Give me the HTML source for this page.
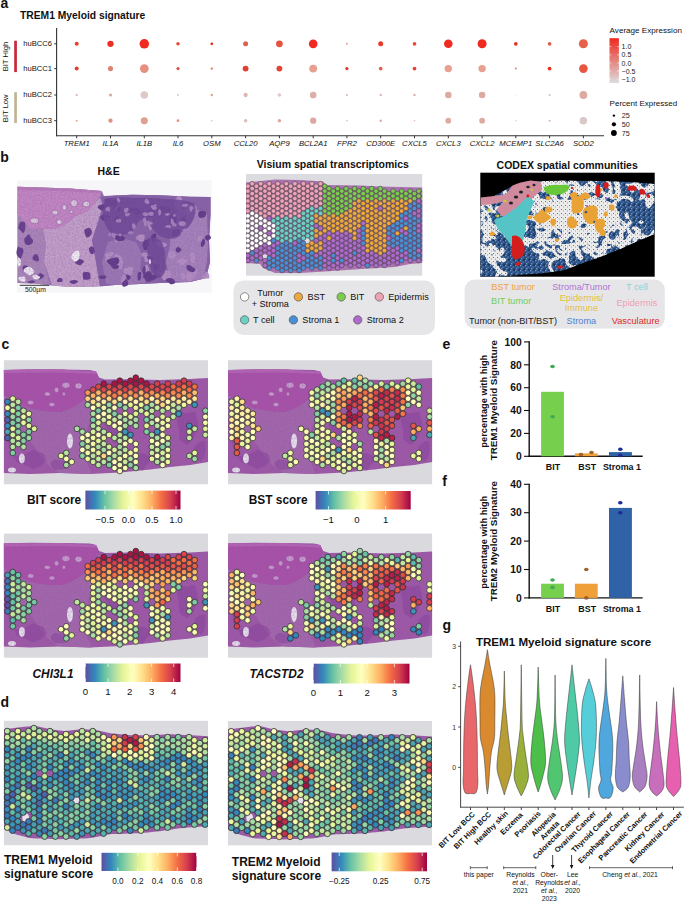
<!DOCTYPE html>
<html><head><meta charset="utf-8"><style>
html,body{margin:0;padding:0;background:#fff;}
svg{display:block;font-family:"Liberation Sans", sans-serif;}
</style></head><body>
<svg width="685" height="903" viewBox="0 0 685 903">
<defs><linearGradient id="avgexp" x1="0" y1="0" x2="0" y2="1"><stop offset="0" stop-color="#ee2a20"/><stop offset="1" stop-color="#dcdcdc"/></linearGradient><filter id="tex" x="0" y="0" width="1" height="1"><feTurbulence type="fractalNoise" baseFrequency="0.55" numOctaves="2" seed="4" result="n"/><feColorMatrix in="n" type="matrix" values="0 0 0 0 0.25  0 0 0 0 0.1  0 0 0 0 0.35  0 0 0 -1.6 1.05" result="c"/><feComposite in="c" in2="SourceGraphic" operator="in"/></filter><clipPath id="hetclip"><polygon points="17.6,186.8 40,187.5 70,188.5 101.6,191.1 104,196 115,195.5 132,194.8 160,195.2 190,196.8 210.5,197 210.5,215 209,240 210,262 206,278 190,282 160,283 135,284.3 115,285 95,286.5 70,287 52,285.5 35,283.5 17.6,283"/></clipPath><clipPath id="visclip"><rect x="246" y="174" width="176.2" height="101.7"/></clipPath><clipPath id="cdxclip"><rect x="480.3" y="172.7" width="174.4" height="104.0"/></clipPath><pattern id="bspk" width="5" height="5" patternUnits="userSpaceOnUse"><rect width="5" height="5" fill="#2c4f7f"/><rect x="0" y="0" width="1.3" height="1.3" fill="#6d9fde"/><rect x="2.5" y="1.5" width="1.2" height="1.2" fill="#5a8ccc"/><rect x="1" y="3.2" width="1.3" height="1.1" fill="#7aaae6"/><rect x="3.6" y="3.8" width="1" height="1" fill="#0c1830"/><rect x="3.5" y="0" width="1" height="1" fill="#12223e"/></pattern><pattern id="wspk" width="4" height="4" patternUnits="userSpaceOnUse"><rect width="4" height="4" fill="#ececec"/><rect x="1" y="1" width="0.9" height="0.9" fill="#555"/><rect x="3" y="2.6" width="0.8" height="0.8" fill="#777"/></pattern><clipPath id="tisc"><polygon points="480.3,206 490,198 500,193 512,186 525,182 545,181 570,180.8 600,181 630,182 654.7,184 654.7,234 640,240 620,249 600,257 580,264 565,270 545,273 520,275 500,276.7 480.3,276.7"/></clipPath><clipPath id="ctisclip"><polygon points="3.9,370 30,369.3 60,369.5 90,370 96,371.5 99,377.5 105,379.5 130,379.2 160,380 190,379 208,378 208,462 190,465 170,467 150,469.5 120,472.5 90,474 60,473 30,474 3.9,473"/></clipPath><g id="ctis"><rect x="3.9" y="360.2" width="204.1" height="124.1" fill="#dadade"/><polygon points="3.9,370 30,369.3 60,369.5 90,370 96,371.5 99,377.5 105,379.5 130,379.2 160,380 190,379 208,378 208,462 190,465 170,467 150,469.5 120,472.5 90,474 60,473 30,474 3.9,473" fill="#9d58a6"/><path d="M3.9,395 Q15,402 30.7,408.6 Q45,412 61,411.7 Q75,408 85.8,398 Q92,390 99,380 L104,392 Q96,405 90,420 Q84,440 86,460 Q90,470 92,474 L60,473 Q48,468 40,455 Q30,440 20,430 Q10,420 3.9,418 Z" fill="#a266ab"/><path d="M3.9,370 L60,369.5 L96,371.5 L99,378 Q92,392 85.8,398 Q75,408 61,411.7 Q45,412 30.7,408.6 Q15,402 3.9,395 Z" fill="#a851a8"/><path d="M3.9,370 L60,369.5 L96,371.5 L97.5,374 L60,372.5 L3.9,373 Z" fill="#b464b4"/><ellipse cx="30.7" cy="402.5" rx="3.2" ry="2.2" fill="#c89dcd" stroke="#984c9d" stroke-width="0.6"/><ellipse cx="47.3" cy="393.9" rx="3.0" ry="2.0" fill="#c89dcd" stroke="#984c9d" stroke-width="0.6"/><ellipse cx="51.9" cy="404.5" rx="3.0" ry="2.0" fill="#c89dcd" stroke="#984c9d" stroke-width="0.6"/><ellipse cx="56.6" cy="389.9" rx="2.3" ry="2.6" fill="#c89dcd" stroke="#984c9d" stroke-width="0.6"/><ellipse cx="63.9" cy="393.9" rx="1.7" ry="2.0" fill="#c89dcd" stroke="#984c9d" stroke-width="0.6"/><ellipse cx="65.9" cy="385.2" rx="4.0" ry="3.0" fill="#c89dcd" stroke="#984c9d" stroke-width="0.6"/><ellipse cx="78.5" cy="385.9" rx="3.6" ry="3.0" fill="#c89dcd" stroke="#984c9d" stroke-width="0.6"/><polygon points="130.7,430.0 132.1,440.2 122.7,445.1 113.1,441.9 109.5,433.8 104.1,424.2 111.5,415.3 122.5,416.1 130.8,421.0" fill="#86449a" opacity="0.55"/><polygon points="168.2,440.0 165.0,445.9 161.6,452.5 154.7,452.8 153.4,443.3 148.7,434.2 155.9,430.1 161.4,428.8 165.2,433.9" fill="#86449a" opacity="0.55"/><polygon points="198.5,425.0 193.9,437.0 187.2,444.9 179.6,440.0 178.7,428.7 176.7,420.2 180.0,411.2 186.3,413.5 195.1,411.5" fill="#86449a" opacity="0.55"/><polygon points="112.7,455.0 108.1,458.9 103.0,464.6 94.8,460.1 82.9,458.6 87.3,452.4 92.7,447.8 102.2,448.0 110.6,449.9" fill="#86449a" opacity="0.55"/><polygon points="149.4,462.0 146.2,465.0 142.6,470.7 135.1,466.9 126.5,464.9 131.0,460.1 132.0,453.9 142.7,453.2 150.8,456.7" fill="#86449a" opacity="0.55"/><polygon points="46.6,460.0 41.3,465.4 32.8,469.1 24.8,465.1 17.1,462.7 13.8,456.6 24.5,454.5 33.2,449.8 43.6,453.5" fill="#86449a" opacity="0.55"/><polygon points="205.6,450.0 204.2,457.0 201.0,461.4 197.2,459.6 192.4,455.5 194.8,446.2 198.0,443.0 200.7,441.5 205.3,441.1" fill="#86449a" opacity="0.55"/><polygon points="190.3,400.0 172.9,406.4 155.2,409.8 134.5,409.0 116.9,404.0 127.3,397.2 133.9,390.7 155.4,389.8 175.0,393.0" fill="#86449a" opacity="0.55"/><polygon points="21.2,440.0 19.7,444.9 16.2,448.8 9.8,451.2 8.3,443.1 7.0,436.3 11.5,432.5 16.0,432.9 19.3,435.5" fill="#86449a" opacity="0.55"/><polygon points="69.8,465.0 67.3,468.8 61.3,469.5 55.5,469.9 51.6,466.9 50.4,462.8 54.7,459.3 61.3,460.4 68.2,460.7" fill="#86449a" opacity="0.55"/><ellipse cx="21.9" cy="458.5" rx="3" ry="5" fill="#e6e0ea"/><ellipse cx="70" cy="441" rx="3" ry="7.5" fill="#e6e0ea"/><ellipse cx="12" cy="470" rx="4" ry="2.5" fill="#e6e0ea"/><rect x="3.9" y="369" width="204.1" height="106" fill="#000" filter="url(#tex)" opacity="0.4" clip-path="url(#ctisclip)"/></g><linearGradient id="g1" x1="0" y1="0" x2="1" y2="0"><stop offset="0.0" stop-color="#5e4fa2"/><stop offset="0.1" stop-color="#3288bd"/><stop offset="0.2" stop-color="#66c2a5"/><stop offset="0.3" stop-color="#abdda4"/><stop offset="0.4" stop-color="#e6f598"/><stop offset="0.5" stop-color="#ffffbf"/><stop offset="0.6" stop-color="#fee08b"/><stop offset="0.7" stop-color="#fdae61"/><stop offset="0.8" stop-color="#f46d43"/><stop offset="0.9" stop-color="#d53e4f"/><stop offset="1.0" stop-color="#9e0142"/></linearGradient><linearGradient id="g2" x1="0" y1="0" x2="1" y2="0"><stop offset="0.0" stop-color="#5e4fa2"/><stop offset="0.1" stop-color="#3288bd"/><stop offset="0.2" stop-color="#66c2a5"/><stop offset="0.3" stop-color="#abdda4"/><stop offset="0.4" stop-color="#e6f598"/><stop offset="0.5" stop-color="#ffffbf"/><stop offset="0.6" stop-color="#fee08b"/><stop offset="0.7" stop-color="#fdae61"/><stop offset="0.8" stop-color="#f46d43"/><stop offset="0.9" stop-color="#d53e4f"/><stop offset="1.0" stop-color="#9e0142"/></linearGradient><linearGradient id="g3" x1="0" y1="0" x2="1" y2="0"><stop offset="0.0" stop-color="#5e4fa2"/><stop offset="0.1" stop-color="#3288bd"/><stop offset="0.2" stop-color="#66c2a5"/><stop offset="0.3" stop-color="#abdda4"/><stop offset="0.4" stop-color="#e6f598"/><stop offset="0.5" stop-color="#ffffbf"/><stop offset="0.6" stop-color="#fee08b"/><stop offset="0.7" stop-color="#fdae61"/><stop offset="0.8" stop-color="#f46d43"/><stop offset="0.9" stop-color="#d53e4f"/><stop offset="1.0" stop-color="#9e0142"/></linearGradient><linearGradient id="g4" x1="0" y1="0" x2="1" y2="0"><stop offset="0.0" stop-color="#5e4fa2"/><stop offset="0.1" stop-color="#3288bd"/><stop offset="0.2" stop-color="#66c2a5"/><stop offset="0.3" stop-color="#abdda4"/><stop offset="0.4" stop-color="#e6f598"/><stop offset="0.5" stop-color="#ffffbf"/><stop offset="0.6" stop-color="#fee08b"/><stop offset="0.7" stop-color="#fdae61"/><stop offset="0.8" stop-color="#f46d43"/><stop offset="0.9" stop-color="#d53e4f"/><stop offset="1.0" stop-color="#9e0142"/></linearGradient><g id="dtis"><rect x="3.9" y="720.8" width="204.1" height="124.4" fill="#dbdbdf"/><polygon points="4.0,729.2 8.0,728.7 12.0,728.2 16.0,727.7 20.0,727.2 24.0,726.8 28.0,726.4 32.0,726.0 36.0,725.9 40.0,726.9 44.0,727.8 48.0,728.7 52.0,729.5 56.0,730.0 60.0,730.5 64.0,731.1 68.0,730.8 72.0,730.3 76.0,729.7 80.0,729.2 84.0,729.3 88.0,729.5 92.0,729.6 96.0,729.9 100.0,730.9 104.0,731.8 108.0,732.7 112.0,733.4 116.0,733.8 120.0,734.2 124.0,734.6 128.0,735.0 132.0,735.2 136.0,735.2 140.0,735.2 144.0,735.2 148.0,735.2 152.0,735.1 156.0,734.9 160.0,734.7 164.0,734.5 168.0,734.3 172.0,734.3 176.0,734.5 180.0,734.7 184.0,734.9 188.0,735.1 192.0,735.3 196.0,735.5 200.0,735.8 204.0,736.0 208.0,736.2 208.0,826.2 204.0,826.5 200.0,826.8 196.0,827.1 192.0,827.3 188.0,827.6 184.0,827.9 180.0,828.2 176.0,828.8 172.0,829.4 168.0,830.0 164.0,830.6 160.0,831.2 156.0,831.6 152.0,832.0 148.0,832.4 144.0,832.8 140.0,833.2 136.0,833.3 132.0,833.5 128.0,833.6 124.0,833.7 120.0,833.9 116.0,834.0 112.0,834.1 108.0,834.6 104.0,835.4 100.0,836.2 96.0,837.0 92.0,837.8 88.0,838.3 84.0,838.4 80.0,838.5 76.0,838.7 72.0,838.8 68.0,838.9 64.0,839.1 60.0,839.2 56.0,839.1 52.0,838.9 48.0,838.8 44.0,838.7 40.0,838.5 36.0,838.4 32.0,838.3 28.0,837.7 24.0,836.6 20.0,835.5 16.0,834.5 12.0,832.6 8.0,830.4 4.0,828.3" fill="#9a5aa6"/><ellipse cx="75.5" cy="800" rx="3.6" ry="4.8" fill="#e6e2ea"/><ellipse cx="25.7" cy="818" rx="3.4" ry="4.6" fill="#e6e2ea"/></g><linearGradient id="g5" x1="0" y1="0" x2="1" y2="0"><stop offset="0.0" stop-color="#5e4fa2"/><stop offset="0.1" stop-color="#3288bd"/><stop offset="0.2" stop-color="#66c2a5"/><stop offset="0.3" stop-color="#abdda4"/><stop offset="0.4" stop-color="#e6f598"/><stop offset="0.5" stop-color="#ffffbf"/><stop offset="0.6" stop-color="#fee08b"/><stop offset="0.7" stop-color="#fdae61"/><stop offset="0.8" stop-color="#f46d43"/><stop offset="0.9" stop-color="#d53e4f"/><stop offset="1.0" stop-color="#9e0142"/></linearGradient><linearGradient id="g6" x1="0" y1="0" x2="1" y2="0"><stop offset="0.0" stop-color="#5e4fa2"/><stop offset="0.1" stop-color="#3288bd"/><stop offset="0.2" stop-color="#66c2a5"/><stop offset="0.3" stop-color="#abdda4"/><stop offset="0.4" stop-color="#e6f598"/><stop offset="0.5" stop-color="#ffffbf"/><stop offset="0.6" stop-color="#fee08b"/><stop offset="0.7" stop-color="#fdae61"/><stop offset="0.8" stop-color="#f46d43"/><stop offset="0.9" stop-color="#d53e4f"/><stop offset="1.0" stop-color="#9e0142"/></linearGradient></defs>
<text x="0.6" y="8.2" font-size="14" font-weight="bold" fill="#111">a</text>
<text x="20.0" y="19.0" font-size="10.3" font-weight="bold" fill="#111">TREM1 Myeloid signature</text>
<circle cx="76.7" cy="43.8" r="2.00" fill="#e8402f"/>
<circle cx="110.5" cy="43.8" r="3.15" fill="#ec2f25"/>
<circle cx="144.3" cy="43.8" r="4.75" fill="#f02a20"/>
<circle cx="178.0" cy="43.8" r="1.75" fill="#e84a35"/>
<circle cx="211.8" cy="43.8" r="1.40" fill="#e03020"/>
<circle cx="245.6" cy="43.8" r="2.50" fill="#e06050"/>
<circle cx="279.4" cy="43.8" r="3.35" fill="#e85040"/>
<circle cx="313.2" cy="43.8" r="4.35" fill="#ef2a22"/>
<circle cx="346.9" cy="43.8" r="1.00" fill="#e8a090"/>
<circle cx="380.7" cy="43.8" r="2.50" fill="#e83a2a"/>
<circle cx="414.5" cy="43.8" r="1.85" fill="#e84a35"/>
<circle cx="448.3" cy="43.8" r="4.30" fill="#f02a20"/>
<circle cx="482.1" cy="43.8" r="4.50" fill="#ee2a20"/>
<circle cx="515.8" cy="43.8" r="1.85" fill="#e83020"/>
<circle cx="549.6" cy="43.8" r="1.85" fill="#e06050"/>
<circle cx="583.4" cy="43.8" r="4.50" fill="#e86048"/>
<circle cx="76.7" cy="68.6" r="2.00" fill="#e04030"/>
<circle cx="110.5" cy="68.6" r="2.55" fill="#e08070"/>
<circle cx="144.3" cy="68.6" r="4.35" fill="#e89080"/>
<circle cx="178.0" cy="68.6" r="1.60" fill="#e05040"/>
<circle cx="211.8" cy="68.6" r="1.20" fill="#e08070"/>
<circle cx="245.6" cy="68.6" r="2.95" fill="#e04030"/>
<circle cx="279.4" cy="68.6" r="2.95" fill="#e04530"/>
<circle cx="313.2" cy="68.6" r="3.95" fill="#e8a090"/>
<circle cx="346.9" cy="68.6" r="1.60" fill="#e83020"/>
<circle cx="380.7" cy="68.6" r="1.85" fill="#e06050"/>
<circle cx="414.5" cy="68.6" r="1.85" fill="#e84030"/>
<circle cx="448.3" cy="68.6" r="3.70" fill="#e8a090"/>
<circle cx="482.1" cy="68.6" r="3.70" fill="#e8a090"/>
<circle cx="515.8" cy="68.6" r="1.00" fill="#e08070"/>
<circle cx="549.6" cy="68.6" r="1.85" fill="#e83020"/>
<circle cx="583.4" cy="68.6" r="4.30" fill="#e85540"/>
<circle cx="76.7" cy="95.0" r="1.20" fill="#dcc0bc"/>
<circle cx="110.5" cy="95.0" r="1.60" fill="#dca8a0"/>
<circle cx="144.3" cy="95.0" r="3.75" fill="#dccac6"/>
<circle cx="178.0" cy="95.0" r="1.00" fill="#d8c8c4"/>
<circle cx="211.8" cy="95.0" r="1.20" fill="#e0a090"/>
<circle cx="245.6" cy="95.0" r="2.15" fill="#dcb8b0"/>
<circle cx="279.4" cy="95.0" r="1.75" fill="#dcc8c4"/>
<circle cx="313.2" cy="95.0" r="3.35" fill="#dcb0a8"/>
<circle cx="346.9" cy="95.0" r="1.00" fill="#dcb8b0"/>
<circle cx="380.7" cy="95.0" r="1.20" fill="#dcb8b0"/>
<circle cx="414.5" cy="95.0" r="1.20" fill="#dcb0a8"/>
<circle cx="448.3" cy="95.0" r="3.25" fill="#dcaaa0"/>
<circle cx="482.1" cy="95.0" r="3.25" fill="#dcaaa0"/>
<circle cx="515.8" cy="95.0" r="0.50" fill="#dddddd"/>
<circle cx="549.6" cy="95.0" r="1.00" fill="#dcb8b0"/>
<circle cx="583.4" cy="95.0" r="3.90" fill="#dcaaa0"/>
<circle cx="76.7" cy="120.7" r="1.00" fill="#e0a898"/>
<circle cx="110.5" cy="120.7" r="2.15" fill="#e09080"/>
<circle cx="144.3" cy="120.7" r="3.55" fill="#e0a090"/>
<circle cx="178.0" cy="120.7" r="1.40" fill="#e09585"/>
<circle cx="211.8" cy="120.7" r="0.80" fill="#e0b8b0"/>
<circle cx="245.6" cy="120.7" r="1.75" fill="#dcbcb4"/>
<circle cx="279.4" cy="120.7" r="1.75" fill="#dca8a0"/>
<circle cx="313.2" cy="120.7" r="3.15" fill="#dca8a0"/>
<circle cx="346.9" cy="120.7" r="0.80" fill="#dcb0a8"/>
<circle cx="380.7" cy="120.7" r="1.20" fill="#dcaaa0"/>
<circle cx="414.5" cy="120.7" r="0.80" fill="#dcb8b0"/>
<circle cx="448.3" cy="120.7" r="2.85" fill="#dcaaa0"/>
<circle cx="482.1" cy="120.7" r="2.85" fill="#dcaaa0"/>
<circle cx="515.8" cy="120.7" r="0.60" fill="#dcb8b0"/>
<circle cx="549.6" cy="120.7" r="1.00" fill="#dcb0a8"/>
<circle cx="583.4" cy="120.7" r="3.70" fill="#d8c8c8"/>
<line x1="56.6" y1="28.0" x2="56.6" y2="136.2" stroke="#333" stroke-width="1.1"/>
<line x1="56.1" y1="135.7" x2="604.0" y2="135.7" stroke="#333" stroke-width="1.1"/>
<line x1="54.2" y1="43.8" x2="56.6" y2="43.8" stroke="#222" stroke-width="0.9"/>
<line x1="54.2" y1="68.6" x2="56.6" y2="68.6" stroke="#222" stroke-width="0.9"/>
<line x1="54.2" y1="95.0" x2="56.6" y2="95.0" stroke="#222" stroke-width="0.9"/>
<line x1="54.2" y1="120.7" x2="56.6" y2="120.7" stroke="#222" stroke-width="0.9"/>
<line x1="76.7" y1="135.7" x2="76.7" y2="138.3" stroke="#222" stroke-width="0.9"/>
<line x1="110.5" y1="135.7" x2="110.5" y2="138.3" stroke="#222" stroke-width="0.9"/>
<line x1="144.3" y1="135.7" x2="144.3" y2="138.3" stroke="#222" stroke-width="0.9"/>
<line x1="178.0" y1="135.7" x2="178.0" y2="138.3" stroke="#222" stroke-width="0.9"/>
<line x1="211.8" y1="135.7" x2="211.8" y2="138.3" stroke="#222" stroke-width="0.9"/>
<line x1="245.6" y1="135.7" x2="245.6" y2="138.3" stroke="#222" stroke-width="0.9"/>
<line x1="279.4" y1="135.7" x2="279.4" y2="138.3" stroke="#222" stroke-width="0.9"/>
<line x1="313.2" y1="135.7" x2="313.2" y2="138.3" stroke="#222" stroke-width="0.9"/>
<line x1="346.9" y1="135.7" x2="346.9" y2="138.3" stroke="#222" stroke-width="0.9"/>
<line x1="380.7" y1="135.7" x2="380.7" y2="138.3" stroke="#222" stroke-width="0.9"/>
<line x1="414.5" y1="135.7" x2="414.5" y2="138.3" stroke="#222" stroke-width="0.9"/>
<line x1="448.3" y1="135.7" x2="448.3" y2="138.3" stroke="#222" stroke-width="0.9"/>
<line x1="482.1" y1="135.7" x2="482.1" y2="138.3" stroke="#222" stroke-width="0.9"/>
<line x1="515.8" y1="135.7" x2="515.8" y2="138.3" stroke="#222" stroke-width="0.9"/>
<line x1="549.6" y1="135.7" x2="549.6" y2="138.3" stroke="#222" stroke-width="0.9"/>
<line x1="583.4" y1="135.7" x2="583.4" y2="138.3" stroke="#222" stroke-width="0.9"/>
<text x="51.9" y="45.7" font-size="7.6" text-anchor="end" fill="#111">huBCC6</text>
<text x="51.9" y="70.5" font-size="7.6" text-anchor="end" fill="#111">huBCC1</text>
<text x="51.9" y="96.9" font-size="7.6" text-anchor="end" fill="#111">huBCC2</text>
<text x="51.9" y="122.6" font-size="7.6" text-anchor="end" fill="#111">huBCC3</text>
<text x="76.7" y="145.8" font-size="7.7" font-style="italic" text-anchor="middle" fill="#111">TREM1</text>
<text x="110.5" y="145.8" font-size="7.7" font-style="italic" text-anchor="middle" fill="#111">IL1A</text>
<text x="144.3" y="145.8" font-size="7.7" font-style="italic" text-anchor="middle" fill="#111">IL1B</text>
<text x="178.0" y="145.8" font-size="7.7" font-style="italic" text-anchor="middle" fill="#111">IL6</text>
<text x="211.8" y="145.8" font-size="7.7" font-style="italic" text-anchor="middle" fill="#111">OSM</text>
<text x="245.6" y="145.8" font-size="7.7" font-style="italic" text-anchor="middle" fill="#111">CCL20</text>
<text x="279.4" y="145.8" font-size="7.7" font-style="italic" text-anchor="middle" fill="#111">AQP9</text>
<text x="313.2" y="145.8" font-size="7.7" font-style="italic" text-anchor="middle" fill="#111">BCL2A1</text>
<text x="346.9" y="145.8" font-size="7.7" font-style="italic" text-anchor="middle" fill="#111">FPR2</text>
<text x="380.7" y="145.8" font-size="7.7" font-style="italic" text-anchor="middle" fill="#111">CD300E</text>
<text x="414.5" y="145.8" font-size="7.7" font-style="italic" text-anchor="middle" fill="#111">CXCL5</text>
<text x="448.3" y="145.8" font-size="7.7" font-style="italic" text-anchor="middle" fill="#111">CXCL3</text>
<text x="482.1" y="145.8" font-size="7.7" font-style="italic" text-anchor="middle" fill="#111">CXCL2</text>
<text x="515.8" y="145.8" font-size="7.7" font-style="italic" text-anchor="middle" fill="#111">MCEMP1</text>
<text x="549.6" y="145.8" font-size="7.7" font-style="italic" text-anchor="middle" fill="#111">SLC2A6</text>
<text x="583.4" y="145.8" font-size="7.7" font-style="italic" text-anchor="middle" fill="#111">SOD2</text>
<rect x="14.2" y="40.7" width="2.7" height="31.4" fill="#c8283a"/>
<rect x="14.2" y="92.2" width="2.7" height="30.8" fill="#bdb596"/>
<text x="0.0" y="0.0" font-size="7.6" text-anchor="middle" fill="#111" transform="translate(8.2,56.6) rotate(-90)">BIT High</text>
<text x="0.0" y="0.0" font-size="7.6" text-anchor="middle" fill="#111" transform="translate(8.2,108.3) rotate(-90)">BIT Low</text>
<text x="609.6" y="33.4" font-size="8.1" fill="#111">Average Expression</text>
<rect x="609.5" y="38.2" width="9.4" height="44.8" fill="url(#avgexp)"/>
<text x="621.6" y="49.1" font-size="7.0" fill="#222">1.0</text>
<line x1="609.5" y1="46.6" x2="611.3" y2="46.6" stroke="#fff" stroke-width="0.6"/>
<line x1="617.1" y1="46.6" x2="618.9" y2="46.6" stroke="#fff" stroke-width="0.6"/>
<text x="621.6" y="57.3" font-size="7.0" fill="#222">0.5</text>
<line x1="609.5" y1="54.8" x2="611.3" y2="54.8" stroke="#fff" stroke-width="0.6"/>
<line x1="617.1" y1="54.8" x2="618.9" y2="54.8" stroke="#fff" stroke-width="0.6"/>
<text x="621.6" y="65.5" font-size="7.0" fill="#222">0.0</text>
<line x1="609.5" y1="63.0" x2="611.3" y2="63.0" stroke="#fff" stroke-width="0.6"/>
<line x1="617.1" y1="63.0" x2="618.9" y2="63.0" stroke="#fff" stroke-width="0.6"/>
<text x="621.6" y="73.5" font-size="7.0" fill="#222">−0.5</text>
<line x1="609.5" y1="71.0" x2="611.3" y2="71.0" stroke="#fff" stroke-width="0.6"/>
<line x1="617.1" y1="71.0" x2="618.9" y2="71.0" stroke="#fff" stroke-width="0.6"/>
<text x="621.6" y="81.5" font-size="7.0" fill="#222">−1.0</text>
<line x1="609.5" y1="79.0" x2="611.3" y2="79.0" stroke="#fff" stroke-width="0.6"/>
<line x1="617.1" y1="79.0" x2="618.9" y2="79.0" stroke="#fff" stroke-width="0.6"/>
<text x="609.6" y="105.9" font-size="8.0" fill="#111">Percent Expressed</text>
<circle cx="613.9" cy="115.6" r="1.20" fill="#000"/>
<text x="621.8" y="118.2" font-size="7.2" fill="#222">25</text>
<circle cx="613.9" cy="124.3" r="2.10" fill="#000"/>
<text x="621.8" y="126.9" font-size="7.2" fill="#222">50</text>
<circle cx="613.9" cy="133.0" r="2.90" fill="#000"/>
<text x="621.8" y="135.6" font-size="7.2" fill="#222">75</text>
<text x="0.2" y="161.9" font-size="14" font-weight="bold" fill="#111">b</text>
<text x="108.6" y="174.7" font-size="10.5" font-weight="bold" text-anchor="middle" fill="#111">H&amp;E</text>
<text x="332.8" y="168.4" font-size="10.5" font-weight="bold" text-anchor="middle" fill="#111">Visium spatial transcriptomics</text>
<text x="567.2" y="169.1" font-size="10.5" font-weight="bold" text-anchor="middle" fill="#111">CODEX spatial communities</text>
<rect x="17.0" y="180.4" width="194.6" height="112.1" fill="#f6f5f8"/>
<polygon points="17.6,186.8 40.0,187.5 70.0,188.5 101.6,191.1 104.0,196.0 115.0,195.5 132.0,194.8 160.0,195.2 190.0,196.8 210.5,197.0 210.5,215.0 209.0,240.0 210.0,262.0 206.0,278.0 190.0,282.0 160.0,283.0 135.0,284.3 115.0,285.0 95.0,286.5 70.0,287.0 52.0,285.5 35.0,283.5 17.6,283.0" fill="#9370ad"/>
<polygon points="17.6,214.5 31.5,223.3 43.2,228.4 46.0,245.0 44.0,262.0 50.0,285.5 35.0,283.5 17.6,283.0" fill="#a886b8"/>
<polygon points="43.2,228.4 54.9,229.1 65.1,224.7 75.3,216.0 87.0,211.6 95.8,201.4 101.0,197.0 103.0,206.0 98.0,222.0 92.0,240.0 96.0,262.0 100.0,286.5 70.0,287.0 52.0,285.5 44.0,262.0 46.0,245.0" fill="#c2a0c9"/>
<polygon points="100.0,197.0 115.0,195.5 132.0,194.8 160.0,195.2 190.0,196.8 210.5,197.0 210.5,215.0 209.0,240.0 210.0,262.0 206.0,278.0 190.0,282.0 160.0,283.0 135.0,284.3 115.0,285.0 100.0,286.5 96.0,262.0 92.0,240.0 98.0,222.0 103.0,206.0" fill="#8663a6"/>
<polygon points="174.0,214.0 186.0,208.0 198.0,210.0 207.0,214.0 208.0,240.0 207.0,262.0 203.0,279.0 185.0,282.0 170.0,281.0 166.0,262.0 170.0,245.0 170.0,228.0" fill="#a482ba"/>
<polygon points="108.0,242.0 122.0,238.0 136.0,242.0 142.0,254.0 140.0,268.0 146.0,283.0 120.0,285.0 106.0,284.0 102.0,262.0" fill="#9a78b3"/>
<path d="M202.7,236.9 Q202.6,238.3 202.6,239.7 Q202.6,241.0 201.3,240.9 Q199.9,240.7 198.3,241.2 Q196.7,241.6 197.3,240.0 Q197.9,238.3 198.1,237.5 Q198.3,236.6 199.1,236.4 Q199.9,236.2 201.4,235.8 Q202.8,235.4 202.7,236.9 Z" fill="#b38fc3"/>
<path d="M144.8,236.8 Q144.3,238.7 144.2,240.0 Q144.0,241.3 142.4,241.6 Q140.9,241.9 139.8,241.2 Q138.7,240.5 136.7,239.6 Q134.7,238.7 135.9,237.1 Q137.0,235.5 138.9,234.8 Q140.9,234.2 143.1,234.6 Q145.3,235.0 144.8,236.8 Z" fill="#b38fc3"/>
<path d="M147.7,253.8 Q148.4,254.9 147.5,255.7 Q146.5,256.6 145.7,258.3 Q144.9,260.0 144.1,258.3 Q143.3,256.6 141.9,255.7 Q140.5,254.9 141.7,253.8 Q142.9,252.7 143.9,252.5 Q144.9,252.3 145.9,252.5 Q147.0,252.6 147.7,253.8 Z" fill="#b38fc3"/>
<path d="M182.8,228.9 Q184.8,229.7 183.2,231.0 Q181.6,232.2 180.4,233.8 Q179.2,235.4 177.5,234.3 Q175.7,233.3 175.0,231.5 Q174.3,229.7 176.0,228.9 Q177.6,228.1 178.4,227.6 Q179.2,227.1 180.0,227.6 Q180.9,228.0 182.8,228.9 Z" fill="#b38fc3"/>
<path d="M196.7,207.2 Q197.5,209.7 195.4,211.0 Q193.4,212.3 192.1,212.9 Q190.9,213.5 188.6,214.0 Q186.2,214.5 185.4,212.1 Q184.6,209.7 185.2,207.2 Q185.9,204.6 188.4,204.7 Q190.9,204.7 193.4,204.7 Q195.9,204.7 196.7,207.2 Z" fill="#b38fc3"/>
<path d="M177.2,227.1 Q177.3,228.7 177.9,231.4 Q178.5,234.0 176.8,233.5 Q175.1,232.9 174.2,232.2 Q173.3,231.5 173.0,230.1 Q172.8,228.7 172.2,226.0 Q171.5,223.3 173.3,222.3 Q175.1,221.4 176.1,223.5 Q177.1,225.5 177.2,227.1 Z" fill="#b38fc3"/>
<path d="M165.2,243.1 Q167.3,243.9 166.7,245.6 Q166.1,247.3 163.3,247.2 Q160.5,247.1 159.3,246.2 Q158.1,245.4 157.2,244.6 Q156.2,243.9 157.1,243.1 Q158.1,242.4 159.3,241.9 Q160.5,241.5 161.9,241.9 Q163.2,242.3 165.2,243.1 Z" fill="#b38fc3"/>
<path d="M175.7,253.9 Q176.4,255.5 175.4,256.6 Q174.3,257.8 173.4,259.1 Q172.5,260.5 171.4,259.4 Q170.3,258.3 169.2,256.9 Q168.1,255.5 168.7,253.4 Q169.3,251.4 170.9,251.6 Q172.5,251.8 173.8,252.0 Q175.0,252.3 175.7,253.9 Z" fill="#b38fc3"/>
<path d="M152.8,222.3 Q153.5,224.3 152.7,226.3 Q152.0,228.3 151.1,229.8 Q150.2,231.2 149.5,229.5 Q148.7,227.7 147.9,226.0 Q147.0,224.3 147.3,221.4 Q147.6,218.4 148.9,217.7 Q150.2,216.9 151.1,218.6 Q152.1,220.3 152.8,222.3 Z" fill="#b38fc3"/>
<path d="M208.9,274.5 Q209.4,275.6 209.4,277.2 Q209.3,278.8 207.8,278.6 Q206.3,278.4 204.6,278.8 Q202.9,279.1 201.9,277.4 Q201.0,275.6 202.8,274.7 Q204.6,273.9 205.4,272.3 Q206.3,270.8 207.4,272.1 Q208.5,273.3 208.9,274.5 Z" fill="#b38fc3"/>
<path d="M188.8,226.5 Q189.4,227.8 188.8,229.2 Q188.3,230.6 187.4,231.1 Q186.6,231.6 185.8,231.0 Q185.0,230.4 183.9,229.1 Q182.8,227.8 184.0,226.7 Q185.2,225.5 185.9,224.8 Q186.6,224.0 187.4,224.6 Q188.1,225.2 188.8,226.5 Z" fill="#b38fc3"/>
<path d="M122.3,258.4 Q123.4,259.9 122.1,261.0 Q120.7,262.2 119.8,263.1 Q118.8,263.9 117.0,263.9 Q115.3,263.9 114.1,261.9 Q113.0,259.9 113.5,257.1 Q114.1,254.4 116.4,254.3 Q118.8,254.2 120.0,255.5 Q121.3,256.8 122.3,258.4 Z" fill="#b38fc3"/>
<path d="M170.8,273.8 Q171.0,276.6 169.9,278.6 Q168.8,280.6 166.8,280.5 Q164.8,280.4 163.5,279.8 Q162.2,279.2 161.8,277.9 Q161.4,276.6 160.9,274.4 Q160.3,272.2 162.6,271.1 Q164.8,269.9 167.8,270.4 Q170.7,270.9 170.8,273.8 Z" fill="#b38fc3"/>
<path d="M120.1,202.0 Q119.8,204.9 119.1,206.5 Q118.5,208.1 117.4,210.1 Q116.2,212.0 114.8,210.4 Q113.4,208.7 112.5,206.8 Q111.6,204.9 112.8,203.4 Q114.1,202.0 115.1,199.5 Q116.2,197.0 118.3,198.1 Q120.4,199.1 120.1,202.0 Z" fill="#b38fc3"/>
<path d="M185.1,275.0 Q185.6,276.7 184.7,278.0 Q183.8,279.2 182.9,279.3 Q182.0,279.3 181.4,278.9 Q180.8,278.5 180.5,277.6 Q180.2,276.7 180.3,275.5 Q180.3,274.3 181.2,273.1 Q182.0,271.8 183.3,272.6 Q184.5,273.3 185.1,275.0 Z" fill="#b38fc3"/>
<path d="M187.1,260.7 Q187.7,262.0 186.1,262.7 Q184.5,263.3 183.4,264.9 Q182.3,266.4 181.1,265.0 Q179.9,263.5 178.3,262.8 Q176.7,262.0 177.4,260.7 Q178.1,259.3 180.2,258.8 Q182.3,258.3 184.5,258.8 Q186.6,259.3 187.1,260.7 Z" fill="#b38fc3"/>
<path d="M113.5,253.1 Q114.2,255.1 112.1,255.9 Q109.9,256.7 108.9,258.5 Q107.9,260.4 106.9,258.5 Q105.9,256.7 105.4,255.9 Q105.0,255.1 105.5,254.3 Q106.0,253.6 106.9,253.1 Q107.9,252.6 110.3,251.9 Q112.8,251.2 113.5,253.1 Z" fill="#b38fc3"/>
<path d="M195.6,272.9 Q196.4,275.2 194.9,276.7 Q193.3,278.1 191.9,280.4 Q190.5,282.7 188.4,281.2 Q186.4,279.7 185.6,277.4 Q184.8,275.2 186.3,273.7 Q187.7,272.2 189.1,271.3 Q190.5,270.4 192.7,270.5 Q194.8,270.6 195.6,272.9 Z" fill="#b38fc3"/>
<path d="M149.0,269.1 Q149.0,270.4 149.6,272.5 Q150.2,274.6 148.4,274.5 Q146.6,274.5 144.9,274.4 Q143.1,274.4 142.4,272.4 Q141.7,270.4 143.1,269.2 Q144.5,268.1 145.5,265.7 Q146.6,263.4 147.8,265.6 Q148.9,267.7 149.0,269.1 Z" fill="#b38fc3"/>
<path d="M118.0,235.2 Q118.3,236.3 118.4,238.2 Q118.6,240.1 117.5,241.7 Q116.5,243.3 115.5,241.5 Q114.5,239.8 113.7,238.1 Q112.8,236.3 113.3,233.9 Q113.8,231.6 115.2,232.1 Q116.5,232.7 117.1,233.4 Q117.7,234.0 118.0,235.2 Z" fill="#b38fc3"/>
<path d="M110.2,259.5 Q110.8,260.8 110.2,262.0 Q109.6,263.2 108.7,263.8 Q107.8,264.4 107.0,263.5 Q106.3,262.7 105.7,261.7 Q105.1,260.8 105.2,259.2 Q105.4,257.6 106.6,256.7 Q107.8,255.9 108.7,257.1 Q109.7,258.3 110.2,259.5 Z" fill="#b38fc3"/>
<path d="M183.0,204.8 Q182.4,207.2 182.1,208.5 Q181.7,209.8 180.6,211.2 Q179.5,212.6 178.2,211.4 Q176.9,210.3 176.7,208.7 Q176.5,207.2 176.9,205.8 Q177.3,204.5 178.4,203.3 Q179.5,202.1 181.5,202.2 Q183.5,202.3 183.0,204.8 Z" fill="#b38fc3"/>
<path d="M122.7,263.7 Q122.0,266.1 122.1,267.5 Q122.2,269.0 121.2,269.2 Q120.2,269.4 119.3,269.0 Q118.4,268.7 117.0,267.4 Q115.6,266.1 117.1,264.9 Q118.5,263.7 119.3,262.0 Q120.2,260.3 121.8,260.8 Q123.4,261.4 122.7,263.7 Z" fill="#b38fc3"/>
<path d="M132.9,268.5 Q132.6,270.7 132.8,272.9 Q133.0,275.0 130.6,275.6 Q128.1,276.1 126.5,274.7 Q125.0,273.4 123.8,272.1 Q122.5,270.7 123.8,269.4 Q125.1,268.1 126.6,267.6 Q128.1,267.1 130.6,266.7 Q133.2,266.3 132.9,268.5 Z" fill="#b38fc3"/>
<path d="M182.0,198.6 Q183.0,200.9 181.5,202.4 Q179.9,204.0 178.8,205.1 Q177.7,206.2 175.7,206.3 Q173.7,206.4 174.2,203.7 Q174.7,200.9 175.3,199.6 Q175.8,198.4 176.8,197.0 Q177.7,195.7 179.3,196.0 Q181.0,196.3 182.0,198.6 Z" fill="#b38fc3"/>
<path d="M197.7,270.5 Q197.9,271.9 197.2,272.9 Q196.5,273.8 195.5,274.9 Q194.5,276.0 193.3,275.1 Q192.1,274.2 191.6,273.0 Q191.1,271.9 191.5,270.7 Q191.9,269.5 193.2,269.6 Q194.5,269.7 196.0,269.4 Q197.5,269.1 197.7,270.5 Z" fill="#b38fc3"/>
<path d="M194.9,255.4 Q195.0,257.1 195.0,259.0 Q195.0,260.9 193.9,262.3 Q192.9,263.7 191.7,262.5 Q190.5,261.4 190.5,259.2 Q190.6,257.1 190.3,254.6 Q190.0,252.1 191.4,252.4 Q192.9,252.7 193.9,253.1 Q194.9,253.6 194.9,255.4 Z" fill="#b38fc3"/>
<path d="M152.9,256.3 Q154.5,257.5 153.0,258.8 Q151.4,260.1 149.9,261.1 Q148.5,262.0 146.1,261.9 Q143.7,261.7 144.7,259.6 Q145.6,257.5 144.9,255.6 Q144.2,253.8 146.4,253.6 Q148.5,253.4 149.8,254.2 Q151.2,255.1 152.9,256.3 Z" fill="#b38fc3"/>
<path d="M126.4,277.4 Q127.2,278.9 127.0,281.4 Q126.8,283.9 125.1,283.2 Q123.5,282.5 122.0,282.9 Q120.6,283.2 121.0,281.1 Q121.5,278.9 121.6,277.6 Q121.7,276.2 122.6,275.2 Q123.5,274.1 124.5,274.9 Q125.5,275.8 126.4,277.4 Z" fill="#b38fc3"/>
<path d="M128.0,281.7 Q128.5,282.8 128.2,284.2 Q127.9,285.5 127.0,285.7 Q126.0,286.0 124.3,286.7 Q122.6,287.3 122.1,285.1 Q121.6,282.8 123.0,281.8 Q124.5,280.9 125.2,279.5 Q126.0,278.2 126.8,279.4 Q127.6,280.6 128.0,281.7 Z" fill="#5f3b88"/>
<path d="M107.1,216.7 Q108.0,217.6 106.8,218.2 Q105.6,218.8 104.8,219.4 Q103.9,220.0 103.0,219.4 Q102.2,218.9 100.6,218.2 Q98.9,217.6 100.2,216.7 Q101.5,215.8 102.7,215.0 Q103.9,214.2 105.1,215.0 Q106.2,215.8 107.1,216.7 Z" fill="#5f3b88"/>
<path d="M148.7,245.8 Q148.4,247.3 148.2,248.4 Q148.0,249.5 147.0,249.7 Q146.0,249.8 144.7,250.1 Q143.3,250.3 143.4,248.8 Q143.5,247.3 143.3,245.8 Q143.2,244.2 144.6,244.3 Q146.0,244.3 147.4,244.3 Q148.9,244.2 148.7,245.8 Z" fill="#5f3b88"/>
<path d="M112.3,200.4 Q113.9,201.7 113.0,203.7 Q112.0,205.7 110.0,205.2 Q107.9,204.8 106.8,204.3 Q105.7,203.9 105.5,202.8 Q105.2,201.7 105.2,200.4 Q105.2,199.1 106.5,198.4 Q107.9,197.8 109.3,198.5 Q110.6,199.1 112.3,200.4 Z" fill="#5f3b88"/>
<path d="M150.0,241.8 Q150.4,244.0 149.1,245.3 Q147.8,246.5 146.6,247.7 Q145.4,248.9 143.9,248.0 Q142.4,247.1 142.5,245.6 Q142.5,244.0 143.0,243.0 Q143.4,242.0 144.4,240.8 Q145.4,239.7 147.5,239.6 Q149.7,239.5 150.0,241.8 Z" fill="#5f3b88"/>
<path d="M181.1,249.0 Q181.9,249.7 181.1,250.4 Q180.3,251.1 179.5,252.1 Q178.8,253.1 177.6,252.5 Q176.4,252.0 175.9,250.9 Q175.3,249.7 176.0,248.6 Q176.7,247.6 177.7,247.1 Q178.8,246.5 179.5,247.4 Q180.2,248.3 181.1,249.0 Z" fill="#5f3b88"/>
<path d="M185.8,217.3 Q186.2,219.3 185.9,221.5 Q185.5,223.6 184.4,223.9 Q183.3,224.1 182.4,223.7 Q181.4,223.3 180.9,221.3 Q180.5,219.3 181.4,218.3 Q182.3,217.3 182.8,217.0 Q183.3,216.7 184.4,216.0 Q185.4,215.2 185.8,217.3 Z" fill="#5f3b88"/>
<path d="M145.6,269.2 Q145.3,271.1 145.6,273.0 Q145.8,274.8 144.9,275.5 Q144.0,276.1 143.5,274.6 Q143.0,273.1 142.4,272.1 Q141.9,271.1 142.3,269.9 Q142.7,268.6 143.4,267.0 Q144.0,265.5 144.9,266.3 Q145.9,267.2 145.6,269.2 Z" fill="#5f3b88"/>
<path d="M140.7,210.5 Q141.9,211.9 140.4,213.1 Q139.0,214.2 137.9,214.4 Q136.9,214.6 135.5,214.8 Q134.1,215.0 133.8,213.5 Q133.6,211.9 133.7,210.3 Q133.8,208.7 135.4,208.1 Q136.9,207.6 138.2,208.4 Q139.5,209.1 140.7,210.5 Z" fill="#5f3b88"/>
<path d="M125.1,238.1 Q125.1,239.3 124.3,239.9 Q123.6,240.6 122.5,240.9 Q121.4,241.1 120.1,241.0 Q118.8,240.8 118.3,240.0 Q117.8,239.3 118.5,238.7 Q119.3,238.1 120.3,237.3 Q121.4,236.6 123.3,236.8 Q125.2,237.0 125.1,238.1 Z" fill="#5f3b88"/>
<path d="M206.0,212.5 Q206.5,214.1 205.8,215.6 Q205.1,217.0 203.8,217.5 Q202.5,217.9 200.7,218.0 Q199.0,218.0 198.3,216.1 Q197.6,214.1 198.5,212.4 Q199.4,210.7 200.9,211.0 Q202.5,211.2 204.0,211.0 Q205.5,210.8 206.0,212.5 Z" fill="#5f3b88"/>
<path d="M130.2,276.1 Q130.9,276.7 130.5,277.8 Q130.0,278.8 129.3,279.6 Q128.6,280.4 127.7,279.7 Q126.9,279.1 126.4,277.9 Q126.0,276.7 126.3,275.3 Q126.5,273.9 127.5,274.5 Q128.6,275.0 129.0,275.2 Q129.5,275.4 130.2,276.1 Z" fill="#5f3b88"/>
<path d="M135.8,209.7 Q137.1,210.2 136.1,210.9 Q135.0,211.6 133.8,211.6 Q132.6,211.7 131.3,211.7 Q130.1,211.6 129.5,210.9 Q129.0,210.2 128.9,209.2 Q128.8,208.1 130.7,207.4 Q132.6,206.6 133.6,207.9 Q134.5,209.1 135.8,209.7 Z" fill="#5f3b88"/>
<path d="M156.2,235.6 Q156.0,238.0 155.9,239.8 Q155.9,241.7 154.9,242.1 Q154.0,242.5 153.0,242.1 Q152.1,241.6 151.3,239.8 Q150.6,238.0 151.3,236.1 Q152.0,234.2 153.0,234.0 Q154.0,233.8 155.2,233.5 Q156.5,233.2 156.2,235.6 Z" fill="#5f3b88"/>
<path d="M159.4,265.3 Q160.0,266.9 158.9,268.0 Q157.8,269.1 156.8,270.5 Q155.9,271.9 154.8,270.7 Q153.7,269.5 153.0,268.2 Q152.4,266.9 152.8,265.4 Q153.3,263.9 154.6,264.3 Q155.9,264.6 157.3,264.1 Q158.8,263.6 159.4,265.3 Z" fill="#5f3b88"/>
<path d="M169.9,207.9 Q171.5,209.3 170.5,211.0 Q169.4,212.7 167.1,212.9 Q164.9,213.1 163.3,212.4 Q161.7,211.7 160.4,210.5 Q159.0,209.3 159.5,207.4 Q160.0,205.5 162.5,205.9 Q164.9,206.2 166.6,206.4 Q168.3,206.6 169.9,207.9 Z" fill="#5f3b88"/>
<path d="M118.0,201.3 Q118.9,202.7 118.2,204.4 Q117.4,206.0 116.0,207.1 Q114.5,208.2 113.6,206.5 Q112.7,204.8 111.4,203.8 Q110.2,202.7 111.4,201.6 Q112.6,200.4 113.6,199.9 Q114.5,199.3 115.8,199.6 Q117.0,199.9 118.0,201.3 Z" fill="#5f3b88"/>
<path d="M210.7,236.7 Q211.5,238.0 210.3,238.9 Q209.2,239.8 208.4,240.4 Q207.6,241.0 206.8,240.4 Q206.0,239.8 205.2,238.9 Q204.3,238.0 204.9,236.8 Q205.5,235.6 206.6,235.3 Q207.6,234.9 208.8,235.1 Q210.0,235.4 210.7,236.7 Z" fill="#5f3b88"/>
<path d="M147.0,275.6 Q147.0,276.8 146.6,277.5 Q146.1,278.2 145.5,278.3 Q144.8,278.5 144.3,278.1 Q143.9,277.7 142.9,277.2 Q141.9,276.8 142.9,276.3 Q143.8,275.8 144.3,275.0 Q144.8,274.2 145.9,274.4 Q147.0,274.5 147.0,275.6 Z" fill="#5f3b88"/>
<path d="M152.0,274.5 Q152.4,276.2 152.3,278.2 Q152.1,280.2 150.3,281.3 Q148.5,282.4 146.6,281.3 Q144.8,280.2 144.7,278.2 Q144.5,276.2 144.8,274.4 Q145.1,272.6 146.8,271.5 Q148.5,270.5 150.0,271.6 Q151.6,272.8 152.0,274.5 Z" fill="#5f3b88"/>
<path d="M109.2,215.8 Q110.3,216.3 109.5,217.2 Q108.6,218.1 107.8,219.0 Q106.9,219.9 105.8,219.2 Q104.7,218.6 104.3,217.5 Q103.9,216.3 104.6,215.5 Q105.3,214.7 106.1,214.6 Q106.9,214.4 107.4,214.8 Q108.0,215.2 109.2,215.8 Z" fill="#5f3b88"/>
<path d="M123.2,236.2 Q124.5,237.4 123.3,238.5 Q122.0,239.7 119.9,240.5 Q117.9,241.4 116.5,240.2 Q115.0,239.0 114.5,238.2 Q113.9,237.4 114.1,236.3 Q114.4,235.3 116.1,235.2 Q117.9,235.1 119.9,235.1 Q121.8,235.1 123.2,236.2 Z" fill="#5f3b88"/>
<path d="M205.1,241.7 Q205.1,243.7 204.5,244.4 Q203.9,245.2 203.4,246.2 Q203.0,247.1 202.0,247.1 Q201.0,247.2 200.8,245.4 Q200.6,243.7 201.1,242.5 Q201.7,241.3 202.3,239.8 Q203.0,238.2 204.1,239.0 Q205.2,239.7 205.1,241.7 Z" fill="#5f3b88"/>
<path d="M108.3,216.9 Q108.9,218.1 108.4,219.4 Q107.9,220.6 106.4,220.7 Q104.8,220.7 103.2,220.7 Q101.7,220.7 101.5,219.4 Q101.4,218.1 101.9,217.1 Q102.3,216.0 103.6,215.7 Q104.8,215.4 106.3,215.6 Q107.7,215.7 108.3,216.9 Z" fill="#5f3b88"/>
<path d="M120.6,208.8 Q120.9,209.8 120.4,210.5 Q120.0,211.3 119.5,211.6 Q119.0,211.9 118.1,212.1 Q117.3,212.3 116.7,211.0 Q116.1,209.8 117.0,209.0 Q117.8,208.2 118.4,207.2 Q119.0,206.2 119.7,207.0 Q120.4,207.8 120.6,208.8 Z" fill="#5f3b88"/>
<path d="M106.3,276.4 Q106.1,277.3 105.7,278.0 Q105.4,278.6 104.3,278.9 Q103.1,279.2 101.8,279.0 Q100.5,278.8 99.2,278.1 Q97.9,277.3 99.1,276.5 Q100.3,275.7 101.7,275.6 Q103.1,275.4 104.8,275.4 Q106.5,275.5 106.3,276.4 Z" fill="#5f3b88"/>
<path d="M153.4,257.0 Q153.5,257.8 153.8,258.7 Q154.1,259.7 152.2,260.1 Q150.3,260.5 148.8,259.9 Q147.4,259.2 147.5,258.5 Q147.5,257.8 147.1,256.9 Q146.7,256.0 148.5,256.1 Q150.3,256.3 151.7,256.3 Q153.2,256.3 153.4,257.0 Z" fill="#5f3b88"/>
<path d="M118.8,258.7 Q119.9,260.5 119.0,262.5 Q118.2,264.4 115.7,265.2 Q113.1,265.9 110.7,265.1 Q108.4,264.2 107.0,262.3 Q105.6,260.5 108.2,259.6 Q110.8,258.7 111.9,258.3 Q113.1,257.9 115.4,257.4 Q117.7,256.9 118.8,258.7 Z" fill="#5f3b88"/>
<path d="M118.6,265.6 Q119.4,266.5 118.9,267.4 Q118.4,268.4 116.5,268.8 Q114.5,269.3 113.3,268.4 Q112.2,267.6 111.6,267.0 Q111.0,266.5 110.6,265.4 Q110.2,264.3 112.4,263.9 Q114.5,263.5 116.2,264.2 Q117.8,264.8 118.6,265.6 Z" fill="#5f3b88"/>
<path d="M174.2,279.9 Q174.6,280.7 175.1,282.1 Q175.6,283.5 173.1,284.1 Q170.7,284.7 169.6,283.4 Q168.5,282.0 166.9,281.4 Q165.3,280.7 166.0,279.6 Q166.7,278.5 168.7,278.1 Q170.7,277.7 172.2,278.4 Q173.8,279.0 174.2,279.9 Z" fill="#5f3b88"/>
<path d="M141.2,274.5 Q140.8,276.5 140.8,277.8 Q140.9,279.1 140.2,280.0 Q139.5,280.9 138.5,280.4 Q137.6,279.9 137.6,278.2 Q137.7,276.5 137.6,274.8 Q137.6,273.1 138.5,272.3 Q139.5,271.6 140.5,272.1 Q141.6,272.6 141.2,274.5 Z" fill="#5f3b88"/>
<path d="M157.4,275.9 Q158.3,277.3 156.6,278.2 Q155.0,279.1 153.5,280.0 Q152.0,280.8 149.7,280.4 Q147.5,280.0 148.2,278.7 Q148.8,277.3 148.1,275.9 Q147.4,274.5 149.7,274.9 Q152.0,275.3 154.3,274.9 Q156.6,274.4 157.4,275.9 Z" fill="#5f3b88"/>
<path d="M119.4,218.0 Q119.7,219.1 119.8,220.9 Q119.9,222.6 118.5,222.6 Q117.2,222.6 115.9,222.5 Q114.6,222.5 114.7,220.8 Q114.8,219.1 114.9,217.8 Q115.1,216.4 116.1,215.7 Q117.2,215.0 118.1,215.9 Q119.0,216.8 119.4,218.0 Z" fill="#5f3b88"/>
<path d="M176.6,216.7 Q177.1,218.2 177.3,220.3 Q177.4,222.4 174.8,223.1 Q172.2,223.9 170.1,222.8 Q168.0,221.6 168.4,219.9 Q168.9,218.2 168.9,216.9 Q169.0,215.6 170.6,215.1 Q172.2,214.5 174.1,214.8 Q176.0,215.2 176.6,216.7 Z" fill="#5f3b88"/>
<path d="M115.1,205.6 Q115.4,206.3 115.5,207.7 Q115.6,209.1 114.7,208.8 Q113.8,208.6 113.0,208.6 Q112.3,208.6 111.7,207.5 Q111.0,206.3 111.6,205.1 Q112.1,203.8 112.9,203.7 Q113.8,203.5 114.3,204.2 Q114.8,204.8 115.1,205.6 Z" fill="#5f3b88"/>
<path d="M194.1,268.0 Q196.2,268.9 195.1,270.8 Q193.9,272.7 192.0,272.1 Q190.1,271.6 189.2,271.2 Q188.2,270.8 187.4,269.8 Q186.5,268.9 186.3,266.9 Q186.1,264.9 188.1,265.0 Q190.1,265.1 191.1,266.1 Q192.0,267.0 194.1,268.0 Z" fill="#5f3b88"/>
<path d="M155.0,211.8 Q156.3,212.6 155.5,213.9 Q154.8,215.1 153.2,216.4 Q151.6,217.6 149.4,216.8 Q147.2,216.1 147.2,214.3 Q147.1,212.6 148.3,211.8 Q149.5,211.0 150.6,209.7 Q151.6,208.5 152.7,209.7 Q153.8,210.9 155.0,211.8 Z" fill="#5f3b88"/>
<path d="M108.4,205.3 Q109.3,206.9 108.0,208.2 Q106.6,209.4 104.8,210.3 Q103.0,211.1 101.2,210.3 Q99.4,209.4 98.2,208.2 Q97.0,206.9 98.5,205.8 Q99.9,204.8 101.5,204.5 Q103.0,204.1 105.2,204.0 Q107.5,203.8 108.4,205.3 Z" fill="#5f3b88"/>
<path d="M179.9,230.5 Q179.6,232.7 179.2,234.2 Q178.7,235.7 177.0,235.7 Q175.4,235.7 172.9,236.5 Q170.4,237.2 171.3,234.9 Q172.3,232.7 172.1,231.1 Q172.0,229.6 173.7,229.8 Q175.4,230.0 177.7,229.1 Q180.1,228.3 179.9,230.5 Z" fill="#5f3b88"/>
<path d="M104,199 Q118,196 135,198 Q150,197 165,199 Q182,199 194,203 Q198,212 192,222 Q186,232 176,238 Q168,240 160,236 Q152,230 148,222 Q144,216 138,222 Q134,232 128,234 Q118,236 110,232 Q104,226 103,214 Z" fill="#6c4695" opacity="0.85"/>
<path d="M148,238 Q156,236 162,242 Q166,252 165,262 Q168,272 160,278 Q152,276 150,266 Q146,254 148,238 Z" fill="#6c4695" opacity="0.85"/>
<path d="M176.1,224.0 Q177.0,224.5 176.6,225.6 Q176.3,226.6 175.1,226.4 Q173.8,226.2 172.7,225.9 Q171.5,225.6 172.3,224.8 Q173.1,224.0 173.4,223.3 Q173.7,222.6 174.5,223.0 Q175.3,223.4 176.1,224.0 Z" fill="#a583bb"/>
<path d="M152.2,222.6 Q153.8,223.2 152.5,224.1 Q151.2,224.9 150.1,224.9 Q149.0,224.9 147.8,224.6 Q146.7,224.3 146.3,223.1 Q146.0,221.9 147.3,221.1 Q148.6,220.3 149.6,221.2 Q150.6,222.1 152.2,222.6 Z" fill="#a583bb"/>
<path d="M128.4,208.7 Q128.8,209.7 128.3,210.4 Q127.8,211.2 126.9,212.5 Q126.1,213.9 125.0,212.7 Q123.9,211.5 124.0,209.7 Q124.1,207.9 125.3,207.9 Q126.6,207.8 127.3,207.8 Q128.1,207.7 128.4,208.7 Z" fill="#a583bb"/>
<path d="M121.3,234.3 Q121.6,234.8 121.6,235.6 Q121.6,236.5 120.8,236.3 Q120.0,236.0 119.0,235.9 Q118.0,235.9 118.5,235.0 Q119.0,234.1 119.4,233.5 Q119.8,232.8 120.4,233.3 Q121.1,233.8 121.3,234.3 Z" fill="#a583bb"/>
<path d="M133.3,232.2 Q133.9,232.9 133.0,233.4 Q132.2,233.8 131.2,234.1 Q130.3,234.3 129.2,234.0 Q128.0,233.7 127.9,232.8 Q127.7,232.0 128.9,231.4 Q130.0,230.8 131.4,231.2 Q132.8,231.5 133.3,232.2 Z" fill="#a583bb"/>
<path d="M121.1,219.9 Q121.7,221.1 120.8,222.0 Q120.0,223.0 119.1,222.6 Q118.3,222.3 117.0,222.4 Q115.7,222.5 115.7,221.1 Q115.7,219.8 116.9,219.5 Q118.1,219.2 119.3,218.9 Q120.5,218.7 121.1,219.9 Z" fill="#a583bb"/>
<path d="M115.1,234.0 Q115.8,234.9 115.5,236.7 Q115.3,238.5 114.3,238.0 Q113.3,237.5 112.6,237.0 Q111.8,236.5 111.6,234.7 Q111.4,233.0 112.4,232.9 Q113.4,232.8 113.9,233.0 Q114.5,233.1 115.1,234.0 Z" fill="#a583bb"/>
<path d="M156.5,204.4 Q156.6,205.1 156.5,205.8 Q156.4,206.4 155.6,206.5 Q154.9,206.5 154.3,206.2 Q153.7,205.8 154.0,205.3 Q154.4,204.7 154.7,204.4 Q155.0,204.1 155.7,204.0 Q156.3,203.8 156.5,204.4 Z" fill="#a583bb"/>
<path d="M119.9,199.7 Q120.7,200.5 120.1,201.6 Q119.4,202.7 118.8,202.3 Q118.2,202.0 117.8,201.7 Q117.4,201.4 117.0,200.2 Q116.7,199.1 117.3,198.1 Q118.0,197.0 118.6,198.0 Q119.2,198.9 119.9,199.7 Z" fill="#a583bb"/>
<path d="M148.8,200.7 Q149.6,201.4 149.3,202.9 Q149.0,204.3 147.8,204.0 Q146.6,203.6 145.5,203.2 Q144.3,202.9 144.5,201.5 Q144.7,200.1 145.6,199.1 Q146.4,198.2 147.2,199.0 Q148.0,199.9 148.8,200.7 Z" fill="#a583bb"/>
<path d="M147.0,222.4 Q146.9,223.6 146.9,224.5 Q146.9,225.4 146.0,226.3 Q145.1,227.1 144.4,226.0 Q143.8,224.8 143.9,223.6 Q144.0,222.4 144.6,221.3 Q145.2,220.2 146.2,220.7 Q147.2,221.2 147.0,222.4 Z" fill="#a583bb"/>
<path d="M153.7,213.0 Q154.0,214.3 153.3,215.2 Q152.6,216.1 151.5,216.0 Q150.3,216.0 149.5,215.5 Q148.7,215.1 148.2,214.0 Q147.6,213.0 148.8,212.3 Q150.1,211.6 151.7,211.7 Q153.3,211.7 153.7,213.0 Z" fill="#a583bb"/>
<path d="M148.1,213.7 Q149.0,214.6 148.1,215.5 Q147.1,216.4 146.0,216.3 Q144.8,216.2 143.9,215.8 Q143.0,215.5 142.6,214.5 Q142.2,213.5 143.4,212.7 Q144.5,211.9 145.9,212.3 Q147.2,212.8 148.1,213.7 Z" fill="#a583bb"/>
<path d="M186.8,229.3 Q186.9,230.7 186.2,231.2 Q185.6,231.7 184.9,232.4 Q184.2,233.1 183.4,232.4 Q182.6,231.7 182.4,230.5 Q182.2,229.4 183.2,229.0 Q184.3,228.7 185.5,228.4 Q186.7,228.0 186.8,229.3 Z" fill="#a583bb"/>
<path d="M173.7,220.7 Q174.2,222.0 173.8,223.5 Q173.3,224.9 172.5,224.7 Q171.6,224.4 171.2,223.7 Q170.7,223.1 170.7,222.0 Q170.7,220.9 171.0,219.2 Q171.4,217.5 172.2,218.5 Q173.1,219.5 173.7,220.7 Z" fill="#a583bb"/>
<path d="M170.5,225.6 Q170.8,226.3 171.0,227.4 Q171.3,228.6 169.7,228.1 Q168.0,227.7 166.2,227.6 Q164.4,227.6 165.2,226.5 Q166.0,225.5 167.0,225.3 Q168.1,225.1 169.1,225.0 Q170.1,225.0 170.5,225.6 Z" fill="#a583bb"/>
<path d="M175.6,214.7 Q175.6,215.4 175.6,216.1 Q175.7,216.8 174.9,216.8 Q174.2,216.8 173.4,216.5 Q172.6,216.2 173.0,215.6 Q173.4,214.9 173.8,214.5 Q174.2,214.1 174.9,214.1 Q175.7,214.0 175.6,214.7 Z" fill="#a583bb"/>
<path d="M135.6,225.4 Q136.3,226.4 135.7,227.5 Q135.1,228.5 134.3,229.2 Q133.4,229.8 132.9,228.7 Q132.4,227.5 131.9,226.0 Q131.4,224.6 132.4,223.7 Q133.4,222.8 134.2,223.6 Q135.0,224.5 135.6,225.4 Z" fill="#a583bb"/>
<path d="M185.7,222.5 Q186.7,223.8 185.5,225.0 Q184.3,226.2 183.0,226.3 Q181.6,226.3 180.2,225.8 Q178.7,225.4 178.5,223.7 Q178.2,222.1 179.9,221.5 Q181.5,220.9 183.1,221.0 Q184.6,221.1 185.7,222.5 Z" fill="#a583bb"/>
<path d="M161.0,211.5 Q161.0,212.6 160.9,213.7 Q160.8,214.7 160.0,215.3 Q159.1,216.0 158.6,214.8 Q158.1,213.7 158.1,212.6 Q158.0,211.5 158.5,210.2 Q159.1,208.8 160.0,209.6 Q160.9,210.3 161.0,211.5 Z" fill="#a583bb"/>
<path d="M156.2,206.7 Q157.3,207.3 156.8,208.6 Q156.4,209.8 154.6,210.0 Q152.9,210.2 152.3,209.1 Q151.7,208.1 150.9,207.0 Q150.0,206.0 151.5,205.4 Q153.0,204.8 154.0,205.5 Q155.1,206.1 156.2,206.7 Z" fill="#a583bb"/>
<path d="M109.8,208.2 Q109.5,209.4 109.9,210.8 Q110.3,212.1 109.0,211.5 Q107.6,210.9 106.3,210.8 Q104.9,210.8 105.2,209.6 Q105.6,208.3 106.4,207.4 Q107.3,206.4 108.7,206.7 Q110.1,206.9 109.8,208.2 Z" fill="#a583bb"/>
<path d="M169.7,213.7 Q170.0,214.4 169.5,214.8 Q168.9,215.2 168.2,215.6 Q167.5,216.0 166.2,215.7 Q164.9,215.5 165.1,214.4 Q165.3,213.4 166.5,213.3 Q167.7,213.2 168.5,213.1 Q169.4,213.1 169.7,213.7 Z" fill="#a583bb"/>
<path d="M146.0,218.5 Q146.0,219.9 146.0,221.3 Q145.9,222.7 144.7,223.0 Q143.5,223.4 143.2,222.0 Q142.9,220.6 142.8,219.8 Q142.6,218.9 143.2,218.4 Q143.8,217.8 144.9,217.5 Q145.9,217.1 146.0,218.5 Z" fill="#a583bb"/>
<path d="M185.6,232.6 Q186.5,233.5 185.9,234.7 Q185.3,235.8 183.8,235.7 Q182.4,235.6 181.3,235.1 Q180.2,234.6 180.6,233.7 Q181.1,232.8 181.7,232.1 Q182.4,231.4 183.6,231.5 Q184.7,231.7 185.6,232.6 Z" fill="#a583bb"/>
<path d="M193.6,207.3 Q193.5,208.0 193.6,208.6 Q193.6,209.2 192.5,209.5 Q191.4,209.7 190.6,209.2 Q189.8,208.7 189.3,207.8 Q188.8,206.9 190.2,206.7 Q191.5,206.4 192.6,206.5 Q193.8,206.5 193.6,207.3 Z" fill="#a583bb"/>
<path d="M187.5,204.2 Q188.7,204.9 187.8,205.7 Q186.9,206.6 185.3,206.8 Q183.8,207.0 182.4,206.5 Q181.0,205.9 182.0,205.2 Q183.0,204.4 183.6,204.1 Q184.2,203.8 185.3,203.7 Q186.4,203.6 187.5,204.2 Z" fill="#a583bb"/>
<path d="M111.5,234.1 Q112.2,234.6 111.5,235.1 Q110.8,235.6 110.1,236.4 Q109.5,237.2 109.0,236.3 Q108.6,235.4 108.4,234.6 Q108.3,233.7 108.9,232.9 Q109.5,232.1 110.1,232.9 Q110.7,233.7 111.5,234.1 Z" fill="#a583bb"/>
<path d="M129.8,213.6 Q130.1,214.5 129.5,215.1 Q128.8,215.7 127.8,216.2 Q126.7,216.7 125.9,216.0 Q125.0,215.3 124.7,214.4 Q124.5,213.4 125.8,213.4 Q127.1,213.3 128.2,213.1 Q129.4,212.8 129.8,213.6 Z" fill="#a583bb"/>
<path d="M192.2,207.8 Q192.2,209.1 192.2,210.3 Q192.1,211.5 191.3,211.7 Q190.5,211.8 190.0,210.9 Q189.6,210.0 189.5,209.0 Q189.4,208.0 189.8,206.7 Q190.3,205.4 191.3,205.9 Q192.2,206.5 192.2,207.8 Z" fill="#a583bb"/>
<path d="M25.3,224.0 Q25.3,226.0 25.3,228.1 Q25.3,230.1 24.1,232.0 Q22.9,234.0 21.7,232.0 Q20.5,230.0 19.1,229.2 Q17.6,228.4 18.4,226.4 Q19.2,224.5 19.8,223.1 Q20.3,221.7 21.4,221.7 Q22.5,221.7 23.9,221.8 Q25.2,221.9 25.3,224.0 Z" fill="#633d8c"/>
<path d="M32.1,238.9 Q33.5,240.0 33.0,241.8 Q32.4,243.7 30.7,244.5 Q28.9,245.2 27.1,244.9 Q25.3,244.6 24.8,243.0 Q24.3,241.3 24.2,240.0 Q24.1,238.6 25.1,237.7 Q26.1,236.8 27.7,235.1 Q29.2,233.4 29.9,235.6 Q30.7,237.7 32.1,238.9 Z" fill="#633d8c"/>
<path d="M23.2,249.8 Q23.7,252.0 22.9,253.8 Q22.1,255.5 21.4,257.5 Q20.7,259.4 19.6,258.2 Q18.6,257.0 17.4,255.8 Q16.3,254.7 16.5,252.1 Q16.7,249.6 17.5,247.7 Q18.2,245.8 19.3,246.9 Q20.4,248.0 21.5,247.8 Q22.6,247.7 23.2,249.8 Z" fill="#633d8c"/>
<path d="M38.5,257.1 Q38.7,258.0 39.0,259.4 Q39.3,260.8 38.0,261.2 Q36.6,261.6 35.6,261.1 Q34.5,260.6 33.4,260.0 Q32.3,259.3 32.5,258.1 Q32.7,256.8 33.4,255.7 Q34.0,254.6 35.4,254.2 Q36.8,253.7 37.5,254.9 Q38.2,256.1 38.5,257.1 Z" fill="#633d8c"/>
<path d="M28.0,266.7 Q27.9,268.0 27.6,268.9 Q27.2,269.8 26.4,270.8 Q25.7,271.8 24.4,271.6 Q23.0,271.4 22.8,270.1 Q22.6,268.9 22.5,268.0 Q22.5,267.1 23.0,266.3 Q23.5,265.5 24.5,265.5 Q25.5,265.4 26.7,265.4 Q28.0,265.5 28.0,266.7 Z" fill="#633d8c"/>
<path d="M43.7,275.2 Q45.0,276.0 43.7,276.7 Q42.4,277.5 41.6,278.6 Q40.9,279.6 39.2,279.4 Q37.5,279.2 36.4,278.3 Q35.3,277.3 35.9,276.2 Q36.5,275.0 37.6,274.7 Q38.7,274.3 39.7,273.5 Q40.8,272.6 41.6,273.6 Q42.4,274.5 43.7,275.2 Z" fill="#633d8c"/>
<path d="M35.1,281.4 Q35.6,282.0 34.4,282.4 Q33.2,282.7 32.5,283.1 Q31.7,283.5 30.6,283.2 Q29.6,282.9 28.3,282.7 Q27.0,282.5 27.5,282.1 Q27.9,281.6 28.8,281.3 Q29.6,281.1 30.7,280.6 Q31.9,280.2 33.2,280.5 Q34.6,280.9 35.1,281.4 Z" fill="#633d8c"/>
<path d="M91.5,230.3 Q92.4,232.0 91.6,233.7 Q90.7,235.4 89.7,236.5 Q88.6,237.5 87.3,237.5 Q85.9,237.4 85.4,235.5 Q85.0,233.7 84.4,231.7 Q83.8,229.7 85.2,229.0 Q86.6,228.2 87.5,227.9 Q88.5,227.5 89.6,228.1 Q90.6,228.7 91.5,230.3 Z" fill="#633d8c"/>
<path d="M94.4,249.0 Q95.0,250.0 94.7,251.4 Q94.5,252.7 93.5,253.6 Q92.6,254.5 91.5,254.1 Q90.4,253.6 89.9,252.5 Q89.3,251.3 88.9,249.8 Q88.5,248.3 89.5,247.4 Q90.5,246.5 91.5,246.3 Q92.5,246.1 93.2,247.0 Q93.8,247.9 94.4,249.0 Z" fill="#633d8c"/>
<path d="M83.8,261.1 Q84.7,262.0 83.4,262.7 Q82.1,263.3 81.5,264.5 Q80.8,265.6 79.3,265.2 Q77.8,264.9 76.3,264.1 Q74.9,263.4 75.1,262.1 Q75.3,260.7 76.7,260.1 Q78.0,259.4 79.4,259.0 Q80.8,258.7 81.8,259.4 Q82.8,260.2 83.8,261.1 Z" fill="#633d8c"/>
<path d="M90.4,274.5 Q90.3,276.0 90.6,277.7 Q91.0,279.3 88.9,279.5 Q86.8,279.7 85.0,279.8 Q83.1,280.0 83.0,278.4 Q82.9,276.9 82.8,276.0 Q82.6,275.0 82.8,273.4 Q82.9,271.7 84.9,271.7 Q87.0,271.7 88.7,272.3 Q90.5,273.0 90.4,274.5 Z" fill="#633d8c"/>
<path d="M77.9,281.3 Q78.3,282.0 77.3,282.5 Q76.3,283.0 75.5,283.5 Q74.7,284.0 73.3,283.9 Q72.0,283.8 71.0,283.2 Q70.1,282.7 69.5,281.9 Q69.0,281.1 70.5,280.7 Q72.1,280.3 73.4,280.0 Q74.8,279.8 76.1,280.2 Q77.4,280.6 77.9,281.3 Z" fill="#633d8c"/>
<path d="M62.4,279.3 Q62.2,280.0 62.6,280.9 Q63.1,281.7 61.8,281.8 Q60.5,281.9 59.3,282.1 Q58.0,282.3 57.2,281.6 Q56.4,280.9 57.0,280.1 Q57.6,279.4 58.0,278.8 Q58.4,278.1 59.5,278.0 Q60.6,277.8 61.6,278.2 Q62.6,278.5 62.4,279.3 Z" fill="#633d8c"/>
<path d="M79.6,254.1 Q79.3,257.0 78.8,258.7 Q78.2,260.3 77.1,261.0 Q76.0,261.8 74.7,261.3 Q73.4,260.8 72.1,258.9 Q70.7,257.0 72.0,255.0 Q73.3,253.0 74.7,251.7 Q76.0,250.4 77.9,250.8 Q79.8,251.3 79.6,254.1 Z" fill="#f4f0f6"/>
<path d="M33.6,270.2 Q34.4,271.0 34.1,272.1 Q33.9,273.3 31.9,274.5 Q30.0,275.8 28.1,274.5 Q26.2,273.2 24.5,272.1 Q22.7,271.0 23.8,269.5 Q24.8,268.0 27.4,267.1 Q30.0,266.2 31.4,267.7 Q32.9,269.3 33.6,270.2 Z" fill="#f1ebf3"/>
<path d="M25.2,277.7 Q25.7,279.0 25.4,280.4 Q25.1,281.9 23.1,281.8 Q21.2,281.6 20.1,280.8 Q19.1,280.1 18.4,278.8 Q17.8,277.5 19.5,277.0 Q21.3,276.6 23.0,276.5 Q24.7,276.4 25.2,277.7 Z" fill="#f1ebf3"/>
<path d="M39.4,276.2 Q40.7,277.0 39.8,278.1 Q38.9,279.3 36.9,279.5 Q35.0,279.8 33.9,278.8 Q32.9,277.9 32.5,276.9 Q32.2,275.9 33.6,275.1 Q35.1,274.4 36.6,274.9 Q38.2,275.3 39.4,276.2 Z" fill="#ece4ef"/>
<path d="M20.8,260.4 Q21.3,262.0 20.9,263.9 Q20.5,265.9 19.5,266.4 Q18.4,266.9 17.8,265.3 Q17.2,263.7 17.1,261.9 Q17.0,260.1 17.7,258.5 Q18.4,257.0 19.4,257.9 Q20.3,258.8 20.8,260.4 Z" fill="#efe8f1"/>
<path d="M150.7,260.7 Q151.0,262.0 150.7,263.2 Q150.5,264.4 150.0,264.3 Q149.6,264.1 149.2,263.1 Q148.9,262.0 149.1,260.4 Q149.4,258.9 150.0,259.1 Q150.5,259.4 150.7,260.7 Z" fill="#f4f0f6"/>
<path d="M17.6,186.8 L40,187.5 L70,188.5 L101.6,191.1 L100.5,196 Q98,199 95.8,201.4 Q91,207 87,211.6 Q82,214 75.3,216 Q70,220 65.1,224.7 Q60,228 54.9,229.1 L43.2,228.4 Q37,227 32.2,229.4 Q26,224 21.3,218 L17,213.4 Z" fill="#c287c3"/>
<path d="M17.6,186.8 L40,187.5 L70,188.5 L101.6,191.1 L101,193.5 L70,191.5 L40,190.5 L17.6,190 Z" fill="#b77cb9"/>
<ellipse cx="34.4" cy="220.7" rx="4.2" ry="2.8" fill="#dccbe0" stroke="#a476ac" stroke-width="0.9"/>
<ellipse cx="54.9" cy="212.6" rx="3.2" ry="2.5" fill="#dccbe0" stroke="#a476ac" stroke-width="0.9"/>
<ellipse cx="64.4" cy="207.5" rx="2.4" ry="2.8" fill="#dccbe0" stroke="#a476ac" stroke-width="0.9"/>
<ellipse cx="74.1" cy="203.1" rx="3.5" ry="3.6" fill="#dccbe0" stroke="#a476ac" stroke-width="0.9"/>
<ellipse cx="86.3" cy="204" rx="3.6" ry="3.0" fill="#dccbe0" stroke="#a476ac" stroke-width="0.9"/>
<ellipse cx="71.4" cy="212" rx="1.8" ry="1.8" fill="#dccbe0" stroke="#a476ac" stroke-width="0.9"/>
<ellipse cx="59.3" cy="222.1" rx="2.9" ry="2.5" fill="#dccbe0" stroke="#a476ac" stroke-width="0.9"/>
<rect x="17" y="180.4" width="194.6" height="112.1" fill="#000" filter="url(#tex)" opacity="0.45" clip-path="url(#hetclip)"/>
<line x1="19.8" y1="285.3" x2="49.0" y2="285.3" stroke="#222" stroke-width="0.9"/>
<text x="35.5" y="291.8" font-size="6.8" text-anchor="middle" fill="#222">500µm</text>
<rect x="246.0" y="174.0" width="176.2" height="101.7" fill="#dcdce0"/>
<polygon points="246.0,182.5 275.0,179.5 300.0,180.0 323.0,181.5 326.0,185.0 360.0,185.5 380.0,186.5 422.2,187.5 422.2,263.0 410.0,264.0 395.0,267.0 362.0,269.0 325.0,271.5 300.0,273.0 275.0,273.0 263.0,268.0 260.0,264.0 246.0,263.0" fill="#a873ae"/>
<ellipse cx="306.5" cy="241.5" rx="3.2" ry="3.8" fill="#e2dee6"/><ellipse cx="265" cy="257.5" rx="2.4" ry="3.2" fill="#e2dee6"/>
<g stroke="#4a3e4c" stroke-width="0.6" clip-path="url(#visclip)">
<circle cx="247.9" cy="186.2" r="2.35" fill="#eea3b5"/>
<circle cx="247.9" cy="191.1" r="2.35" fill="#eea3b5"/>
<circle cx="247.9" cy="196.1" r="2.35" fill="#eea3b5"/>
<circle cx="247.9" cy="201.0" r="2.35" fill="#eea3b5"/>
<circle cx="247.9" cy="206.0" r="2.35" fill="#eea3b5"/>
<circle cx="247.9" cy="211.0" r="2.35" fill="#eea3b5"/>
<circle cx="247.9" cy="215.9" r="2.35" fill="#ffffff"/>
<circle cx="247.9" cy="220.9" r="2.35" fill="#ffffff"/>
<circle cx="247.9" cy="225.8" r="2.35" fill="#ffffff"/>
<circle cx="247.9" cy="230.8" r="2.35" fill="#ffffff"/>
<circle cx="247.9" cy="235.8" r="2.35" fill="#ffffff"/>
<circle cx="247.9" cy="240.7" r="2.35" fill="#ffffff"/>
<circle cx="247.9" cy="245.7" r="2.35" fill="#ffffff"/>
<circle cx="247.9" cy="250.6" r="2.35" fill="#ffffff"/>
<circle cx="247.9" cy="255.6" r="2.35" fill="#ad6bcc"/>
<circle cx="247.9" cy="260.6" r="2.35" fill="#ad6bcc"/>
<circle cx="252.2" cy="183.7" r="2.35" fill="#eea3b5"/>
<circle cx="252.2" cy="188.6" r="2.35" fill="#eea3b5"/>
<circle cx="252.2" cy="193.6" r="2.35" fill="#eea3b5"/>
<circle cx="252.2" cy="198.6" r="2.35" fill="#eea3b5"/>
<circle cx="252.2" cy="203.5" r="2.35" fill="#eea3b5"/>
<circle cx="252.2" cy="208.5" r="2.35" fill="#eea3b5"/>
<circle cx="252.2" cy="213.4" r="2.35" fill="#ffffff"/>
<circle cx="252.2" cy="218.4" r="2.35" fill="#ffffff"/>
<circle cx="252.2" cy="223.4" r="2.35" fill="#ffffff"/>
<circle cx="252.2" cy="228.3" r="2.35" fill="#ffffff"/>
<circle cx="252.2" cy="233.3" r="2.35" fill="#ffffff"/>
<circle cx="252.2" cy="238.2" r="2.35" fill="#ffffff"/>
<circle cx="252.2" cy="243.2" r="2.35" fill="#ffffff"/>
<circle cx="252.2" cy="248.2" r="2.35" fill="#ffffff"/>
<circle cx="252.2" cy="253.1" r="2.35" fill="#4a8fd6"/>
<circle cx="252.2" cy="258.1" r="2.35" fill="#ad6bcc"/>
<circle cx="256.4" cy="186.2" r="2.35" fill="#eea3b5"/>
<circle cx="256.4" cy="191.1" r="2.35" fill="#eea3b5"/>
<circle cx="256.4" cy="196.1" r="2.35" fill="#eea3b5"/>
<circle cx="256.4" cy="201.0" r="2.35" fill="#eea3b5"/>
<circle cx="256.4" cy="206.0" r="2.35" fill="#eea3b5"/>
<circle cx="256.4" cy="211.0" r="2.35" fill="#eea3b5"/>
<circle cx="256.4" cy="215.9" r="2.35" fill="#ffffff"/>
<circle cx="256.4" cy="220.9" r="2.35" fill="#ffffff"/>
<circle cx="256.4" cy="225.8" r="2.35" fill="#ffffff"/>
<circle cx="256.4" cy="230.8" r="2.35" fill="#ffffff"/>
<circle cx="256.4" cy="235.8" r="2.35" fill="#ffffff"/>
<circle cx="256.4" cy="240.7" r="2.35" fill="#ffffff"/>
<circle cx="256.4" cy="245.7" r="2.35" fill="#ffffff"/>
<circle cx="256.4" cy="250.6" r="2.35" fill="#ad6bcc"/>
<circle cx="256.4" cy="255.6" r="2.35" fill="#ad6bcc"/>
<circle cx="256.4" cy="260.6" r="2.35" fill="#4a8fd6"/>
<circle cx="260.7" cy="183.7" r="2.35" fill="#eea3b5"/>
<circle cx="260.7" cy="188.6" r="2.35" fill="#eea3b5"/>
<circle cx="260.7" cy="193.6" r="2.35" fill="#eea3b5"/>
<circle cx="260.7" cy="198.6" r="2.35" fill="#eea3b5"/>
<circle cx="260.7" cy="203.5" r="2.35" fill="#eea3b5"/>
<circle cx="260.7" cy="208.5" r="2.35" fill="#eea3b5"/>
<circle cx="260.7" cy="213.4" r="2.35" fill="#eea3b5"/>
<circle cx="260.7" cy="218.4" r="2.35" fill="#ffffff"/>
<circle cx="260.7" cy="223.4" r="2.35" fill="#ffffff"/>
<circle cx="260.7" cy="228.3" r="2.35" fill="#ad6bcc"/>
<circle cx="260.7" cy="233.3" r="2.35" fill="#ffffff"/>
<circle cx="260.7" cy="238.2" r="2.35" fill="#ffffff"/>
<circle cx="260.7" cy="243.2" r="2.35" fill="#ffffff"/>
<circle cx="260.7" cy="248.2" r="2.35" fill="#ad6bcc"/>
<circle cx="260.7" cy="253.1" r="2.35" fill="#ad6bcc"/>
<circle cx="260.7" cy="258.1" r="2.35" fill="#ad6bcc"/>
<circle cx="265.0" cy="186.2" r="2.35" fill="#eea3b5"/>
<circle cx="265.0" cy="191.1" r="2.35" fill="#eea3b5"/>
<circle cx="265.0" cy="196.1" r="2.35" fill="#eea3b5"/>
<circle cx="265.0" cy="201.0" r="2.35" fill="#eea3b5"/>
<circle cx="265.0" cy="206.0" r="2.35" fill="#eea3b5"/>
<circle cx="265.0" cy="211.0" r="2.35" fill="#eea3b5"/>
<circle cx="265.0" cy="215.9" r="2.35" fill="#eea3b5"/>
<circle cx="265.0" cy="220.9" r="2.35" fill="#ffffff"/>
<circle cx="265.0" cy="225.8" r="2.35" fill="#ffffff"/>
<circle cx="265.0" cy="230.8" r="2.35" fill="#ffffff"/>
<circle cx="265.0" cy="235.8" r="2.35" fill="#ffffff"/>
<circle cx="265.0" cy="240.7" r="2.35" fill="#ffffff"/>
<circle cx="265.0" cy="245.7" r="2.35" fill="#ad6bcc"/>
<circle cx="265.0" cy="250.6" r="2.35" fill="#ad6bcc"/>
<circle cx="265.0" cy="260.6" r="2.35" fill="#ad6bcc"/>
<circle cx="265.0" cy="265.5" r="2.35" fill="#ad6bcc"/>
<circle cx="269.2" cy="183.7" r="2.35" fill="#eea3b5"/>
<circle cx="269.2" cy="188.6" r="2.35" fill="#eea3b5"/>
<circle cx="269.2" cy="193.6" r="2.35" fill="#eea3b5"/>
<circle cx="269.2" cy="198.6" r="2.35" fill="#eea3b5"/>
<circle cx="269.2" cy="203.5" r="2.35" fill="#eea3b5"/>
<circle cx="269.2" cy="208.5" r="2.35" fill="#eea3b5"/>
<circle cx="269.2" cy="213.4" r="2.35" fill="#eea3b5"/>
<circle cx="269.2" cy="218.4" r="2.35" fill="#ad6bcc"/>
<circle cx="269.2" cy="223.4" r="2.35" fill="#ffffff"/>
<circle cx="269.2" cy="228.3" r="2.35" fill="#ffffff"/>
<circle cx="269.2" cy="233.3" r="2.35" fill="#ad6bcc"/>
<circle cx="269.2" cy="238.2" r="2.35" fill="#ffffff"/>
<circle cx="269.2" cy="243.2" r="2.35" fill="#ffffff"/>
<circle cx="269.2" cy="248.2" r="2.35" fill="#ad6bcc"/>
<circle cx="269.2" cy="253.1" r="2.35" fill="#ad6bcc"/>
<circle cx="269.2" cy="258.1" r="2.35" fill="#4a8fd6"/>
<circle cx="269.2" cy="263.0" r="2.35" fill="#4a8fd6"/>
<circle cx="269.2" cy="268.0" r="2.35" fill="#4a8fd6"/>
<circle cx="273.5" cy="186.2" r="2.35" fill="#eea3b5"/>
<circle cx="273.5" cy="191.1" r="2.35" fill="#eea3b5"/>
<circle cx="273.5" cy="196.1" r="2.35" fill="#eea3b5"/>
<circle cx="273.5" cy="201.0" r="2.35" fill="#eea3b5"/>
<circle cx="273.5" cy="206.0" r="2.35" fill="#eea3b5"/>
<circle cx="273.5" cy="211.0" r="2.35" fill="#eea3b5"/>
<circle cx="273.5" cy="215.9" r="2.35" fill="#eea3b5"/>
<circle cx="273.5" cy="220.9" r="2.35" fill="#6ad0c4"/>
<circle cx="273.5" cy="225.8" r="2.35" fill="#ffffff"/>
<circle cx="273.5" cy="230.8" r="2.35" fill="#ffffff"/>
<circle cx="273.5" cy="235.8" r="2.35" fill="#ffffff"/>
<circle cx="273.5" cy="240.7" r="2.35" fill="#4a8fd6"/>
<circle cx="273.5" cy="245.7" r="2.35" fill="#ad6bcc"/>
<circle cx="273.5" cy="250.6" r="2.35" fill="#ad6bcc"/>
<circle cx="273.5" cy="255.6" r="2.35" fill="#ad6bcc"/>
<circle cx="273.5" cy="260.6" r="2.35" fill="#4a8fd6"/>
<circle cx="273.5" cy="265.5" r="2.35" fill="#4a8fd6"/>
<circle cx="277.8" cy="183.7" r="2.35" fill="#eea3b5"/>
<circle cx="277.8" cy="188.6" r="2.35" fill="#eea3b5"/>
<circle cx="277.8" cy="193.6" r="2.35" fill="#eea3b5"/>
<circle cx="277.8" cy="198.6" r="2.35" fill="#eea3b5"/>
<circle cx="277.8" cy="203.5" r="2.35" fill="#eea3b5"/>
<circle cx="277.8" cy="208.5" r="2.35" fill="#eea3b5"/>
<circle cx="277.8" cy="213.4" r="2.35" fill="#eea3b5"/>
<circle cx="277.8" cy="218.4" r="2.35" fill="#6ad0c4"/>
<circle cx="277.8" cy="223.4" r="2.35" fill="#6ad0c4"/>
<circle cx="277.8" cy="228.3" r="2.35" fill="#6ad0c4"/>
<circle cx="277.8" cy="233.3" r="2.35" fill="#6ad0c4"/>
<circle cx="277.8" cy="238.2" r="2.35" fill="#6ad0c4"/>
<circle cx="277.8" cy="243.2" r="2.35" fill="#ad6bcc"/>
<circle cx="277.8" cy="248.2" r="2.35" fill="#4a8fd6"/>
<circle cx="277.8" cy="253.1" r="2.35" fill="#4a8fd6"/>
<circle cx="277.8" cy="258.1" r="2.35" fill="#4a8fd6"/>
<circle cx="277.8" cy="263.0" r="2.35" fill="#4a8fd6"/>
<circle cx="277.8" cy="268.0" r="2.35" fill="#4a8fd6"/>
<circle cx="282.1" cy="186.2" r="2.35" fill="#eea3b5"/>
<circle cx="282.1" cy="191.1" r="2.35" fill="#eea3b5"/>
<circle cx="282.1" cy="196.1" r="2.35" fill="#eea3b5"/>
<circle cx="282.1" cy="201.0" r="2.35" fill="#eea3b5"/>
<circle cx="282.1" cy="206.0" r="2.35" fill="#eea3b5"/>
<circle cx="282.1" cy="211.0" r="2.35" fill="#eea3b5"/>
<circle cx="282.1" cy="215.9" r="2.35" fill="#eea3b5"/>
<circle cx="282.1" cy="220.9" r="2.35" fill="#6ad0c4"/>
<circle cx="282.1" cy="225.8" r="2.35" fill="#6ad0c4"/>
<circle cx="282.1" cy="230.8" r="2.35" fill="#6ad0c4"/>
<circle cx="282.1" cy="235.8" r="2.35" fill="#6ad0c4"/>
<circle cx="282.1" cy="240.7" r="2.35" fill="#6ad0c4"/>
<circle cx="282.1" cy="245.7" r="2.35" fill="#4a8fd6"/>
<circle cx="282.1" cy="250.6" r="2.35" fill="#4a8fd6"/>
<circle cx="282.1" cy="255.6" r="2.35" fill="#4a8fd6"/>
<circle cx="282.1" cy="260.6" r="2.35" fill="#4a8fd6"/>
<circle cx="282.1" cy="265.5" r="2.35" fill="#4a8fd6"/>
<circle cx="282.1" cy="270.5" r="2.35" fill="#4a8fd6"/>
<circle cx="286.3" cy="183.7" r="2.35" fill="#eea3b5"/>
<circle cx="286.3" cy="188.6" r="2.35" fill="#eea3b5"/>
<circle cx="286.3" cy="193.6" r="2.35" fill="#eea3b5"/>
<circle cx="286.3" cy="198.6" r="2.35" fill="#eea3b5"/>
<circle cx="286.3" cy="203.5" r="2.35" fill="#eea3b5"/>
<circle cx="286.3" cy="208.5" r="2.35" fill="#eea3b5"/>
<circle cx="286.3" cy="213.4" r="2.35" fill="#eea3b5"/>
<circle cx="286.3" cy="218.4" r="2.35" fill="#6ad0c4"/>
<circle cx="286.3" cy="223.4" r="2.35" fill="#6ad0c4"/>
<circle cx="286.3" cy="228.3" r="2.35" fill="#6ad0c4"/>
<circle cx="286.3" cy="233.3" r="2.35" fill="#6ad0c4"/>
<circle cx="286.3" cy="238.2" r="2.35" fill="#6ad0c4"/>
<circle cx="286.3" cy="243.2" r="2.35" fill="#4a8fd6"/>
<circle cx="286.3" cy="248.2" r="2.35" fill="#4a8fd6"/>
<circle cx="286.3" cy="253.1" r="2.35" fill="#4a8fd6"/>
<circle cx="286.3" cy="258.1" r="2.35" fill="#4a8fd6"/>
<circle cx="286.3" cy="263.0" r="2.35" fill="#4a8fd6"/>
<circle cx="286.3" cy="268.0" r="2.35" fill="#4a8fd6"/>
<circle cx="290.6" cy="186.2" r="2.35" fill="#eea3b5"/>
<circle cx="290.6" cy="191.1" r="2.35" fill="#eea3b5"/>
<circle cx="290.6" cy="196.1" r="2.35" fill="#eea3b5"/>
<circle cx="290.6" cy="201.0" r="2.35" fill="#eea3b5"/>
<circle cx="290.6" cy="206.0" r="2.35" fill="#eea3b5"/>
<circle cx="290.6" cy="211.0" r="2.35" fill="#eea3b5"/>
<circle cx="290.6" cy="215.9" r="2.35" fill="#eea3b5"/>
<circle cx="290.6" cy="220.9" r="2.35" fill="#6ad0c4"/>
<circle cx="290.6" cy="225.8" r="2.35" fill="#6ad0c4"/>
<circle cx="290.6" cy="230.8" r="2.35" fill="#6ad0c4"/>
<circle cx="290.6" cy="235.8" r="2.35" fill="#6ad0c4"/>
<circle cx="290.6" cy="240.7" r="2.35" fill="#6ad0c4"/>
<circle cx="290.6" cy="245.7" r="2.35" fill="#4a8fd6"/>
<circle cx="290.6" cy="250.6" r="2.35" fill="#4a8fd6"/>
<circle cx="290.6" cy="255.6" r="2.35" fill="#4a8fd6"/>
<circle cx="290.6" cy="260.6" r="2.35" fill="#4a8fd6"/>
<circle cx="290.6" cy="265.5" r="2.35" fill="#4a8fd6"/>
<circle cx="290.6" cy="270.5" r="2.35" fill="#4a8fd6"/>
<circle cx="294.9" cy="183.7" r="2.35" fill="#eea3b5"/>
<circle cx="294.9" cy="188.6" r="2.35" fill="#eea3b5"/>
<circle cx="294.9" cy="193.6" r="2.35" fill="#eea3b5"/>
<circle cx="294.9" cy="198.6" r="2.35" fill="#eea3b5"/>
<circle cx="294.9" cy="203.5" r="2.35" fill="#eea3b5"/>
<circle cx="294.9" cy="208.5" r="2.35" fill="#eea3b5"/>
<circle cx="294.9" cy="213.4" r="2.35" fill="#eea3b5"/>
<circle cx="294.9" cy="218.4" r="2.35" fill="#6ad0c4"/>
<circle cx="294.9" cy="223.4" r="2.35" fill="#6ad0c4"/>
<circle cx="294.9" cy="228.3" r="2.35" fill="#6ad0c4"/>
<circle cx="294.9" cy="233.3" r="2.35" fill="#6ad0c4"/>
<circle cx="294.9" cy="238.2" r="2.35" fill="#6ad0c4"/>
<circle cx="294.9" cy="243.2" r="2.35" fill="#ad6bcc"/>
<circle cx="294.9" cy="248.2" r="2.35" fill="#4a8fd6"/>
<circle cx="294.9" cy="253.1" r="2.35" fill="#4a8fd6"/>
<circle cx="294.9" cy="258.1" r="2.35" fill="#4a8fd6"/>
<circle cx="294.9" cy="263.0" r="2.35" fill="#4a8fd6"/>
<circle cx="294.9" cy="268.0" r="2.35" fill="#4a8fd6"/>
<circle cx="299.1" cy="186.2" r="2.35" fill="#eea3b5"/>
<circle cx="299.1" cy="191.1" r="2.35" fill="#eea3b5"/>
<circle cx="299.1" cy="196.1" r="2.35" fill="#eea3b5"/>
<circle cx="299.1" cy="201.0" r="2.35" fill="#eea3b5"/>
<circle cx="299.1" cy="206.0" r="2.35" fill="#eea3b5"/>
<circle cx="299.1" cy="211.0" r="2.35" fill="#eea3b5"/>
<circle cx="299.1" cy="215.9" r="2.35" fill="#eea3b5"/>
<circle cx="299.1" cy="220.9" r="2.35" fill="#6ad0c4"/>
<circle cx="299.1" cy="225.8" r="2.35" fill="#6ad0c4"/>
<circle cx="299.1" cy="230.8" r="2.35" fill="#6ad0c4"/>
<circle cx="299.1" cy="235.8" r="2.35" fill="#6ad0c4"/>
<circle cx="299.1" cy="240.7" r="2.35" fill="#4a8fd6"/>
<circle cx="299.1" cy="245.7" r="2.35" fill="#4a8fd6"/>
<circle cx="299.1" cy="250.6" r="2.35" fill="#4a8fd6"/>
<circle cx="299.1" cy="255.6" r="2.35" fill="#ad6bcc"/>
<circle cx="299.1" cy="260.6" r="2.35" fill="#ad6bcc"/>
<circle cx="299.1" cy="265.5" r="2.35" fill="#4a8fd6"/>
<circle cx="299.1" cy="270.5" r="2.35" fill="#4a8fd6"/>
<circle cx="303.4" cy="183.7" r="2.35" fill="#eea3b5"/>
<circle cx="303.4" cy="188.6" r="2.35" fill="#eea3b5"/>
<circle cx="303.4" cy="193.6" r="2.35" fill="#eea3b5"/>
<circle cx="303.4" cy="198.6" r="2.35" fill="#eea3b5"/>
<circle cx="303.4" cy="203.5" r="2.35" fill="#eea3b5"/>
<circle cx="303.4" cy="208.5" r="2.35" fill="#eea3b5"/>
<circle cx="303.4" cy="213.4" r="2.35" fill="#6ad0c4"/>
<circle cx="303.4" cy="218.4" r="2.35" fill="#6ad0c4"/>
<circle cx="303.4" cy="223.4" r="2.35" fill="#6ad0c4"/>
<circle cx="303.4" cy="228.3" r="2.35" fill="#6ad0c4"/>
<circle cx="303.4" cy="233.3" r="2.35" fill="#6ad0c4"/>
<circle cx="303.4" cy="238.2" r="2.35" fill="#6ad0c4"/>
<circle cx="303.4" cy="243.2" r="2.35" fill="#4a8fd6"/>
<circle cx="303.4" cy="248.2" r="2.35" fill="#4a8fd6"/>
<circle cx="303.4" cy="253.1" r="2.35" fill="#4a8fd6"/>
<circle cx="303.4" cy="258.1" r="2.35" fill="#ad6bcc"/>
<circle cx="303.4" cy="263.0" r="2.35" fill="#4a8fd6"/>
<circle cx="303.4" cy="268.0" r="2.35" fill="#4a8fd6"/>
<circle cx="307.7" cy="186.2" r="2.35" fill="#eea3b5"/>
<circle cx="307.7" cy="191.1" r="2.35" fill="#eea3b5"/>
<circle cx="307.7" cy="196.1" r="2.35" fill="#eea3b5"/>
<circle cx="307.7" cy="201.0" r="2.35" fill="#eea3b5"/>
<circle cx="307.7" cy="206.0" r="2.35" fill="#eea3b5"/>
<circle cx="307.7" cy="211.0" r="2.35" fill="#6ad0c4"/>
<circle cx="307.7" cy="215.9" r="2.35" fill="#6ad0c4"/>
<circle cx="307.7" cy="220.9" r="2.35" fill="#6ad0c4"/>
<circle cx="307.7" cy="225.8" r="2.35" fill="#6ad0c4"/>
<circle cx="307.7" cy="230.8" r="2.35" fill="#6ad0c4"/>
<circle cx="307.7" cy="235.8" r="2.35" fill="#6ad0c4"/>
<circle cx="307.7" cy="245.7" r="2.35" fill="#eca83a"/>
<circle cx="307.7" cy="250.6" r="2.35" fill="#eca83a"/>
<circle cx="307.7" cy="255.6" r="2.35" fill="#4a8fd6"/>
<circle cx="307.7" cy="260.6" r="2.35" fill="#4a8fd6"/>
<circle cx="307.7" cy="265.5" r="2.35" fill="#4a8fd6"/>
<circle cx="311.9" cy="183.7" r="2.35" fill="#eea3b5"/>
<circle cx="311.9" cy="188.6" r="2.35" fill="#eea3b5"/>
<circle cx="311.9" cy="193.6" r="2.35" fill="#eea3b5"/>
<circle cx="311.9" cy="198.6" r="2.35" fill="#eea3b5"/>
<circle cx="311.9" cy="203.5" r="2.35" fill="#eea3b5"/>
<circle cx="311.9" cy="208.5" r="2.35" fill="#6ad0c4"/>
<circle cx="311.9" cy="213.4" r="2.35" fill="#6ad0c4"/>
<circle cx="311.9" cy="218.4" r="2.35" fill="#6ad0c4"/>
<circle cx="311.9" cy="223.4" r="2.35" fill="#6ad0c4"/>
<circle cx="311.9" cy="228.3" r="2.35" fill="#6ad0c4"/>
<circle cx="311.9" cy="233.3" r="2.35" fill="#6ad0c4"/>
<circle cx="311.9" cy="238.2" r="2.35" fill="#6ad0c4"/>
<circle cx="311.9" cy="243.2" r="2.35" fill="#eca83a"/>
<circle cx="311.9" cy="248.2" r="2.35" fill="#eca83a"/>
<circle cx="311.9" cy="253.1" r="2.35" fill="#4a8fd6"/>
<circle cx="311.9" cy="258.1" r="2.35" fill="#4a8fd6"/>
<circle cx="311.9" cy="263.0" r="2.35" fill="#4a8fd6"/>
<circle cx="311.9" cy="268.0" r="2.35" fill="#4a8fd6"/>
<circle cx="316.2" cy="186.2" r="2.35" fill="#eea3b5"/>
<circle cx="316.2" cy="191.1" r="2.35" fill="#eea3b5"/>
<circle cx="316.2" cy="196.1" r="2.35" fill="#eea3b5"/>
<circle cx="316.2" cy="201.0" r="2.35" fill="#eea3b5"/>
<circle cx="316.2" cy="206.0" r="2.35" fill="#eea3b5"/>
<circle cx="316.2" cy="211.0" r="2.35" fill="#6ad0c4"/>
<circle cx="316.2" cy="215.9" r="2.35" fill="#eca83a"/>
<circle cx="316.2" cy="220.9" r="2.35" fill="#eca83a"/>
<circle cx="316.2" cy="225.8" r="2.35" fill="#ad6bcc"/>
<circle cx="316.2" cy="230.8" r="2.35" fill="#eca83a"/>
<circle cx="316.2" cy="235.8" r="2.35" fill="#eca83a"/>
<circle cx="316.2" cy="240.7" r="2.35" fill="#ad6bcc"/>
<circle cx="316.2" cy="245.7" r="2.35" fill="#eca83a"/>
<circle cx="316.2" cy="250.6" r="2.35" fill="#eca83a"/>
<circle cx="316.2" cy="255.6" r="2.35" fill="#ad6bcc"/>
<circle cx="316.2" cy="260.6" r="2.35" fill="#4a8fd6"/>
<circle cx="316.2" cy="265.5" r="2.35" fill="#4a8fd6"/>
<circle cx="320.5" cy="183.7" r="2.35" fill="#eea3b5"/>
<circle cx="320.5" cy="188.6" r="2.35" fill="#eea3b5"/>
<circle cx="320.5" cy="193.6" r="2.35" fill="#eea3b5"/>
<circle cx="320.5" cy="198.6" r="2.35" fill="#eea3b5"/>
<circle cx="320.5" cy="203.5" r="2.35" fill="#eea3b5"/>
<circle cx="320.5" cy="208.5" r="2.35" fill="#6ad0c4"/>
<circle cx="320.5" cy="213.4" r="2.35" fill="#6ad0c4"/>
<circle cx="320.5" cy="218.4" r="2.35" fill="#eca83a"/>
<circle cx="320.5" cy="223.4" r="2.35" fill="#eca83a"/>
<circle cx="320.5" cy="228.3" r="2.35" fill="#ad6bcc"/>
<circle cx="320.5" cy="233.3" r="2.35" fill="#eca83a"/>
<circle cx="320.5" cy="238.2" r="2.35" fill="#ad6bcc"/>
<circle cx="320.5" cy="243.2" r="2.35" fill="#eca83a"/>
<circle cx="320.5" cy="248.2" r="2.35" fill="#eca83a"/>
<circle cx="320.5" cy="253.1" r="2.35" fill="#ad6bcc"/>
<circle cx="320.5" cy="258.1" r="2.35" fill="#4a8fd6"/>
<circle cx="320.5" cy="263.0" r="2.35" fill="#4a8fd6"/>
<circle cx="320.5" cy="268.0" r="2.35" fill="#4a8fd6"/>
<circle cx="324.8" cy="186.2" r="2.35" fill="#7ccc4e"/>
<circle cx="324.8" cy="191.1" r="2.35" fill="#7ccc4e"/>
<circle cx="324.8" cy="196.1" r="2.35" fill="#7ccc4e"/>
<circle cx="324.8" cy="201.0" r="2.35" fill="#7ccc4e"/>
<circle cx="324.8" cy="206.0" r="2.35" fill="#7ccc4e"/>
<circle cx="324.8" cy="211.0" r="2.35" fill="#7ccc4e"/>
<circle cx="324.8" cy="215.9" r="2.35" fill="#eca83a"/>
<circle cx="324.8" cy="220.9" r="2.35" fill="#eca83a"/>
<circle cx="324.8" cy="225.8" r="2.35" fill="#eca83a"/>
<circle cx="324.8" cy="230.8" r="2.35" fill="#eca83a"/>
<circle cx="324.8" cy="235.8" r="2.35" fill="#ad6bcc"/>
<circle cx="324.8" cy="240.7" r="2.35" fill="#ad6bcc"/>
<circle cx="324.8" cy="245.7" r="2.35" fill="#ad6bcc"/>
<circle cx="324.8" cy="250.6" r="2.35" fill="#ad6bcc"/>
<circle cx="324.8" cy="255.6" r="2.35" fill="#ad6bcc"/>
<circle cx="324.8" cy="260.6" r="2.35" fill="#ad6bcc"/>
<circle cx="324.8" cy="265.5" r="2.35" fill="#ad6bcc"/>
<circle cx="329.0" cy="188.6" r="2.35" fill="#7ccc4e"/>
<circle cx="329.0" cy="193.6" r="2.35" fill="#7ccc4e"/>
<circle cx="329.0" cy="198.6" r="2.35" fill="#7ccc4e"/>
<circle cx="329.0" cy="203.5" r="2.35" fill="#7ccc4e"/>
<circle cx="329.0" cy="208.5" r="2.35" fill="#7ccc4e"/>
<circle cx="329.0" cy="213.4" r="2.35" fill="#7ccc4e"/>
<circle cx="329.0" cy="218.4" r="2.35" fill="#eca83a"/>
<circle cx="329.0" cy="223.4" r="2.35" fill="#eca83a"/>
<circle cx="329.0" cy="228.3" r="2.35" fill="#eca83a"/>
<circle cx="329.0" cy="233.3" r="2.35" fill="#ad6bcc"/>
<circle cx="329.0" cy="238.2" r="2.35" fill="#eca83a"/>
<circle cx="329.0" cy="243.2" r="2.35" fill="#ad6bcc"/>
<circle cx="329.0" cy="248.2" r="2.35" fill="#ad6bcc"/>
<circle cx="329.0" cy="253.1" r="2.35" fill="#ad6bcc"/>
<circle cx="329.0" cy="258.1" r="2.35" fill="#ad6bcc"/>
<circle cx="329.0" cy="263.0" r="2.35" fill="#ad6bcc"/>
<circle cx="329.0" cy="268.0" r="2.35" fill="#ad6bcc"/>
<circle cx="333.3" cy="191.1" r="2.35" fill="#7ccc4e"/>
<circle cx="333.3" cy="196.1" r="2.35" fill="#7ccc4e"/>
<circle cx="333.3" cy="201.0" r="2.35" fill="#7ccc4e"/>
<circle cx="333.3" cy="206.0" r="2.35" fill="#7ccc4e"/>
<circle cx="333.3" cy="211.0" r="2.35" fill="#7ccc4e"/>
<circle cx="333.3" cy="215.9" r="2.35" fill="#eca83a"/>
<circle cx="333.3" cy="220.9" r="2.35" fill="#eca83a"/>
<circle cx="333.3" cy="225.8" r="2.35" fill="#eca83a"/>
<circle cx="333.3" cy="230.8" r="2.35" fill="#eca83a"/>
<circle cx="333.3" cy="235.8" r="2.35" fill="#ad6bcc"/>
<circle cx="333.3" cy="240.7" r="2.35" fill="#ad6bcc"/>
<circle cx="333.3" cy="245.7" r="2.35" fill="#ad6bcc"/>
<circle cx="333.3" cy="250.6" r="2.35" fill="#ad6bcc"/>
<circle cx="333.3" cy="255.6" r="2.35" fill="#4a8fd6"/>
<circle cx="333.3" cy="260.6" r="2.35" fill="#4a8fd6"/>
<circle cx="333.3" cy="265.5" r="2.35" fill="#ad6bcc"/>
<circle cx="337.6" cy="188.6" r="2.35" fill="#7ccc4e"/>
<circle cx="337.6" cy="193.6" r="2.35" fill="#7ccc4e"/>
<circle cx="337.6" cy="198.6" r="2.35" fill="#7ccc4e"/>
<circle cx="337.6" cy="203.5" r="2.35" fill="#7ccc4e"/>
<circle cx="337.6" cy="208.5" r="2.35" fill="#7ccc4e"/>
<circle cx="337.6" cy="213.4" r="2.35" fill="#7ccc4e"/>
<circle cx="337.6" cy="218.4" r="2.35" fill="#eca83a"/>
<circle cx="337.6" cy="223.4" r="2.35" fill="#eca83a"/>
<circle cx="337.6" cy="228.3" r="2.35" fill="#eca83a"/>
<circle cx="337.6" cy="233.3" r="2.35" fill="#ad6bcc"/>
<circle cx="337.6" cy="238.2" r="2.35" fill="#ad6bcc"/>
<circle cx="337.6" cy="243.2" r="2.35" fill="#ad6bcc"/>
<circle cx="337.6" cy="248.2" r="2.35" fill="#ad6bcc"/>
<circle cx="337.6" cy="253.1" r="2.35" fill="#ad6bcc"/>
<circle cx="337.6" cy="258.1" r="2.35" fill="#ad6bcc"/>
<circle cx="337.6" cy="263.0" r="2.35" fill="#ad6bcc"/>
<circle cx="337.6" cy="268.0" r="2.35" fill="#ad6bcc"/>
<circle cx="341.8" cy="191.1" r="2.35" fill="#7ccc4e"/>
<circle cx="341.8" cy="196.1" r="2.35" fill="#7ccc4e"/>
<circle cx="341.8" cy="201.0" r="2.35" fill="#7ccc4e"/>
<circle cx="341.8" cy="206.0" r="2.35" fill="#7ccc4e"/>
<circle cx="341.8" cy="211.0" r="2.35" fill="#7ccc4e"/>
<circle cx="341.8" cy="215.9" r="2.35" fill="#eca83a"/>
<circle cx="341.8" cy="220.9" r="2.35" fill="#eca83a"/>
<circle cx="341.8" cy="225.8" r="2.35" fill="#eca83a"/>
<circle cx="341.8" cy="230.8" r="2.35" fill="#eca83a"/>
<circle cx="341.8" cy="235.8" r="2.35" fill="#ad6bcc"/>
<circle cx="341.8" cy="240.7" r="2.35" fill="#ad6bcc"/>
<circle cx="341.8" cy="245.7" r="2.35" fill="#ad6bcc"/>
<circle cx="341.8" cy="250.6" r="2.35" fill="#ad6bcc"/>
<circle cx="341.8" cy="255.6" r="2.35" fill="#ad6bcc"/>
<circle cx="341.8" cy="260.6" r="2.35" fill="#4a8fd6"/>
<circle cx="341.8" cy="265.5" r="2.35" fill="#ad6bcc"/>
<circle cx="346.1" cy="188.6" r="2.35" fill="#7ccc4e"/>
<circle cx="346.1" cy="193.6" r="2.35" fill="#7ccc4e"/>
<circle cx="346.1" cy="198.6" r="2.35" fill="#7ccc4e"/>
<circle cx="346.1" cy="203.5" r="2.35" fill="#7ccc4e"/>
<circle cx="346.1" cy="208.5" r="2.35" fill="#7ccc4e"/>
<circle cx="346.1" cy="213.4" r="2.35" fill="#eca83a"/>
<circle cx="346.1" cy="218.4" r="2.35" fill="#eca83a"/>
<circle cx="346.1" cy="223.4" r="2.35" fill="#eca83a"/>
<circle cx="346.1" cy="228.3" r="2.35" fill="#eca83a"/>
<circle cx="346.1" cy="233.3" r="2.35" fill="#ad6bcc"/>
<circle cx="346.1" cy="238.2" r="2.35" fill="#ad6bcc"/>
<circle cx="346.1" cy="243.2" r="2.35" fill="#ad6bcc"/>
<circle cx="346.1" cy="248.2" r="2.35" fill="#ad6bcc"/>
<circle cx="346.1" cy="253.1" r="2.35" fill="#ad6bcc"/>
<circle cx="346.1" cy="258.1" r="2.35" fill="#ad6bcc"/>
<circle cx="346.1" cy="263.0" r="2.35" fill="#ad6bcc"/>
<circle cx="350.4" cy="191.1" r="2.35" fill="#7ccc4e"/>
<circle cx="350.4" cy="196.1" r="2.35" fill="#7ccc4e"/>
<circle cx="350.4" cy="201.0" r="2.35" fill="#7ccc4e"/>
<circle cx="350.4" cy="206.0" r="2.35" fill="#7ccc4e"/>
<circle cx="350.4" cy="211.0" r="2.35" fill="#eca83a"/>
<circle cx="350.4" cy="215.9" r="2.35" fill="#eca83a"/>
<circle cx="350.4" cy="220.9" r="2.35" fill="#eca83a"/>
<circle cx="350.4" cy="225.8" r="2.35" fill="#eca83a"/>
<circle cx="350.4" cy="230.8" r="2.35" fill="#eca83a"/>
<circle cx="350.4" cy="235.8" r="2.35" fill="#ad6bcc"/>
<circle cx="350.4" cy="240.7" r="2.35" fill="#ad6bcc"/>
<circle cx="350.4" cy="245.7" r="2.35" fill="#ad6bcc"/>
<circle cx="350.4" cy="250.6" r="2.35" fill="#ad6bcc"/>
<circle cx="350.4" cy="255.6" r="2.35" fill="#ad6bcc"/>
<circle cx="350.4" cy="260.6" r="2.35" fill="#ad6bcc"/>
<circle cx="350.4" cy="265.5" r="2.35" fill="#ad6bcc"/>
<circle cx="354.6" cy="188.6" r="2.35" fill="#7ccc4e"/>
<circle cx="354.6" cy="193.6" r="2.35" fill="#7ccc4e"/>
<circle cx="354.6" cy="198.6" r="2.35" fill="#7ccc4e"/>
<circle cx="354.6" cy="203.5" r="2.35" fill="#eca83a"/>
<circle cx="354.6" cy="208.5" r="2.35" fill="#eca83a"/>
<circle cx="354.6" cy="213.4" r="2.35" fill="#eca83a"/>
<circle cx="354.6" cy="218.4" r="2.35" fill="#eca83a"/>
<circle cx="354.6" cy="223.4" r="2.35" fill="#eca83a"/>
<circle cx="354.6" cy="228.3" r="2.35" fill="#eca83a"/>
<circle cx="354.6" cy="233.3" r="2.35" fill="#eca83a"/>
<circle cx="354.6" cy="238.2" r="2.35" fill="#eca83a"/>
<circle cx="354.6" cy="243.2" r="2.35" fill="#ad6bcc"/>
<circle cx="354.6" cy="248.2" r="2.35" fill="#ad6bcc"/>
<circle cx="354.6" cy="253.1" r="2.35" fill="#4a8fd6"/>
<circle cx="354.6" cy="258.1" r="2.35" fill="#ad6bcc"/>
<circle cx="354.6" cy="263.0" r="2.35" fill="#ad6bcc"/>
<circle cx="358.9" cy="191.1" r="2.35" fill="#7ccc4e"/>
<circle cx="358.9" cy="196.1" r="2.35" fill="#7ccc4e"/>
<circle cx="358.9" cy="201.0" r="2.35" fill="#eca83a"/>
<circle cx="358.9" cy="206.0" r="2.35" fill="#eca83a"/>
<circle cx="358.9" cy="211.0" r="2.35" fill="#eca83a"/>
<circle cx="358.9" cy="215.9" r="2.35" fill="#eca83a"/>
<circle cx="358.9" cy="220.9" r="2.35" fill="#eca83a"/>
<circle cx="358.9" cy="225.8" r="2.35" fill="#eca83a"/>
<circle cx="358.9" cy="230.8" r="2.35" fill="#ad6bcc"/>
<circle cx="358.9" cy="235.8" r="2.35" fill="#ad6bcc"/>
<circle cx="358.9" cy="240.7" r="2.35" fill="#ad6bcc"/>
<circle cx="358.9" cy="245.7" r="2.35" fill="#ad6bcc"/>
<circle cx="358.9" cy="250.6" r="2.35" fill="#ad6bcc"/>
<circle cx="358.9" cy="255.6" r="2.35" fill="#ad6bcc"/>
<circle cx="358.9" cy="260.6" r="2.35" fill="#ad6bcc"/>
<circle cx="358.9" cy="265.5" r="2.35" fill="#ad6bcc"/>
<circle cx="363.2" cy="188.6" r="2.35" fill="#7ccc4e"/>
<circle cx="363.2" cy="193.6" r="2.35" fill="#7ccc4e"/>
<circle cx="363.2" cy="198.6" r="2.35" fill="#7ccc4e"/>
<circle cx="363.2" cy="203.5" r="2.35" fill="#eca83a"/>
<circle cx="363.2" cy="208.5" r="2.35" fill="#eca83a"/>
<circle cx="363.2" cy="213.4" r="2.35" fill="#eca83a"/>
<circle cx="363.2" cy="218.4" r="2.35" fill="#eca83a"/>
<circle cx="363.2" cy="223.4" r="2.35" fill="#ad6bcc"/>
<circle cx="363.2" cy="228.3" r="2.35" fill="#4a8fd6"/>
<circle cx="363.2" cy="233.3" r="2.35" fill="#4a8fd6"/>
<circle cx="363.2" cy="238.2" r="2.35" fill="#4a8fd6"/>
<circle cx="363.2" cy="243.2" r="2.35" fill="#4a8fd6"/>
<circle cx="363.2" cy="248.2" r="2.35" fill="#ad6bcc"/>
<circle cx="363.2" cy="253.1" r="2.35" fill="#ad6bcc"/>
<circle cx="363.2" cy="258.1" r="2.35" fill="#ad6bcc"/>
<circle cx="363.2" cy="263.0" r="2.35" fill="#ad6bcc"/>
<circle cx="367.5" cy="191.1" r="2.35" fill="#7ccc4e"/>
<circle cx="367.5" cy="196.1" r="2.35" fill="#7ccc4e"/>
<circle cx="367.5" cy="201.0" r="2.35" fill="#eca83a"/>
<circle cx="367.5" cy="206.0" r="2.35" fill="#eca83a"/>
<circle cx="367.5" cy="211.0" r="2.35" fill="#eca83a"/>
<circle cx="367.5" cy="215.9" r="2.35" fill="#eca83a"/>
<circle cx="367.5" cy="220.9" r="2.35" fill="#eca83a"/>
<circle cx="367.5" cy="225.8" r="2.35" fill="#eca83a"/>
<circle cx="367.5" cy="230.8" r="2.35" fill="#eca83a"/>
<circle cx="367.5" cy="235.8" r="2.35" fill="#eca83a"/>
<circle cx="367.5" cy="240.7" r="2.35" fill="#eca83a"/>
<circle cx="367.5" cy="245.7" r="2.35" fill="#eca83a"/>
<circle cx="367.5" cy="250.6" r="2.35" fill="#eca83a"/>
<circle cx="367.5" cy="255.6" r="2.35" fill="#ad6bcc"/>
<circle cx="367.5" cy="260.6" r="2.35" fill="#ad6bcc"/>
<circle cx="367.5" cy="265.5" r="2.35" fill="#4a8fd6"/>
<circle cx="371.7" cy="188.6" r="2.35" fill="#7ccc4e"/>
<circle cx="371.7" cy="193.6" r="2.35" fill="#7ccc4e"/>
<circle cx="371.7" cy="198.6" r="2.35" fill="#7ccc4e"/>
<circle cx="371.7" cy="203.5" r="2.35" fill="#eca83a"/>
<circle cx="371.7" cy="208.5" r="2.35" fill="#eca83a"/>
<circle cx="371.7" cy="213.4" r="2.35" fill="#eca83a"/>
<circle cx="371.7" cy="218.4" r="2.35" fill="#eca83a"/>
<circle cx="371.7" cy="223.4" r="2.35" fill="#eca83a"/>
<circle cx="371.7" cy="228.3" r="2.35" fill="#eca83a"/>
<circle cx="371.7" cy="233.3" r="2.35" fill="#eca83a"/>
<circle cx="371.7" cy="238.2" r="2.35" fill="#eca83a"/>
<circle cx="371.7" cy="243.2" r="2.35" fill="#eca83a"/>
<circle cx="371.7" cy="248.2" r="2.35" fill="#eca83a"/>
<circle cx="371.7" cy="253.1" r="2.35" fill="#ad6bcc"/>
<circle cx="371.7" cy="258.1" r="2.35" fill="#ad6bcc"/>
<circle cx="371.7" cy="263.0" r="2.35" fill="#ad6bcc"/>
<circle cx="376.0" cy="191.1" r="2.35" fill="#7ccc4e"/>
<circle cx="376.0" cy="196.1" r="2.35" fill="#7ccc4e"/>
<circle cx="376.0" cy="201.0" r="2.35" fill="#eca83a"/>
<circle cx="376.0" cy="206.0" r="2.35" fill="#eca83a"/>
<circle cx="376.0" cy="211.0" r="2.35" fill="#eca83a"/>
<circle cx="376.0" cy="215.9" r="2.35" fill="#eca83a"/>
<circle cx="376.0" cy="220.9" r="2.35" fill="#eca83a"/>
<circle cx="376.0" cy="225.8" r="2.35" fill="#eca83a"/>
<circle cx="376.0" cy="230.8" r="2.35" fill="#eca83a"/>
<circle cx="376.0" cy="235.8" r="2.35" fill="#eca83a"/>
<circle cx="376.0" cy="240.7" r="2.35" fill="#eca83a"/>
<circle cx="376.0" cy="245.7" r="2.35" fill="#eca83a"/>
<circle cx="376.0" cy="250.6" r="2.35" fill="#eca83a"/>
<circle cx="376.0" cy="255.6" r="2.35" fill="#ad6bcc"/>
<circle cx="376.0" cy="260.6" r="2.35" fill="#ad6bcc"/>
<circle cx="376.0" cy="265.5" r="2.35" fill="#ad6bcc"/>
<circle cx="380.3" cy="188.6" r="2.35" fill="#7ccc4e"/>
<circle cx="380.3" cy="193.6" r="2.35" fill="#7ccc4e"/>
<circle cx="380.3" cy="198.6" r="2.35" fill="#7ccc4e"/>
<circle cx="380.3" cy="203.5" r="2.35" fill="#eca83a"/>
<circle cx="380.3" cy="208.5" r="2.35" fill="#ad6bcc"/>
<circle cx="380.3" cy="213.4" r="2.35" fill="#eca83a"/>
<circle cx="380.3" cy="218.4" r="2.35" fill="#eca83a"/>
<circle cx="380.3" cy="223.4" r="2.35" fill="#eca83a"/>
<circle cx="380.3" cy="228.3" r="2.35" fill="#eca83a"/>
<circle cx="380.3" cy="233.3" r="2.35" fill="#eca83a"/>
<circle cx="380.3" cy="238.2" r="2.35" fill="#eca83a"/>
<circle cx="380.3" cy="243.2" r="2.35" fill="#eca83a"/>
<circle cx="380.3" cy="248.2" r="2.35" fill="#eca83a"/>
<circle cx="380.3" cy="253.1" r="2.35" fill="#eca83a"/>
<circle cx="380.3" cy="258.1" r="2.35" fill="#ad6bcc"/>
<circle cx="380.3" cy="263.0" r="2.35" fill="#ad6bcc"/>
<circle cx="384.5" cy="191.1" r="2.35" fill="#7ccc4e"/>
<circle cx="384.5" cy="196.1" r="2.35" fill="#7ccc4e"/>
<circle cx="384.5" cy="201.0" r="2.35" fill="#eca83a"/>
<circle cx="384.5" cy="206.0" r="2.35" fill="#eca83a"/>
<circle cx="384.5" cy="211.0" r="2.35" fill="#eca83a"/>
<circle cx="384.5" cy="215.9" r="2.35" fill="#eca83a"/>
<circle cx="384.5" cy="220.9" r="2.35" fill="#eca83a"/>
<circle cx="384.5" cy="225.8" r="2.35" fill="#eca83a"/>
<circle cx="384.5" cy="230.8" r="2.35" fill="#eca83a"/>
<circle cx="384.5" cy="235.8" r="2.35" fill="#eca83a"/>
<circle cx="384.5" cy="240.7" r="2.35" fill="#eca83a"/>
<circle cx="384.5" cy="245.7" r="2.35" fill="#eca83a"/>
<circle cx="384.5" cy="250.6" r="2.35" fill="#eca83a"/>
<circle cx="384.5" cy="255.6" r="2.35" fill="#ad6bcc"/>
<circle cx="384.5" cy="260.6" r="2.35" fill="#ad6bcc"/>
<circle cx="384.5" cy="265.5" r="2.35" fill="#ad6bcc"/>
<circle cx="388.8" cy="193.6" r="2.35" fill="#7ccc4e"/>
<circle cx="388.8" cy="198.6" r="2.35" fill="#7ccc4e"/>
<circle cx="388.8" cy="203.5" r="2.35" fill="#eca83a"/>
<circle cx="388.8" cy="208.5" r="2.35" fill="#eca83a"/>
<circle cx="388.8" cy="213.4" r="2.35" fill="#eca83a"/>
<circle cx="388.8" cy="218.4" r="2.35" fill="#eca83a"/>
<circle cx="388.8" cy="223.4" r="2.35" fill="#eca83a"/>
<circle cx="388.8" cy="228.3" r="2.35" fill="#4a8fd6"/>
<circle cx="388.8" cy="233.3" r="2.35" fill="#4a8fd6"/>
<circle cx="388.8" cy="238.2" r="2.35" fill="#ad6bcc"/>
<circle cx="388.8" cy="243.2" r="2.35" fill="#4a8fd6"/>
<circle cx="388.8" cy="248.2" r="2.35" fill="#ad6bcc"/>
<circle cx="388.8" cy="253.1" r="2.35" fill="#ad6bcc"/>
<circle cx="388.8" cy="258.1" r="2.35" fill="#ad6bcc"/>
<circle cx="388.8" cy="263.0" r="2.35" fill="#ad6bcc"/>
<circle cx="393.1" cy="191.1" r="2.35" fill="#7ccc4e"/>
<circle cx="393.1" cy="196.1" r="2.35" fill="#7ccc4e"/>
<circle cx="393.1" cy="201.0" r="2.35" fill="#eca83a"/>
<circle cx="393.1" cy="206.0" r="2.35" fill="#eca83a"/>
<circle cx="393.1" cy="211.0" r="2.35" fill="#eca83a"/>
<circle cx="393.1" cy="215.9" r="2.35" fill="#eca83a"/>
<circle cx="393.1" cy="220.9" r="2.35" fill="#eca83a"/>
<circle cx="393.1" cy="225.8" r="2.35" fill="#4a8fd6"/>
<circle cx="393.1" cy="230.8" r="2.35" fill="#4a8fd6"/>
<circle cx="393.1" cy="235.8" r="2.35" fill="#4a8fd6"/>
<circle cx="393.1" cy="240.7" r="2.35" fill="#4a8fd6"/>
<circle cx="393.1" cy="245.7" r="2.35" fill="#4a8fd6"/>
<circle cx="393.1" cy="250.6" r="2.35" fill="#ad6bcc"/>
<circle cx="393.1" cy="255.6" r="2.35" fill="#ad6bcc"/>
<circle cx="393.1" cy="260.6" r="2.35" fill="#ad6bcc"/>
<circle cx="397.4" cy="193.6" r="2.35" fill="#7ccc4e"/>
<circle cx="397.4" cy="198.6" r="2.35" fill="#7ccc4e"/>
<circle cx="397.4" cy="203.5" r="2.35" fill="#eca83a"/>
<circle cx="397.4" cy="208.5" r="2.35" fill="#eca83a"/>
<circle cx="397.4" cy="213.4" r="2.35" fill="#eca83a"/>
<circle cx="397.4" cy="218.4" r="2.35" fill="#eca83a"/>
<circle cx="397.4" cy="223.4" r="2.35" fill="#4a8fd6"/>
<circle cx="397.4" cy="228.3" r="2.35" fill="#4a8fd6"/>
<circle cx="397.4" cy="233.3" r="2.35" fill="#eca83a"/>
<circle cx="397.4" cy="238.2" r="2.35" fill="#4a8fd6"/>
<circle cx="397.4" cy="243.2" r="2.35" fill="#4a8fd6"/>
<circle cx="397.4" cy="248.2" r="2.35" fill="#ad6bcc"/>
<circle cx="397.4" cy="253.1" r="2.35" fill="#ad6bcc"/>
<circle cx="397.4" cy="258.1" r="2.35" fill="#ad6bcc"/>
<circle cx="397.4" cy="263.0" r="2.35" fill="#ad6bcc"/>
<circle cx="401.6" cy="191.1" r="2.35" fill="#7ccc4e"/>
<circle cx="401.6" cy="196.1" r="2.35" fill="#7ccc4e"/>
<circle cx="401.6" cy="201.0" r="2.35" fill="#eca83a"/>
<circle cx="401.6" cy="206.0" r="2.35" fill="#eca83a"/>
<circle cx="401.6" cy="211.0" r="2.35" fill="#eca83a"/>
<circle cx="401.6" cy="215.9" r="2.35" fill="#4a8fd6"/>
<circle cx="401.6" cy="220.9" r="2.35" fill="#4a8fd6"/>
<circle cx="401.6" cy="225.8" r="2.35" fill="#4a8fd6"/>
<circle cx="401.6" cy="230.8" r="2.35" fill="#ad6bcc"/>
<circle cx="401.6" cy="235.8" r="2.35" fill="#4a8fd6"/>
<circle cx="401.6" cy="240.7" r="2.35" fill="#4a8fd6"/>
<circle cx="401.6" cy="245.7" r="2.35" fill="#4a8fd6"/>
<circle cx="401.6" cy="250.6" r="2.35" fill="#4a8fd6"/>
<circle cx="401.6" cy="255.6" r="2.35" fill="#ad6bcc"/>
<circle cx="401.6" cy="260.6" r="2.35" fill="#4a8fd6"/>
<circle cx="405.9" cy="193.6" r="2.35" fill="#7ccc4e"/>
<circle cx="405.9" cy="198.6" r="2.35" fill="#7ccc4e"/>
<circle cx="405.9" cy="203.5" r="2.35" fill="#eca83a"/>
<circle cx="405.9" cy="208.5" r="2.35" fill="#eca83a"/>
<circle cx="405.9" cy="213.4" r="2.35" fill="#4a8fd6"/>
<circle cx="405.9" cy="218.4" r="2.35" fill="#ad6bcc"/>
<circle cx="405.9" cy="223.4" r="2.35" fill="#4a8fd6"/>
<circle cx="405.9" cy="228.3" r="2.35" fill="#eca83a"/>
<circle cx="405.9" cy="233.3" r="2.35" fill="#ad6bcc"/>
<circle cx="405.9" cy="238.2" r="2.35" fill="#4a8fd6"/>
<circle cx="405.9" cy="243.2" r="2.35" fill="#4a8fd6"/>
<circle cx="405.9" cy="248.2" r="2.35" fill="#4a8fd6"/>
<circle cx="405.9" cy="253.1" r="2.35" fill="#ad6bcc"/>
<circle cx="405.9" cy="258.1" r="2.35" fill="#ad6bcc"/>
<circle cx="410.2" cy="191.1" r="2.35" fill="#7ccc4e"/>
<circle cx="410.2" cy="196.1" r="2.35" fill="#7ccc4e"/>
<circle cx="410.2" cy="201.0" r="2.35" fill="#eca83a"/>
<circle cx="410.2" cy="206.0" r="2.35" fill="#4a8fd6"/>
<circle cx="410.2" cy="211.0" r="2.35" fill="#4a8fd6"/>
<circle cx="410.2" cy="215.9" r="2.35" fill="#4a8fd6"/>
<circle cx="410.2" cy="220.9" r="2.35" fill="#4a8fd6"/>
<circle cx="410.2" cy="225.8" r="2.35" fill="#4a8fd6"/>
<circle cx="410.2" cy="230.8" r="2.35" fill="#4a8fd6"/>
<circle cx="410.2" cy="235.8" r="2.35" fill="#4a8fd6"/>
<circle cx="410.2" cy="240.7" r="2.35" fill="#4a8fd6"/>
<circle cx="410.2" cy="245.7" r="2.35" fill="#4a8fd6"/>
<circle cx="410.2" cy="250.6" r="2.35" fill="#4a8fd6"/>
<circle cx="410.2" cy="255.6" r="2.35" fill="#4a8fd6"/>
<circle cx="410.2" cy="260.6" r="2.35" fill="#ad6bcc"/>
<circle cx="414.4" cy="193.6" r="2.35" fill="#7ccc4e"/>
<circle cx="414.4" cy="198.6" r="2.35" fill="#7ccc4e"/>
<circle cx="414.4" cy="203.5" r="2.35" fill="#4a8fd6"/>
<circle cx="414.4" cy="208.5" r="2.35" fill="#4a8fd6"/>
<circle cx="414.4" cy="213.4" r="2.35" fill="#ad6bcc"/>
<circle cx="414.4" cy="218.4" r="2.35" fill="#4a8fd6"/>
<circle cx="414.4" cy="223.4" r="2.35" fill="#4a8fd6"/>
<circle cx="414.4" cy="228.3" r="2.35" fill="#4a8fd6"/>
<circle cx="414.4" cy="233.3" r="2.35" fill="#4a8fd6"/>
<circle cx="414.4" cy="238.2" r="2.35" fill="#4a8fd6"/>
<circle cx="414.4" cy="243.2" r="2.35" fill="#4a8fd6"/>
<circle cx="414.4" cy="248.2" r="2.35" fill="#4a8fd6"/>
<circle cx="414.4" cy="253.1" r="2.35" fill="#4a8fd6"/>
<circle cx="414.4" cy="258.1" r="2.35" fill="#4a8fd6"/>
<circle cx="418.7" cy="191.1" r="2.35" fill="#7ccc4e"/>
<circle cx="418.7" cy="196.1" r="2.35" fill="#7ccc4e"/>
<circle cx="418.7" cy="201.0" r="2.35" fill="#ad6bcc"/>
<circle cx="418.7" cy="206.0" r="2.35" fill="#4a8fd6"/>
<circle cx="418.7" cy="211.0" r="2.35" fill="#ad6bcc"/>
<circle cx="418.7" cy="215.9" r="2.35" fill="#ad6bcc"/>
<circle cx="418.7" cy="220.9" r="2.35" fill="#4a8fd6"/>
<circle cx="418.7" cy="225.8" r="2.35" fill="#ad6bcc"/>
<circle cx="418.7" cy="230.8" r="2.35" fill="#ad6bcc"/>
<circle cx="418.7" cy="235.8" r="2.35" fill="#4a8fd6"/>
<circle cx="418.7" cy="240.7" r="2.35" fill="#4a8fd6"/>
<circle cx="418.7" cy="245.7" r="2.35" fill="#4a8fd6"/>
<circle cx="418.7" cy="250.6" r="2.35" fill="#ad6bcc"/>
<circle cx="418.7" cy="255.6" r="2.35" fill="#4a8fd6"/>
<circle cx="418.7" cy="260.6" r="2.35" fill="#ad6bcc"/>
<circle cx="423.0" cy="193.6" r="2.35" fill="#7ccc4e"/>
<circle cx="423.0" cy="198.6" r="2.35" fill="#7ccc4e"/>
<circle cx="423.0" cy="203.5" r="2.35" fill="#ad6bcc"/>
<circle cx="423.0" cy="208.5" r="2.35" fill="#4a8fd6"/>
<circle cx="423.0" cy="213.4" r="2.35" fill="#4a8fd6"/>
<circle cx="423.0" cy="218.4" r="2.35" fill="#4a8fd6"/>
<circle cx="423.0" cy="223.4" r="2.35" fill="#ad6bcc"/>
<circle cx="423.0" cy="228.3" r="2.35" fill="#ad6bcc"/>
<circle cx="423.0" cy="233.3" r="2.35" fill="#4a8fd6"/>
<circle cx="423.0" cy="238.2" r="2.35" fill="#ad6bcc"/>
<circle cx="423.0" cy="243.2" r="2.35" fill="#4a8fd6"/>
<circle cx="423.0" cy="248.2" r="2.35" fill="#4a8fd6"/>
<circle cx="423.0" cy="253.1" r="2.35" fill="#ad6bcc"/>
<circle cx="423.0" cy="258.1" r="2.35" fill="#4a8fd6"/>
<circle cx="427.2" cy="191.1" r="2.35" fill="#7ccc4e"/>
<circle cx="427.2" cy="196.1" r="2.35" fill="#7ccc4e"/>
<circle cx="427.2" cy="201.0" r="2.35" fill="#ad6bcc"/>
<circle cx="427.2" cy="206.0" r="2.35" fill="#ad6bcc"/>
<circle cx="427.2" cy="211.0" r="2.35" fill="#ad6bcc"/>
<circle cx="427.2" cy="215.9" r="2.35" fill="#4a8fd6"/>
<circle cx="427.2" cy="220.9" r="2.35" fill="#4a8fd6"/>
<circle cx="427.2" cy="225.8" r="2.35" fill="#ad6bcc"/>
<circle cx="427.2" cy="230.8" r="2.35" fill="#ad6bcc"/>
<circle cx="427.2" cy="235.8" r="2.35" fill="#4a8fd6"/>
<circle cx="427.2" cy="240.7" r="2.35" fill="#ad6bcc"/>
<circle cx="427.2" cy="245.7" r="2.35" fill="#ad6bcc"/>
<circle cx="427.2" cy="250.6" r="2.35" fill="#ad6bcc"/>
<circle cx="427.2" cy="255.6" r="2.35" fill="#ad6bcc"/>
<circle cx="427.2" cy="260.6" r="2.35" fill="#ad6bcc"/>
</g>
<rect x="233.5" y="280.4" width="201.5" height="54.5" rx="10" ry="10" fill="#e6e6e9"/>
<circle cx="244.6" cy="296.9" r="4.20" fill="#ffffff" stroke="#444" stroke-width="0.6"/>
<circle cx="298.4" cy="296.9" r="4.20" fill="#eca83a" stroke="#444" stroke-width="0.6"/>
<text x="307.4" y="300.2" font-size="9.15" fill="#111">BST</text>
<circle cx="341.2" cy="296.9" r="4.20" fill="#7ccc4e" stroke="#444" stroke-width="0.6"/>
<text x="350.2" y="300.2" font-size="9.15" fill="#111">BIT</text>
<circle cx="379.3" cy="296.9" r="4.20" fill="#eea3b5" stroke="#444" stroke-width="0.6"/>
<text x="388.2" y="300.2" font-size="9.15" fill="#111">Epidermis</text>
<circle cx="244.6" cy="319.9" r="4.20" fill="#6ad0c4" stroke="#444" stroke-width="0.6"/>
<text x="253.0" y="323.2" font-size="9.15" fill="#111">T cell</text>
<circle cx="293.4" cy="319.9" r="4.20" fill="#4a8fd6" stroke="#444" stroke-width="0.6"/>
<text x="302.3" y="323.2" font-size="9.15" fill="#111">Stroma 1</text>
<circle cx="357.7" cy="319.9" r="4.20" fill="#ad6bcc" stroke="#444" stroke-width="0.6"/>
<text x="366.7" y="323.2" font-size="9.15" fill="#111">Stroma 2</text>
<text x="270.3" y="295.7" font-size="9.15" text-anchor="middle" fill="#111">Tumor</text>
<text x="270.3" y="306.7" font-size="9.15" text-anchor="middle" fill="#111">+ Stroma</text>
<rect x="480.3" y="172.7" width="174.4" height="104.0" fill="#000"/>
<g clip-path="url(#cdxclip)">
<polygon points="480.3,206.0 490.0,198.0 500.0,193.0 512.0,186.0 525.0,182.0 545.0,181.0 570.0,180.8 600.0,181.0 630.0,182.0 654.7,184.0 654.7,234.0 640.0,240.0 620.0,249.0 600.0,257.0 580.0,264.0 565.0,270.0 545.0,273.0 520.0,275.0 500.0,276.7 480.3,276.7" fill="url(#bspk)"/>
<g clip-path="url(#tisc)">
<path d="M552,204 Q565,198 582,200 Q598,197 610,202 Q620,208 618,218 Q612,228 600,232 Q585,234 570,232 Q556,230 550,222 Q546,212 552,204 Z" fill="url(#wspk)"/>
<path d="M589.7,238.9 Q593.5,235.7 592.0,230.9 Q594.9,229.1 594.2,225.7 Q596.6,228.1 599.6,226.7 " fill="none" stroke="url(#wspk)" stroke-width="5.0" stroke-linecap="round"/>
<path d="M577.2,242.5 Q582.4,245.1 586.8,241.2 Q592.7,242.1 595.8,236.8 Q597.5,231.8 593.3,228.3 Q596.3,228.2 597.2,225.3 " fill="none" stroke="url(#wspk)" stroke-width="4.7" stroke-linecap="round"/>
<path d="M594.2,249.0 Q597.9,252.2 602.4,249.9 Q605.5,247.5 604.4,243.7 Q608.8,240.5 607.3,235.1 Q611.8,234.2 612.7,229.7 " fill="none" stroke="url(#wspk)" stroke-width="4.6" stroke-linecap="round"/>
<path d="M575.9,218.4 Q574.1,220.3 575.3,222.7 Q571.6,222.8 570.3,226.3 Q569.8,222.6 566.2,221.6 " fill="none" stroke="url(#wspk)" stroke-width="4.9" stroke-linecap="round"/>
<path d="M631.9,200.2 Q630.0,197.1 626.3,197.6 Q621.3,196.1 618.0,200.2 " fill="none" stroke="url(#wspk)" stroke-width="3.3" stroke-linecap="round"/>
<path d="M599.7,221.8 Q596.2,221.3 594.4,224.4 Q591.6,225.4 591.5,228.5 " fill="none" stroke="url(#wspk)" stroke-width="3.1" stroke-linecap="round"/>
<path d="M596.1,237.2 Q592.7,235.9 590.2,238.6 Q586.9,237.7 584.9,240.4 " fill="none" stroke="url(#wspk)" stroke-width="4.5" stroke-linecap="round"/>
<path d="M614.9,205.1 Q613.1,206.8 614.1,209.1 Q609.9,211.7 610.8,216.5 Q607.5,220.3 609.9,224.9 Q606.2,222.3 602.3,224.8 " fill="none" stroke="url(#wspk)" stroke-width="3.9" stroke-linecap="round"/>
<path d="M549.9,201.1 Q547.4,201.8 547.2,204.4 Q546.0,201.2 542.4,201.0 " fill="none" stroke="url(#wspk)" stroke-width="5.2" stroke-linecap="round"/>
<path d="M564.5,205.5 Q569.4,207.1 572.8,203.0 Q573.6,207.7 578.3,208.7 Q579.6,211.1 582.3,210.8 " fill="none" stroke="url(#wspk)" stroke-width="3.0" stroke-linecap="round"/>
<path d="M603.7,200.4 Q601.0,195.9 595.7,196.6 Q590.5,198.8 590.6,204.5 Q585.3,205.1 583.9,210.4 " fill="none" stroke="url(#wspk)" stroke-width="3.4" stroke-linecap="round"/>
<path d="M575.8,226.6 Q574.7,229.7 577.2,231.8 Q578.0,234.8 581.1,235.1 Q582.7,237.1 585.1,236.3 " fill="none" stroke="url(#wspk)" stroke-width="4.8" stroke-linecap="round"/>
<path d="M595.3,212.7 Q595.7,215.7 598.7,216.4 Q595.6,217.2 595.1,220.4 Q593.1,222.6 594.4,225.4 " fill="none" stroke="url(#wspk)" stroke-width="5.4" stroke-linecap="round"/>
<path d="M551.7,213.5 Q547.7,212.1 544.9,215.3 Q541.3,218.0 542.5,222.4 " fill="none" stroke="url(#wspk)" stroke-width="4.7" stroke-linecap="round"/>
<path d="M619.3,214.6 Q616.6,218.0 618.8,221.8 Q617.1,224.8 619.3,227.6 Q620.5,229.7 622.9,229.4 Q620.3,232.0 621.8,235.4 " fill="none" stroke="url(#wspk)" stroke-width="3.7" stroke-linecap="round"/>
<path d="M532.3,190.7 Q528.3,190.1 526.2,193.7 Q525.6,189.2 521.1,188.0 " fill="none" stroke="url(#wspk)" stroke-width="5.5" stroke-linecap="round"/>
<path d="M538.0,245.8 Q542.6,242.9 541.6,237.6 Q545.4,241.5 550.6,239.3 " fill="none" stroke="url(#wspk)" stroke-width="2.9" stroke-linecap="round"/>
<path d="M574.8,192.3 Q577.6,193.7 579.9,191.6 Q582.7,193.4 585.5,191.4 Q589.8,191.8 591.8,187.8 Q594.4,193.1 600.4,192.6 " fill="none" stroke="url(#wspk)" stroke-width="3.9" stroke-linecap="round"/>
<path d="M567.4,235.5 Q572.9,235.2 574.7,229.9 Q577.0,228.2 576.3,225.5 " fill="none" stroke="url(#wspk)" stroke-width="3.1" stroke-linecap="round"/>
<path d="M626.3,214.1 Q623.0,215.3 622.9,218.9 Q622.0,222.5 625.0,224.7 " fill="none" stroke="url(#wspk)" stroke-width="3.4" stroke-linecap="round"/>
<path d="M646.1,237.5 Q650.0,238.4 652.3,235.1 Q652.7,240.3 657.7,241.8 Q656.3,247.3 660.9,250.7 " fill="none" stroke="url(#wspk)" stroke-width="4.6" stroke-linecap="round"/>
<path d="M543.4,223.9 Q545.6,229.0 551.2,228.9 Q547.9,230.8 548.4,234.6 Q545.4,235.1 544.7,238.0 " fill="none" stroke="url(#wspk)" stroke-width="4.7" stroke-linecap="round"/>
<path d="M620.9,213.0 Q615.8,211.6 612.6,215.8 Q609.5,217.1 609.6,220.4 Q608.5,223.2 610.7,225.4 " fill="none" stroke="url(#wspk)" stroke-width="2.8" stroke-linecap="round"/>
<path d="M540.9,217.5 Q538.0,218.2 537.5,221.2 Q536.5,218.8 533.8,218.9 Q529.6,215.8 525.2,218.5 Q519.3,218.1 516.7,223.5 " fill="none" stroke="url(#wspk)" stroke-width="4.8" stroke-linecap="round"/>
<path d="M563.6,242.7 Q567.0,244.7 570.2,242.3 Q568.2,247.0 571.9,250.6 Q567.6,248.9 564.4,252.3 Q564.6,249.0 561.6,247.5 " fill="none" stroke="url(#wspk)" stroke-width="3.4" stroke-linecap="round"/>
<path d="M592.4,209.1 Q591.7,206.5 589.0,206.3 Q585.8,201.6 580.2,202.7 Q576.7,202.6 575.2,205.9 " fill="none" stroke="url(#wspk)" stroke-width="2.9" stroke-linecap="round"/>
<path d="M595.4,188.1 Q594.6,183.6 590.0,182.6 Q591.7,179.0 588.9,176.0 Q591.7,175.2 592.1,172.2 " fill="none" stroke="url(#wspk)" stroke-width="3.9" stroke-linecap="round"/>
<path d="M549.1,242.1 Q552.1,243.2 554.3,240.8 Q557.0,243.5 560.5,242.0 Q563.0,243.9 565.7,242.3 Q566.8,247.4 572.0,248.3 " fill="none" stroke="url(#wspk)" stroke-width="5.3" stroke-linecap="round"/>
<path d="M585.1,214.0 Q582.0,211.6 578.5,213.6 Q573.9,212.0 570.6,215.7 " fill="none" stroke="url(#wspk)" stroke-width="3.8" stroke-linecap="round"/>
<path d="M566.8,243.3 Q571.0,247.2 576.3,244.7 Q574.9,248.7 578.2,251.4 Q577.2,255.2 580.4,257.4 " fill="none" stroke="url(#wspk)" stroke-width="5.4" stroke-linecap="round"/>
<path d="M584.7,249.2 Q586.3,251.7 589.1,251.1 Q592.0,250.8 592.9,248.0 " fill="none" stroke="url(#wspk)" stroke-width="5.1" stroke-linecap="round"/>
<path d="M561.5,187.7 Q565.4,189.5 568.6,186.5 Q571.2,189.8 575.4,188.6 Q574.6,191.0 576.5,192.7 Q573.0,196.1 574.9,200.8 " fill="none" stroke="url(#wspk)" stroke-width="3.6" stroke-linecap="round"/>
<path d="M600.6,188.9 Q602.0,194.3 607.7,195.1 Q602.9,197.0 602.9,202.2 Q603.1,205.9 606.7,207.1 " fill="none" stroke="url(#wspk)" stroke-width="4.1" stroke-linecap="round"/>
<path d="M566.2,235.6 Q563.4,240.1 566.6,244.4 Q569.3,247.7 573.4,246.4 " fill="none" stroke="url(#wspk)" stroke-width="3.2" stroke-linecap="round"/>
<path d="M572.6,225.6 Q575.6,230.5 581.4,229.5 Q581.3,233.6 585.1,235.2 " fill="none" stroke="url(#wspk)" stroke-width="4.6" stroke-linecap="round"/>
<path d="M592.8,214.1 Q588.3,213.3 585.9,217.2 Q584.5,214.7 581.6,215.1 Q576.4,214.2 573.7,218.8 " fill="none" stroke="url(#wspk)" stroke-width="3.6" stroke-linecap="round"/>
<path d="M599.9,221.6 Q599.2,225.6 602.6,227.8 Q598.4,228.6 597.5,232.9 Q594.5,235.6 596.0,239.4 " fill="none" stroke="url(#wspk)" stroke-width="4.9" stroke-linecap="round"/>
<path d="M632.2,190.3 Q633.0,187.6 630.8,185.8 Q636.1,185.3 637.6,180.0 Q639.7,174.5 635.3,170.5 " fill="none" stroke="url(#wspk)" stroke-width="4.6" stroke-linecap="round"/>
<path d="M609.0,242.0 Q614.4,243.0 617.4,238.2 Q620.4,242.6 625.6,241.4 Q630.5,240.0 631.0,234.8 Q634.3,237.4 638.0,235.3 " fill="none" stroke="url(#wspk)" stroke-width="3.9" stroke-linecap="round"/>
<path d="M623.3,229.9 Q621.5,226.5 617.7,226.9 Q612.6,227.4 611.2,232.3 Q608.6,227.5 603.2,228.2 Q603.2,224.1 599.4,222.5 " fill="none" stroke="url(#wspk)" stroke-width="4.9" stroke-linecap="round"/>
<path d="M551.7,190.7 Q550.9,194.6 554.2,196.9 Q555.1,200.8 559.1,201.4 Q564.9,201.0 566.7,195.3 Q568.8,192.7 567.2,189.8 " fill="none" stroke="url(#wspk)" stroke-width="5.2" stroke-linecap="round"/>
<path d="M631.9,208.6 Q630.8,212.9 634.3,215.6 Q631.9,215.2 630.7,217.4 Q625.6,214.3 620.7,218.0 Q616.2,218.0 614.6,222.3 " fill="none" stroke="url(#wspk)" stroke-width="5.0" stroke-linecap="round"/>
<path d="M607.3,195.7 Q610.5,194.4 610.5,190.8 Q611.6,187.6 609.0,185.4 Q609.6,181.4 606.2,179.4 Q601.3,176.5 596.8,180.0 " fill="none" stroke="url(#wspk)" stroke-width="4.0" stroke-linecap="round"/>
<path d="M544.7,214.2 Q540.9,213.9 539.2,217.3 Q537.1,215.4 534.6,216.6 " fill="none" stroke="url(#wspk)" stroke-width="3.3" stroke-linecap="round"/>
<path d="M543.2,185.2 Q547.1,183.9 547.2,179.7 Q549.3,184.2 554.3,184.0 Q558.9,185.8 562.4,182.1 " fill="none" stroke="url(#wspk)" stroke-width="4.0" stroke-linecap="round"/>
<path d="M536.9,191.2 Q533.6,193.8 534.9,198.0 Q531.7,199.4 531.8,203.1 Q530.4,206.6 533.2,209.2 " fill="none" stroke="url(#wspk)" stroke-width="4.0" stroke-linecap="round"/>
<path d="M635.6,234.9 Q637.6,233.5 637.0,231.0 Q636.4,228.6 633.8,228.3 " fill="none" stroke="url(#wspk)" stroke-width="3.8" stroke-linecap="round"/>
<path d="M565.8,198.3 Q561.2,197.9 559.1,202.0 Q553.6,201.7 551.3,206.8 Q547.3,203.2 542.5,205.6 Q539.3,203.4 536.0,205.6 " fill="none" stroke="url(#wspk)" stroke-width="4.2" stroke-linecap="round"/>
<path d="M582.8,244.2 Q586.3,241.2 584.8,236.7 Q585.5,232.3 581.6,230.0 " fill="none" stroke="url(#wspk)" stroke-width="3.8" stroke-linecap="round"/>
<path d="M530.2,240.0 Q527.3,240.9 527.1,243.9 Q523.8,242.4 521.1,244.9 Q522.7,241.0 519.6,238.1 " fill="none" stroke="url(#wspk)" stroke-width="4.3" stroke-linecap="round"/>
<path d="M643.4,203.9 Q644.1,201.0 641.6,199.2 Q644.6,194.4 641.2,189.8 Q645.0,191.3 647.8,188.3 Q650.4,187.7 650.8,185.1 " fill="none" stroke="url(#wspk)" stroke-width="4.9" stroke-linecap="round"/>
<path d="M590.5,206.5 Q592.8,202.0 589.5,198.1 Q589.1,195.4 586.4,194.7 Q584.8,192.4 582.0,193.0 " fill="none" stroke="url(#wspk)" stroke-width="3.4" stroke-linecap="round"/>
<path d="M644.0,239.2 Q641.4,236.0 637.4,237.3 Q640.8,233.1 638.2,228.4 Q642.2,229.1 644.4,225.5 " fill="none" stroke="url(#wspk)" stroke-width="3.4" stroke-linecap="round"/>
<path d="M553.6,246.4 Q552.5,252.0 557.2,255.1 Q560.2,258.2 564.2,256.5 " fill="none" stroke="url(#wspk)" stroke-width="3.0" stroke-linecap="round"/>
<path d="M597.0,216.1 Q593.0,215.6 591.0,219.2 Q586.2,215.7 581.2,218.9 Q578.6,219.2 577.9,221.8 Q574.5,219.5 571.1,221.9 " fill="none" stroke="url(#wspk)" stroke-width="5.2" stroke-linecap="round"/>
<path d="M573.3,230.1 Q568.9,228.0 565.4,231.4 Q563.3,235.6 566.6,239.1 " fill="none" stroke="url(#wspk)" stroke-width="3.0" stroke-linecap="round"/>
<path d="M560.7,225.7 Q564.6,224.1 564.5,219.8 Q569.2,221.0 572.2,217.0 Q572.9,214.6 571.0,213.0 " fill="none" stroke="url(#wspk)" stroke-width="3.0" stroke-linecap="round"/>
<path d="M578.3,186.2 Q575.6,181.5 570.2,182.3 Q572.5,177.8 569.1,173.9 Q573.6,174.9 576.2,171.0 Q576.7,174.4 580.0,175.2 " fill="none" stroke="url(#wspk)" stroke-width="4.2" stroke-linecap="round"/>
<path d="M595.4,220.2 Q591.4,223.8 593.3,228.8 Q596.2,232.2 600.5,230.7 Q605.9,230.6 607.7,225.5 " fill="none" stroke="url(#wspk)" stroke-width="4.6" stroke-linecap="round"/>
<path d="M530.5,241.3 Q534.1,242.2 536.3,239.2 Q539.6,236.4 538.2,232.3 Q541.8,234.9 545.5,232.5 Q547.9,231.8 548.1,229.3 " fill="none" stroke="url(#wspk)" stroke-width="3.9" stroke-linecap="round"/>
<path d="M558.1,249.5 Q559.4,252.7 562.9,252.7 Q562.6,257.0 566.7,258.9 Q566.0,263.2 569.8,265.5 Q571.8,267.6 574.6,266.5 " fill="none" stroke="url(#wspk)" stroke-width="2.9" stroke-linecap="round"/>
<path d="M610.2,195.3 Q611.9,197.5 614.6,196.7 Q617.2,196.3 617.7,193.7 Q619.1,190.8 616.9,188.4 Q618.6,185.4 616.4,182.7 " fill="none" stroke="url(#wspk)" stroke-width="5.4" stroke-linecap="round"/>
<path d="M534.2,213.3 Q534.0,208.5 529.4,206.8 Q524.4,205.6 521.3,209.7 Q516.6,208.6 513.7,212.7 Q512.9,216.5 516.2,218.7 " fill="none" stroke="url(#wspk)" stroke-width="3.3" stroke-linecap="round"/>
<path d="M639.1,186.0 Q641.3,190.7 646.6,190.3 Q652.1,190.9 654.8,185.9 Q657.7,186.9 659.8,184.6 " fill="none" stroke="url(#wspk)" stroke-width="4.7" stroke-linecap="round"/>
<path d="M628.4,229.2 Q629.3,235.0 635.0,236.4 Q632.9,241.7 637.0,245.7 " fill="none" stroke="url(#wspk)" stroke-width="3.6" stroke-linecap="round"/>
<path d="M536.4,226.7 Q542.1,227.4 545.0,222.3 Q545.2,225.9 548.6,227.2 Q552.1,229.5 555.7,227.0 Q554.3,230.0 556.6,232.4 " fill="none" stroke="url(#wspk)" stroke-width="3.5" stroke-linecap="round"/>
<path d="M573.2,247.8 Q568.8,249.4 568.6,254.1 Q566.4,256.7 568.0,259.7 " fill="none" stroke="url(#wspk)" stroke-width="2.8" stroke-linecap="round"/>
<path d="M567.6,237.0 Q567.7,233.2 564.1,231.7 Q562.9,227.2 558.2,226.7 Q555.7,226.1 554.3,228.3 " fill="none" stroke="url(#wspk)" stroke-width="3.5" stroke-linecap="round"/>
<path d="M595.4,207.4 Q591.9,209.6 592.7,213.8 Q594.0,216.5 597.1,216.3 Q594.4,218.1 595.1,221.2 Q596.8,226.5 602.4,226.9 " fill="none" stroke="url(#wspk)" stroke-width="3.9" stroke-linecap="round"/>
<path d="M613.3,230.4 Q611.1,232.2 612.0,235.0 Q611.5,240.8 616.7,243.4 " fill="none" stroke="url(#wspk)" stroke-width="3.7" stroke-linecap="round"/>
<path d="M642.4,223.3 Q640.3,221.7 638.0,223.2 Q638.5,219.5 635.2,217.6 Q633.2,215.5 630.5,216.6 Q628.6,214.9 626.3,216.1 " fill="none" stroke="url(#wspk)" stroke-width="3.3" stroke-linecap="round"/>
<path d="M577.4,187.6 Q582.1,190.0 586.1,186.4 Q588.1,190.4 592.7,190.0 " fill="none" stroke="url(#wspk)" stroke-width="4.4" stroke-linecap="round"/>
<path d="M571.0,203.0 Q574.4,206.3 578.8,204.4 Q583.0,200.5 580.9,195.2 Q584.1,194.6 584.8,191.4 " fill="none" stroke="url(#wspk)" stroke-width="4.5" stroke-linecap="round"/>
<path d="M546.9,218.2 Q545.9,221.4 548.4,223.5 Q549.1,226.7 552.3,227.2 Q554.7,226.8 555.2,224.3 " fill="none" stroke="url(#wspk)" stroke-width="5.2" stroke-linecap="round"/>
<path d="M543.4,190.1 Q547.7,187.5 546.8,182.4 Q550.3,187.1 556.0,185.6 Q556.8,188.4 559.7,188.6 " fill="none" stroke="url(#wspk)" stroke-width="5.1" stroke-linecap="round"/>
<path d="M630.2,212.8 Q629.5,216.3 632.7,218.3 Q634.9,221.0 638.4,219.9 " fill="none" stroke="url(#wspk)" stroke-width="3.6" stroke-linecap="round"/>
<path d="M595.8,235.1 Q600.2,234.6 601.3,230.3 Q603.4,226.9 600.9,223.6 Q598.5,220.4 594.6,221.4 Q592.9,219.2 590.2,219.9 " fill="none" stroke="url(#wspk)" stroke-width="4.7" stroke-linecap="round"/>
<path d="M538.2,211.1 Q541.0,209.1 540.2,205.8 Q539.6,203.3 537.0,202.9 Q539.1,197.6 534.9,193.7 Q531.3,192.1 528.5,194.9 " fill="none" stroke="url(#wspk)" stroke-width="4.9" stroke-linecap="round"/>
<path d="M630.2,236.2 Q627.5,238.4 628.4,241.8 Q622.9,243.2 622.2,249.0 Q623.1,253.6 627.8,254.5 " fill="none" stroke="url(#wspk)" stroke-width="4.4" stroke-linecap="round"/>
<path d="M562.7,196.3 Q564.6,191.4 560.7,187.7 Q564.1,183.0 560.9,178.0 " fill="none" stroke="url(#wspk)" stroke-width="5.1" stroke-linecap="round"/>
<path d="M605.7,212.7 Q600.7,215.1 601.0,220.7 Q602.1,223.9 605.5,224.0 " fill="none" stroke="url(#wspk)" stroke-width="3.0" stroke-linecap="round"/>
<path d="M593.7,209.5 Q596.4,208.6 596.5,205.8 Q598.7,209.2 602.8,208.4 Q605.5,208.6 606.7,206.1 Q612.4,206.9 615.3,201.9 " fill="none" stroke="url(#wspk)" stroke-width="3.7" stroke-linecap="round"/>
<path d="M570.2,242.6 Q564.7,243.0 563.0,248.3 Q562.7,244.5 559.1,243.4 Q561.3,241.7 560.5,238.9 Q561.2,233.2 556.1,230.4 " fill="none" stroke="url(#wspk)" stroke-width="3.4" stroke-linecap="round"/>
<path d="M572.3,205.6 Q569.7,206.2 569.2,208.9 Q568.4,211.7 570.7,213.5 " fill="none" stroke="url(#wspk)" stroke-width="4.2" stroke-linecap="round"/>
<path d="M577.5,230.4 Q577.9,235.6 582.9,237.1 Q588.2,238.2 591.3,233.6 " fill="none" stroke="url(#wspk)" stroke-width="2.8" stroke-linecap="round"/>
<path d="M586.0,244.9 Q588.2,248.1 592.0,247.2 Q595.0,251.4 600.1,250.1 Q603.5,251.2 605.8,248.4 " fill="none" stroke="url(#wspk)" stroke-width="2.9" stroke-linecap="round"/>
<path d="M562.8,198.4 Q564.9,196.9 564.2,194.4 Q567.9,190.0 565.1,185.0 Q564.9,179.2 559.4,177.2 Q562.2,174.6 560.8,171.0 " fill="none" stroke="url(#wspk)" stroke-width="3.4" stroke-linecap="round"/>
<path d="M551.1,243.3 Q548.9,239.2 544.1,239.7 Q541.5,238.3 539.2,240.2 Q536.3,239.0 534.1,241.3 Q530.6,240.2 528.3,243.0 " fill="none" stroke="url(#wspk)" stroke-width="3.3" stroke-linecap="round"/>
<path d="M563.4,244.8 Q565.3,241.3 562.7,238.1 Q565.3,236.6 564.8,233.5 Q568.1,229.6 565.6,225.0 " fill="none" stroke="url(#wspk)" stroke-width="5.4" stroke-linecap="round"/>
<path d="M544.0,218.4 Q545.2,215.5 542.9,213.3 Q541.2,208.8 536.3,208.6 Q541.1,206.0 540.4,200.4 " fill="none" stroke="url(#wspk)" stroke-width="3.6" stroke-linecap="round"/>
<path d="M528.6,240.3 Q525.7,238.1 522.5,239.9 Q522.5,237.2 519.9,236.2 Q522.7,234.3 521.9,230.9 Q525.3,230.6 526.3,227.3 " fill="none" stroke="url(#wspk)" stroke-width="4.8" stroke-linecap="round"/>
<path d="M550.6,212.4 Q553.2,210.0 552.0,206.7 Q548.8,203.0 544.1,204.6 Q541.6,202.4 538.6,203.9 Q534.3,202.5 531.4,206.0 " fill="none" stroke="url(#wspk)" stroke-width="4.1" stroke-linecap="round"/>
<path d="M540.1,188.6 Q543.5,187.2 543.5,183.4 Q545.9,184.7 548.0,182.9 " fill="none" stroke="url(#wspk)" stroke-width="5.4" stroke-linecap="round"/>
<path d="M558.3,204.5 Q554.9,202.2 551.4,204.6 Q548.7,207.0 549.9,210.5 Q547.5,213.7 549.6,217.1 Q549.4,219.8 552.0,221.0 " fill="none" stroke="url(#wspk)" stroke-width="2.9" stroke-linecap="round"/>
<path d="M602.7,247.2 Q599.0,248.8 599.2,252.9 Q600.8,256.5 604.8,256.4 " fill="none" stroke="url(#wspk)" stroke-width="4.6" stroke-linecap="round"/>
<path d="M589.3,199.6 Q587.7,194.6 582.4,194.2 Q582.3,189.9 578.3,188.4 Q575.2,185.9 571.7,187.8 Q567.9,187.4 566.1,190.9 " fill="none" stroke="url(#wspk)" stroke-width="3.6" stroke-linecap="round"/>
<path d="M644.9,220.8 Q640.7,217.2 635.9,219.8 Q630.1,220.0 628.1,225.5 Q622.4,226.6 621.3,232.3 Q619.8,235.3 622.0,237.8 " fill="none" stroke="url(#wspk)" stroke-width="3.7" stroke-linecap="round"/>
<path d="M577.9,242.9 Q578.3,239.6 575.3,238.0 Q576.2,233.6 572.3,231.1 Q570.0,225.9 564.3,226.1 Q569.7,223.7 569.5,217.7 " fill="none" stroke="url(#wspk)" stroke-width="4.8" stroke-linecap="round"/>
<path d="M643.0,234.7 Q645.4,240.1 651.4,239.7 Q653.6,245.2 659.6,245.2 Q656.1,246.7 656.1,250.6 " fill="none" stroke="url(#wspk)" stroke-width="2.8" stroke-linecap="round"/>
<path d="M603.8,223.9 Q604.5,218.5 599.5,215.8 Q602.4,213.8 601.6,210.4 " fill="none" stroke="url(#wspk)" stroke-width="3.9" stroke-linecap="round"/>
<path d="M577.7,233.1 Q581.1,235.4 584.6,233.1 Q584.6,236.6 587.9,237.8 Q586.8,239.9 588.3,241.8 Q591.6,246.1 596.8,244.6 " fill="none" stroke="url(#wspk)" stroke-width="3.8" stroke-linecap="round"/>
<path d="M613.3,245.2 Q614.5,242.0 611.9,239.6 Q607.8,237.4 604.2,240.4 Q602.6,243.2 604.6,245.8 Q606.7,248.2 609.8,247.1 " fill="none" stroke="url(#wspk)" stroke-width="2.9" stroke-linecap="round"/>
<path d="M533.5,249.1 Q535.6,252.2 539.3,251.4 Q543.2,252.2 545.3,248.8 " fill="none" stroke="url(#wspk)" stroke-width="3.2" stroke-linecap="round"/>
<path d="M561.6,186.7 Q562.4,184.2 560.3,182.4 Q556.4,178.2 551.0,180.3 " fill="none" stroke="url(#wspk)" stroke-width="4.0" stroke-linecap="round"/>
<path d="M484.2,231.2 Q485.1,233.6 487.6,233.8 Q483.5,236.3 484.4,241.2 " fill="none" stroke="url(#wspk)" stroke-width="3.7" stroke-linecap="round"/>
<path d="M494.4,211.7 Q490.4,209.4 486.7,212.3 Q482.8,213.9 482.8,218.0 Q478.7,221.4 480.3,226.6 Q477.1,229.4 478.6,233.5 " fill="none" stroke="url(#wspk)" stroke-width="3.6" stroke-linecap="round"/>
<path d="M484.6,211.2 Q484.4,207.5 480.8,206.4 Q476.3,205.3 473.6,209.1 " fill="none" stroke="url(#wspk)" stroke-width="3.1" stroke-linecap="round"/>
<path d="M496.6,208.3 Q502.0,208.8 504.4,203.9 Q506.3,200.9 504.2,198.0 Q506.7,193.1 502.9,188.9 " fill="none" stroke="url(#wspk)" stroke-width="4.0" stroke-linecap="round"/>
<path d="M497.1,258.9 Q500.0,255.5 497.9,251.5 Q495.0,246.9 489.6,247.9 Q484.7,248.4 483.3,253.3 Q478.6,250.5 474.2,253.9 " fill="none" stroke="url(#wspk)" stroke-width="3.7" stroke-linecap="round"/>
<path d="M493.8,247.0 Q490.7,248.7 491.2,252.2 Q487.8,252.8 487.1,256.3 " fill="none" stroke="url(#wspk)" stroke-width="4.1" stroke-linecap="round"/>
<path d="M489.0,250.0 Q486.1,253.3 488.0,257.3 Q489.1,262.4 494.3,263.3 Q494.3,266.6 497.3,267.8 Q499.4,273.4 505.4,273.6 " fill="none" stroke="url(#wspk)" stroke-width="4.2" stroke-linecap="round"/>
<path d="M490.9,224.0 Q492.9,227.1 496.6,226.5 Q498.6,231.3 503.9,231.2 Q504.6,236.4 509.7,237.7 Q514.5,240.2 518.5,236.6 " fill="none" stroke="url(#wspk)" stroke-width="4.1" stroke-linecap="round"/>
<path d="M483.7,228.5 Q487.0,227.2 487.0,223.6 Q489.5,222.8 489.6,220.0 " fill="none" stroke="url(#wspk)" stroke-width="4.4" stroke-linecap="round"/>
<path d="M485.6,240.8 Q490.3,237.2 488.8,231.4 Q492.2,231.9 494.0,228.8 Q493.8,232.0 496.7,233.3 " fill="none" stroke="url(#wspk)" stroke-width="3.3" stroke-linecap="round"/>
<path d="M480.6,271.3 Q476.4,274.2 477.5,279.3 Q472.9,275.8 467.8,278.8 Q464.0,275.7 459.7,278.2 " fill="none" stroke="url(#wspk)" stroke-width="3.5" stroke-linecap="round"/>
<path d="M487.8,230.7 Q490.2,227.6 488.3,224.2 Q490.8,221.3 489.1,217.9 Q487.7,213.6 483.2,213.3 Q477.5,215.1 477.0,221.1 " fill="none" stroke="url(#wspk)" stroke-width="3.1" stroke-linecap="round"/>
<path d="M494.7,238.1 Q492.4,236.2 489.8,237.6 Q492.7,232.8 489.3,228.3 Q488.4,223.7 483.7,222.8 " fill="none" stroke="url(#wspk)" stroke-width="2.9" stroke-linecap="round"/>
<path d="M489.7,239.2 Q489.9,236.2 487.1,234.9 Q486.7,230.0 482.0,228.5 Q485.9,225.4 484.5,220.5 " fill="none" stroke="url(#wspk)" stroke-width="3.0" stroke-linecap="round"/>
<path d="M481.7,208.9 Q484.5,204.3 481.3,199.9 Q487.1,199.9 489.3,194.4 Q490.8,199.6 496.3,200.1 " fill="none" stroke="url(#wspk)" stroke-width="2.9" stroke-linecap="round"/>
<path d="M495.1,257.3 Q494.9,252.1 489.9,250.3 Q486.7,247.6 482.9,249.7 Q481.9,247.3 479.3,247.2 Q474.0,245.6 470.6,249.9 " fill="none" stroke="url(#wspk)" stroke-width="3.2" stroke-linecap="round"/>
<path d="M501.5,271.3 Q496.0,273.6 496.1,279.6 Q492.9,282.9 494.7,287.2 Q490.5,284.6 486.5,287.5 " fill="none" stroke="url(#wspk)" stroke-width="3.1" stroke-linecap="round"/>
<path d="M485.4,246.4 Q483.4,244.6 480.8,245.8 Q478.1,245.2 476.6,247.5 Q474.7,250.0 476.4,252.7 " fill="none" stroke="url(#wspk)" stroke-width="2.6" stroke-linecap="round"/>
<path d="M497.7,253.0 Q496.3,255.6 498.2,257.9 Q500.3,260.8 503.8,259.9 " fill="none" stroke="url(#wspk)" stroke-width="4.4" stroke-linecap="round"/>
<path d="M490.7,207.8 Q488.5,202.7 482.9,202.9 Q481.1,201.0 478.6,202.0 Q476.8,199.3 473.7,200.0 Q469.1,199.9 467.3,204.2 " fill="none" stroke="url(#wspk)" stroke-width="4.1" stroke-linecap="round"/>
<path d="M493.3,257.3 Q496.4,256.7 496.9,253.6 Q499.0,255.0 501.1,253.5 Q503.1,252.0 502.3,249.6 " fill="none" stroke="url(#wspk)" stroke-width="4.3" stroke-linecap="round"/>
<path d="M494.4,263.1 Q494.2,257.7 489.0,255.8 Q489.1,252.9 486.4,251.7 Q490.7,249.7 490.5,244.8 " fill="none" stroke="url(#wspk)" stroke-width="3.7" stroke-linecap="round"/>
<path d="M593.4,248.7 Q591.0,250.6 591.8,253.6 Q593.2,256.9 596.9,256.8 Q594.3,259.8 596.1,263.4 Q592.9,263.9 592.1,267.1 " fill="none" stroke="url(#wspk)" stroke-width="3.3" stroke-linecap="round"/>
<path d="M590.8,254.9 Q593.0,253.6 592.6,251.0 Q591.2,246.5 586.5,246.2 " fill="none" stroke="url(#wspk)" stroke-width="2.2" stroke-linecap="round"/>
<path d="M632.6,252.9 Q633.1,247.4 628.2,244.8 Q634.1,245.0 636.4,239.4 " fill="none" stroke="url(#wspk)" stroke-width="2.4" stroke-linecap="round"/>
<path d="M596.6,259.6 Q593.4,261.0 593.5,264.4 Q591.3,266.3 592.3,269.0 Q590.0,271.6 591.5,274.8 " fill="none" stroke="url(#wspk)" stroke-width="2.7" stroke-linecap="round"/>
<path d="M605.8,241.9 Q604.3,244.9 606.5,247.5 Q603.3,251.4 605.8,255.9 Q604.4,258.5 606.4,260.8 " fill="none" stroke="url(#wspk)" stroke-width="2.8" stroke-linecap="round"/>
<path d="M617.8,245.3 Q620.2,247.1 622.7,245.5 Q623.5,250.6 628.5,251.8 Q623.5,254.7 624.4,260.4 " fill="none" stroke="url(#wspk)" stroke-width="3.3" stroke-linecap="round"/>
<path d="M557.7,258.3 Q552.7,258.0 550.5,262.7 Q548.5,267.1 551.9,270.7 Q553.5,275.4 558.5,275.6 Q558.7,278.0 561.1,278.7 " fill="none" stroke="url(#wspk)" stroke-width="3.1" stroke-linecap="round"/>
<path d="M549.1,259.9 Q545.6,256.0 540.7,257.9 Q542.0,253.1 538.1,250.0 " fill="none" stroke="url(#wspk)" stroke-width="3.5" stroke-linecap="round"/>
<path d="M542.7,241.1 Q542.5,246.3 547.4,248.3 Q550.2,251.2 554.0,249.6 " fill="none" stroke="url(#wspk)" stroke-width="3.1" stroke-linecap="round"/>
<path d="M620.5,243.8 Q618.9,246.8 621.2,249.5 Q623.4,254.7 629.1,254.7 Q631.1,258.3 635.2,257.8 " fill="none" stroke="url(#wspk)" stroke-width="2.2" stroke-linecap="round"/>
<path d="M651.7,208.6 Q653.1,214.0 650.5,218.2 Q647.9,222.3 645.2,226.7 Q642.4,231.1 638.6,228.1 Q634.8,225.2 631.9,222.1 Q629.0,219.0 628.3,213.7 Q627.6,208.4 631.5,206.3 Q635.5,204.2 638.9,200.9 Q642.3,197.7 646.3,200.4 Q650.3,203.2 651.7,208.6 Z" fill="url(#bspk)"/>
<path d="M654.4,197.2 Q655.9,200.0 654.1,202.2 Q652.2,204.4 650.4,207.1 Q648.6,209.8 646.7,206.9 Q644.8,204.0 644.9,200.0 Q644.9,196.1 647.0,195.0 Q649.1,193.9 651.0,194.1 Q652.8,194.4 654.4,197.2 Z" fill="url(#wspk)"/>
<path d="M643.3,221.4 Q644.3,222.0 643.5,222.8 Q642.8,223.5 641.6,223.7 Q640.3,223.9 639.3,223.4 Q638.3,222.9 638.6,222.1 Q638.9,221.3 639.7,220.8 Q640.4,220.3 641.4,220.5 Q642.4,220.8 643.3,221.4 Z" fill="url(#wspk)"/>
</g>
<path d="M570.2,241.4 Q571.7,242.0 570.8,242.8 Q569.9,243.6 568.0,243.8 Q566.0,243.9 563.1,244.1 Q560.2,244.4 561.2,243.2 Q562.2,242.0 562.6,241.4 Q562.9,240.7 564.5,240.0 Q566.0,239.3 567.4,240.1 Q568.7,240.9 570.2,241.4 Z" fill="url(#bspk)"/>
<path d="M615.2,234.1 Q616.2,236.0 615.2,237.8 Q614.2,239.6 613.1,239.7 Q612.0,239.7 611.0,239.5 Q610.1,239.2 609.1,237.6 Q608.2,236.0 608.9,234.0 Q609.6,232.0 610.8,231.4 Q612.0,230.8 613.1,231.5 Q614.3,232.2 615.2,234.1 Z" fill="url(#bspk)"/>
<path d="M624.5,214.0 Q625.0,216.0 624.9,218.8 Q624.8,221.7 623.4,221.1 Q622.0,220.4 621.3,219.6 Q620.6,218.7 619.8,217.4 Q618.9,216.0 619.2,213.5 Q619.5,211.0 620.7,210.7 Q622.0,210.5 623.0,211.3 Q624.0,212.1 624.5,214.0 Z" fill="url(#bspk)"/>
<path d="M562.7,197.5 Q563.8,198.0 563.1,198.8 Q562.4,199.6 561.2,199.5 Q560.0,199.5 559.3,199.2 Q558.7,198.9 557.5,198.4 Q556.4,198.0 557.4,197.5 Q558.4,197.0 559.2,196.7 Q560.0,196.4 560.8,196.7 Q561.5,197.0 562.7,197.5 Z" fill="url(#bspk)"/>
<path d="M602.8,194.9 Q603.4,196.0 602.6,196.9 Q601.8,197.8 600.9,198.1 Q600.0,198.4 599.1,198.1 Q598.2,197.8 598.2,196.9 Q598.2,196.0 597.9,194.8 Q597.7,193.7 598.8,193.9 Q600.0,194.1 601.1,194.0 Q602.2,193.8 602.8,194.9 Z" fill="url(#bspk)"/>
<path d="M586.6,225.0 Q586.3,226.0 586.0,226.5 Q585.6,227.1 584.8,227.5 Q584.0,228.0 582.6,227.9 Q581.2,227.9 580.7,226.9 Q580.1,226.0 580.8,225.2 Q581.5,224.3 582.7,223.8 Q584.0,223.3 585.4,223.7 Q586.9,224.1 586.6,225.0 Z" fill="url(#bspk)"/>
<path d="M583.7,201.5 Q583.9,205.0 583.3,208.0 Q582.8,211.0 580.4,212.3 Q578.0,213.7 574.8,213.4 Q571.5,213.1 571.7,209.1 Q571.9,205.0 571.7,201.0 Q571.5,196.9 574.8,196.3 Q578.0,195.7 580.8,196.8 Q583.6,198.0 583.7,201.5 Z" fill="#e8a236"/>
<path d="M597.6,210.0 Q597.9,214.0 597.3,217.8 Q596.8,221.5 593.4,223.4 Q590.0,225.2 587.2,222.7 Q584.4,220.3 583.2,217.1 Q581.9,214.0 583.0,210.7 Q584.1,207.4 587.0,206.3 Q590.0,205.3 593.6,205.6 Q597.3,205.9 597.6,210.0 Z" fill="#e8a236"/>
<path d="M604.9,221.6 Q605.7,225.0 604.1,227.3 Q602.4,229.6 600.7,231.8 Q599.0,234.0 597.3,231.8 Q595.5,229.6 595.0,227.3 Q594.5,225.0 594.4,221.8 Q594.2,218.6 596.6,219.0 Q599.0,219.3 601.5,218.8 Q604.1,218.2 604.9,221.6 Z" fill="#e8a236"/>
<path d="M576.4,220.5 Q578.4,222.0 577.3,224.6 Q576.3,227.2 574.2,228.1 Q572.0,229.0 570.0,227.9 Q568.0,226.8 567.2,224.4 Q566.4,222.0 567.3,219.7 Q568.2,217.5 570.1,216.6 Q572.0,215.7 573.2,217.4 Q574.5,219.0 576.4,220.5 Z" fill="#e8a236"/>
<path d="M589.7,194.9 Q590.9,196.0 590.1,197.5 Q589.4,198.9 587.2,199.0 Q585.0,199.1 582.4,199.3 Q579.7,199.5 578.9,197.8 Q578.1,196.0 580.0,195.0 Q582.0,194.0 583.5,192.9 Q585.0,191.9 586.7,192.8 Q588.4,193.7 589.7,194.9 Z" fill="#e8a236"/>
<path d="M549.3,215.2 Q552.3,217.0 549.6,219.1 Q546.8,221.2 544.4,222.5 Q542.0,223.8 539.2,222.9 Q536.3,222.0 534.4,219.5 Q532.6,217.0 535.2,215.2 Q537.9,213.4 539.9,211.0 Q542.0,208.6 544.1,211.0 Q546.2,213.3 549.3,215.2 Z" fill="#e8a236"/>
<path d="M556.1,220.6 Q556.4,222.0 556.0,223.3 Q555.6,224.6 554.3,225.7 Q553.0,226.9 551.9,225.5 Q550.9,224.1 550.4,223.1 Q549.9,222.0 550.3,220.8 Q550.6,219.6 551.8,219.0 Q553.0,218.5 554.4,218.8 Q555.8,219.2 556.1,220.6 Z" fill="#e8a236"/>
<path d="M552.3,208.7 Q553.1,210.0 552.0,211.1 Q550.9,212.2 549.5,212.5 Q548.0,212.8 546.3,212.7 Q544.7,212.5 544.7,211.3 Q544.8,210.0 544.8,208.8 Q544.9,207.7 546.5,207.1 Q548.0,206.6 549.7,207.0 Q551.4,207.4 552.3,208.7 Z" fill="#e8a236"/>
<path d="M577.2,194.5 Q576.9,196.0 577.2,197.6 Q577.6,199.1 575.8,199.3 Q574.0,199.5 572.7,198.8 Q571.5,198.2 570.4,197.1 Q569.3,196.0 570.1,194.6 Q570.9,193.3 572.5,192.5 Q574.0,191.6 575.7,192.3 Q577.4,193.0 577.2,194.5 Z" fill="#e8a236"/>
<path d="M614.4,206.5 Q614.6,208.0 614.3,209.4 Q614.1,210.8 613.0,210.8 Q612.0,210.9 611.2,210.5 Q610.4,210.1 609.5,209.1 Q608.6,208.0 609.1,206.3 Q609.5,204.7 610.8,204.6 Q612.0,204.5 613.1,204.8 Q614.2,205.1 614.4,206.5 Z" fill="#e8a236"/>
<path d="M617.7,195.5 Q618.3,196.0 617.7,196.5 Q617.0,197.0 616.5,197.4 Q616.0,197.7 615.3,197.6 Q614.5,197.5 614.1,196.7 Q613.7,196.0 614.3,195.4 Q614.8,194.8 615.4,194.5 Q616.0,194.2 616.5,194.5 Q617.1,194.9 617.7,195.5 Z" fill="#e8a236"/>
<path d="M494.9,233.2 Q495.9,234.0 494.9,234.8 Q493.8,235.5 492.9,235.8 Q492.0,236.1 490.7,236.1 Q489.5,236.1 489.6,235.0 Q489.8,234.0 490.1,233.3 Q490.3,232.6 491.2,231.7 Q492.0,230.8 493.0,231.6 Q494.0,232.4 494.9,233.2 Z" fill="#e8a236"/>
<path d="M558.9,239.4 Q559.2,240.0 558.7,240.5 Q558.3,241.0 557.6,241.7 Q557.0,242.3 556.0,241.9 Q555.1,241.5 554.9,240.8 Q554.8,240.0 555.1,239.3 Q555.4,238.7 556.2,238.6 Q557.0,238.5 557.8,238.6 Q558.5,238.8 558.9,239.4 Z" fill="#e8a236"/>
<path d="M550.5,197.1 Q550.8,198.0 550.4,198.8 Q550.0,199.7 549.0,200.0 Q548.0,200.3 547.1,199.9 Q546.2,199.5 545.9,198.7 Q545.6,198.0 545.8,197.2 Q546.0,196.3 547.0,196.3 Q548.0,196.2 549.1,196.2 Q550.1,196.2 550.5,197.1 Z" fill="#e8a236"/>
<path d="M602.3,189.1 Q602.5,190.0 602.3,190.8 Q602.0,191.6 601.0,191.6 Q600.0,191.6 599.1,191.5 Q598.2,191.4 597.9,190.7 Q597.5,190.0 597.8,189.2 Q598.0,188.4 599.0,188.3 Q600.0,188.1 601.1,188.2 Q602.2,188.3 602.3,189.1 Z" fill="#e8a236"/>
<path d="M532.5,216.2 Q533.0,217.0 532.2,217.6 Q531.4,218.1 530.7,218.7 Q530.0,219.2 528.9,219.0 Q527.8,218.8 527.5,217.9 Q527.3,217.0 528.0,216.5 Q528.6,215.9 529.3,215.6 Q530.0,215.3 531.0,215.3 Q532.0,215.4 532.5,216.2 Z" fill="#e8a236"/>
<path d="M607.7,213.1 Q607.9,214.0 607.6,214.8 Q607.3,215.5 606.6,216.3 Q606.0,217.2 605.1,216.7 Q604.2,216.2 603.8,215.1 Q603.4,214.0 604.0,213.1 Q604.6,212.3 605.3,211.5 Q606.0,210.8 606.7,211.5 Q607.4,212.3 607.7,213.1 Z" fill="#e8a236"/>
<path d="M605.6,231.8 Q606.4,233.0 605.7,234.4 Q605.1,235.8 604.0,236.0 Q603.0,236.1 601.8,236.1 Q600.7,236.1 600.1,234.6 Q599.5,233.0 600.0,231.3 Q600.4,229.6 601.7,229.0 Q603.0,228.4 603.9,229.5 Q604.8,230.5 605.6,231.8 Z" fill="#e8a236"/>
<path d="M587.2,211.3 Q587.6,212.0 587.1,212.6 Q586.6,213.1 585.9,213.2 Q585.2,213.3 584.8,212.7 Q584.3,212.0 584.8,211.4 Q585.4,210.9 586.1,210.7 Q586.8,210.6 587.2,211.3 Z" fill="url(#bspk)"/>
<path d="M595.0,221.2 Q595.3,222.0 594.9,222.6 Q594.5,223.2 593.9,223.3 Q593.3,223.4 593.1,222.7 Q592.8,222.0 593.2,221.4 Q593.5,220.9 594.1,220.7 Q594.7,220.5 595.0,221.2 Z" fill="url(#bspk)"/>
<path d="M579.1,213.4 Q579.5,214.0 579.1,214.6 Q578.7,215.2 578.0,215.1 Q577.3,215.1 577.1,214.5 Q576.8,214.0 577.1,213.5 Q577.4,213.0 578.0,212.9 Q578.7,212.8 579.1,213.4 Z" fill="url(#bspk)"/>
<path d="M512.2,185.7 Q520,182 530.6,180.5 L541,181.8 L542.4,189.7 Q538,193 534.5,196.3 Q530,200 527.9,204.2 Q524,208 520,212 Q514,216 509.5,218.6 L501.6,216 Q498,212 496.4,209.4 Q500,205 504.3,201.5 Q498,203 490,204.5 L480.6,205 L480.6,197.5 Q495,196 506,194 Q509,190 512.2,185.7 Z" fill="#cf8a9e"/>
<ellipse cx="516" cy="197" rx="2.2" ry="1.6" fill="#222"/>
<ellipse cx="521" cy="192" rx="2" ry="1.5" fill="#222"/>
<ellipse cx="511" cy="203" rx="2" ry="1.5" fill="#222"/>
<ellipse cx="528" cy="187" rx="1.8" ry="1.2" fill="#222"/>
<ellipse cx="534" cy="185" rx="1.5" ry="1.2" fill="#222"/>
<path d="M493.8,219.9 L504.3,216 L517.4,206.8 L527.9,196.3 L534.5,201.5 L530.6,209.4 L526.6,219.9 L525.3,231.8 L522.7,241 L517.4,248.8 L510.8,244.9 L504.3,235.7 L497.7,229.1 Z" fill="#55c4c6"/>
<path d="M506.5,200.5 Q507.0,201.0 506.7,201.8 Q506.4,202.5 505.5,202.4 Q504.7,202.4 503.9,202.1 Q503.2,201.8 503.3,201.0 Q503.3,200.3 504.0,200.0 Q504.7,199.7 505.3,199.8 Q505.9,200.0 506.5,200.5 Z" fill="#c8c830"/>
<path d="M490.5,209.2 Q490.5,210.0 490.5,210.8 Q490.6,211.6 489.6,211.4 Q488.6,211.3 487.8,211.0 Q487.0,210.8 487.1,210.0 Q487.2,209.3 487.9,208.8 Q488.5,208.3 489.5,208.4 Q490.5,208.4 490.5,209.2 Z" fill="#c8c830"/>
<path d="M499.4,215.3 Q499.4,216.0 499.3,216.5 Q499.1,217.0 498.3,217.3 Q497.5,217.6 496.8,217.1 Q496.1,216.7 495.9,216.0 Q495.8,215.2 496.7,214.9 Q497.6,214.6 498.5,214.6 Q499.4,214.6 499.4,215.3 Z" fill="#c8c830"/>
<path d="M533.0,189.5 Q533.2,190.0 533.1,190.6 Q533.0,191.1 532.4,191.1 Q531.7,191.1 531.2,190.8 Q530.7,190.5 530.6,189.9 Q530.4,189.3 531.0,188.9 Q531.6,188.6 532.3,188.8 Q532.9,189.0 533.0,189.5 Z" fill="#c8c830"/>
<path d="M544,187 Q552,184 560,185 Q566,184 570,186 Q568,192 562,194 Q554,196 548,194 Q543,191 544,187 Z" fill="#68c83a"/>
<path d="M512,236 Q518,234 522,240 Q526,246 524,254 Q520,260 514,259 Q510,254 512,246 Z" fill="#d41e1e"/>
<path d="M600.2,187.8 Q600.2,190.0 600.5,192.7 Q600.7,195.5 599.4,196.6 Q598.0,197.8 596.6,196.6 Q595.3,195.5 595.3,192.7 Q595.3,190.0 595.6,187.8 Q595.8,185.7 596.9,184.7 Q598.0,183.8 599.1,184.7 Q600.2,185.6 600.2,187.8 Z" fill="#d41e1e"/>
<path d="M608.8,184.6 Q608.9,186.0 608.4,187.0 Q607.9,187.9 607.0,188.5 Q606.0,189.0 605.1,188.4 Q604.2,187.8 603.9,186.9 Q603.7,186.0 603.5,184.6 Q603.2,183.2 604.6,182.6 Q606.0,182.0 607.4,182.6 Q608.7,183.3 608.8,184.6 Z" fill="#d41e1e"/>
<path d="M636.0,187.1 Q636.8,188.0 636.8,189.4 Q636.9,190.9 634.5,190.8 Q632.0,190.7 629.9,190.6 Q627.8,190.5 627.2,189.2 Q626.7,188.0 627.8,187.1 Q628.9,186.2 630.5,185.8 Q632.0,185.3 633.6,185.7 Q635.2,186.1 636.0,187.1 Z" fill="#d41e1e"/>
<path d="M645.0,191.1 Q645.5,192.0 645.5,193.3 Q645.5,194.7 643.8,194.5 Q642.0,194.4 640.4,194.4 Q638.7,194.5 639.0,193.2 Q639.4,192.0 639.1,190.8 Q638.9,189.7 640.4,189.1 Q642.0,188.5 643.3,189.3 Q644.5,190.1 645.0,191.1 Z" fill="#d41e1e"/>
<path d="M649.8,195.4 Q650.3,196.0 650.1,197.0 Q649.9,197.9 649.0,198.0 Q648.0,198.0 647.4,197.6 Q646.8,197.2 646.5,196.6 Q646.3,196.0 646.5,195.3 Q646.6,194.6 647.3,194.0 Q648.0,193.3 648.6,194.0 Q649.3,194.7 649.8,195.4 Z" fill="#d41e1e"/>
<path d="M521.0,263.1 Q521.2,264.0 520.3,264.5 Q519.5,265.0 518.7,265.5 Q518.0,266.1 516.9,265.8 Q515.8,265.5 515.4,264.7 Q515.1,264.0 515.8,263.5 Q516.5,263.0 517.2,262.3 Q518.0,261.7 519.4,261.9 Q520.8,262.1 521.0,263.1 Z" fill="#d41e1e"/>
<path d="M563.2,266.5 Q563.8,267.0 563.1,267.4 Q562.3,267.9 561.2,268.2 Q560.0,268.6 558.4,268.4 Q556.8,268.2 556.8,267.6 Q556.8,267.0 557.5,266.6 Q558.1,266.3 559.0,265.7 Q560.0,265.2 561.3,265.6 Q562.5,266.1 563.2,266.5 Z" fill="#d41e1e"/>
<path d="M529.2,195.5 Q529.4,196.0 529.2,196.5 Q529.0,197.0 528.5,197.2 Q528.0,197.5 527.3,197.4 Q526.6,197.4 526.5,196.7 Q526.4,196.0 526.6,195.3 Q526.7,194.7 527.3,194.4 Q528.0,194.1 528.5,194.6 Q529.0,195.0 529.2,195.5 Z" fill="#d41e1e"/>
<path d="M573.3,187.6 Q573.7,188.0 573.4,188.4 Q573.1,188.9 572.5,189.0 Q572.0,189.2 571.5,189.0 Q571.1,188.7 570.9,188.4 Q570.8,188.0 570.9,187.6 Q571.0,187.2 571.5,187.1 Q572.0,187.0 572.5,187.1 Q573.0,187.2 573.3,187.6 Z" fill="#d41e1e"/>
<circle cx="606" cy="198" r="1" fill="#9a50c0"/>
<circle cx="587" cy="206" r="1" fill="#9a50c0"/>
<circle cx="536" cy="204" r="1" fill="#9a50c0"/>
<circle cx="560" cy="236" r="1" fill="#9a50c0"/>
</g>
<rect x="464.6" y="279.6" width="200.2" height="49" rx="10" ry="10" fill="#e6e6e9"/>
<text x="513.0" y="289.9" font-size="9.2" text-anchor="middle" fill="#eea23c">BST tumor</text>
<text x="581.4" y="289.9" font-size="9.2" text-anchor="middle" fill="#b072d4">Stroma/Tumor</text>
<text x="636.9" y="289.9" font-size="9.2" text-anchor="middle" fill="#7fd6dc">T cell</text>
<text x="511.2" y="304.3" font-size="9.2" text-anchor="middle" fill="#72cc58">BIT tumor</text>
<text x="581.4" y="300.7" font-size="9.2" text-anchor="middle" fill="#e2c040">Epidermis/</text>
<text x="581.4" y="311.4" font-size="9.2" text-anchor="middle" fill="#e2c040">Immune</text>
<text x="636.9" y="305.9" font-size="9.2" text-anchor="middle" fill="#efa0b4">Epidermis</text>
<text x="513.0" y="323.7" font-size="9.2" text-anchor="middle" fill="#222">Tumor (non-BIT/BST)</text>
<text x="581.4" y="323.7" font-size="9.2" text-anchor="middle" fill="#4e7fd0">Stroma</text>
<text x="635.7" y="323.7" font-size="9.2" text-anchor="middle" fill="#e02828">Vasculature</text>
<text x="1.6" y="348.8" font-size="14" font-weight="bold" fill="#111">c</text>
<text x="0.4" y="706.7" font-size="14" font-weight="bold" fill="#111">d</text>
<use href="#ctis" x="0" y="0"/>
<clipPath id="cc101"><rect x="3.9" y="360.2" width="204.1" height="124.1"/></clipPath>
<g clip-path="url(#cc101)" stroke="#303030" stroke-width="0.8">
<circle cx="7.5" cy="401.8" r="2.85" fill="#3584bb"/>
<circle cx="7.5" cy="407.8" r="2.85" fill="#eef8a5"/>
<circle cx="7.5" cy="413.8" r="2.85" fill="#358cbc"/>
<circle cx="7.5" cy="419.8" r="2.85" fill="#4e63ac"/>
<circle cx="7.5" cy="425.8" r="2.85" fill="#388eba"/>
<circle cx="7.5" cy="431.8" r="2.85" fill="#4fa8b0"/>
<circle cx="7.5" cy="437.9" r="2.85" fill="#5061aa"/>
<circle cx="12.8" cy="398.7" r="2.85" fill="#e2f499"/>
<circle cx="12.8" cy="404.8" r="2.85" fill="#bfe5a0"/>
<circle cx="12.8" cy="410.8" r="2.85" fill="#d3ed9c"/>
<circle cx="12.8" cy="416.8" r="2.85" fill="#9ed8a4"/>
<circle cx="12.8" cy="422.8" r="2.85" fill="#82cda5"/>
<circle cx="12.8" cy="428.8" r="2.85" fill="#e7f59a"/>
<circle cx="12.8" cy="434.9" r="2.85" fill="#d6ef9b"/>
<circle cx="12.8" cy="440.9" r="2.85" fill="#b6e2a2"/>
<circle cx="12.8" cy="446.9" r="2.85" fill="#bae3a1"/>
<circle cx="12.8" cy="452.9" r="2.85" fill="#82cda5"/>
<circle cx="18.2" cy="401.8" r="2.85" fill="#bee5a0"/>
<circle cx="18.2" cy="407.8" r="2.85" fill="#82cda5"/>
<circle cx="18.2" cy="413.8" r="2.85" fill="#82cda5"/>
<circle cx="18.2" cy="419.8" r="2.85" fill="#82cda5"/>
<circle cx="18.2" cy="425.8" r="2.85" fill="#82cda5"/>
<circle cx="18.2" cy="431.8" r="2.85" fill="#82cda5"/>
<circle cx="18.2" cy="437.9" r="2.85" fill="#d8ef9b"/>
<circle cx="18.2" cy="443.9" r="2.85" fill="#b2e0a2"/>
<circle cx="23.5" cy="410.8" r="2.85" fill="#c0e5a0"/>
<circle cx="23.5" cy="416.8" r="2.85" fill="#eaf79e"/>
<circle cx="23.5" cy="422.8" r="2.85" fill="#e9f69d"/>
<circle cx="23.5" cy="434.9" r="2.85" fill="#82cda5"/>
<circle cx="23.5" cy="440.9" r="2.85" fill="#82cda5"/>
<circle cx="23.5" cy="446.9" r="2.85" fill="#b0dfa3"/>
<circle cx="28.9" cy="413.8" r="2.85" fill="#eaf79e"/>
<circle cx="28.9" cy="419.8" r="2.85" fill="#92d3a4"/>
<circle cx="28.9" cy="425.8" r="2.85" fill="#e3f499"/>
<circle cx="28.9" cy="431.8" r="2.85" fill="#82cda5"/>
<circle cx="28.9" cy="437.9" r="2.85" fill="#9ad6a4"/>
<circle cx="34.2" cy="428.8" r="2.85" fill="#dff299"/>
<circle cx="61.0" cy="455.9" r="2.85" fill="#dff299"/>
<circle cx="66.3" cy="452.9" r="2.85" fill="#b7e2a2"/>
<circle cx="66.3" cy="458.9" r="2.85" fill="#fbfdb9"/>
<circle cx="66.3" cy="465.0" r="2.85" fill="#aedea3"/>
<circle cx="71.7" cy="461.9" r="2.85" fill="#f0f9a8"/>
<circle cx="77.0" cy="428.8" r="2.85" fill="#addea4"/>
<circle cx="82.4" cy="431.8" r="2.85" fill="#a8dca4"/>
<circle cx="82.4" cy="437.9" r="2.85" fill="#feffbe"/>
<circle cx="82.4" cy="443.9" r="2.85" fill="#86cfa5"/>
<circle cx="82.4" cy="449.9" r="2.85" fill="#fffdbc"/>
<circle cx="82.4" cy="455.9" r="2.85" fill="#8cd1a4"/>
<circle cx="87.7" cy="392.7" r="2.85" fill="#fa9555"/>
<circle cx="87.7" cy="398.7" r="2.85" fill="#fed380"/>
<circle cx="87.7" cy="404.8" r="2.85" fill="#a6dba4"/>
<circle cx="87.7" cy="434.9" r="2.85" fill="#fafdb7"/>
<circle cx="87.7" cy="440.9" r="2.85" fill="#eaf79e"/>
<circle cx="87.7" cy="446.9" r="2.85" fill="#c4e79f"/>
<circle cx="87.7" cy="452.9" r="2.85" fill="#eff9a6"/>
<circle cx="87.7" cy="458.9" r="2.85" fill="#e8f69b"/>
<circle cx="93.1" cy="389.7" r="2.85" fill="#db474d"/>
<circle cx="93.1" cy="395.7" r="2.85" fill="#fdb163"/>
<circle cx="93.1" cy="401.8" r="2.85" fill="#fedf8a"/>
<circle cx="93.1" cy="407.8" r="2.85" fill="#fcfeba"/>
<circle cx="93.1" cy="413.8" r="2.85" fill="#acdda4"/>
<circle cx="93.1" cy="419.8" r="2.85" fill="#7ecca5"/>
<circle cx="93.1" cy="425.8" r="2.85" fill="#b5e1a2"/>
<circle cx="93.1" cy="431.8" r="2.85" fill="#d5ee9b"/>
<circle cx="93.1" cy="437.9" r="2.85" fill="#eff9a6"/>
<circle cx="93.1" cy="443.9" r="2.85" fill="#f0f9a8"/>
<circle cx="93.1" cy="449.9" r="2.85" fill="#eff9a6"/>
<circle cx="93.1" cy="455.9" r="2.85" fill="#b6e1a2"/>
<circle cx="93.1" cy="461.9" r="2.85" fill="#ceeb9d"/>
<circle cx="98.4" cy="386.7" r="2.85" fill="#db474d"/>
<circle cx="98.4" cy="392.7" r="2.85" fill="#fdb466"/>
<circle cx="98.4" cy="398.7" r="2.85" fill="#fee999"/>
<circle cx="98.4" cy="404.8" r="2.85" fill="#e0f399"/>
<circle cx="98.4" cy="410.8" r="2.85" fill="#7dcba5"/>
<circle cx="98.4" cy="416.8" r="2.85" fill="#fffcbb"/>
<circle cx="98.4" cy="422.8" r="2.85" fill="#def29a"/>
<circle cx="98.4" cy="428.8" r="2.85" fill="#c8e99e"/>
<circle cx="98.4" cy="434.9" r="2.85" fill="#ffffbf"/>
<circle cx="98.4" cy="440.9" r="2.85" fill="#e1f399"/>
<circle cx="98.4" cy="446.9" r="2.85" fill="#addea4"/>
<circle cx="98.4" cy="452.9" r="2.85" fill="#dbf09a"/>
<circle cx="98.4" cy="458.9" r="2.85" fill="#c9e99e"/>
<circle cx="98.4" cy="465.0" r="2.85" fill="#b8e2a1"/>
<circle cx="103.8" cy="383.7" r="2.85" fill="#af1346"/>
<circle cx="103.8" cy="389.7" r="2.85" fill="#db474d"/>
<circle cx="103.8" cy="395.7" r="2.85" fill="#f99254"/>
<circle cx="103.8" cy="401.8" r="2.85" fill="#feefa4"/>
<circle cx="103.8" cy="407.8" r="2.85" fill="#eef8a4"/>
<circle cx="103.8" cy="413.8" r="2.85" fill="#fffdbc"/>
<circle cx="103.8" cy="419.8" r="2.85" fill="#d1ec9c"/>
<circle cx="103.8" cy="431.8" r="2.85" fill="#b8e2a1"/>
<circle cx="103.8" cy="437.9" r="2.85" fill="#dbf19a"/>
<circle cx="103.8" cy="443.9" r="2.85" fill="#c4e79f"/>
<circle cx="103.8" cy="449.9" r="2.85" fill="#a7dba4"/>
<circle cx="103.8" cy="455.9" r="2.85" fill="#fed683"/>
<circle cx="103.8" cy="461.9" r="2.85" fill="#bae3a1"/>
<circle cx="109.1" cy="386.7" r="2.85" fill="#db474d"/>
<circle cx="109.1" cy="392.7" r="2.85" fill="#f99455"/>
<circle cx="109.1" cy="398.7" r="2.85" fill="#fed27f"/>
<circle cx="109.1" cy="404.8" r="2.85" fill="#93d4a4"/>
<circle cx="109.1" cy="410.8" r="2.85" fill="#bee5a0"/>
<circle cx="109.1" cy="416.8" r="2.85" fill="#f2faaa"/>
<circle cx="109.1" cy="422.8" r="2.85" fill="#e7f599"/>
<circle cx="109.1" cy="434.9" r="2.85" fill="#ebf7a0"/>
<circle cx="109.1" cy="446.9" r="2.85" fill="#d0ec9c"/>
<circle cx="109.1" cy="452.9" r="2.85" fill="#fcfebb"/>
<circle cx="109.1" cy="458.9" r="2.85" fill="#95d4a4"/>
<circle cx="109.1" cy="465.0" r="2.85" fill="#81cca5"/>
<circle cx="114.5" cy="383.7" r="2.85" fill="#af1346"/>
<circle cx="114.5" cy="389.7" r="2.85" fill="#db474d"/>
<circle cx="114.5" cy="395.7" r="2.85" fill="#f67b49"/>
<circle cx="114.5" cy="401.8" r="2.85" fill="#fee28f"/>
<circle cx="114.5" cy="407.8" r="2.85" fill="#fffcbb"/>
<circle cx="114.5" cy="413.8" r="2.85" fill="#82cda5"/>
<circle cx="114.5" cy="419.8" r="2.85" fill="#cbea9e"/>
<circle cx="114.5" cy="425.8" r="2.85" fill="#fffdbb"/>
<circle cx="114.5" cy="437.9" r="2.85" fill="#c4e79f"/>
<circle cx="114.5" cy="449.9" r="2.85" fill="#d8ef9b"/>
<circle cx="114.5" cy="455.9" r="2.85" fill="#b9e3a1"/>
<circle cx="114.5" cy="461.9" r="2.85" fill="#fdfebc"/>
<circle cx="114.5" cy="468.0" r="2.85" fill="#feffbd"/>
<circle cx="119.8" cy="380.7" r="2.85" fill="#af1346"/>
<circle cx="119.8" cy="386.7" r="2.85" fill="#db474d"/>
<circle cx="119.8" cy="392.7" r="2.85" fill="#f7824d"/>
<circle cx="119.8" cy="398.7" r="2.85" fill="#fee797"/>
<circle cx="119.8" cy="404.8" r="2.85" fill="#86cea5"/>
<circle cx="119.8" cy="416.8" r="2.85" fill="#bae3a1"/>
<circle cx="119.8" cy="422.8" r="2.85" fill="#fdfebd"/>
<circle cx="119.8" cy="428.8" r="2.85" fill="#f4fbae"/>
<circle cx="119.8" cy="434.9" r="2.85" fill="#bee5a0"/>
<circle cx="119.8" cy="440.9" r="2.85" fill="#c2e69f"/>
<circle cx="119.8" cy="446.9" r="2.85" fill="#a9dca4"/>
<circle cx="119.8" cy="452.9" r="2.85" fill="#b6e1a2"/>
<circle cx="119.8" cy="458.9" r="2.85" fill="#eff9a6"/>
<circle cx="119.8" cy="465.0" r="2.85" fill="#f0f9a8"/>
<circle cx="119.8" cy="471.0" r="2.85" fill="#f6fbb1"/>
<circle cx="125.2" cy="383.7" r="2.85" fill="#af1346"/>
<circle cx="125.2" cy="389.7" r="2.85" fill="#db474d"/>
<circle cx="125.2" cy="395.7" r="2.85" fill="#f7864e"/>
<circle cx="125.2" cy="401.8" r="2.85" fill="#fff7b1"/>
<circle cx="125.2" cy="407.8" r="2.85" fill="#a0d9a4"/>
<circle cx="125.2" cy="413.8" r="2.85" fill="#eff9a6"/>
<circle cx="125.2" cy="419.8" r="2.85" fill="#aadda4"/>
<circle cx="125.2" cy="425.8" r="2.85" fill="#aedea3"/>
<circle cx="125.2" cy="431.8" r="2.85" fill="#3c94b8"/>
<circle cx="125.2" cy="437.9" r="2.85" fill="#b5e1a2"/>
<circle cx="125.2" cy="443.9" r="2.85" fill="#f8fcb5"/>
<circle cx="125.2" cy="449.9" r="2.85" fill="#bde4a0"/>
<circle cx="125.2" cy="455.9" r="2.85" fill="#f6fbb1"/>
<circle cx="125.2" cy="461.9" r="2.85" fill="#c8e99e"/>
<circle cx="125.2" cy="468.0" r="2.85" fill="#f3faac"/>
<circle cx="130.5" cy="380.7" r="2.85" fill="#af1346"/>
<circle cx="130.5" cy="386.7" r="2.85" fill="#db474d"/>
<circle cx="130.5" cy="392.7" r="2.85" fill="#f88d52"/>
<circle cx="130.5" cy="398.7" r="2.85" fill="#fee694"/>
<circle cx="130.5" cy="404.8" r="2.85" fill="#e4f498"/>
<circle cx="130.5" cy="416.8" r="2.85" fill="#dcf19a"/>
<circle cx="130.5" cy="422.8" r="2.85" fill="#abdda4"/>
<circle cx="130.5" cy="434.9" r="2.85" fill="#3c94b8"/>
<circle cx="130.5" cy="440.9" r="2.85" fill="#f1f9a9"/>
<circle cx="130.5" cy="452.9" r="2.85" fill="#edf8a3"/>
<circle cx="130.5" cy="458.9" r="2.85" fill="#b7e2a2"/>
<circle cx="130.5" cy="465.0" r="2.85" fill="#88cfa5"/>
<circle cx="135.8" cy="377.7" r="2.85" fill="#af1346"/>
<circle cx="135.8" cy="383.7" r="2.85" fill="#af1346"/>
<circle cx="135.8" cy="389.7" r="2.85" fill="#db474d"/>
<circle cx="135.8" cy="395.7" r="2.85" fill="#f88d52"/>
<circle cx="135.8" cy="401.8" r="2.85" fill="#fff5af"/>
<circle cx="135.8" cy="407.8" r="2.85" fill="#e8f69c"/>
<circle cx="135.8" cy="413.8" r="2.85" fill="#e0f399"/>
<circle cx="135.8" cy="419.8" r="2.85" fill="#a9dca4"/>
<circle cx="135.8" cy="425.8" r="2.85" fill="#afdfa3"/>
<circle cx="135.8" cy="443.9" r="2.85" fill="#fafdb7"/>
<circle cx="135.8" cy="449.9" r="2.85" fill="#f2faaa"/>
<circle cx="135.8" cy="455.9" r="2.85" fill="#ffffbf"/>
<circle cx="135.8" cy="461.9" r="2.85" fill="#f4fbaf"/>
<circle cx="135.8" cy="468.0" r="2.85" fill="#acdda4"/>
<circle cx="141.2" cy="380.7" r="2.85" fill="#af1346"/>
<circle cx="141.2" cy="386.7" r="2.85" fill="#db474d"/>
<circle cx="141.2" cy="392.7" r="2.85" fill="#fdb365"/>
<circle cx="141.2" cy="398.7" r="2.85" fill="#fedd89"/>
<circle cx="141.2" cy="404.8" r="2.85" fill="#e8f69a"/>
<circle cx="141.2" cy="410.8" r="2.85" fill="#caea9e"/>
<circle cx="146.6" cy="383.7" r="2.85" fill="#af1346"/>
<circle cx="146.6" cy="389.7" r="2.85" fill="#db474d"/>
<circle cx="146.6" cy="395.7" r="2.85" fill="#fb9d59"/>
<circle cx="146.6" cy="401.8" r="2.85" fill="#fedc88"/>
<circle cx="146.6" cy="407.8" r="2.85" fill="#80cca5"/>
<circle cx="146.6" cy="413.8" r="2.85" fill="#e9f69d"/>
<circle cx="146.6" cy="419.8" r="2.85" fill="#81cda5"/>
<circle cx="146.6" cy="425.8" r="2.85" fill="#e6f598"/>
<circle cx="146.6" cy="431.8" r="2.85" fill="#82cda5"/>
<circle cx="151.9" cy="386.7" r="2.85" fill="#db474d"/>
<circle cx="151.9" cy="392.7" r="2.85" fill="#f88a50"/>
<circle cx="151.9" cy="398.7" r="2.85" fill="#fff2aa"/>
<circle cx="151.9" cy="404.8" r="2.85" fill="#a7dca4"/>
<circle cx="151.9" cy="410.8" r="2.85" fill="#c6e89f"/>
<circle cx="151.9" cy="416.8" r="2.85" fill="#a5dba4"/>
<circle cx="151.9" cy="422.8" r="2.85" fill="#b9e3a1"/>
<circle cx="151.9" cy="434.9" r="2.85" fill="#acdda4"/>
<circle cx="151.9" cy="440.9" r="2.85" fill="#f2faab"/>
<circle cx="151.9" cy="446.9" r="2.85" fill="#c5e89f"/>
<circle cx="151.9" cy="452.9" r="2.85" fill="#cfec9d"/>
<circle cx="151.9" cy="458.9" r="2.85" fill="#eaf79f"/>
<circle cx="157.2" cy="383.7" r="2.85" fill="#d53e4f"/>
<circle cx="157.2" cy="389.7" r="2.85" fill="#db474d"/>
<circle cx="157.2" cy="395.7" r="2.85" fill="#fdaf62"/>
<circle cx="157.2" cy="401.8" r="2.85" fill="#fee391"/>
<circle cx="157.2" cy="407.8" r="2.85" fill="#cbea9d"/>
<circle cx="157.2" cy="419.8" r="2.85" fill="#feffbe"/>
<circle cx="157.2" cy="425.8" r="2.85" fill="#bae3a1"/>
<circle cx="157.2" cy="431.8" r="2.85" fill="#3c94b8"/>
<circle cx="157.2" cy="437.9" r="2.85" fill="#b3e0a2"/>
<circle cx="157.2" cy="443.9" r="2.85" fill="#fbfeb9"/>
<circle cx="157.2" cy="449.9" r="2.85" fill="#c6e89f"/>
<circle cx="157.2" cy="455.9" r="2.85" fill="#fdfebc"/>
<circle cx="157.2" cy="461.9" r="2.85" fill="#b3e0a2"/>
<circle cx="162.6" cy="386.7" r="2.85" fill="#db474d"/>
<circle cx="162.6" cy="392.7" r="2.85" fill="#f7844e"/>
<circle cx="162.6" cy="398.7" r="2.85" fill="#fed380"/>
<circle cx="162.6" cy="404.8" r="2.85" fill="#fed683"/>
<circle cx="162.6" cy="410.8" r="2.85" fill="#b6e1a2"/>
<circle cx="162.6" cy="416.8" r="2.85" fill="#daf09a"/>
<circle cx="162.6" cy="422.8" r="2.85" fill="#ecf8a2"/>
<circle cx="162.6" cy="428.8" r="2.85" fill="#f0f9a8"/>
<circle cx="162.6" cy="434.9" r="2.85" fill="#fcfeba"/>
<circle cx="162.6" cy="440.9" r="2.85" fill="#f8fcb4"/>
<circle cx="162.6" cy="446.9" r="2.85" fill="#84cea5"/>
<circle cx="162.6" cy="452.9" r="2.85" fill="#d4ee9c"/>
<circle cx="162.6" cy="458.9" r="2.85" fill="#bfe5a0"/>
<circle cx="162.6" cy="465.0" r="2.85" fill="#fafdb7"/>
<circle cx="167.9" cy="383.7" r="2.85" fill="#d53e4f"/>
<circle cx="167.9" cy="389.7" r="2.85" fill="#db474d"/>
<circle cx="167.9" cy="395.7" r="2.85" fill="#f88950"/>
<circle cx="167.9" cy="401.8" r="2.85" fill="#fff2aa"/>
<circle cx="167.9" cy="407.8" r="2.85" fill="#e5f598"/>
<circle cx="167.9" cy="419.8" r="2.85" fill="#edf8a4"/>
<circle cx="167.9" cy="425.8" r="2.85" fill="#fbfdb9"/>
<circle cx="167.9" cy="437.9" r="2.85" fill="#dcf19a"/>
<circle cx="167.9" cy="443.9" r="2.85" fill="#a1d9a4"/>
<circle cx="167.9" cy="449.9" r="2.85" fill="#eef8a4"/>
<circle cx="167.9" cy="455.9" r="2.85" fill="#f7fcb2"/>
<circle cx="167.9" cy="461.9" r="2.85" fill="#eaf79e"/>
<circle cx="173.3" cy="386.7" r="2.85" fill="#f46d43"/>
<circle cx="173.3" cy="392.7" r="2.85" fill="#f88a50"/>
<circle cx="173.3" cy="398.7" r="2.85" fill="#fee797"/>
<circle cx="173.3" cy="404.8" r="2.85" fill="#ccea9d"/>
<circle cx="173.3" cy="410.8" r="2.85" fill="#c1e69f"/>
<circle cx="173.3" cy="416.8" r="2.85" fill="#bfe5a0"/>
<circle cx="178.7" cy="383.7" r="2.85" fill="#d53e4f"/>
<circle cx="178.7" cy="389.7" r="2.85" fill="#f46d43"/>
<circle cx="178.7" cy="395.7" r="2.85" fill="#f88b51"/>
<circle cx="178.7" cy="401.8" r="2.85" fill="#fee390"/>
<circle cx="178.7" cy="407.8" r="2.85" fill="#abdda4"/>
<circle cx="178.7" cy="413.8" r="2.85" fill="#3c94b8"/>
<circle cx="184.0" cy="380.7" r="2.85" fill="#d53e4f"/>
<circle cx="184.0" cy="386.7" r="2.85" fill="#f46d43"/>
<circle cx="184.0" cy="392.7" r="2.85" fill="#fdaf62"/>
<circle cx="184.0" cy="398.7" r="2.85" fill="#feeea3"/>
<circle cx="184.0" cy="404.8" r="2.85" fill="#eaf79e"/>
<circle cx="189.3" cy="383.7" r="2.85" fill="#d53e4f"/>
<circle cx="189.3" cy="389.7" r="2.85" fill="#f46d43"/>
<circle cx="189.3" cy="395.7" r="2.85" fill="#f88b51"/>
<circle cx="189.3" cy="401.8" r="2.85" fill="#fff0a6"/>
<circle cx="189.3" cy="425.8" r="2.85" fill="#3c94b8"/>
<circle cx="189.3" cy="431.8" r="2.85" fill="#d5ee9b"/>
<circle cx="189.3" cy="437.9" r="2.85" fill="#c4e79f"/>
<circle cx="189.3" cy="455.9" r="2.85" fill="#bbe4a1"/>
<circle cx="194.7" cy="386.7" r="2.85" fill="#f46d43"/>
<circle cx="194.7" cy="392.7" r="2.85" fill="#fdbd6e"/>
<circle cx="194.7" cy="398.7" r="2.85" fill="#fee593"/>
<circle cx="194.7" cy="404.8" r="2.85" fill="#3c94b8"/>
<circle cx="194.7" cy="428.8" r="2.85" fill="#c2e69f"/>
<circle cx="194.7" cy="452.9" r="2.85" fill="#e8f69a"/>
<circle cx="194.7" cy="458.9" r="2.85" fill="#9bd7a4"/>
<circle cx="205.4" cy="410.8" r="2.85" fill="#8ed1a4"/>
<circle cx="205.4" cy="416.8" r="2.85" fill="#f8fcb4"/>
<circle cx="205.4" cy="422.8" r="2.85" fill="#f2faaa"/>
<circle cx="205.4" cy="428.8" r="2.85" fill="#dbf19a"/>
<circle cx="205.4" cy="434.9" r="2.85" fill="#c7e89e"/>
</g>
<use href="#ctis" x="224.1" y="0"/>
<clipPath id="cc102"><rect x="228.0" y="360.2" width="204.1" height="124.1"/></clipPath>
<g clip-path="url(#cc102)" stroke="#303030" stroke-width="0.8">
<circle cx="231.6" cy="401.8" r="2.85" fill="#ebf7a0"/>
<circle cx="231.6" cy="407.8" r="2.85" fill="#feefa4"/>
<circle cx="231.6" cy="413.8" r="2.85" fill="#edf8a3"/>
<circle cx="231.6" cy="419.8" r="2.85" fill="#fee696"/>
<circle cx="231.6" cy="425.8" r="2.85" fill="#feefa5"/>
<circle cx="231.6" cy="431.8" r="2.85" fill="#fcfeba"/>
<circle cx="231.6" cy="437.9" r="2.85" fill="#feefa3"/>
<circle cx="236.9" cy="398.7" r="2.85" fill="#fff3ab"/>
<circle cx="236.9" cy="404.8" r="2.85" fill="#e1f399"/>
<circle cx="236.9" cy="410.8" r="2.85" fill="#fff6b0"/>
<circle cx="236.9" cy="416.8" r="2.85" fill="#feeea3"/>
<circle cx="236.9" cy="422.8" r="2.85" fill="#fff7b2"/>
<circle cx="236.9" cy="428.8" r="2.85" fill="#fed380"/>
<circle cx="236.9" cy="434.9" r="2.85" fill="#fee492"/>
<circle cx="236.9" cy="440.9" r="2.85" fill="#e45649"/>
<circle cx="236.9" cy="446.9" r="2.85" fill="#e45649"/>
<circle cx="236.9" cy="452.9" r="2.85" fill="#e45649"/>
<circle cx="242.2" cy="401.8" r="2.85" fill="#fedd88"/>
<circle cx="242.2" cy="407.8" r="2.85" fill="#fee899"/>
<circle cx="242.2" cy="413.8" r="2.85" fill="#feefa5"/>
<circle cx="242.2" cy="419.8" r="2.85" fill="#fffebd"/>
<circle cx="242.2" cy="425.8" r="2.85" fill="#fff9b4"/>
<circle cx="242.2" cy="431.8" r="2.85" fill="#f1f9a8"/>
<circle cx="242.2" cy="437.9" r="2.85" fill="#fff6b0"/>
<circle cx="242.2" cy="443.9" r="2.85" fill="#ebf7a0"/>
<circle cx="247.6" cy="410.8" r="2.85" fill="#feeea3"/>
<circle cx="247.6" cy="416.8" r="2.85" fill="#feeea2"/>
<circle cx="247.6" cy="422.8" r="2.85" fill="#feea9c"/>
<circle cx="247.6" cy="434.9" r="2.85" fill="#f2faab"/>
<circle cx="247.6" cy="440.9" r="2.85" fill="#e7f69a"/>
<circle cx="247.6" cy="446.9" r="2.85" fill="#f8fcb5"/>
<circle cx="252.9" cy="413.8" r="2.85" fill="#fee999"/>
<circle cx="252.9" cy="419.8" r="2.85" fill="#fff8b3"/>
<circle cx="252.9" cy="425.8" r="2.85" fill="#fee391"/>
<circle cx="252.9" cy="431.8" r="2.85" fill="#ffffbf"/>
<circle cx="252.9" cy="437.9" r="2.85" fill="#fdfebc"/>
<circle cx="258.3" cy="428.8" r="2.85" fill="#fecf7d"/>
<circle cx="285.1" cy="455.9" r="2.85" fill="#c3e79f"/>
<circle cx="290.4" cy="452.9" r="2.85" fill="#f0f9a8"/>
<circle cx="290.4" cy="458.9" r="2.85" fill="#e7f59a"/>
<circle cx="290.4" cy="465.0" r="2.85" fill="#e7f69a"/>
<circle cx="295.8" cy="461.9" r="2.85" fill="#fffbb8"/>
<circle cx="301.1" cy="428.8" r="2.85" fill="#f3faad"/>
<circle cx="306.4" cy="431.8" r="2.85" fill="#fff7b1"/>
<circle cx="306.4" cy="437.9" r="2.85" fill="#f3faac"/>
<circle cx="306.4" cy="443.9" r="2.85" fill="#f6fbb1"/>
<circle cx="306.4" cy="449.9" r="2.85" fill="#fafdb7"/>
<circle cx="306.4" cy="455.9" r="2.85" fill="#fff9b5"/>
<circle cx="311.8" cy="392.7" r="2.85" fill="#edf8a3"/>
<circle cx="311.8" cy="398.7" r="2.85" fill="#edf8a2"/>
<circle cx="311.8" cy="404.8" r="2.85" fill="#fff7b2"/>
<circle cx="311.8" cy="434.9" r="2.85" fill="#84cea5"/>
<circle cx="311.8" cy="440.9" r="2.85" fill="#fffdbc"/>
<circle cx="311.8" cy="446.9" r="2.85" fill="#e1f399"/>
<circle cx="311.8" cy="452.9" r="2.85" fill="#f6fbb1"/>
<circle cx="311.8" cy="458.9" r="2.85" fill="#c9e99e"/>
<circle cx="317.1" cy="389.7" r="2.85" fill="#c2e69f"/>
<circle cx="317.1" cy="395.7" r="2.85" fill="#92d3a4"/>
<circle cx="317.1" cy="401.8" r="2.85" fill="#eaf79e"/>
<circle cx="317.1" cy="407.8" r="2.85" fill="#b6e2a2"/>
<circle cx="317.1" cy="413.8" r="2.85" fill="#83cda5"/>
<circle cx="317.1" cy="419.8" r="2.85" fill="#c0e6a0"/>
<circle cx="317.1" cy="425.8" r="2.85" fill="#d8ef9b"/>
<circle cx="317.1" cy="431.8" r="2.85" fill="#e6f598"/>
<circle cx="317.1" cy="437.9" r="2.85" fill="#c6e89f"/>
<circle cx="317.1" cy="443.9" r="2.85" fill="#fafdb7"/>
<circle cx="317.1" cy="449.9" r="2.85" fill="#e9f69d"/>
<circle cx="317.1" cy="455.9" r="2.85" fill="#ffffbf"/>
<circle cx="317.1" cy="461.9" r="2.85" fill="#fffebe"/>
<circle cx="322.5" cy="386.7" r="2.85" fill="#87cfa5"/>
<circle cx="322.5" cy="392.7" r="2.85" fill="#c3e79f"/>
<circle cx="322.5" cy="398.7" r="2.85" fill="#e2f399"/>
<circle cx="322.5" cy="404.8" r="2.85" fill="#fff5ae"/>
<circle cx="322.5" cy="410.8" r="2.85" fill="#3c94b8"/>
<circle cx="322.5" cy="416.8" r="2.85" fill="#d2ed9c"/>
<circle cx="322.5" cy="422.8" r="2.85" fill="#f4fbae"/>
<circle cx="322.5" cy="428.8" r="2.85" fill="#fff8b4"/>
<circle cx="322.5" cy="434.9" r="2.85" fill="#fff6af"/>
<circle cx="322.5" cy="440.9" r="2.85" fill="#e9f69d"/>
<circle cx="322.5" cy="446.9" r="2.85" fill="#d2ed9c"/>
<circle cx="322.5" cy="452.9" r="2.85" fill="#f9fcb5"/>
<circle cx="322.5" cy="458.9" r="2.85" fill="#fed683"/>
<circle cx="322.5" cy="465.0" r="2.85" fill="#afdea3"/>
<circle cx="327.9" cy="383.7" r="2.85" fill="#a3daa4"/>
<circle cx="327.9" cy="389.7" r="2.85" fill="#a8dca4"/>
<circle cx="327.9" cy="395.7" r="2.85" fill="#fff6b0"/>
<circle cx="327.9" cy="401.8" r="2.85" fill="#bee5a0"/>
<circle cx="327.9" cy="407.8" r="2.85" fill="#e8f69b"/>
<circle cx="327.9" cy="413.8" r="2.85" fill="#3c94b8"/>
<circle cx="327.9" cy="419.8" r="2.85" fill="#f0f9a8"/>
<circle cx="327.9" cy="431.8" r="2.85" fill="#eef8a5"/>
<circle cx="327.9" cy="437.9" r="2.85" fill="#eaf79e"/>
<circle cx="327.9" cy="443.9" r="2.85" fill="#b4e1a2"/>
<circle cx="327.9" cy="449.9" r="2.85" fill="#fafdb8"/>
<circle cx="327.9" cy="455.9" r="2.85" fill="#afdfa3"/>
<circle cx="327.9" cy="461.9" r="2.85" fill="#eef8a5"/>
<circle cx="333.2" cy="386.7" r="2.85" fill="#a6dba4"/>
<circle cx="333.2" cy="392.7" r="2.85" fill="#fffab6"/>
<circle cx="333.2" cy="398.7" r="2.85" fill="#f7fcb3"/>
<circle cx="333.2" cy="404.8" r="2.85" fill="#99d6a4"/>
<circle cx="333.2" cy="410.8" r="2.85" fill="#a1d9a4"/>
<circle cx="333.2" cy="416.8" r="2.85" fill="#fafdb7"/>
<circle cx="333.2" cy="422.8" r="2.85" fill="#86cfa5"/>
<circle cx="333.2" cy="434.9" r="2.85" fill="#fed683"/>
<circle cx="333.2" cy="446.9" r="2.85" fill="#fff4ad"/>
<circle cx="333.2" cy="452.9" r="2.85" fill="#abdda4"/>
<circle cx="333.2" cy="458.9" r="2.85" fill="#dbf19a"/>
<circle cx="333.2" cy="465.0" r="2.85" fill="#def29a"/>
<circle cx="338.6" cy="383.7" r="2.85" fill="#80cca5"/>
<circle cx="338.6" cy="389.7" r="2.85" fill="#fdbc6d"/>
<circle cx="338.6" cy="395.7" r="2.85" fill="#fdc675"/>
<circle cx="338.6" cy="401.8" r="2.85" fill="#f7824d"/>
<circle cx="338.6" cy="407.8" r="2.85" fill="#fdaf62"/>
<circle cx="338.6" cy="413.8" r="2.85" fill="#fb9c59"/>
<circle cx="338.6" cy="419.8" r="2.85" fill="#f7814c"/>
<circle cx="338.6" cy="425.8" r="2.85" fill="#fec877"/>
<circle cx="338.6" cy="437.9" r="2.85" fill="#b3e0a2"/>
<circle cx="338.6" cy="449.9" r="2.85" fill="#3c94b8"/>
<circle cx="338.6" cy="455.9" r="2.85" fill="#e8f69b"/>
<circle cx="338.6" cy="461.9" r="2.85" fill="#ffffbf"/>
<circle cx="338.6" cy="468.0" r="2.85" fill="#edf8a3"/>
<circle cx="343.9" cy="380.7" r="2.85" fill="#63bea7"/>
<circle cx="343.9" cy="386.7" r="2.85" fill="#dcf19a"/>
<circle cx="343.9" cy="392.7" r="2.85" fill="#fba25c"/>
<circle cx="343.9" cy="398.7" r="2.85" fill="#fba15b"/>
<circle cx="343.9" cy="404.8" r="2.85" fill="#fcaa5f"/>
<circle cx="343.9" cy="416.8" r="2.85" fill="#f57245"/>
<circle cx="343.9" cy="422.8" r="2.85" fill="#ec6146"/>
<circle cx="343.9" cy="428.8" r="2.85" fill="#ccea9d"/>
<circle cx="343.9" cy="434.9" r="2.85" fill="#fdfebc"/>
<circle cx="343.9" cy="440.9" r="2.85" fill="#feffbd"/>
<circle cx="343.9" cy="446.9" r="2.85" fill="#fff9b5"/>
<circle cx="343.9" cy="452.9" r="2.85" fill="#f3faac"/>
<circle cx="343.9" cy="458.9" r="2.85" fill="#b7e2a2"/>
<circle cx="343.9" cy="465.0" r="2.85" fill="#fffdbc"/>
<circle cx="343.9" cy="471.0" r="2.85" fill="#d1ec9c"/>
<circle cx="349.2" cy="383.7" r="2.85" fill="#e7f599"/>
<circle cx="349.2" cy="389.7" r="2.85" fill="#fecf7c"/>
<circle cx="349.2" cy="395.7" r="2.85" fill="#fdc070"/>
<circle cx="349.2" cy="401.8" r="2.85" fill="#d43d4f"/>
<circle cx="349.2" cy="407.8" r="2.85" fill="#bb2149"/>
<circle cx="349.2" cy="413.8" r="2.85" fill="#b31847"/>
<circle cx="349.2" cy="419.8" r="2.85" fill="#b31847"/>
<circle cx="349.2" cy="425.8" r="2.85" fill="#f7824d"/>
<circle cx="349.2" cy="431.8" r="2.85" fill="#fff4ad"/>
<circle cx="349.2" cy="437.9" r="2.85" fill="#e7f69a"/>
<circle cx="349.2" cy="443.9" r="2.85" fill="#f8fcb4"/>
<circle cx="349.2" cy="449.9" r="2.85" fill="#fed683"/>
<circle cx="349.2" cy="455.9" r="2.85" fill="#e4f498"/>
<circle cx="349.2" cy="461.9" r="2.85" fill="#acdea4"/>
<circle cx="349.2" cy="468.0" r="2.85" fill="#e7f59a"/>
<circle cx="354.6" cy="380.7" r="2.85" fill="#64bfa6"/>
<circle cx="354.6" cy="386.7" r="2.85" fill="#8dd1a4"/>
<circle cx="354.6" cy="392.7" r="2.85" fill="#fca75e"/>
<circle cx="354.6" cy="398.7" r="2.85" fill="#bb2149"/>
<circle cx="354.6" cy="404.8" r="2.85" fill="#d9444e"/>
<circle cx="354.6" cy="416.8" r="2.85" fill="#b51a47"/>
<circle cx="354.6" cy="422.8" r="2.85" fill="#d9434e"/>
<circle cx="354.6" cy="434.9" r="2.85" fill="#e9f69d"/>
<circle cx="354.6" cy="440.9" r="2.85" fill="#fffdbc"/>
<circle cx="354.6" cy="452.9" r="2.85" fill="#f9fdb6"/>
<circle cx="354.6" cy="458.9" r="2.85" fill="#d9f09b"/>
<circle cx="354.6" cy="465.0" r="2.85" fill="#ecf7a1"/>
<circle cx="359.9" cy="377.7" r="2.85" fill="#fed683"/>
<circle cx="359.9" cy="383.7" r="2.85" fill="#98d6a4"/>
<circle cx="359.9" cy="389.7" r="2.85" fill="#fdb063"/>
<circle cx="359.9" cy="395.7" r="2.85" fill="#f46d43"/>
<circle cx="359.9" cy="401.8" r="2.85" fill="#d6404e"/>
<circle cx="359.9" cy="407.8" r="2.85" fill="#db474d"/>
<circle cx="359.9" cy="413.8" r="2.85" fill="#c42c4b"/>
<circle cx="359.9" cy="419.8" r="2.85" fill="#d0394e"/>
<circle cx="359.9" cy="425.8" r="2.85" fill="#f98e52"/>
<circle cx="359.9" cy="443.9" r="2.85" fill="#a5dba4"/>
<circle cx="359.9" cy="449.9" r="2.85" fill="#ebf7a0"/>
<circle cx="359.9" cy="455.9" r="2.85" fill="#fffab6"/>
<circle cx="359.9" cy="461.9" r="2.85" fill="#fffbb9"/>
<circle cx="359.9" cy="468.0" r="2.85" fill="#dcf19a"/>
<circle cx="365.3" cy="380.7" r="2.85" fill="#b1e0a3"/>
<circle cx="365.3" cy="386.7" r="2.85" fill="#88cfa5"/>
<circle cx="365.3" cy="392.7" r="2.85" fill="#f16944"/>
<circle cx="365.3" cy="398.7" r="2.85" fill="#fdb96a"/>
<circle cx="365.3" cy="404.8" r="2.85" fill="#fdad61"/>
<circle cx="365.3" cy="410.8" r="2.85" fill="#fdc171"/>
<circle cx="370.6" cy="383.7" r="2.85" fill="#95d4a4"/>
<circle cx="370.6" cy="389.7" r="2.85" fill="#fec877"/>
<circle cx="370.6" cy="395.7" r="2.85" fill="#f8884f"/>
<circle cx="370.6" cy="401.8" r="2.85" fill="#fdaf62"/>
<circle cx="370.6" cy="407.8" r="2.85" fill="#f57346"/>
<circle cx="370.6" cy="413.8" r="2.85" fill="#fdb96a"/>
<circle cx="370.6" cy="419.8" r="2.85" fill="#f67c4a"/>
<circle cx="370.6" cy="425.8" r="2.85" fill="#ec6146"/>
<circle cx="370.6" cy="431.8" r="2.85" fill="#c3e79f"/>
<circle cx="376.0" cy="386.7" r="2.85" fill="#e9f69d"/>
<circle cx="376.0" cy="392.7" r="2.85" fill="#dc494c"/>
<circle cx="376.0" cy="398.7" r="2.85" fill="#e45549"/>
<circle cx="376.0" cy="404.8" r="2.85" fill="#bc2249"/>
<circle cx="376.0" cy="410.8" r="2.85" fill="#dd494c"/>
<circle cx="376.0" cy="416.8" r="2.85" fill="#b81e48"/>
<circle cx="376.0" cy="422.8" r="2.85" fill="#d1394e"/>
<circle cx="376.0" cy="434.9" r="2.85" fill="#e3534a"/>
<circle cx="376.0" cy="440.9" r="2.85" fill="#fff3ab"/>
<circle cx="376.0" cy="446.9" r="2.85" fill="#fafdb7"/>
<circle cx="376.0" cy="452.9" r="2.85" fill="#fafdb8"/>
<circle cx="376.0" cy="458.9" r="2.85" fill="#c7e89e"/>
<circle cx="381.4" cy="383.7" r="2.85" fill="#d0ec9c"/>
<circle cx="381.4" cy="389.7" r="2.85" fill="#ec6046"/>
<circle cx="381.4" cy="395.7" r="2.85" fill="#bb2149"/>
<circle cx="381.4" cy="401.8" r="2.85" fill="#d33c4f"/>
<circle cx="381.4" cy="407.8" r="2.85" fill="#e45449"/>
<circle cx="381.4" cy="419.8" r="2.85" fill="#cc344d"/>
<circle cx="381.4" cy="425.8" r="2.85" fill="#cd354d"/>
<circle cx="381.4" cy="431.8" r="2.85" fill="#cf374e"/>
<circle cx="381.4" cy="437.9" r="2.85" fill="#c0264a"/>
<circle cx="381.4" cy="443.9" r="2.85" fill="#eaf69e"/>
<circle cx="381.4" cy="449.9" r="2.85" fill="#9cd7a4"/>
<circle cx="381.4" cy="455.9" r="2.85" fill="#a8dca4"/>
<circle cx="381.4" cy="461.9" r="2.85" fill="#fffab6"/>
<circle cx="386.7" cy="386.7" r="2.85" fill="#79c9a5"/>
<circle cx="386.7" cy="392.7" r="2.85" fill="#c52d4b"/>
<circle cx="386.7" cy="398.7" r="2.85" fill="#d7414e"/>
<circle cx="386.7" cy="404.8" r="2.85" fill="#da464d"/>
<circle cx="386.7" cy="410.8" r="2.85" fill="#c2294a"/>
<circle cx="386.7" cy="416.8" r="2.85" fill="#dc494c"/>
<circle cx="386.7" cy="422.8" r="2.85" fill="#e55649"/>
<circle cx="386.7" cy="428.8" r="2.85" fill="#d13a4e"/>
<circle cx="386.7" cy="434.9" r="2.85" fill="#b81e48"/>
<circle cx="386.7" cy="440.9" r="2.85" fill="#afdfa3"/>
<circle cx="386.7" cy="446.9" r="2.85" fill="#fafdb7"/>
<circle cx="386.7" cy="452.9" r="2.85" fill="#fff5ae"/>
<circle cx="386.7" cy="458.9" r="2.85" fill="#bae3a1"/>
<circle cx="386.7" cy="465.0" r="2.85" fill="#fed683"/>
<circle cx="392.0" cy="383.7" r="2.85" fill="#d1ed9c"/>
<circle cx="392.0" cy="389.7" r="2.85" fill="#f67b49"/>
<circle cx="392.0" cy="395.7" r="2.85" fill="#e1504b"/>
<circle cx="392.0" cy="401.8" r="2.85" fill="#d53f4f"/>
<circle cx="392.0" cy="407.8" r="2.85" fill="#c9304c"/>
<circle cx="392.0" cy="419.8" r="2.85" fill="#e2514a"/>
<circle cx="392.0" cy="425.8" r="2.85" fill="#de4c4b"/>
<circle cx="392.0" cy="437.9" r="2.85" fill="#bb2149"/>
<circle cx="392.0" cy="443.9" r="2.85" fill="#e3f499"/>
<circle cx="392.0" cy="449.9" r="2.85" fill="#f2faab"/>
<circle cx="392.0" cy="455.9" r="2.85" fill="#fffdbb"/>
<circle cx="392.0" cy="461.9" r="2.85" fill="#fffdbc"/>
<circle cx="397.4" cy="386.7" r="2.85" fill="#e7f599"/>
<circle cx="397.4" cy="392.7" r="2.85" fill="#c62d4b"/>
<circle cx="397.4" cy="398.7" r="2.85" fill="#c62d4b"/>
<circle cx="397.4" cy="404.8" r="2.85" fill="#da454d"/>
<circle cx="397.4" cy="410.8" r="2.85" fill="#e65848"/>
<circle cx="397.4" cy="416.8" r="2.85" fill="#b41a47"/>
<circle cx="402.8" cy="383.7" r="2.85" fill="#9dd7a4"/>
<circle cx="402.8" cy="389.7" r="2.85" fill="#f99455"/>
<circle cx="402.8" cy="395.7" r="2.85" fill="#f67949"/>
<circle cx="402.8" cy="401.8" r="2.85" fill="#f47044"/>
<circle cx="402.8" cy="407.8" r="2.85" fill="#fdc675"/>
<circle cx="402.8" cy="413.8" r="2.85" fill="#f57647"/>
<circle cx="408.1" cy="380.7" r="2.85" fill="#e7f69a"/>
<circle cx="408.1" cy="386.7" r="2.85" fill="#e8f69a"/>
<circle cx="408.1" cy="392.7" r="2.85" fill="#fffbb8"/>
<circle cx="408.1" cy="398.7" r="2.85" fill="#fffebd"/>
<circle cx="408.1" cy="404.8" r="2.85" fill="#8fd2a4"/>
<circle cx="413.4" cy="383.7" r="2.85" fill="#ceeb9d"/>
<circle cx="413.4" cy="389.7" r="2.85" fill="#e4f498"/>
<circle cx="413.4" cy="395.7" r="2.85" fill="#93d4a4"/>
<circle cx="413.4" cy="401.8" r="2.85" fill="#fffebd"/>
<circle cx="413.4" cy="425.8" r="2.85" fill="#e45649"/>
<circle cx="413.4" cy="431.8" r="2.85" fill="#fdae61"/>
<circle cx="413.4" cy="437.9" r="2.85" fill="#4ca5b1"/>
<circle cx="413.4" cy="455.9" r="2.85" fill="#e6f598"/>
<circle cx="418.8" cy="386.7" r="2.85" fill="#64c0a6"/>
<circle cx="418.8" cy="392.7" r="2.85" fill="#fafdb7"/>
<circle cx="418.8" cy="398.7" r="2.85" fill="#c6e89f"/>
<circle cx="418.8" cy="404.8" r="2.85" fill="#feffbd"/>
<circle cx="418.8" cy="428.8" r="2.85" fill="#fdae61"/>
<circle cx="418.8" cy="452.9" r="2.85" fill="#f0f9a8"/>
<circle cx="418.8" cy="458.9" r="2.85" fill="#f2faab"/>
<circle cx="429.5" cy="410.8" r="2.85" fill="#d5ee9b"/>
<circle cx="429.5" cy="416.8" r="2.85" fill="#addea4"/>
<circle cx="429.5" cy="422.8" r="2.85" fill="#e45649"/>
<circle cx="429.5" cy="428.8" r="2.85" fill="#fdae61"/>
<circle cx="429.5" cy="434.9" r="2.85" fill="#4ca5b1"/>
</g>
<use href="#ctis" x="0" y="173.4"/>
<clipPath id="cc103"><rect x="3.9" y="533.6" width="204.1" height="124.1"/></clipPath>
<g clip-path="url(#cc103)" stroke="#303030" stroke-width="0.8">
<circle cx="7.5" cy="575.1" r="2.85" fill="#459db4"/>
<circle cx="7.5" cy="581.2" r="2.85" fill="#476db0"/>
<circle cx="7.5" cy="587.2" r="2.85" fill="#3485bc"/>
<circle cx="7.5" cy="593.2" r="2.85" fill="#3387bc"/>
<circle cx="7.5" cy="599.2" r="2.85" fill="#5857a6"/>
<circle cx="7.5" cy="605.2" r="2.85" fill="#5e4fa2"/>
<circle cx="7.5" cy="611.3" r="2.85" fill="#3c7bb7"/>
<circle cx="12.8" cy="572.1" r="2.85" fill="#69c3a5"/>
<circle cx="12.8" cy="578.2" r="2.85" fill="#8dd1a4"/>
<circle cx="12.8" cy="584.2" r="2.85" fill="#cdeb9d"/>
<circle cx="12.8" cy="590.2" r="2.85" fill="#cbea9d"/>
<circle cx="12.8" cy="596.2" r="2.85" fill="#69c3a5"/>
<circle cx="12.8" cy="602.2" r="2.85" fill="#64c0a6"/>
<circle cx="12.8" cy="608.3" r="2.85" fill="#77c9a5"/>
<circle cx="12.8" cy="614.3" r="2.85" fill="#c6e89f"/>
<circle cx="12.8" cy="620.3" r="2.85" fill="#5eb9a9"/>
<circle cx="12.8" cy="626.3" r="2.85" fill="#77c9a5"/>
<circle cx="18.2" cy="575.1" r="2.85" fill="#67c2a5"/>
<circle cx="18.2" cy="581.2" r="2.85" fill="#6ac3a5"/>
<circle cx="18.2" cy="587.2" r="2.85" fill="#a0d9a4"/>
<circle cx="18.2" cy="593.2" r="2.85" fill="#72c7a5"/>
<circle cx="18.2" cy="599.2" r="2.85" fill="#91d3a4"/>
<circle cx="18.2" cy="605.2" r="2.85" fill="#bbe3a1"/>
<circle cx="18.2" cy="611.3" r="2.85" fill="#bae3a1"/>
<circle cx="18.2" cy="617.3" r="2.85" fill="#91d3a4"/>
<circle cx="23.5" cy="584.2" r="2.85" fill="#c1e6a0"/>
<circle cx="23.5" cy="590.2" r="2.85" fill="#a7dca4"/>
<circle cx="23.5" cy="596.2" r="2.85" fill="#c6e89f"/>
<circle cx="23.5" cy="608.3" r="2.85" fill="#7bcaa5"/>
<circle cx="23.5" cy="614.3" r="2.85" fill="#8bd1a4"/>
<circle cx="23.5" cy="620.3" r="2.85" fill="#a8dca4"/>
<circle cx="28.9" cy="587.2" r="2.85" fill="#d4ee9c"/>
<circle cx="28.9" cy="593.2" r="2.85" fill="#addea4"/>
<circle cx="28.9" cy="599.2" r="2.85" fill="#9ad6a4"/>
<circle cx="28.9" cy="605.2" r="2.85" fill="#7bcaa5"/>
<circle cx="28.9" cy="611.3" r="2.85" fill="#7fcca5"/>
<circle cx="34.2" cy="602.2" r="2.85" fill="#76c8a5"/>
<circle cx="61.0" cy="629.3" r="2.85" fill="#fffab6"/>
<circle cx="66.3" cy="626.3" r="2.85" fill="#ffffbf"/>
<circle cx="66.3" cy="632.3" r="2.85" fill="#f5fbb0"/>
<circle cx="66.3" cy="638.4" r="2.85" fill="#95d5a4"/>
<circle cx="71.7" cy="635.4" r="2.85" fill="#e7f59a"/>
<circle cx="77.0" cy="602.2" r="2.85" fill="#c3e79f"/>
<circle cx="82.4" cy="605.2" r="2.85" fill="#c2e69f"/>
<circle cx="82.4" cy="611.3" r="2.85" fill="#a1d9a4"/>
<circle cx="82.4" cy="617.3" r="2.85" fill="#eaf79f"/>
<circle cx="82.4" cy="623.3" r="2.85" fill="#fffab6"/>
<circle cx="82.4" cy="629.3" r="2.85" fill="#f9fcb5"/>
<circle cx="87.7" cy="566.1" r="2.85" fill="#f46e43"/>
<circle cx="87.7" cy="572.1" r="2.85" fill="#f99053"/>
<circle cx="87.7" cy="578.2" r="2.85" fill="#fdc675"/>
<circle cx="87.7" cy="608.3" r="2.85" fill="#e5f598"/>
<circle cx="87.7" cy="614.3" r="2.85" fill="#e8f69b"/>
<circle cx="87.7" cy="620.3" r="2.85" fill="#bee5a0"/>
<circle cx="87.7" cy="626.3" r="2.85" fill="#bce4a1"/>
<circle cx="87.7" cy="632.3" r="2.85" fill="#fefebd"/>
<circle cx="93.1" cy="563.1" r="2.85" fill="#d53e4f"/>
<circle cx="93.1" cy="569.1" r="2.85" fill="#ea5e47"/>
<circle cx="93.1" cy="575.1" r="2.85" fill="#fca95f"/>
<circle cx="93.1" cy="581.2" r="2.85" fill="#fed380"/>
<circle cx="93.1" cy="587.2" r="2.85" fill="#eff9a6"/>
<circle cx="93.1" cy="593.2" r="2.85" fill="#e4f498"/>
<circle cx="93.1" cy="599.2" r="2.85" fill="#def29a"/>
<circle cx="93.1" cy="605.2" r="2.85" fill="#f4fbae"/>
<circle cx="93.1" cy="611.3" r="2.85" fill="#f4fbae"/>
<circle cx="93.1" cy="617.3" r="2.85" fill="#edf8a3"/>
<circle cx="93.1" cy="623.3" r="2.85" fill="#dbf19a"/>
<circle cx="93.1" cy="629.3" r="2.85" fill="#cceb9d"/>
<circle cx="93.1" cy="635.4" r="2.85" fill="#a8dca4"/>
<circle cx="98.4" cy="560.1" r="2.85" fill="#d53e4f"/>
<circle cx="98.4" cy="566.1" r="2.85" fill="#e2524a"/>
<circle cx="98.4" cy="572.1" r="2.85" fill="#f57145"/>
<circle cx="98.4" cy="578.2" r="2.85" fill="#fdc171"/>
<circle cx="98.4" cy="584.2" r="2.85" fill="#e0f299"/>
<circle cx="98.4" cy="590.2" r="2.85" fill="#9ed8a4"/>
<circle cx="98.4" cy="596.2" r="2.85" fill="#bae3a1"/>
<circle cx="98.4" cy="602.2" r="2.85" fill="#9dd8a4"/>
<circle cx="98.4" cy="608.3" r="2.85" fill="#e7f69a"/>
<circle cx="98.4" cy="614.3" r="2.85" fill="#fdfebd"/>
<circle cx="98.4" cy="620.3" r="2.85" fill="#f6fbb1"/>
<circle cx="98.4" cy="626.3" r="2.85" fill="#dcf19a"/>
<circle cx="98.4" cy="632.3" r="2.85" fill="#ecf7a1"/>
<circle cx="98.4" cy="638.4" r="2.85" fill="#f0f9a7"/>
<circle cx="103.8" cy="557.1" r="2.85" fill="#af1346"/>
<circle cx="103.8" cy="563.1" r="2.85" fill="#d53e4f"/>
<circle cx="103.8" cy="569.1" r="2.85" fill="#f57848"/>
<circle cx="103.8" cy="575.1" r="2.85" fill="#f67f4b"/>
<circle cx="103.8" cy="581.2" r="2.85" fill="#fdb466"/>
<circle cx="103.8" cy="587.2" r="2.85" fill="#f4fbae"/>
<circle cx="103.8" cy="593.2" r="2.85" fill="#fefebd"/>
<circle cx="103.8" cy="605.2" r="2.85" fill="#b8e2a1"/>
<circle cx="103.8" cy="611.3" r="2.85" fill="#b9e3a1"/>
<circle cx="103.8" cy="617.3" r="2.85" fill="#d3ed9c"/>
<circle cx="103.8" cy="623.3" r="2.85" fill="#f4fbae"/>
<circle cx="103.8" cy="629.3" r="2.85" fill="#3c94b8"/>
<circle cx="103.8" cy="635.4" r="2.85" fill="#fff9b5"/>
<circle cx="109.1" cy="560.1" r="2.85" fill="#d53e4f"/>
<circle cx="109.1" cy="566.1" r="2.85" fill="#f67949"/>
<circle cx="109.1" cy="572.1" r="2.85" fill="#fdb567"/>
<circle cx="109.1" cy="578.2" r="2.85" fill="#fdb264"/>
<circle cx="109.1" cy="584.2" r="2.85" fill="#ecf8a2"/>
<circle cx="109.1" cy="590.2" r="2.85" fill="#f9fdb6"/>
<circle cx="109.1" cy="596.2" r="2.85" fill="#fafdb8"/>
<circle cx="109.1" cy="608.3" r="2.85" fill="#d4ee9c"/>
<circle cx="109.1" cy="620.3" r="2.85" fill="#f8fcb5"/>
<circle cx="109.1" cy="626.3" r="2.85" fill="#f8fcb4"/>
<circle cx="109.1" cy="632.3" r="2.85" fill="#fed683"/>
<circle cx="109.1" cy="638.4" r="2.85" fill="#f3faad"/>
<circle cx="114.5" cy="557.1" r="2.85" fill="#af1346"/>
<circle cx="114.5" cy="563.1" r="2.85" fill="#d53e4f"/>
<circle cx="114.5" cy="569.1" r="2.85" fill="#df4d4b"/>
<circle cx="114.5" cy="575.1" r="2.85" fill="#f57145"/>
<circle cx="114.5" cy="581.2" r="2.85" fill="#fee28f"/>
<circle cx="114.5" cy="587.2" r="2.85" fill="#d9f09b"/>
<circle cx="114.5" cy="593.2" r="2.85" fill="#f4fbaf"/>
<circle cx="114.5" cy="599.2" r="2.85" fill="#fffdbc"/>
<circle cx="114.5" cy="611.3" r="2.85" fill="#a5dba4"/>
<circle cx="114.5" cy="623.3" r="2.85" fill="#3c94b8"/>
<circle cx="114.5" cy="629.3" r="2.85" fill="#fafdb7"/>
<circle cx="114.5" cy="635.4" r="2.85" fill="#fffcba"/>
<circle cx="114.5" cy="641.4" r="2.85" fill="#ddf19a"/>
<circle cx="119.8" cy="554.1" r="2.85" fill="#af1346"/>
<circle cx="119.8" cy="560.1" r="2.85" fill="#d53e4f"/>
<circle cx="119.8" cy="566.1" r="2.85" fill="#f67949"/>
<circle cx="119.8" cy="572.1" r="2.85" fill="#f88850"/>
<circle cx="119.8" cy="578.2" r="2.85" fill="#fed784"/>
<circle cx="119.8" cy="590.2" r="2.85" fill="#e9f69c"/>
<circle cx="119.8" cy="596.2" r="2.85" fill="#d7ef9b"/>
<circle cx="119.8" cy="602.2" r="2.85" fill="#ddf19a"/>
<circle cx="119.8" cy="608.3" r="2.85" fill="#9fd8a4"/>
<circle cx="119.8" cy="614.3" r="2.85" fill="#91d3a4"/>
<circle cx="119.8" cy="620.3" r="2.85" fill="#f3faad"/>
<circle cx="119.8" cy="626.3" r="2.85" fill="#fffbb8"/>
<circle cx="119.8" cy="632.3" r="2.85" fill="#f3faac"/>
<circle cx="119.8" cy="638.4" r="2.85" fill="#fbfdb9"/>
<circle cx="119.8" cy="644.4" r="2.85" fill="#9ed8a4"/>
<circle cx="125.2" cy="557.1" r="2.85" fill="#af1346"/>
<circle cx="125.2" cy="563.1" r="2.85" fill="#d53e4f"/>
<circle cx="125.2" cy="569.1" r="2.85" fill="#f16844"/>
<circle cx="125.2" cy="575.1" r="2.85" fill="#f46f44"/>
<circle cx="125.2" cy="581.2" r="2.85" fill="#fdc473"/>
<circle cx="125.2" cy="587.2" r="2.85" fill="#fbfdb9"/>
<circle cx="125.2" cy="593.2" r="2.85" fill="#fffbb8"/>
<circle cx="125.2" cy="599.2" r="2.85" fill="#fffdbb"/>
<circle cx="125.2" cy="605.2" r="2.85" fill="#89d0a4"/>
<circle cx="125.2" cy="611.3" r="2.85" fill="#d5ee9c"/>
<circle cx="125.2" cy="617.3" r="2.85" fill="#9fd8a4"/>
<circle cx="125.2" cy="623.3" r="2.85" fill="#bae3a1"/>
<circle cx="125.2" cy="629.3" r="2.85" fill="#edf8a3"/>
<circle cx="125.2" cy="635.4" r="2.85" fill="#b9e3a1"/>
<circle cx="125.2" cy="641.4" r="2.85" fill="#feffbd"/>
<circle cx="130.5" cy="554.1" r="2.85" fill="#af1346"/>
<circle cx="130.5" cy="560.1" r="2.85" fill="#d53e4f"/>
<circle cx="130.5" cy="566.1" r="2.85" fill="#e95c47"/>
<circle cx="130.5" cy="572.1" r="2.85" fill="#fdac60"/>
<circle cx="130.5" cy="578.2" r="2.85" fill="#fed884"/>
<circle cx="130.5" cy="590.2" r="2.85" fill="#fffcb9"/>
<circle cx="130.5" cy="596.2" r="2.85" fill="#d9f09b"/>
<circle cx="130.5" cy="608.3" r="2.85" fill="#fdfebd"/>
<circle cx="130.5" cy="614.3" r="2.85" fill="#f0f9a7"/>
<circle cx="130.5" cy="626.3" r="2.85" fill="#e9f69d"/>
<circle cx="130.5" cy="632.3" r="2.85" fill="#f9fdb5"/>
<circle cx="130.5" cy="638.4" r="2.85" fill="#d3ed9c"/>
<circle cx="135.8" cy="551.1" r="2.85" fill="#af1346"/>
<circle cx="135.8" cy="557.1" r="2.85" fill="#af1346"/>
<circle cx="135.8" cy="563.1" r="2.85" fill="#d53e4f"/>
<circle cx="135.8" cy="569.1" r="2.85" fill="#e65848"/>
<circle cx="135.8" cy="575.1" r="2.85" fill="#f88c51"/>
<circle cx="135.8" cy="581.2" r="2.85" fill="#feda86"/>
<circle cx="135.8" cy="587.2" r="2.85" fill="#f7fcb3"/>
<circle cx="135.8" cy="593.2" r="2.85" fill="#f2faab"/>
<circle cx="135.8" cy="599.2" r="2.85" fill="#88cfa5"/>
<circle cx="135.8" cy="617.3" r="2.85" fill="#e8f69c"/>
<circle cx="135.8" cy="623.3" r="2.85" fill="#f6fcb2"/>
<circle cx="135.8" cy="629.3" r="2.85" fill="#99d6a4"/>
<circle cx="135.8" cy="635.4" r="2.85" fill="#7dcba5"/>
<circle cx="135.8" cy="641.4" r="2.85" fill="#dcf19a"/>
<circle cx="141.2" cy="554.1" r="2.85" fill="#af1346"/>
<circle cx="141.2" cy="560.1" r="2.85" fill="#d53e4f"/>
<circle cx="141.2" cy="566.1" r="2.85" fill="#f36b43"/>
<circle cx="141.2" cy="572.1" r="2.85" fill="#f67b49"/>
<circle cx="141.2" cy="578.2" r="2.85" fill="#fdb264"/>
<circle cx="141.2" cy="584.2" r="2.85" fill="#fff9b5"/>
<circle cx="146.6" cy="557.1" r="2.85" fill="#af1346"/>
<circle cx="146.6" cy="563.1" r="2.85" fill="#d53e4f"/>
<circle cx="146.6" cy="569.1" r="2.85" fill="#de4c4b"/>
<circle cx="146.6" cy="575.1" r="2.85" fill="#f7854e"/>
<circle cx="146.6" cy="581.2" r="2.85" fill="#fdb768"/>
<circle cx="146.6" cy="587.2" r="2.85" fill="#ceeb9d"/>
<circle cx="146.6" cy="593.2" r="2.85" fill="#c2e79f"/>
<circle cx="146.6" cy="599.2" r="2.85" fill="#e2f399"/>
<circle cx="146.6" cy="605.2" r="2.85" fill="#3c94b8"/>
<circle cx="151.9" cy="560.1" r="2.85" fill="#d53e4f"/>
<circle cx="151.9" cy="566.1" r="2.85" fill="#e1504b"/>
<circle cx="151.9" cy="572.1" r="2.85" fill="#f88850"/>
<circle cx="151.9" cy="578.2" r="2.85" fill="#fec877"/>
<circle cx="151.9" cy="584.2" r="2.85" fill="#fed07d"/>
<circle cx="151.9" cy="590.2" r="2.85" fill="#fcaa5f"/>
<circle cx="151.9" cy="596.2" r="2.85" fill="#fdb164"/>
<circle cx="151.9" cy="608.3" r="2.85" fill="#f2faaa"/>
<circle cx="151.9" cy="614.3" r="2.85" fill="#fafdb7"/>
<circle cx="151.9" cy="620.3" r="2.85" fill="#3c94b8"/>
<circle cx="151.9" cy="626.3" r="2.85" fill="#c8e99e"/>
<circle cx="151.9" cy="632.3" r="2.85" fill="#fdfebb"/>
<circle cx="157.2" cy="557.1" r="2.85" fill="#af1346"/>
<circle cx="157.2" cy="563.1" r="2.85" fill="#d53e4f"/>
<circle cx="157.2" cy="569.1" r="2.85" fill="#eb5f47"/>
<circle cx="157.2" cy="575.1" r="2.85" fill="#fdb365"/>
<circle cx="157.2" cy="581.2" r="2.85" fill="#fdaf62"/>
<circle cx="157.2" cy="593.2" r="2.85" fill="#fa9857"/>
<circle cx="157.2" cy="599.2" r="2.85" fill="#fdb869"/>
<circle cx="157.2" cy="605.2" r="2.85" fill="#fba05b"/>
<circle cx="157.2" cy="611.3" r="2.85" fill="#e2f499"/>
<circle cx="157.2" cy="617.3" r="2.85" fill="#e7f599"/>
<circle cx="157.2" cy="623.3" r="2.85" fill="#f7fcb2"/>
<circle cx="157.2" cy="629.3" r="2.85" fill="#fcfeba"/>
<circle cx="157.2" cy="635.4" r="2.85" fill="#aedea3"/>
<circle cx="162.6" cy="560.1" r="2.85" fill="#d53e4f"/>
<circle cx="162.6" cy="566.1" r="2.85" fill="#e75a48"/>
<circle cx="162.6" cy="572.1" r="2.85" fill="#fdad60"/>
<circle cx="162.6" cy="578.2" r="2.85" fill="#fdb365"/>
<circle cx="162.6" cy="584.2" r="2.85" fill="#fba15b"/>
<circle cx="162.6" cy="590.2" r="2.85" fill="#fdc474"/>
<circle cx="162.6" cy="596.2" r="2.85" fill="#fdc171"/>
<circle cx="162.6" cy="602.2" r="2.85" fill="#ee6445"/>
<circle cx="162.6" cy="608.3" r="2.85" fill="#fafdb7"/>
<circle cx="162.6" cy="614.3" r="2.85" fill="#acdda4"/>
<circle cx="162.6" cy="620.3" r="2.85" fill="#f5fbaf"/>
<circle cx="162.6" cy="626.3" r="2.85" fill="#fdfebd"/>
<circle cx="162.6" cy="632.3" r="2.85" fill="#f7fcb2"/>
<circle cx="162.6" cy="638.4" r="2.85" fill="#e9f69d"/>
<circle cx="167.9" cy="557.1" r="2.85" fill="#db474d"/>
<circle cx="167.9" cy="563.1" r="2.85" fill="#d53e4f"/>
<circle cx="167.9" cy="569.1" r="2.85" fill="#e65848"/>
<circle cx="167.9" cy="575.1" r="2.85" fill="#fa9b58"/>
<circle cx="167.9" cy="581.2" r="2.85" fill="#fdb96a"/>
<circle cx="167.9" cy="593.2" r="2.85" fill="#f7854e"/>
<circle cx="167.9" cy="599.2" r="2.85" fill="#fdc675"/>
<circle cx="167.9" cy="611.3" r="2.85" fill="#eff9a7"/>
<circle cx="167.9" cy="617.3" r="2.85" fill="#3c94b8"/>
<circle cx="167.9" cy="623.3" r="2.85" fill="#f5fbaf"/>
<circle cx="167.9" cy="629.3" r="2.85" fill="#f7fcb2"/>
<circle cx="167.9" cy="635.4" r="2.85" fill="#b9e3a1"/>
<circle cx="173.3" cy="560.1" r="2.85" fill="#f46d43"/>
<circle cx="173.3" cy="566.1" r="2.85" fill="#e55749"/>
<circle cx="173.3" cy="572.1" r="2.85" fill="#f99154"/>
<circle cx="173.3" cy="578.2" r="2.85" fill="#fdb567"/>
<circle cx="173.3" cy="584.2" r="2.85" fill="#84cea5"/>
<circle cx="173.3" cy="590.2" r="2.85" fill="#e6f598"/>
<circle cx="178.7" cy="557.1" r="2.85" fill="#db474d"/>
<circle cx="178.7" cy="563.1" r="2.85" fill="#f46d43"/>
<circle cx="178.7" cy="569.1" r="2.85" fill="#eb5f47"/>
<circle cx="178.7" cy="575.1" r="2.85" fill="#fba05a"/>
<circle cx="178.7" cy="581.2" r="2.85" fill="#feca79"/>
<circle cx="178.7" cy="587.2" r="2.85" fill="#80cca5"/>
<circle cx="184.0" cy="554.1" r="2.85" fill="#db474d"/>
<circle cx="184.0" cy="560.1" r="2.85" fill="#f46d43"/>
<circle cx="184.0" cy="566.1" r="2.85" fill="#df4d4b"/>
<circle cx="184.0" cy="572.1" r="2.85" fill="#f99355"/>
<circle cx="184.0" cy="578.2" r="2.85" fill="#fed582"/>
<circle cx="189.3" cy="557.1" r="2.85" fill="#db474d"/>
<circle cx="189.3" cy="563.1" r="2.85" fill="#f46d43"/>
<circle cx="189.3" cy="569.1" r="2.85" fill="#ed6346"/>
<circle cx="189.3" cy="575.1" r="2.85" fill="#fca75e"/>
<circle cx="189.3" cy="599.2" r="2.85" fill="#fffbb8"/>
<circle cx="189.3" cy="605.2" r="2.85" fill="#f9fcb5"/>
<circle cx="189.3" cy="611.3" r="2.85" fill="#a9dca4"/>
<circle cx="189.3" cy="629.3" r="2.85" fill="#fffbb8"/>
<circle cx="194.7" cy="560.1" r="2.85" fill="#f46d43"/>
<circle cx="194.7" cy="566.1" r="2.85" fill="#eb5f47"/>
<circle cx="194.7" cy="572.1" r="2.85" fill="#fdb567"/>
<circle cx="194.7" cy="578.2" r="2.85" fill="#fed17e"/>
<circle cx="194.7" cy="602.2" r="2.85" fill="#80cca5"/>
<circle cx="194.7" cy="626.3" r="2.85" fill="#e9f69c"/>
<circle cx="194.7" cy="632.3" r="2.85" fill="#f8fcb4"/>
<circle cx="205.4" cy="584.2" r="2.85" fill="#f9fdb6"/>
<circle cx="205.4" cy="590.2" r="2.85" fill="#f0f9a8"/>
<circle cx="205.4" cy="596.2" r="2.85" fill="#c6e89e"/>
<circle cx="205.4" cy="602.2" r="2.85" fill="#3c94b8"/>
<circle cx="205.4" cy="608.3" r="2.85" fill="#feffbd"/>
</g>
<use href="#ctis" x="224.1" y="173.4"/>
<clipPath id="cc104"><rect x="228.0" y="533.6" width="204.1" height="124.1"/></clipPath>
<g clip-path="url(#cc104)" stroke="#303030" stroke-width="0.8">
<circle cx="231.6" cy="575.1" r="2.85" fill="#fdb466"/>
<circle cx="231.6" cy="581.2" r="2.85" fill="#fdc171"/>
<circle cx="231.6" cy="587.2" r="2.85" fill="#fed683"/>
<circle cx="231.6" cy="593.2" r="2.85" fill="#f7fcb3"/>
<circle cx="231.6" cy="599.2" r="2.85" fill="#ffffbf"/>
<circle cx="231.6" cy="605.2" r="2.85" fill="#fed985"/>
<circle cx="231.6" cy="611.3" r="2.85" fill="#fecb79"/>
<circle cx="236.9" cy="572.1" r="2.85" fill="#e7f69a"/>
<circle cx="236.9" cy="578.2" r="2.85" fill="#f3faac"/>
<circle cx="236.9" cy="584.2" r="2.85" fill="#fdbe6e"/>
<circle cx="236.9" cy="590.2" r="2.85" fill="#eff9a6"/>
<circle cx="236.9" cy="596.2" r="2.85" fill="#fee18d"/>
<circle cx="236.9" cy="602.2" r="2.85" fill="#ffffbf"/>
<circle cx="236.9" cy="608.3" r="2.85" fill="#fee28e"/>
<circle cx="236.9" cy="614.3" r="2.85" fill="#d53e4f"/>
<circle cx="236.9" cy="620.3" r="2.85" fill="#d53e4f"/>
<circle cx="236.9" cy="626.3" r="2.85" fill="#d53e4f"/>
<circle cx="242.2" cy="575.1" r="2.85" fill="#feffbe"/>
<circle cx="242.2" cy="581.2" r="2.85" fill="#fee492"/>
<circle cx="242.2" cy="587.2" r="2.85" fill="#fee491"/>
<circle cx="242.2" cy="593.2" r="2.85" fill="#fff8b3"/>
<circle cx="242.2" cy="599.2" r="2.85" fill="#fff3aa"/>
<circle cx="242.2" cy="605.2" r="2.85" fill="#feec9f"/>
<circle cx="242.2" cy="611.3" r="2.85" fill="#f9fdb6"/>
<circle cx="242.2" cy="617.3" r="2.85" fill="#f3faad"/>
<circle cx="247.6" cy="584.2" r="2.85" fill="#fee99a"/>
<circle cx="247.6" cy="590.2" r="2.85" fill="#eef8a4"/>
<circle cx="247.6" cy="596.2" r="2.85" fill="#fee696"/>
<circle cx="247.6" cy="608.3" r="2.85" fill="#fecc7a"/>
<circle cx="247.6" cy="614.3" r="2.85" fill="#fec877"/>
<circle cx="247.6" cy="620.3" r="2.85" fill="#f9fdb6"/>
<circle cx="252.9" cy="587.2" r="2.85" fill="#fff7b2"/>
<circle cx="252.9" cy="593.2" r="2.85" fill="#fdb96b"/>
<circle cx="252.9" cy="599.2" r="2.85" fill="#fffdbc"/>
<circle cx="252.9" cy="605.2" r="2.85" fill="#fdaf62"/>
<circle cx="252.9" cy="611.3" r="2.85" fill="#f5fbaf"/>
<circle cx="258.3" cy="602.2" r="2.85" fill="#fdc675"/>
<circle cx="285.1" cy="629.3" r="2.85" fill="#b1dfa3"/>
<circle cx="290.4" cy="626.3" r="2.85" fill="#eef8a4"/>
<circle cx="290.4" cy="632.3" r="2.85" fill="#fed683"/>
<circle cx="290.4" cy="638.4" r="2.85" fill="#3288bd"/>
<circle cx="295.8" cy="635.4" r="2.85" fill="#3288bd"/>
<circle cx="301.1" cy="602.2" r="2.85" fill="#c2e69f"/>
<circle cx="306.4" cy="605.2" r="2.85" fill="#7fcca5"/>
<circle cx="306.4" cy="611.3" r="2.85" fill="#acdea4"/>
<circle cx="306.4" cy="617.3" r="2.85" fill="#88cfa5"/>
<circle cx="306.4" cy="623.3" r="2.85" fill="#f2faab"/>
<circle cx="306.4" cy="629.3" r="2.85" fill="#f3faac"/>
<circle cx="311.8" cy="566.1" r="2.85" fill="#f8fcb4"/>
<circle cx="311.8" cy="572.1" r="2.85" fill="#fffebe"/>
<circle cx="311.8" cy="578.2" r="2.85" fill="#fffdbc"/>
<circle cx="311.8" cy="608.3" r="2.85" fill="#ffffbe"/>
<circle cx="311.8" cy="614.3" r="2.85" fill="#ecf8a2"/>
<circle cx="311.8" cy="620.3" r="2.85" fill="#3c94b8"/>
<circle cx="311.8" cy="626.3" r="2.85" fill="#fed683"/>
<circle cx="311.8" cy="632.3" r="2.85" fill="#95d5a4"/>
<circle cx="317.1" cy="563.1" r="2.85" fill="#b8e2a1"/>
<circle cx="317.1" cy="569.1" r="2.85" fill="#feffbd"/>
<circle cx="317.1" cy="575.1" r="2.85" fill="#d6ef9b"/>
<circle cx="317.1" cy="581.2" r="2.85" fill="#fff6af"/>
<circle cx="317.1" cy="587.2" r="2.85" fill="#3c94b8"/>
<circle cx="317.1" cy="593.2" r="2.85" fill="#f6fcb2"/>
<circle cx="317.1" cy="599.2" r="2.85" fill="#c2e69f"/>
<circle cx="317.1" cy="605.2" r="2.85" fill="#85cea5"/>
<circle cx="317.1" cy="611.3" r="2.85" fill="#c9e99e"/>
<circle cx="317.1" cy="617.3" r="2.85" fill="#ceeb9d"/>
<circle cx="317.1" cy="623.3" r="2.85" fill="#b7e2a2"/>
<circle cx="317.1" cy="629.3" r="2.85" fill="#b3e0a2"/>
<circle cx="317.1" cy="635.4" r="2.85" fill="#3288bd"/>
<circle cx="322.5" cy="560.1" r="2.85" fill="#70c6a5"/>
<circle cx="322.5" cy="566.1" r="2.85" fill="#b5e1a2"/>
<circle cx="322.5" cy="572.1" r="2.85" fill="#eff9a6"/>
<circle cx="322.5" cy="578.2" r="2.85" fill="#eef8a4"/>
<circle cx="322.5" cy="584.2" r="2.85" fill="#ebf79f"/>
<circle cx="322.5" cy="590.2" r="2.85" fill="#cae99e"/>
<circle cx="322.5" cy="596.2" r="2.85" fill="#fbfeb9"/>
<circle cx="322.5" cy="602.2" r="2.85" fill="#d2ed9c"/>
<circle cx="322.5" cy="608.3" r="2.85" fill="#bee5a0"/>
<circle cx="322.5" cy="614.3" r="2.85" fill="#fcfeba"/>
<circle cx="322.5" cy="620.3" r="2.85" fill="#3c94b8"/>
<circle cx="322.5" cy="626.3" r="2.85" fill="#eff8a5"/>
<circle cx="322.5" cy="632.3" r="2.85" fill="#afdfa3"/>
<circle cx="322.5" cy="638.4" r="2.85" fill="#3288bd"/>
<circle cx="327.9" cy="557.1" r="2.85" fill="#6bc4a5"/>
<circle cx="327.9" cy="563.1" r="2.85" fill="#86cea5"/>
<circle cx="327.9" cy="569.1" r="2.85" fill="#3c94b8"/>
<circle cx="327.9" cy="575.1" r="2.85" fill="#93d4a4"/>
<circle cx="327.9" cy="581.2" r="2.85" fill="#fdfebc"/>
<circle cx="327.9" cy="587.2" r="2.85" fill="#dff299"/>
<circle cx="327.9" cy="593.2" r="2.85" fill="#a8dca4"/>
<circle cx="327.9" cy="605.2" r="2.85" fill="#b8e2a1"/>
<circle cx="327.9" cy="611.3" r="2.85" fill="#d7ef9b"/>
<circle cx="327.9" cy="617.3" r="2.85" fill="#e7f599"/>
<circle cx="327.9" cy="623.3" r="2.85" fill="#f5fbb0"/>
<circle cx="327.9" cy="629.3" r="2.85" fill="#3288bd"/>
<circle cx="327.9" cy="635.4" r="2.85" fill="#3288bd"/>
<circle cx="333.2" cy="560.1" r="2.85" fill="#9bd7a4"/>
<circle cx="333.2" cy="566.1" r="2.85" fill="#fff8b3"/>
<circle cx="333.2" cy="572.1" r="2.85" fill="#fffab7"/>
<circle cx="333.2" cy="578.2" r="2.85" fill="#c8e99e"/>
<circle cx="333.2" cy="584.2" r="2.85" fill="#feffbe"/>
<circle cx="333.2" cy="590.2" r="2.85" fill="#fafdb7"/>
<circle cx="333.2" cy="596.2" r="2.85" fill="#c0e5a0"/>
<circle cx="333.2" cy="608.3" r="2.85" fill="#b0dfa3"/>
<circle cx="333.2" cy="620.3" r="2.85" fill="#bde4a0"/>
<circle cx="333.2" cy="626.3" r="2.85" fill="#abdda4"/>
<circle cx="333.2" cy="632.3" r="2.85" fill="#3288bd"/>
<circle cx="333.2" cy="638.4" r="2.85" fill="#b5e1a2"/>
<circle cx="338.6" cy="557.1" r="2.85" fill="#52acae"/>
<circle cx="338.6" cy="563.1" r="2.85" fill="#eff9a6"/>
<circle cx="338.6" cy="569.1" r="2.85" fill="#fed280"/>
<circle cx="338.6" cy="575.1" r="2.85" fill="#fdac60"/>
<circle cx="338.6" cy="581.2" r="2.85" fill="#f99354"/>
<circle cx="338.6" cy="587.2" r="2.85" fill="#fdbe6e"/>
<circle cx="338.6" cy="593.2" r="2.85" fill="#fdac60"/>
<circle cx="338.6" cy="599.2" r="2.85" fill="#f7824d"/>
<circle cx="338.6" cy="611.3" r="2.85" fill="#f4fbaf"/>
<circle cx="338.6" cy="623.3" r="2.85" fill="#fff6b0"/>
<circle cx="338.6" cy="629.3" r="2.85" fill="#3288bd"/>
<circle cx="338.6" cy="635.4" r="2.85" fill="#ecf7a1"/>
<circle cx="338.6" cy="641.4" r="2.85" fill="#e9f69d"/>
<circle cx="343.9" cy="554.1" r="2.85" fill="#95d4a4"/>
<circle cx="343.9" cy="560.1" r="2.85" fill="#a2d9a4"/>
<circle cx="343.9" cy="566.1" r="2.85" fill="#f88d52"/>
<circle cx="343.9" cy="572.1" r="2.85" fill="#f67848"/>
<circle cx="343.9" cy="578.2" r="2.85" fill="#fed17f"/>
<circle cx="343.9" cy="590.2" r="2.85" fill="#fdb668"/>
<circle cx="343.9" cy="596.2" r="2.85" fill="#f46d43"/>
<circle cx="343.9" cy="602.2" r="2.85" fill="#f67948"/>
<circle cx="343.9" cy="608.3" r="2.85" fill="#fcfeba"/>
<circle cx="343.9" cy="614.3" r="2.85" fill="#fff6b0"/>
<circle cx="343.9" cy="620.3" r="2.85" fill="#feffbe"/>
<circle cx="343.9" cy="626.3" r="2.85" fill="#9ed8a4"/>
<circle cx="343.9" cy="632.3" r="2.85" fill="#3288bd"/>
<circle cx="343.9" cy="638.4" r="2.85" fill="#b3e0a2"/>
<circle cx="343.9" cy="644.4" r="2.85" fill="#f0f9a7"/>
<circle cx="349.2" cy="557.1" r="2.85" fill="#ecf7a2"/>
<circle cx="349.2" cy="563.1" r="2.85" fill="#aadda4"/>
<circle cx="349.2" cy="569.1" r="2.85" fill="#fdb567"/>
<circle cx="349.2" cy="575.1" r="2.85" fill="#f8874f"/>
<circle cx="349.2" cy="581.2" r="2.85" fill="#c9314c"/>
<circle cx="349.2" cy="587.2" r="2.85" fill="#d6404e"/>
<circle cx="349.2" cy="593.2" r="2.85" fill="#d53e4f"/>
<circle cx="349.2" cy="599.2" r="2.85" fill="#fdb264"/>
<circle cx="349.2" cy="605.2" r="2.85" fill="#afdfa3"/>
<circle cx="349.2" cy="611.3" r="2.85" fill="#ddf19a"/>
<circle cx="349.2" cy="617.3" r="2.85" fill="#3c94b8"/>
<circle cx="349.2" cy="623.3" r="2.85" fill="#fbfdb8"/>
<circle cx="349.2" cy="629.3" r="2.85" fill="#b8e2a1"/>
<circle cx="349.2" cy="635.4" r="2.85" fill="#3288bd"/>
<circle cx="349.2" cy="641.4" r="2.85" fill="#fed683"/>
<circle cx="354.6" cy="554.1" r="2.85" fill="#e5f498"/>
<circle cx="354.6" cy="560.1" r="2.85" fill="#afdea3"/>
<circle cx="354.6" cy="566.1" r="2.85" fill="#fdbf6f"/>
<circle cx="354.6" cy="572.1" r="2.85" fill="#fed380"/>
<circle cx="354.6" cy="578.2" r="2.85" fill="#fed27f"/>
<circle cx="354.6" cy="590.2" r="2.85" fill="#d63f4f"/>
<circle cx="354.6" cy="596.2" r="2.85" fill="#c0264a"/>
<circle cx="354.6" cy="608.3" r="2.85" fill="#eef8a5"/>
<circle cx="354.6" cy="614.3" r="2.85" fill="#ccea9d"/>
<circle cx="354.6" cy="626.3" r="2.85" fill="#fff4ac"/>
<circle cx="354.6" cy="632.3" r="2.85" fill="#3288bd"/>
<circle cx="354.6" cy="638.4" r="2.85" fill="#fff5af"/>
<circle cx="359.9" cy="551.1" r="2.85" fill="#96d5a4"/>
<circle cx="359.9" cy="557.1" r="2.85" fill="#76c8a5"/>
<circle cx="359.9" cy="563.1" r="2.85" fill="#7bcaa5"/>
<circle cx="359.9" cy="569.1" r="2.85" fill="#f46d43"/>
<circle cx="359.9" cy="575.1" r="2.85" fill="#fdc473"/>
<circle cx="359.9" cy="581.2" r="2.85" fill="#c62d4b"/>
<circle cx="359.9" cy="587.2" r="2.85" fill="#b61c48"/>
<circle cx="359.9" cy="593.2" r="2.85" fill="#b71d48"/>
<circle cx="359.9" cy="599.2" r="2.85" fill="#f57747"/>
<circle cx="359.9" cy="617.3" r="2.85" fill="#fff9b5"/>
<circle cx="359.9" cy="623.3" r="2.85" fill="#cbea9d"/>
<circle cx="359.9" cy="629.3" r="2.85" fill="#3288bd"/>
<circle cx="359.9" cy="635.4" r="2.85" fill="#3288bd"/>
<circle cx="359.9" cy="641.4" r="2.85" fill="#3288bd"/>
<circle cx="365.3" cy="554.1" r="2.85" fill="#68c3a5"/>
<circle cx="365.3" cy="560.1" r="2.85" fill="#d1ec9c"/>
<circle cx="365.3" cy="566.1" r="2.85" fill="#f7814c"/>
<circle cx="365.3" cy="572.1" r="2.85" fill="#f7864f"/>
<circle cx="365.3" cy="578.2" r="2.85" fill="#fdaf62"/>
<circle cx="365.3" cy="584.2" r="2.85" fill="#fecf7c"/>
<circle cx="370.6" cy="557.1" r="2.85" fill="#cbea9e"/>
<circle cx="370.6" cy="563.1" r="2.85" fill="#edf8a3"/>
<circle cx="370.6" cy="569.1" r="2.85" fill="#fed07d"/>
<circle cx="370.6" cy="575.1" r="2.85" fill="#fdc272"/>
<circle cx="370.6" cy="581.2" r="2.85" fill="#fdb769"/>
<circle cx="370.6" cy="587.2" r="2.85" fill="#f7844d"/>
<circle cx="370.6" cy="593.2" r="2.85" fill="#fdb769"/>
<circle cx="370.6" cy="599.2" r="2.85" fill="#fdbf6f"/>
<circle cx="370.6" cy="605.2" r="2.85" fill="#c5e89f"/>
<circle cx="376.0" cy="560.1" r="2.85" fill="#aadda4"/>
<circle cx="376.0" cy="566.1" r="2.85" fill="#f57446"/>
<circle cx="376.0" cy="572.1" r="2.85" fill="#ef6545"/>
<circle cx="376.0" cy="578.2" r="2.85" fill="#d9434e"/>
<circle cx="376.0" cy="584.2" r="2.85" fill="#b61c48"/>
<circle cx="376.0" cy="590.2" r="2.85" fill="#e04f4b"/>
<circle cx="376.0" cy="596.2" r="2.85" fill="#ee6445"/>
<circle cx="376.0" cy="608.3" r="2.85" fill="#d23b4e"/>
<circle cx="376.0" cy="614.3" r="2.85" fill="#c32b4b"/>
<circle cx="376.0" cy="620.3" r="2.85" fill="#7dcba5"/>
<circle cx="376.0" cy="626.3" r="2.85" fill="#d6ef9b"/>
<circle cx="376.0" cy="632.3" r="2.85" fill="#3288bd"/>
<circle cx="381.4" cy="557.1" r="2.85" fill="#9cd7a4"/>
<circle cx="381.4" cy="563.1" r="2.85" fill="#b6e1a2"/>
<circle cx="381.4" cy="569.1" r="2.85" fill="#f06744"/>
<circle cx="381.4" cy="575.1" r="2.85" fill="#e65848"/>
<circle cx="381.4" cy="581.2" r="2.85" fill="#ed6246"/>
<circle cx="381.4" cy="593.2" r="2.85" fill="#ee6445"/>
<circle cx="381.4" cy="599.2" r="2.85" fill="#f36b43"/>
<circle cx="381.4" cy="605.2" r="2.85" fill="#bb2249"/>
<circle cx="381.4" cy="611.3" r="2.85" fill="#da454d"/>
<circle cx="381.4" cy="617.3" r="2.85" fill="#fff4ad"/>
<circle cx="381.4" cy="623.3" r="2.85" fill="#b5e1a2"/>
<circle cx="381.4" cy="629.3" r="2.85" fill="#3288bd"/>
<circle cx="381.4" cy="635.4" r="2.85" fill="#b6e2a2"/>
<circle cx="386.7" cy="560.1" r="2.85" fill="#ebf7a0"/>
<circle cx="386.7" cy="566.1" r="2.85" fill="#f99254"/>
<circle cx="386.7" cy="572.1" r="2.85" fill="#e75a48"/>
<circle cx="386.7" cy="578.2" r="2.85" fill="#c2294a"/>
<circle cx="386.7" cy="584.2" r="2.85" fill="#bc2249"/>
<circle cx="386.7" cy="590.2" r="2.85" fill="#f36c43"/>
<circle cx="386.7" cy="596.2" r="2.85" fill="#eb5f47"/>
<circle cx="386.7" cy="602.2" r="2.85" fill="#c0264a"/>
<circle cx="386.7" cy="608.3" r="2.85" fill="#b61b48"/>
<circle cx="386.7" cy="614.3" r="2.85" fill="#c1284a"/>
<circle cx="386.7" cy="620.3" r="2.85" fill="#b4e1a2"/>
<circle cx="386.7" cy="626.3" r="2.85" fill="#fbfdb9"/>
<circle cx="386.7" cy="632.3" r="2.85" fill="#99d6a4"/>
<circle cx="386.7" cy="638.4" r="2.85" fill="#eff9a6"/>
<circle cx="392.0" cy="557.1" r="2.85" fill="#8fd2a4"/>
<circle cx="392.0" cy="563.1" r="2.85" fill="#e8f69c"/>
<circle cx="392.0" cy="569.1" r="2.85" fill="#f16844"/>
<circle cx="392.0" cy="575.1" r="2.85" fill="#b71d48"/>
<circle cx="392.0" cy="581.2" r="2.85" fill="#cf384e"/>
<circle cx="392.0" cy="593.2" r="2.85" fill="#c1284a"/>
<circle cx="392.0" cy="599.2" r="2.85" fill="#c42b4b"/>
<circle cx="392.0" cy="611.3" r="2.85" fill="#cb324d"/>
<circle cx="392.0" cy="617.3" r="2.85" fill="#e6f598"/>
<circle cx="392.0" cy="623.3" r="2.85" fill="#fcfeba"/>
<circle cx="392.0" cy="629.3" r="2.85" fill="#fcfebb"/>
<circle cx="392.0" cy="635.4" r="2.85" fill="#93d3a4"/>
<circle cx="397.4" cy="560.1" r="2.85" fill="#58b2ac"/>
<circle cx="397.4" cy="566.1" r="2.85" fill="#fecb7a"/>
<circle cx="397.4" cy="572.1" r="2.85" fill="#c1284a"/>
<circle cx="397.4" cy="578.2" r="2.85" fill="#bb2149"/>
<circle cx="397.4" cy="584.2" r="2.85" fill="#e2524a"/>
<circle cx="397.4" cy="590.2" r="2.85" fill="#e3534a"/>
<circle cx="402.8" cy="557.1" r="2.85" fill="#c6e89f"/>
<circle cx="402.8" cy="563.1" r="2.85" fill="#c2e69f"/>
<circle cx="402.8" cy="569.1" r="2.85" fill="#fdb466"/>
<circle cx="402.8" cy="575.1" r="2.85" fill="#dd4a4c"/>
<circle cx="402.8" cy="581.2" r="2.85" fill="#d0384e"/>
<circle cx="402.8" cy="587.2" r="2.85" fill="#cb334d"/>
<circle cx="408.1" cy="554.1" r="2.85" fill="#94d4a4"/>
<circle cx="408.1" cy="560.1" r="2.85" fill="#e4f498"/>
<circle cx="408.1" cy="566.1" r="2.85" fill="#fb9d59"/>
<circle cx="408.1" cy="572.1" r="2.85" fill="#fdbd6d"/>
<circle cx="408.1" cy="578.2" r="2.85" fill="#fdb264"/>
<circle cx="413.4" cy="557.1" r="2.85" fill="#5eb9a9"/>
<circle cx="413.4" cy="563.1" r="2.85" fill="#5eb9a9"/>
<circle cx="413.4" cy="569.1" r="2.85" fill="#f2faab"/>
<circle cx="413.4" cy="575.1" r="2.85" fill="#fffebd"/>
<circle cx="413.4" cy="599.2" r="2.85" fill="#d53e4f"/>
<circle cx="413.4" cy="605.2" r="2.85" fill="#fdae61"/>
<circle cx="413.4" cy="611.3" r="2.85" fill="#3c94b8"/>
<circle cx="413.4" cy="629.3" r="2.85" fill="#3288bd"/>
<circle cx="418.8" cy="560.1" r="2.85" fill="#93d4a4"/>
<circle cx="418.8" cy="566.1" r="2.85" fill="#91d3a4"/>
<circle cx="418.8" cy="572.1" r="2.85" fill="#f2faab"/>
<circle cx="418.8" cy="578.2" r="2.85" fill="#e2f499"/>
<circle cx="418.8" cy="602.2" r="2.85" fill="#d53e4f"/>
<circle cx="418.8" cy="626.3" r="2.85" fill="#81cca5"/>
<circle cx="418.8" cy="632.3" r="2.85" fill="#3288bd"/>
<circle cx="429.5" cy="584.2" r="2.85" fill="#eff9a7"/>
<circle cx="429.5" cy="590.2" r="2.85" fill="#eff9a6"/>
<circle cx="429.5" cy="596.2" r="2.85" fill="#d53e4f"/>
<circle cx="429.5" cy="602.2" r="2.85" fill="#d53e4f"/>
<circle cx="429.5" cy="608.3" r="2.85" fill="#fdae61"/>
</g>
<text x="81.2" y="503.7" font-size="11.9" font-weight="bold" text-anchor="end" fill="#111">BIT score</text>
<rect x="85.4" y="490.6" width="95.1" height="18.9" fill="url(#g1)"/>
<line x1="105.0" y1="490.6" x2="105.0" y2="494.1" stroke="#fff" stroke-width="0.7"/>
<line x1="105.0" y1="506.0" x2="105.0" y2="509.5" stroke="#fff" stroke-width="0.7"/>
<line x1="128.5" y1="490.6" x2="128.5" y2="494.1" stroke="#fff" stroke-width="0.7"/>
<line x1="128.5" y1="506.0" x2="128.5" y2="509.5" stroke="#fff" stroke-width="0.7"/>
<line x1="152.0" y1="490.6" x2="152.0" y2="494.1" stroke="#fff" stroke-width="0.7"/>
<line x1="152.0" y1="506.0" x2="152.0" y2="509.5" stroke="#fff" stroke-width="0.7"/>
<line x1="176.0" y1="490.6" x2="176.0" y2="494.1" stroke="#fff" stroke-width="0.7"/>
<line x1="176.0" y1="506.0" x2="176.0" y2="509.5" stroke="#fff" stroke-width="0.7"/>
<text x="105.0" y="523.4" font-size="9.6" text-anchor="middle" fill="#111">−0.5</text>
<text x="128.5" y="523.4" font-size="9.6" text-anchor="middle" fill="#111">0.0</text>
<text x="152.0" y="523.4" font-size="9.6" text-anchor="middle" fill="#111">0.5</text>
<text x="176.0" y="523.4" font-size="9.6" text-anchor="middle" fill="#111">1.0</text>
<text x="307.6" y="503.8" font-size="11.9" font-weight="bold" text-anchor="end" fill="#111">BST score</text>
<rect x="315.6" y="491.0" width="95.1" height="18.5" fill="url(#g2)"/>
<line x1="328.5" y1="491.0" x2="328.5" y2="494.5" stroke="#fff" stroke-width="0.7"/>
<line x1="328.5" y1="506.0" x2="328.5" y2="509.5" stroke="#fff" stroke-width="0.7"/>
<line x1="357.0" y1="491.0" x2="357.0" y2="494.5" stroke="#fff" stroke-width="0.7"/>
<line x1="357.0" y1="506.0" x2="357.0" y2="509.5" stroke="#fff" stroke-width="0.7"/>
<line x1="385.6" y1="491.0" x2="385.6" y2="494.5" stroke="#fff" stroke-width="0.7"/>
<line x1="385.6" y1="506.0" x2="385.6" y2="509.5" stroke="#fff" stroke-width="0.7"/>
<text x="328.5" y="522.9" font-size="9.6" text-anchor="middle" fill="#111">−1</text>
<text x="357.0" y="522.9" font-size="9.6" text-anchor="middle" fill="#111">0</text>
<text x="385.6" y="522.9" font-size="9.6" text-anchor="middle" fill="#111">1</text>
<text x="73.5" y="677.7" font-size="11.9" font-weight="bold" font-style="italic" text-anchor="end" fill="#111">CHI3L1</text>
<rect x="85.4" y="663.5" width="95.1" height="18.5" fill="url(#g3)"/>
<line x1="85.4" y1="663.5" x2="85.4" y2="667.0" stroke="#fff" stroke-width="0.7"/>
<line x1="85.4" y1="678.5" x2="85.4" y2="682.0" stroke="#fff" stroke-width="0.7"/>
<line x1="108.0" y1="663.5" x2="108.0" y2="667.0" stroke="#fff" stroke-width="0.7"/>
<line x1="108.0" y1="678.5" x2="108.0" y2="682.0" stroke="#fff" stroke-width="0.7"/>
<line x1="129.7" y1="663.5" x2="129.7" y2="667.0" stroke="#fff" stroke-width="0.7"/>
<line x1="129.7" y1="678.5" x2="129.7" y2="682.0" stroke="#fff" stroke-width="0.7"/>
<line x1="151.6" y1="663.5" x2="151.6" y2="667.0" stroke="#fff" stroke-width="0.7"/>
<line x1="151.6" y1="678.5" x2="151.6" y2="682.0" stroke="#fff" stroke-width="0.7"/>
<line x1="173.7" y1="663.5" x2="173.7" y2="667.0" stroke="#fff" stroke-width="0.7"/>
<line x1="173.7" y1="678.5" x2="173.7" y2="682.0" stroke="#fff" stroke-width="0.7"/>
<text x="85.4" y="695.2" font-size="9.6" text-anchor="middle" fill="#111">0</text>
<text x="108.0" y="695.2" font-size="9.6" text-anchor="middle" fill="#111">1</text>
<text x="129.7" y="695.2" font-size="9.6" text-anchor="middle" fill="#111">2</text>
<text x="151.6" y="695.2" font-size="9.6" text-anchor="middle" fill="#111">3</text>
<text x="173.7" y="695.2" font-size="9.6" text-anchor="middle" fill="#111">4</text>
<text x="303.5" y="677.7" font-size="11.9" font-weight="bold" font-style="italic" text-anchor="end" fill="#111">TACSTD2</text>
<rect x="313.4" y="663.7" width="96.1" height="19.8" fill="url(#g4)"/>
<line x1="313.4" y1="663.7" x2="313.4" y2="667.2" stroke="#fff" stroke-width="0.7"/>
<line x1="313.4" y1="680.0" x2="313.4" y2="683.5" stroke="#fff" stroke-width="0.7"/>
<line x1="340.3" y1="663.7" x2="340.3" y2="667.2" stroke="#fff" stroke-width="0.7"/>
<line x1="340.3" y1="680.0" x2="340.3" y2="683.5" stroke="#fff" stroke-width="0.7"/>
<line x1="367.2" y1="663.7" x2="367.2" y2="667.2" stroke="#fff" stroke-width="0.7"/>
<line x1="367.2" y1="680.0" x2="367.2" y2="683.5" stroke="#fff" stroke-width="0.7"/>
<line x1="394.4" y1="663.7" x2="394.4" y2="667.2" stroke="#fff" stroke-width="0.7"/>
<line x1="394.4" y1="680.0" x2="394.4" y2="683.5" stroke="#fff" stroke-width="0.7"/>
<text x="313.4" y="696.4" font-size="9.6" text-anchor="middle" fill="#111">0</text>
<text x="340.3" y="696.4" font-size="9.6" text-anchor="middle" fill="#111">1</text>
<text x="367.2" y="696.4" font-size="9.6" text-anchor="middle" fill="#111">2</text>
<text x="394.4" y="696.4" font-size="9.6" text-anchor="middle" fill="#111">3</text>
<use href="#dtis" x="0" y="0"/>
<clipPath id="dc201"><rect x="3.9" y="720.8" width="204.1" height="124.4"/></clipPath>
<g clip-path="url(#dc201)" stroke="#303030" stroke-width="0.85">
<circle cx="1.8" cy="740.2" r="2.95" fill="#9cd7a4"/>
<circle cx="1.8" cy="746.2" r="2.95" fill="#97d5a4"/>
<circle cx="1.8" cy="752.2" r="2.95" fill="#93d4a4"/>
<circle cx="1.8" cy="758.3" r="2.95" fill="#459db4"/>
<circle cx="1.8" cy="764.3" r="2.95" fill="#449cb5"/>
<circle cx="1.8" cy="770.3" r="2.95" fill="#86cfa5"/>
<circle cx="1.8" cy="776.3" r="2.95" fill="#4aa3b2"/>
<circle cx="1.8" cy="782.3" r="2.95" fill="#83cda5"/>
<circle cx="1.8" cy="788.4" r="2.95" fill="#8ad0a4"/>
<circle cx="1.8" cy="794.4" r="2.95" fill="#79caa5"/>
<circle cx="1.8" cy="800.4" r="2.95" fill="#78c9a5"/>
<circle cx="1.8" cy="806.4" r="2.95" fill="#54aead"/>
<circle cx="1.8" cy="812.4" r="2.95" fill="#3584bb"/>
<circle cx="1.8" cy="818.5" r="2.95" fill="#3387bc"/>
<circle cx="7.2" cy="731.2" r="2.95" fill="#b6e2a2"/>
<circle cx="7.2" cy="737.2" r="2.95" fill="#cfec9d"/>
<circle cx="7.2" cy="743.2" r="2.95" fill="#8ed2a4"/>
<circle cx="7.2" cy="749.2" r="2.95" fill="#3288bd"/>
<circle cx="7.2" cy="755.2" r="2.95" fill="#49a1b3"/>
<circle cx="7.2" cy="761.3" r="2.95" fill="#91d3a4"/>
<circle cx="7.2" cy="767.3" r="2.95" fill="#429ab6"/>
<circle cx="7.2" cy="773.3" r="2.95" fill="#439ab5"/>
<circle cx="7.2" cy="779.3" r="2.95" fill="#3683bb"/>
<circle cx="7.2" cy="785.4" r="2.95" fill="#59b3ab"/>
<circle cx="7.2" cy="791.4" r="2.95" fill="#82cda5"/>
<circle cx="7.2" cy="797.4" r="2.95" fill="#4075b4"/>
<circle cx="7.2" cy="803.4" r="2.95" fill="#3d7ab6"/>
<circle cx="7.2" cy="809.4" r="2.95" fill="#378dbb"/>
<circle cx="7.2" cy="815.5" r="2.95" fill="#3a7eb8"/>
<circle cx="7.2" cy="821.5" r="2.95" fill="#4ca5b1"/>
<circle cx="7.2" cy="827.5" r="2.95" fill="#ceeb9d"/>
<circle cx="12.5" cy="734.2" r="2.95" fill="#b4e1a2"/>
<circle cx="12.5" cy="740.2" r="2.95" fill="#82cda5"/>
<circle cx="12.5" cy="746.2" r="2.95" fill="#a1d9a4"/>
<circle cx="12.5" cy="752.2" r="2.95" fill="#53acae"/>
<circle cx="12.5" cy="758.3" r="2.95" fill="#6dc5a5"/>
<circle cx="12.5" cy="764.3" r="2.95" fill="#469fb4"/>
<circle cx="12.5" cy="770.3" r="2.95" fill="#5ab5ab"/>
<circle cx="12.5" cy="776.3" r="2.95" fill="#56b0ac"/>
<circle cx="12.5" cy="782.3" r="2.95" fill="#5eb9a9"/>
<circle cx="12.5" cy="788.4" r="2.95" fill="#358cbc"/>
<circle cx="12.5" cy="794.4" r="2.95" fill="#5160aa"/>
<circle cx="12.5" cy="800.4" r="2.95" fill="#3683bb"/>
<circle cx="12.5" cy="806.4" r="2.95" fill="#ceeb9d"/>
<circle cx="12.5" cy="812.4" r="2.95" fill="#60bba8"/>
<circle cx="12.5" cy="818.5" r="2.95" fill="#3386bc"/>
<circle cx="12.5" cy="824.5" r="2.95" fill="#3d94b8"/>
<circle cx="12.5" cy="830.5" r="2.95" fill="#3485bc"/>
<circle cx="17.9" cy="731.2" r="2.95" fill="#ebf7a0"/>
<circle cx="17.9" cy="737.2" r="2.95" fill="#ebf7a0"/>
<circle cx="17.9" cy="743.2" r="2.95" fill="#a3daa4"/>
<circle cx="17.9" cy="749.2" r="2.95" fill="#4ca5b1"/>
<circle cx="17.9" cy="755.2" r="2.95" fill="#3990ba"/>
<circle cx="17.9" cy="761.3" r="2.95" fill="#3585bb"/>
<circle cx="17.9" cy="767.3" r="2.95" fill="#49a1b3"/>
<circle cx="17.9" cy="773.3" r="2.95" fill="#49a2b2"/>
<circle cx="17.9" cy="779.3" r="2.95" fill="#358cbb"/>
<circle cx="17.9" cy="785.4" r="2.95" fill="#3f78b5"/>
<circle cx="17.9" cy="791.4" r="2.95" fill="#56b0ac"/>
<circle cx="17.9" cy="797.4" r="2.95" fill="#6ec5a5"/>
<circle cx="17.9" cy="803.4" r="2.95" fill="#59b3ab"/>
<circle cx="17.9" cy="809.4" r="2.95" fill="#348abc"/>
<circle cx="17.9" cy="815.5" r="2.95" fill="#49a2b2"/>
<circle cx="17.9" cy="821.5" r="2.95" fill="#469eb4"/>
<circle cx="17.9" cy="827.5" r="2.95" fill="#3683bb"/>
<circle cx="23.2" cy="734.2" r="2.95" fill="#cbea9d"/>
<circle cx="23.2" cy="740.2" r="2.95" fill="#66c2a5"/>
<circle cx="23.2" cy="746.2" r="2.95" fill="#90d2a4"/>
<circle cx="23.2" cy="752.2" r="2.95" fill="#83cda5"/>
<circle cx="23.2" cy="758.3" r="2.95" fill="#3288bd"/>
<circle cx="23.2" cy="764.3" r="2.95" fill="#71c6a5"/>
<circle cx="23.2" cy="770.3" r="2.95" fill="#6ec5a5"/>
<circle cx="23.2" cy="776.3" r="2.95" fill="#49a2b2"/>
<circle cx="23.2" cy="782.3" r="2.95" fill="#6dc5a5"/>
<circle cx="23.2" cy="788.4" r="2.95" fill="#7bcaa5"/>
<circle cx="23.2" cy="794.4" r="2.95" fill="#ceeb9d"/>
<circle cx="23.2" cy="800.4" r="2.95" fill="#75c8a5"/>
<circle cx="23.2" cy="806.4" r="2.95" fill="#90d3a4"/>
<circle cx="23.2" cy="812.4" r="2.95" fill="#51aaaf"/>
<circle cx="23.2" cy="824.5" r="2.95" fill="#3d7ab6"/>
<circle cx="23.2" cy="830.5" r="2.95" fill="#3d94b8"/>
<circle cx="28.6" cy="731.2" r="2.95" fill="#b3e0a2"/>
<circle cx="28.6" cy="737.2" r="2.95" fill="#ebf7a0"/>
<circle cx="28.6" cy="743.2" r="2.95" fill="#89d0a4"/>
<circle cx="28.6" cy="749.2" r="2.95" fill="#3486bc"/>
<circle cx="28.6" cy="755.2" r="2.95" fill="#3486bc"/>
<circle cx="28.6" cy="761.3" r="2.95" fill="#49a2b2"/>
<circle cx="28.6" cy="767.3" r="2.95" fill="#358bbc"/>
<circle cx="28.6" cy="773.3" r="2.95" fill="#8ed2a4"/>
<circle cx="28.6" cy="779.3" r="2.95" fill="#449cb5"/>
<circle cx="28.6" cy="785.4" r="2.95" fill="#5160aa"/>
<circle cx="28.6" cy="791.4" r="2.95" fill="#5cb7aa"/>
<circle cx="28.6" cy="797.4" r="2.95" fill="#ceeb9d"/>
<circle cx="28.6" cy="803.4" r="2.95" fill="#50a9af"/>
<circle cx="28.6" cy="809.4" r="2.95" fill="#7acaa5"/>
<circle cx="28.6" cy="821.5" r="2.95" fill="#3d79b6"/>
<circle cx="28.6" cy="827.5" r="2.95" fill="#3584bb"/>
<circle cx="28.6" cy="833.5" r="2.95" fill="#5ab4ab"/>
<circle cx="33.9" cy="728.2" r="2.95" fill="#b5e1a2"/>
<circle cx="33.9" cy="734.2" r="2.95" fill="#d9f09b"/>
<circle cx="33.9" cy="740.2" r="2.95" fill="#73c7a5"/>
<circle cx="33.9" cy="746.2" r="2.95" fill="#4ca5b1"/>
<circle cx="33.9" cy="752.2" r="2.95" fill="#86cfa5"/>
<circle cx="33.9" cy="758.3" r="2.95" fill="#4fa8b0"/>
<circle cx="33.9" cy="764.3" r="2.95" fill="#4199b6"/>
<circle cx="33.9" cy="770.3" r="2.95" fill="#50a9af"/>
<circle cx="33.9" cy="776.3" r="2.95" fill="#3683bb"/>
<circle cx="33.9" cy="782.3" r="2.95" fill="#8bd0a4"/>
<circle cx="33.9" cy="788.4" r="2.95" fill="#4f62ab"/>
<circle cx="33.9" cy="794.4" r="2.95" fill="#4da6b1"/>
<circle cx="33.9" cy="800.4" r="2.95" fill="#429ab5"/>
<circle cx="33.9" cy="806.4" r="2.95" fill="#48a1b3"/>
<circle cx="33.9" cy="812.4" r="2.95" fill="#51abaf"/>
<circle cx="33.9" cy="818.5" r="2.95" fill="#73c7a5"/>
<circle cx="33.9" cy="824.5" r="2.95" fill="#459eb4"/>
<circle cx="33.9" cy="830.5" r="2.95" fill="#5bb6aa"/>
<circle cx="39.3" cy="731.2" r="2.95" fill="#a3daa4"/>
<circle cx="39.3" cy="737.2" r="2.95" fill="#d5ee9b"/>
<circle cx="39.3" cy="743.2" r="2.95" fill="#6bc4a5"/>
<circle cx="39.3" cy="749.2" r="2.95" fill="#80cca5"/>
<circle cx="39.3" cy="755.2" r="2.95" fill="#3e95b8"/>
<circle cx="39.3" cy="761.3" r="2.95" fill="#55afad"/>
<circle cx="39.3" cy="767.3" r="2.95" fill="#5cb7a9"/>
<circle cx="39.3" cy="779.3" r="2.95" fill="#4299b6"/>
<circle cx="39.3" cy="785.4" r="2.95" fill="#3387bd"/>
<circle cx="39.3" cy="791.4" r="2.95" fill="#3b92b9"/>
<circle cx="39.3" cy="797.4" r="2.95" fill="#3486bc"/>
<circle cx="39.3" cy="803.4" r="2.95" fill="#4b68ae"/>
<circle cx="39.3" cy="809.4" r="2.95" fill="#3485bb"/>
<circle cx="39.3" cy="815.5" r="2.95" fill="#3584bb"/>
<circle cx="39.3" cy="821.5" r="2.95" fill="#3880b9"/>
<circle cx="39.3" cy="827.5" r="2.95" fill="#4ba4b1"/>
<circle cx="39.3" cy="833.5" r="2.95" fill="#3389bd"/>
<circle cx="44.6" cy="734.2" r="2.95" fill="#d6ee9b"/>
<circle cx="44.6" cy="740.2" r="2.95" fill="#9bd7a4"/>
<circle cx="44.6" cy="746.2" r="2.95" fill="#61bca7"/>
<circle cx="44.6" cy="752.2" r="2.95" fill="#61bca7"/>
<circle cx="44.6" cy="758.3" r="2.95" fill="#7acaa5"/>
<circle cx="44.6" cy="764.3" r="2.95" fill="#7dcba5"/>
<circle cx="44.6" cy="770.3" r="2.95" fill="#81cda5"/>
<circle cx="44.6" cy="776.3" r="2.95" fill="#ceeb9d"/>
<circle cx="44.6" cy="782.3" r="2.95" fill="#5db8a9"/>
<circle cx="44.6" cy="788.4" r="2.95" fill="#76c8a5"/>
<circle cx="44.6" cy="794.4" r="2.95" fill="#4d65ac"/>
<circle cx="44.6" cy="800.4" r="2.95" fill="#47a0b3"/>
<circle cx="44.6" cy="806.4" r="2.95" fill="#87cfa5"/>
<circle cx="44.6" cy="812.4" r="2.95" fill="#85cea5"/>
<circle cx="44.6" cy="818.5" r="2.95" fill="#7fcca5"/>
<circle cx="44.6" cy="824.5" r="2.95" fill="#7ccba5"/>
<circle cx="44.6" cy="830.5" r="2.95" fill="#3d7ab7"/>
<circle cx="44.6" cy="836.5" r="2.95" fill="#8dd1a4"/>
<circle cx="50.0" cy="731.2" r="2.95" fill="#abdda4"/>
<circle cx="50.0" cy="737.2" r="2.95" fill="#ebf7a0"/>
<circle cx="50.0" cy="743.2" r="2.95" fill="#8ad0a4"/>
<circle cx="50.0" cy="749.2" r="2.95" fill="#59b3ab"/>
<circle cx="50.0" cy="755.2" r="2.95" fill="#8dd1a4"/>
<circle cx="50.0" cy="761.3" r="2.95" fill="#4ea8b0"/>
<circle cx="50.0" cy="767.3" r="2.95" fill="#3584bb"/>
<circle cx="50.0" cy="779.3" r="2.95" fill="#3990ba"/>
<circle cx="50.0" cy="785.4" r="2.95" fill="#398fba"/>
<circle cx="50.0" cy="791.4" r="2.95" fill="#92d3a4"/>
<circle cx="50.0" cy="797.4" r="2.95" fill="#95d5a4"/>
<circle cx="50.0" cy="803.4" r="2.95" fill="#4ea7b0"/>
<circle cx="50.0" cy="809.4" r="2.95" fill="#3e95b7"/>
<circle cx="50.0" cy="815.5" r="2.95" fill="#81cda5"/>
<circle cx="50.0" cy="821.5" r="2.95" fill="#57b1ac"/>
<circle cx="50.0" cy="827.5" r="2.95" fill="#55afad"/>
<circle cx="50.0" cy="833.5" r="2.95" fill="#429ab5"/>
<circle cx="55.3" cy="734.2" r="2.95" fill="#ceeb9d"/>
<circle cx="55.3" cy="740.2" r="2.95" fill="#c1e6a0"/>
<circle cx="55.3" cy="746.2" r="2.95" fill="#68c3a5"/>
<circle cx="55.3" cy="752.2" r="2.95" fill="#57b1ac"/>
<circle cx="55.3" cy="758.3" r="2.95" fill="#50aaaf"/>
<circle cx="55.3" cy="764.3" r="2.95" fill="#5cb7aa"/>
<circle cx="55.3" cy="770.3" r="2.95" fill="#5cb7aa"/>
<circle cx="55.3" cy="776.3" r="2.95" fill="#3485bc"/>
<circle cx="55.3" cy="782.3" r="2.95" fill="#59b4ab"/>
<circle cx="55.3" cy="788.4" r="2.95" fill="#73c7a5"/>
<circle cx="55.3" cy="794.4" r="2.95" fill="#7ecba5"/>
<circle cx="55.3" cy="800.4" r="2.95" fill="#3c7bb7"/>
<circle cx="55.3" cy="806.4" r="2.95" fill="#5eb9a9"/>
<circle cx="55.3" cy="812.4" r="2.95" fill="#7fcca5"/>
<circle cx="55.3" cy="818.5" r="2.95" fill="#4ba4b1"/>
<circle cx="55.3" cy="824.5" r="2.95" fill="#8cd1a4"/>
<circle cx="55.3" cy="830.5" r="2.95" fill="#72c7a5"/>
<circle cx="55.3" cy="836.5" r="2.95" fill="#82cda5"/>
<circle cx="60.7" cy="737.2" r="2.95" fill="#daf09b"/>
<circle cx="60.7" cy="743.2" r="2.95" fill="#84cea5"/>
<circle cx="60.7" cy="749.2" r="2.95" fill="#7ccaa5"/>
<circle cx="60.7" cy="755.2" r="2.95" fill="#3485bc"/>
<circle cx="60.7" cy="761.3" r="2.95" fill="#60bca8"/>
<circle cx="60.7" cy="767.3" r="2.95" fill="#80cca5"/>
<circle cx="60.7" cy="773.3" r="2.95" fill="#3288bd"/>
<circle cx="60.7" cy="779.3" r="2.95" fill="#429ab5"/>
<circle cx="60.7" cy="785.4" r="2.95" fill="#56b1ac"/>
<circle cx="60.7" cy="791.4" r="2.95" fill="#50a9af"/>
<circle cx="60.7" cy="797.4" r="2.95" fill="#4ca5b1"/>
<circle cx="60.7" cy="803.4" r="2.95" fill="#7ccba5"/>
<circle cx="60.7" cy="809.4" r="2.95" fill="#5fbaa8"/>
<circle cx="60.7" cy="815.5" r="2.95" fill="#88cfa5"/>
<circle cx="60.7" cy="821.5" r="2.95" fill="#56b1ac"/>
<circle cx="60.7" cy="827.5" r="2.95" fill="#4097b7"/>
<circle cx="60.7" cy="833.5" r="2.95" fill="#8cd1a4"/>
<circle cx="66.0" cy="734.2" r="2.95" fill="#ebf7a0"/>
<circle cx="66.0" cy="740.2" r="2.95" fill="#ebf7a0"/>
<circle cx="66.0" cy="746.2" r="2.95" fill="#96d5a4"/>
<circle cx="66.0" cy="752.2" r="2.95" fill="#ceeb9d"/>
<circle cx="66.0" cy="758.3" r="2.95" fill="#77c9a5"/>
<circle cx="66.0" cy="764.3" r="2.95" fill="#378ebb"/>
<circle cx="66.0" cy="770.3" r="2.95" fill="#3584bb"/>
<circle cx="66.0" cy="776.3" r="2.95" fill="#3389bc"/>
<circle cx="66.0" cy="782.3" r="2.95" fill="#3485bc"/>
<circle cx="66.0" cy="788.4" r="2.95" fill="#4199b6"/>
<circle cx="66.0" cy="794.4" r="2.95" fill="#85cea5"/>
<circle cx="66.0" cy="800.4" r="2.95" fill="#92d3a4"/>
<circle cx="66.0" cy="806.4" r="2.95" fill="#3683bb"/>
<circle cx="66.0" cy="812.4" r="2.95" fill="#58b2ac"/>
<circle cx="66.0" cy="818.5" r="2.95" fill="#60bba8"/>
<circle cx="66.0" cy="824.5" r="2.95" fill="#77c9a5"/>
<circle cx="66.0" cy="830.5" r="2.95" fill="#52acae"/>
<circle cx="66.0" cy="836.5" r="2.95" fill="#93d4a4"/>
<circle cx="71.4" cy="737.2" r="2.95" fill="#e0f399"/>
<circle cx="71.4" cy="743.2" r="2.95" fill="#80cca5"/>
<circle cx="71.4" cy="749.2" r="2.95" fill="#6dc5a5"/>
<circle cx="71.4" cy="755.2" r="2.95" fill="#47a0b3"/>
<circle cx="71.4" cy="761.3" r="2.95" fill="#368cbb"/>
<circle cx="71.4" cy="767.3" r="2.95" fill="#83cda5"/>
<circle cx="71.4" cy="773.3" r="2.95" fill="#3584bb"/>
<circle cx="71.4" cy="779.3" r="2.95" fill="#5bb6aa"/>
<circle cx="71.4" cy="785.4" r="2.95" fill="#3389bc"/>
<circle cx="71.4" cy="791.4" r="2.95" fill="#3f96b7"/>
<circle cx="71.4" cy="797.4" r="2.95" fill="#3a91b9"/>
<circle cx="71.4" cy="803.4" r="2.95" fill="#4fa8b0"/>
<circle cx="71.4" cy="809.4" r="2.95" fill="#4fa8b0"/>
<circle cx="71.4" cy="815.5" r="2.95" fill="#8ad0a4"/>
<circle cx="71.4" cy="821.5" r="2.95" fill="#8fd2a4"/>
<circle cx="71.4" cy="827.5" r="2.95" fill="#3d95b8"/>
<circle cx="71.4" cy="833.5" r="2.95" fill="#5cb7a9"/>
<circle cx="76.7" cy="734.2" r="2.95" fill="#ebf7a0"/>
<circle cx="76.7" cy="740.2" r="2.95" fill="#b2e0a3"/>
<circle cx="76.7" cy="746.2" r="2.95" fill="#86cea5"/>
<circle cx="76.7" cy="752.2" r="2.95" fill="#61bca8"/>
<circle cx="76.7" cy="758.3" r="2.95" fill="#75c8a5"/>
<circle cx="76.7" cy="764.3" r="2.95" fill="#49a1b3"/>
<circle cx="76.7" cy="770.3" r="2.95" fill="#3e96b7"/>
<circle cx="76.7" cy="776.3" r="2.95" fill="#75c8a5"/>
<circle cx="76.7" cy="782.3" r="2.95" fill="#77c9a5"/>
<circle cx="76.7" cy="788.4" r="2.95" fill="#51abaf"/>
<circle cx="76.7" cy="794.4" r="2.95" fill="#449cb5"/>
<circle cx="76.7" cy="806.4" r="2.95" fill="#8ad0a4"/>
<circle cx="76.7" cy="812.4" r="2.95" fill="#7ecba5"/>
<circle cx="76.7" cy="818.5" r="2.95" fill="#77c9a5"/>
<circle cx="76.7" cy="824.5" r="2.95" fill="#3c93b8"/>
<circle cx="76.7" cy="830.5" r="2.95" fill="#96d5a4"/>
<circle cx="76.7" cy="836.5" r="2.95" fill="#4aa2b2"/>
<circle cx="82.1" cy="731.2" r="2.95" fill="#bbe3a1"/>
<circle cx="82.1" cy="737.2" r="2.95" fill="#b3e0a2"/>
<circle cx="82.1" cy="743.2" r="2.95" fill="#99d6a4"/>
<circle cx="82.1" cy="749.2" r="2.95" fill="#6ec5a5"/>
<circle cx="82.1" cy="755.2" r="2.95" fill="#88cfa5"/>
<circle cx="82.1" cy="761.3" r="2.95" fill="#48a1b3"/>
<circle cx="82.1" cy="767.3" r="2.95" fill="#358bbc"/>
<circle cx="82.1" cy="773.3" r="2.95" fill="#56b0ac"/>
<circle cx="82.1" cy="779.3" r="2.95" fill="#49a2b2"/>
<circle cx="82.1" cy="785.4" r="2.95" fill="#48a0b3"/>
<circle cx="82.1" cy="791.4" r="2.95" fill="#3e96b7"/>
<circle cx="82.1" cy="797.4" r="2.95" fill="#49a1b3"/>
<circle cx="82.1" cy="803.4" r="2.95" fill="#6fc6a5"/>
<circle cx="82.1" cy="809.4" r="2.95" fill="#52acae"/>
<circle cx="82.1" cy="815.5" r="2.95" fill="#7ecca5"/>
<circle cx="82.1" cy="821.5" r="2.95" fill="#429ab6"/>
<circle cx="82.1" cy="827.5" r="2.95" fill="#4ea7b0"/>
<circle cx="82.1" cy="833.5" r="2.95" fill="#3e95b8"/>
<circle cx="87.4" cy="734.2" r="2.95" fill="#ebf7a0"/>
<circle cx="87.4" cy="740.2" r="2.95" fill="#ebf7a0"/>
<circle cx="87.4" cy="746.2" r="2.95" fill="#91d3a4"/>
<circle cx="87.4" cy="752.2" r="2.95" fill="#3f96b7"/>
<circle cx="87.4" cy="758.3" r="2.95" fill="#6ec5a5"/>
<circle cx="87.4" cy="764.3" r="2.95" fill="#7bcaa5"/>
<circle cx="87.4" cy="770.3" r="2.95" fill="#ceeb9d"/>
<circle cx="87.4" cy="776.3" r="2.95" fill="#3d94b8"/>
<circle cx="87.4" cy="782.3" r="2.95" fill="#3485bc"/>
<circle cx="87.4" cy="788.4" r="2.95" fill="#8dd1a4"/>
<circle cx="87.4" cy="794.4" r="2.95" fill="#83cda5"/>
<circle cx="87.4" cy="800.4" r="2.95" fill="#ceeb9d"/>
<circle cx="87.4" cy="806.4" r="2.95" fill="#80cca5"/>
<circle cx="87.4" cy="812.4" r="2.95" fill="#8ed2a4"/>
<circle cx="87.4" cy="818.5" r="2.95" fill="#6fc6a5"/>
<circle cx="87.4" cy="824.5" r="2.95" fill="#ceeb9d"/>
<circle cx="87.4" cy="830.5" r="2.95" fill="#4fa8b0"/>
<circle cx="92.8" cy="731.2" r="2.95" fill="#aedea3"/>
<circle cx="92.8" cy="737.2" r="2.95" fill="#c2e79f"/>
<circle cx="92.8" cy="743.2" r="2.95" fill="#62bea7"/>
<circle cx="92.8" cy="749.2" r="2.95" fill="#6dc5a5"/>
<circle cx="92.8" cy="755.2" r="2.95" fill="#3486bc"/>
<circle cx="92.8" cy="761.3" r="2.95" fill="#56b1ac"/>
<circle cx="92.8" cy="767.3" r="2.95" fill="#7dcba5"/>
<circle cx="92.8" cy="773.3" r="2.95" fill="#3389bc"/>
<circle cx="92.8" cy="779.3" r="2.95" fill="#7dcba5"/>
<circle cx="92.8" cy="785.4" r="2.95" fill="#56b0ad"/>
<circle cx="92.8" cy="791.4" r="2.95" fill="#5fbaa8"/>
<circle cx="92.8" cy="797.4" r="2.95" fill="#86cfa5"/>
<circle cx="92.8" cy="803.4" r="2.95" fill="#55b0ad"/>
<circle cx="92.8" cy="809.4" r="2.95" fill="#4ea8b0"/>
<circle cx="92.8" cy="815.5" r="2.95" fill="#4098b6"/>
<circle cx="92.8" cy="821.5" r="2.95" fill="#3d94b8"/>
<circle cx="92.8" cy="827.5" r="2.95" fill="#8bd0a4"/>
<circle cx="92.8" cy="833.5" r="2.95" fill="#4ea8b0"/>
<circle cx="98.1" cy="734.2" r="2.95" fill="#acdda4"/>
<circle cx="98.1" cy="740.2" r="2.95" fill="#cbea9e"/>
<circle cx="98.1" cy="746.2" r="2.95" fill="#87cfa5"/>
<circle cx="98.1" cy="752.2" r="2.95" fill="#54aead"/>
<circle cx="98.1" cy="758.3" r="2.95" fill="#93d4a4"/>
<circle cx="98.1" cy="764.3" r="2.95" fill="#378dbb"/>
<circle cx="98.1" cy="770.3" r="2.95" fill="#51aaaf"/>
<circle cx="98.1" cy="776.3" r="2.95" fill="#388fba"/>
<circle cx="98.1" cy="782.3" r="2.95" fill="#3288bd"/>
<circle cx="98.1" cy="788.4" r="2.95" fill="#3485bc"/>
<circle cx="98.1" cy="794.4" r="2.95" fill="#3485bc"/>
<circle cx="98.1" cy="800.4" r="2.95" fill="#88cfa5"/>
<circle cx="98.1" cy="806.4" r="2.95" fill="#3585bb"/>
<circle cx="98.1" cy="812.4" r="2.95" fill="#4ea7b0"/>
<circle cx="98.1" cy="818.5" r="2.95" fill="#5cb6aa"/>
<circle cx="98.1" cy="824.5" r="2.95" fill="#4098b6"/>
<circle cx="98.1" cy="830.5" r="2.95" fill="#50a9af"/>
<circle cx="103.5" cy="737.2" r="2.95" fill="#fff9b5"/>
<circle cx="103.5" cy="743.2" r="2.95" fill="#c3e79f"/>
<circle cx="103.5" cy="749.2" r="2.95" fill="#d5ee9b"/>
<circle cx="103.5" cy="755.2" r="2.95" fill="#bee5a0"/>
<circle cx="103.5" cy="761.3" r="2.95" fill="#71c6a5"/>
<circle cx="103.5" cy="767.3" r="2.95" fill="#3b91b9"/>
<circle cx="103.5" cy="773.3" r="2.95" fill="#3d95b8"/>
<circle cx="103.5" cy="779.3" r="2.95" fill="#48a1b3"/>
<circle cx="103.5" cy="785.4" r="2.95" fill="#71c6a5"/>
<circle cx="103.5" cy="791.4" r="2.95" fill="#48a0b3"/>
<circle cx="103.5" cy="797.4" r="2.95" fill="#3584bb"/>
<circle cx="103.5" cy="803.4" r="2.95" fill="#88cfa5"/>
<circle cx="103.5" cy="809.4" r="2.95" fill="#54aead"/>
<circle cx="103.5" cy="815.5" r="2.95" fill="#48a0b3"/>
<circle cx="103.5" cy="821.5" r="2.95" fill="#3387bc"/>
<circle cx="103.5" cy="827.5" r="2.95" fill="#87cfa5"/>
<circle cx="103.5" cy="833.5" r="2.95" fill="#58b2ac"/>
<circle cx="108.8" cy="740.2" r="2.95" fill="#f2faab"/>
<circle cx="108.8" cy="746.2" r="2.95" fill="#e5f498"/>
<circle cx="108.8" cy="752.2" r="2.95" fill="#ccea9d"/>
<circle cx="108.8" cy="758.3" r="2.95" fill="#48a1b3"/>
<circle cx="108.8" cy="764.3" r="2.95" fill="#4da6b0"/>
<circle cx="108.8" cy="770.3" r="2.95" fill="#4aa3b2"/>
<circle cx="108.8" cy="776.3" r="2.95" fill="#59b3ab"/>
<circle cx="108.8" cy="782.3" r="2.95" fill="#398fba"/>
<circle cx="108.8" cy="788.4" r="2.95" fill="#3485bc"/>
<circle cx="108.8" cy="794.4" r="2.95" fill="#358bbc"/>
<circle cx="108.8" cy="800.4" r="2.95" fill="#52acae"/>
<circle cx="108.8" cy="806.4" r="2.95" fill="#459db4"/>
<circle cx="108.8" cy="812.4" r="2.95" fill="#50a9af"/>
<circle cx="108.8" cy="818.5" r="2.95" fill="#449db5"/>
<circle cx="108.8" cy="824.5" r="2.95" fill="#3486bc"/>
<circle cx="108.8" cy="830.5" r="2.95" fill="#52abae"/>
<circle cx="114.2" cy="737.2" r="2.95" fill="#f99455"/>
<circle cx="114.2" cy="743.2" r="2.95" fill="#fec978"/>
<circle cx="114.2" cy="749.2" r="2.95" fill="#f57748"/>
<circle cx="114.2" cy="755.2" r="2.95" fill="#feffbe"/>
<circle cx="114.2" cy="761.3" r="2.95" fill="#3990ba"/>
<circle cx="114.2" cy="767.3" r="2.95" fill="#8ed2a4"/>
<circle cx="114.2" cy="773.3" r="2.95" fill="#48a1b3"/>
<circle cx="114.2" cy="779.3" r="2.95" fill="#3a91b9"/>
<circle cx="114.2" cy="785.4" r="2.95" fill="#5eb9a9"/>
<circle cx="114.2" cy="791.4" r="2.95" fill="#61bca7"/>
<circle cx="114.2" cy="797.4" r="2.95" fill="#459db4"/>
<circle cx="114.2" cy="803.4" r="2.95" fill="#55afad"/>
<circle cx="114.2" cy="809.4" r="2.95" fill="#53adae"/>
<circle cx="114.2" cy="815.5" r="2.95" fill="#3e96b7"/>
<circle cx="114.2" cy="821.5" r="2.95" fill="#3682ba"/>
<circle cx="114.2" cy="827.5" r="2.95" fill="#429ab6"/>
<circle cx="119.5" cy="740.2" r="2.95" fill="#fed784"/>
<circle cx="119.5" cy="746.2" r="2.95" fill="#fdab60"/>
<circle cx="119.5" cy="752.2" r="2.95" fill="#ceeb9d"/>
<circle cx="119.5" cy="758.3" r="2.95" fill="#94d4a4"/>
<circle cx="119.5" cy="764.3" r="2.95" fill="#78c9a5"/>
<circle cx="119.5" cy="770.3" r="2.95" fill="#449cb5"/>
<circle cx="119.5" cy="776.3" r="2.95" fill="#49a2b2"/>
<circle cx="119.5" cy="782.3" r="2.95" fill="#388eba"/>
<circle cx="119.5" cy="788.4" r="2.95" fill="#3a90b9"/>
<circle cx="119.5" cy="794.4" r="2.95" fill="#3b92b9"/>
<circle cx="119.5" cy="800.4" r="2.95" fill="#ceeb9d"/>
<circle cx="119.5" cy="806.4" r="2.95" fill="#3288bd"/>
<circle cx="119.5" cy="812.4" r="2.95" fill="#7dcba5"/>
<circle cx="119.5" cy="818.5" r="2.95" fill="#7ccba5"/>
<circle cx="119.5" cy="824.5" r="2.95" fill="#4ba3b2"/>
<circle cx="119.5" cy="830.5" r="2.95" fill="#7fcca5"/>
<circle cx="124.9" cy="737.2" r="2.95" fill="#cb334d"/>
<circle cx="124.9" cy="743.2" r="2.95" fill="#d23b4e"/>
<circle cx="124.9" cy="749.2" r="2.95" fill="#ed6246"/>
<circle cx="124.9" cy="755.2" r="2.95" fill="#e8f69c"/>
<circle cx="124.9" cy="761.3" r="2.95" fill="#378dbb"/>
<circle cx="124.9" cy="767.3" r="2.95" fill="#81cca5"/>
<circle cx="124.9" cy="773.3" r="2.95" fill="#4ca5b1"/>
<circle cx="124.9" cy="779.3" r="2.95" fill="#4ca5b1"/>
<circle cx="124.9" cy="785.4" r="2.95" fill="#52acae"/>
<circle cx="124.9" cy="791.4" r="2.95" fill="#4098b7"/>
<circle cx="124.9" cy="797.4" r="2.95" fill="#358cbb"/>
<circle cx="124.9" cy="803.4" r="2.95" fill="#439bb5"/>
<circle cx="124.9" cy="809.4" r="2.95" fill="#5cb6aa"/>
<circle cx="124.9" cy="815.5" r="2.95" fill="#3682ba"/>
<circle cx="124.9" cy="821.5" r="2.95" fill="#449cb5"/>
<circle cx="124.9" cy="827.5" r="2.95" fill="#80cca5"/>
<circle cx="130.2" cy="740.2" r="2.95" fill="#b51b47"/>
<circle cx="130.2" cy="746.2" r="2.95" fill="#fed884"/>
<circle cx="130.2" cy="752.2" r="2.95" fill="#f6fcb2"/>
<circle cx="130.2" cy="758.3" r="2.95" fill="#ebf79f"/>
<circle cx="130.2" cy="764.3" r="2.95" fill="#3485bc"/>
<circle cx="130.2" cy="770.3" r="2.95" fill="#81cca5"/>
<circle cx="130.2" cy="776.3" r="2.95" fill="#74c7a5"/>
<circle cx="130.2" cy="782.3" r="2.95" fill="#ceeb9d"/>
<circle cx="130.2" cy="788.4" r="2.95" fill="#388fba"/>
<circle cx="130.2" cy="794.4" r="2.95" fill="#3b92b9"/>
<circle cx="130.2" cy="800.4" r="2.95" fill="#5bb6aa"/>
<circle cx="130.2" cy="806.4" r="2.95" fill="#3c94b8"/>
<circle cx="130.2" cy="812.4" r="2.95" fill="#77c9a5"/>
<circle cx="130.2" cy="818.5" r="2.95" fill="#3b92b9"/>
<circle cx="130.2" cy="824.5" r="2.95" fill="#80cca5"/>
<circle cx="130.2" cy="830.5" r="2.95" fill="#358cbc"/>
<circle cx="135.5" cy="737.2" r="2.95" fill="#d8424e"/>
<circle cx="135.5" cy="743.2" r="2.95" fill="#b21747"/>
<circle cx="135.5" cy="749.2" r="2.95" fill="#ee6346"/>
<circle cx="135.5" cy="755.2" r="2.95" fill="#f6fbb1"/>
<circle cx="135.5" cy="761.3" r="2.95" fill="#71c6a5"/>
<circle cx="135.5" cy="767.3" r="2.95" fill="#3288bd"/>
<circle cx="135.5" cy="773.3" r="2.95" fill="#8ed2a4"/>
<circle cx="135.5" cy="779.3" r="2.95" fill="#85cea5"/>
<circle cx="135.5" cy="785.4" r="2.95" fill="#ceeb9d"/>
<circle cx="135.5" cy="791.4" r="2.95" fill="#48a0b3"/>
<circle cx="135.5" cy="797.4" r="2.95" fill="#95d4a4"/>
<circle cx="135.5" cy="803.4" r="2.95" fill="#398fba"/>
<circle cx="135.5" cy="809.4" r="2.95" fill="#7fcca5"/>
<circle cx="135.5" cy="815.5" r="2.95" fill="#51abaf"/>
<circle cx="135.5" cy="821.5" r="2.95" fill="#86cea5"/>
<circle cx="135.5" cy="827.5" r="2.95" fill="#77c9a5"/>
<circle cx="140.9" cy="740.2" r="2.95" fill="#fdc272"/>
<circle cx="140.9" cy="746.2" r="2.95" fill="#f99154"/>
<circle cx="140.9" cy="752.2" r="2.95" fill="#d7ef9b"/>
<circle cx="140.9" cy="758.3" r="2.95" fill="#d6ef9b"/>
<circle cx="140.9" cy="764.3" r="2.95" fill="#3387bc"/>
<circle cx="140.9" cy="770.3" r="2.95" fill="#439bb5"/>
<circle cx="140.9" cy="776.3" r="2.95" fill="#479fb3"/>
<circle cx="140.9" cy="782.3" r="2.95" fill="#429ab5"/>
<circle cx="140.9" cy="788.4" r="2.95" fill="#5cb7a9"/>
<circle cx="140.9" cy="794.4" r="2.95" fill="#469fb4"/>
<circle cx="140.9" cy="800.4" r="2.95" fill="#57b2ac"/>
<circle cx="140.9" cy="806.4" r="2.95" fill="#59b4ab"/>
<circle cx="140.9" cy="812.4" r="2.95" fill="#84cea5"/>
<circle cx="140.9" cy="818.5" r="2.95" fill="#52acae"/>
<circle cx="140.9" cy="824.5" r="2.95" fill="#3389bc"/>
<circle cx="140.9" cy="830.5" r="2.95" fill="#ceeb9d"/>
<circle cx="146.2" cy="737.2" r="2.95" fill="#fcfebb"/>
<circle cx="146.2" cy="743.2" r="2.95" fill="#e8f69b"/>
<circle cx="146.2" cy="749.2" r="2.95" fill="#f6fbb1"/>
<circle cx="146.2" cy="755.2" r="2.95" fill="#ebf7a0"/>
<circle cx="146.2" cy="761.3" r="2.95" fill="#8fd2a4"/>
<circle cx="146.2" cy="767.3" r="2.95" fill="#3389bd"/>
<circle cx="146.2" cy="773.3" r="2.95" fill="#95d4a4"/>
<circle cx="146.2" cy="779.3" r="2.95" fill="#358cbc"/>
<circle cx="146.2" cy="785.4" r="2.95" fill="#57b1ac"/>
<circle cx="146.2" cy="791.4" r="2.95" fill="#56b0ad"/>
<circle cx="146.2" cy="797.4" r="2.95" fill="#4aa3b2"/>
<circle cx="146.2" cy="803.4" r="2.95" fill="#53adae"/>
<circle cx="146.2" cy="809.4" r="2.95" fill="#479fb3"/>
<circle cx="146.2" cy="815.5" r="2.95" fill="#3b92b9"/>
<circle cx="146.2" cy="821.5" r="2.95" fill="#3585bb"/>
<circle cx="146.2" cy="827.5" r="2.95" fill="#84cea5"/>
<circle cx="151.6" cy="740.2" r="2.95" fill="#ddf19a"/>
<circle cx="151.6" cy="746.2" r="2.95" fill="#fffdbc"/>
<circle cx="151.6" cy="752.2" r="2.95" fill="#e2f499"/>
<circle cx="151.6" cy="758.3" r="2.95" fill="#f2faab"/>
<circle cx="151.6" cy="764.3" r="2.95" fill="#4aa3b2"/>
<circle cx="151.6" cy="770.3" r="2.95" fill="#348abc"/>
<circle cx="151.6" cy="776.3" r="2.95" fill="#479fb3"/>
<circle cx="151.6" cy="782.3" r="2.95" fill="#52abae"/>
<circle cx="151.6" cy="788.4" r="2.95" fill="#75c8a5"/>
<circle cx="151.6" cy="794.4" r="2.95" fill="#86cfa5"/>
<circle cx="151.6" cy="800.4" r="2.95" fill="#4da6b1"/>
<circle cx="151.6" cy="806.4" r="2.95" fill="#8fd2a4"/>
<circle cx="151.6" cy="812.4" r="2.95" fill="#71c6a5"/>
<circle cx="151.6" cy="818.5" r="2.95" fill="#439bb5"/>
<circle cx="151.6" cy="824.5" r="2.95" fill="#368cbb"/>
<circle cx="156.9" cy="737.2" r="2.95" fill="#9ed8a4"/>
<circle cx="156.9" cy="743.2" r="2.95" fill="#9ed8a4"/>
<circle cx="156.9" cy="749.2" r="2.95" fill="#79c9a5"/>
<circle cx="156.9" cy="755.2" r="2.95" fill="#54aead"/>
<circle cx="156.9" cy="761.3" r="2.95" fill="#479fb3"/>
<circle cx="156.9" cy="767.3" r="2.95" fill="#4199b6"/>
<circle cx="156.9" cy="773.3" r="2.95" fill="#75c8a5"/>
<circle cx="156.9" cy="779.3" r="2.95" fill="#6ec5a5"/>
<circle cx="156.9" cy="785.4" r="2.95" fill="#57b1ac"/>
<circle cx="156.9" cy="791.4" r="2.95" fill="#83cda5"/>
<circle cx="156.9" cy="797.4" r="2.95" fill="#469eb4"/>
<circle cx="156.9" cy="803.4" r="2.95" fill="#4da6b1"/>
<circle cx="156.9" cy="809.4" r="2.95" fill="#74c8a5"/>
<circle cx="156.9" cy="815.5" r="2.95" fill="#5ab4ab"/>
<circle cx="156.9" cy="821.5" r="2.95" fill="#5eb9a9"/>
<circle cx="156.9" cy="827.5" r="2.95" fill="#7ecba5"/>
<circle cx="162.3" cy="740.2" r="2.95" fill="#86cea5"/>
<circle cx="162.3" cy="746.2" r="2.95" fill="#a6dba4"/>
<circle cx="162.3" cy="752.2" r="2.95" fill="#6cc4a5"/>
<circle cx="162.3" cy="758.3" r="2.95" fill="#4fa9af"/>
<circle cx="162.3" cy="764.3" r="2.95" fill="#3a91b9"/>
<circle cx="162.3" cy="770.3" r="2.95" fill="#85cea5"/>
<circle cx="162.3" cy="776.3" r="2.95" fill="#5db7a9"/>
<circle cx="162.3" cy="782.3" r="2.95" fill="#50a9af"/>
<circle cx="162.3" cy="788.4" r="2.95" fill="#3e96b7"/>
<circle cx="162.3" cy="794.4" r="2.95" fill="#3389bd"/>
<circle cx="162.3" cy="800.4" r="2.95" fill="#3e95b8"/>
<circle cx="162.3" cy="806.4" r="2.95" fill="#53adae"/>
<circle cx="162.3" cy="812.4" r="2.95" fill="#4aa3b2"/>
<circle cx="162.3" cy="818.5" r="2.95" fill="#449cb5"/>
<circle cx="162.3" cy="824.5" r="2.95" fill="#72c7a5"/>
<circle cx="167.6" cy="737.2" r="2.95" fill="#a3daa4"/>
<circle cx="167.6" cy="743.2" r="2.95" fill="#bde4a0"/>
<circle cx="167.6" cy="749.2" r="2.95" fill="#6cc5a5"/>
<circle cx="167.6" cy="755.2" r="2.95" fill="#71c6a5"/>
<circle cx="167.6" cy="761.3" r="2.95" fill="#3584bb"/>
<circle cx="167.6" cy="767.3" r="2.95" fill="#3f97b7"/>
<circle cx="167.6" cy="773.3" r="2.95" fill="#ceeb9d"/>
<circle cx="167.6" cy="779.3" r="2.95" fill="#3683bb"/>
<circle cx="167.6" cy="785.4" r="2.95" fill="#60bca8"/>
<circle cx="167.6" cy="791.4" r="2.95" fill="#3e95b7"/>
<circle cx="167.6" cy="797.4" r="2.95" fill="#3485bc"/>
<circle cx="167.6" cy="803.4" r="2.95" fill="#94d4a4"/>
<circle cx="167.6" cy="809.4" r="2.95" fill="#4da6b1"/>
<circle cx="167.6" cy="815.5" r="2.95" fill="#4da6b0"/>
<circle cx="167.6" cy="821.5" r="2.95" fill="#ceeb9d"/>
<circle cx="167.6" cy="827.5" r="2.95" fill="#75c8a5"/>
<circle cx="173.0" cy="740.2" r="2.95" fill="#8cd1a4"/>
<circle cx="173.0" cy="746.2" r="2.95" fill="#9fd8a4"/>
<circle cx="173.0" cy="752.2" r="2.95" fill="#62bea7"/>
<circle cx="173.0" cy="758.3" r="2.95" fill="#3288bd"/>
<circle cx="173.0" cy="764.3" r="2.95" fill="#92d3a4"/>
<circle cx="173.0" cy="770.3" r="2.95" fill="#89d0a4"/>
<circle cx="173.0" cy="776.3" r="2.95" fill="#8ad0a4"/>
<circle cx="173.0" cy="782.3" r="2.95" fill="#8ad0a4"/>
<circle cx="173.0" cy="788.4" r="2.95" fill="#53adae"/>
<circle cx="173.0" cy="794.4" r="2.95" fill="#348abc"/>
<circle cx="173.0" cy="800.4" r="2.95" fill="#7dcba5"/>
<circle cx="173.0" cy="806.4" r="2.95" fill="#348abc"/>
<circle cx="173.0" cy="812.4" r="2.95" fill="#79c9a5"/>
<circle cx="173.0" cy="818.5" r="2.95" fill="#358bbc"/>
<circle cx="173.0" cy="824.5" r="2.95" fill="#8cd1a4"/>
<circle cx="178.3" cy="737.2" r="2.95" fill="#81cda5"/>
<circle cx="178.3" cy="743.2" r="2.95" fill="#afdea3"/>
<circle cx="178.3" cy="749.2" r="2.95" fill="#91d3a4"/>
<circle cx="178.3" cy="755.2" r="2.95" fill="#388fba"/>
<circle cx="178.3" cy="761.3" r="2.95" fill="#368cbb"/>
<circle cx="178.3" cy="767.3" r="2.95" fill="#4198b6"/>
<circle cx="178.3" cy="773.3" r="2.95" fill="#3a91b9"/>
<circle cx="178.3" cy="779.3" r="2.95" fill="#93d3a4"/>
<circle cx="178.3" cy="785.4" r="2.95" fill="#7ecba5"/>
<circle cx="178.3" cy="791.4" r="2.95" fill="#4ca5b1"/>
<circle cx="178.3" cy="797.4" r="2.95" fill="#3c94b8"/>
<circle cx="178.3" cy="803.4" r="2.95" fill="#3386bc"/>
<circle cx="178.3" cy="809.4" r="2.95" fill="#8cd1a4"/>
<circle cx="178.3" cy="815.5" r="2.95" fill="#5bb5aa"/>
<circle cx="178.3" cy="821.5" r="2.95" fill="#51abaf"/>
<circle cx="183.7" cy="740.2" r="2.95" fill="#aadca4"/>
<circle cx="183.7" cy="746.2" r="2.95" fill="#a7dca4"/>
<circle cx="183.7" cy="752.2" r="2.95" fill="#a0d9a4"/>
<circle cx="183.7" cy="758.3" r="2.95" fill="#3683bb"/>
<circle cx="183.7" cy="764.3" r="2.95" fill="#ceeb9d"/>
<circle cx="183.7" cy="770.3" r="2.95" fill="#82cda5"/>
<circle cx="183.7" cy="776.3" r="2.95" fill="#4aa2b2"/>
<circle cx="183.7" cy="782.3" r="2.95" fill="#4ca5b1"/>
<circle cx="183.7" cy="788.4" r="2.95" fill="#52acae"/>
<circle cx="183.7" cy="794.4" r="2.95" fill="#5cb7aa"/>
<circle cx="183.7" cy="800.4" r="2.95" fill="#56b1ac"/>
<circle cx="183.7" cy="806.4" r="2.95" fill="#79caa5"/>
<circle cx="183.7" cy="812.4" r="2.95" fill="#57b1ac"/>
<circle cx="183.7" cy="818.5" r="2.95" fill="#449cb5"/>
<circle cx="183.7" cy="824.5" r="2.95" fill="#57b1ac"/>
<circle cx="189.0" cy="737.2" r="2.95" fill="#bae3a1"/>
<circle cx="189.0" cy="743.2" r="2.95" fill="#b3e0a2"/>
<circle cx="189.0" cy="749.2" r="2.95" fill="#c5e89f"/>
<circle cx="189.0" cy="755.2" r="2.95" fill="#eef8a5"/>
<circle cx="189.0" cy="761.3" r="2.95" fill="#388fba"/>
<circle cx="189.0" cy="767.3" r="2.95" fill="#49a2b2"/>
<circle cx="189.0" cy="773.3" r="2.95" fill="#378ebb"/>
<circle cx="189.0" cy="779.3" r="2.95" fill="#95d4a4"/>
<circle cx="189.0" cy="785.4" r="2.95" fill="#5ab5aa"/>
<circle cx="189.0" cy="791.4" r="2.95" fill="#439bb5"/>
<circle cx="189.0" cy="797.4" r="2.95" fill="#3389bd"/>
<circle cx="189.0" cy="803.4" r="2.95" fill="#75c8a5"/>
<circle cx="189.0" cy="809.4" r="2.95" fill="#3d94b8"/>
<circle cx="189.0" cy="815.5" r="2.95" fill="#3485bc"/>
<circle cx="189.0" cy="821.5" r="2.95" fill="#3683bb"/>
<circle cx="194.4" cy="740.2" r="2.95" fill="#e9f69d"/>
<circle cx="194.4" cy="746.2" r="2.95" fill="#edf8a2"/>
<circle cx="194.4" cy="752.2" r="2.95" fill="#f5fbaf"/>
<circle cx="194.4" cy="758.3" r="2.95" fill="#5ab5ab"/>
<circle cx="194.4" cy="764.3" r="2.95" fill="#3d95b8"/>
<circle cx="194.4" cy="770.3" r="2.95" fill="#3f97b7"/>
<circle cx="194.4" cy="776.3" r="2.95" fill="#95d4a4"/>
<circle cx="194.4" cy="782.3" r="2.95" fill="#3d94b8"/>
<circle cx="194.4" cy="788.4" r="2.95" fill="#83cda5"/>
<circle cx="194.4" cy="794.4" r="2.95" fill="#48a0b3"/>
<circle cx="194.4" cy="800.4" r="2.95" fill="#58b2ac"/>
<circle cx="194.4" cy="806.4" r="2.95" fill="#71c6a5"/>
<circle cx="194.4" cy="812.4" r="2.95" fill="#57b2ac"/>
<circle cx="194.4" cy="818.5" r="2.95" fill="#358cbb"/>
<circle cx="194.4" cy="824.5" r="2.95" fill="#78c9a5"/>
<circle cx="199.8" cy="743.2" r="2.95" fill="#afdfa3"/>
<circle cx="199.8" cy="749.2" r="2.95" fill="#cdeb9d"/>
<circle cx="199.8" cy="755.2" r="2.95" fill="#e5f598"/>
<circle cx="199.8" cy="761.3" r="2.95" fill="#8fd2a4"/>
<circle cx="199.8" cy="767.3" r="2.95" fill="#368dbb"/>
<circle cx="199.8" cy="773.3" r="2.95" fill="#47a0b3"/>
<circle cx="199.8" cy="779.3" r="2.95" fill="#3683ba"/>
<circle cx="199.8" cy="785.4" r="2.95" fill="#3b92b9"/>
<circle cx="199.8" cy="791.4" r="2.95" fill="#50aaaf"/>
<circle cx="199.8" cy="797.4" r="2.95" fill="#3990ba"/>
<circle cx="199.8" cy="803.4" r="2.95" fill="#388fba"/>
<circle cx="199.8" cy="809.4" r="2.95" fill="#3584bb"/>
<circle cx="199.8" cy="815.5" r="2.95" fill="#3d95b8"/>
<circle cx="199.8" cy="821.5" r="2.95" fill="#90d2a4"/>
<circle cx="205.1" cy="740.2" r="2.95" fill="#ceeb9d"/>
<circle cx="205.1" cy="746.2" r="2.95" fill="#ceeb9d"/>
<circle cx="205.1" cy="752.2" r="2.95" fill="#b3e0a2"/>
<circle cx="205.1" cy="758.3" r="2.95" fill="#76c8a5"/>
<circle cx="205.1" cy="764.3" r="2.95" fill="#449cb5"/>
<circle cx="205.1" cy="770.3" r="2.95" fill="#58b3ab"/>
<circle cx="205.1" cy="776.3" r="2.95" fill="#5bb5aa"/>
<circle cx="205.1" cy="782.3" r="2.95" fill="#77c8a5"/>
<circle cx="205.1" cy="788.4" r="2.95" fill="#5db8a9"/>
<circle cx="205.1" cy="794.4" r="2.95" fill="#3289bd"/>
<circle cx="205.1" cy="800.4" r="2.95" fill="#49a2b2"/>
<circle cx="205.1" cy="806.4" r="2.95" fill="#87cfa5"/>
<circle cx="205.1" cy="812.4" r="2.95" fill="#479fb4"/>
<circle cx="205.1" cy="818.5" r="2.95" fill="#8fd2a4"/>
<circle cx="205.1" cy="824.5" r="2.95" fill="#4da6b1"/>
<circle cx="210.4" cy="743.2" r="2.95" fill="#eef8a5"/>
<circle cx="210.4" cy="749.2" r="2.95" fill="#bfe5a0"/>
<circle cx="210.4" cy="755.2" r="2.95" fill="#e1f399"/>
<circle cx="210.4" cy="761.3" r="2.95" fill="#82cda5"/>
<circle cx="210.4" cy="767.3" r="2.95" fill="#4097b7"/>
<circle cx="210.4" cy="773.3" r="2.95" fill="#3683bb"/>
<circle cx="210.4" cy="779.3" r="2.95" fill="#8ad0a4"/>
<circle cx="210.4" cy="785.4" r="2.95" fill="#47a0b3"/>
<circle cx="210.4" cy="791.4" r="2.95" fill="#52abae"/>
<circle cx="210.4" cy="797.4" r="2.95" fill="#90d2a4"/>
<circle cx="210.4" cy="803.4" r="2.95" fill="#4ba3b2"/>
<circle cx="210.4" cy="809.4" r="2.95" fill="#3a91b9"/>
<circle cx="210.4" cy="815.5" r="2.95" fill="#6dc5a5"/>
<circle cx="210.4" cy="821.5" r="2.95" fill="#96d5a4"/>
</g>
<use href="#dtis" x="224.0" y="0.2"/>
<clipPath id="dc202"><rect x="227.9" y="721.0" width="204.1" height="124.4"/></clipPath>
<g clip-path="url(#dc202)" stroke="#303030" stroke-width="0.85">
<circle cx="225.8" cy="740.4" r="2.95" fill="#eef8a5"/>
<circle cx="225.8" cy="746.4" r="2.95" fill="#d0ec9d"/>
<circle cx="225.8" cy="752.4" r="2.95" fill="#eaf79e"/>
<circle cx="225.8" cy="758.5" r="2.95" fill="#ebf7a0"/>
<circle cx="225.8" cy="764.5" r="2.95" fill="#76c8a5"/>
<circle cx="225.8" cy="770.5" r="2.95" fill="#82cda5"/>
<circle cx="225.8" cy="776.5" r="2.95" fill="#ebf7a0"/>
<circle cx="225.8" cy="782.5" r="2.95" fill="#ebf7a0"/>
<circle cx="225.8" cy="788.6" r="2.95" fill="#3c93b8"/>
<circle cx="225.8" cy="794.6" r="2.95" fill="#94d4a4"/>
<circle cx="225.8" cy="800.6" r="2.95" fill="#54aead"/>
<circle cx="225.8" cy="806.6" r="2.95" fill="#378ebb"/>
<circle cx="225.8" cy="812.6" r="2.95" fill="#ebf7a0"/>
<circle cx="225.8" cy="818.7" r="2.95" fill="#398fba"/>
<circle cx="231.2" cy="731.4" r="2.95" fill="#f5fbaf"/>
<circle cx="231.2" cy="737.4" r="2.95" fill="#eff8a5"/>
<circle cx="231.2" cy="743.4" r="2.95" fill="#bee5a0"/>
<circle cx="231.2" cy="749.4" r="2.95" fill="#f6fbb1"/>
<circle cx="231.2" cy="755.5" r="2.95" fill="#3485bc"/>
<circle cx="231.2" cy="761.5" r="2.95" fill="#59b3ab"/>
<circle cx="231.2" cy="767.5" r="2.95" fill="#65c1a5"/>
<circle cx="231.2" cy="773.5" r="2.95" fill="#50aaaf"/>
<circle cx="231.2" cy="779.5" r="2.95" fill="#ebf7a0"/>
<circle cx="231.2" cy="785.6" r="2.95" fill="#66c2a5"/>
<circle cx="231.2" cy="791.6" r="2.95" fill="#3d95b8"/>
<circle cx="231.2" cy="797.6" r="2.95" fill="#348abc"/>
<circle cx="231.2" cy="803.6" r="2.95" fill="#98d5a4"/>
<circle cx="231.2" cy="809.6" r="2.95" fill="#3d95b8"/>
<circle cx="231.2" cy="815.7" r="2.95" fill="#4aa3b2"/>
<circle cx="231.2" cy="821.7" r="2.95" fill="#ebf7a0"/>
<circle cx="231.2" cy="827.7" r="2.95" fill="#4ca5b1"/>
<circle cx="236.5" cy="734.4" r="2.95" fill="#f8fcb4"/>
<circle cx="236.5" cy="740.4" r="2.95" fill="#cdeb9d"/>
<circle cx="236.5" cy="746.4" r="2.95" fill="#acdda4"/>
<circle cx="236.5" cy="752.4" r="2.95" fill="#ebf7a0"/>
<circle cx="236.5" cy="758.5" r="2.95" fill="#ebf7a0"/>
<circle cx="236.5" cy="764.5" r="2.95" fill="#89d0a4"/>
<circle cx="236.5" cy="770.5" r="2.95" fill="#62bea7"/>
<circle cx="236.5" cy="776.5" r="2.95" fill="#81cca5"/>
<circle cx="236.5" cy="782.5" r="2.95" fill="#3486bc"/>
<circle cx="236.5" cy="788.6" r="2.95" fill="#3a7eb8"/>
<circle cx="236.5" cy="794.6" r="2.95" fill="#a1d9a4"/>
<circle cx="236.5" cy="800.6" r="2.95" fill="#4da6b0"/>
<circle cx="236.5" cy="806.6" r="2.95" fill="#7bcaa5"/>
<circle cx="236.5" cy="812.6" r="2.95" fill="#3387bd"/>
<circle cx="236.5" cy="818.7" r="2.95" fill="#78c9a5"/>
<circle cx="236.5" cy="824.7" r="2.95" fill="#b4e1a2"/>
<circle cx="236.5" cy="830.7" r="2.95" fill="#3a7db8"/>
<circle cx="241.8" cy="731.4" r="2.95" fill="#eaf79e"/>
<circle cx="241.8" cy="737.4" r="2.95" fill="#b8e2a1"/>
<circle cx="241.8" cy="743.4" r="2.95" fill="#a2daa4"/>
<circle cx="241.8" cy="749.4" r="2.95" fill="#eef8a4"/>
<circle cx="241.8" cy="755.5" r="2.95" fill="#59b3ab"/>
<circle cx="241.8" cy="761.5" r="2.95" fill="#a2d9a4"/>
<circle cx="241.8" cy="767.5" r="2.95" fill="#4da6b0"/>
<circle cx="241.8" cy="773.5" r="2.95" fill="#93d4a4"/>
<circle cx="241.8" cy="779.5" r="2.95" fill="#84cea5"/>
<circle cx="241.8" cy="785.6" r="2.95" fill="#75c8a5"/>
<circle cx="241.8" cy="791.6" r="2.95" fill="#b3e0a2"/>
<circle cx="241.8" cy="797.6" r="2.95" fill="#ebf7a0"/>
<circle cx="241.8" cy="803.6" r="2.95" fill="#a4daa4"/>
<circle cx="241.8" cy="809.6" r="2.95" fill="#ebf7a0"/>
<circle cx="241.8" cy="815.7" r="2.95" fill="#9bd7a4"/>
<circle cx="241.8" cy="821.7" r="2.95" fill="#3f96b7"/>
<circle cx="241.8" cy="827.7" r="2.95" fill="#81cda5"/>
<circle cx="247.2" cy="734.4" r="2.95" fill="#dff29a"/>
<circle cx="247.2" cy="740.4" r="2.95" fill="#d4ee9c"/>
<circle cx="247.2" cy="746.4" r="2.95" fill="#e1f399"/>
<circle cx="247.2" cy="752.4" r="2.95" fill="#b5e1a2"/>
<circle cx="247.2" cy="758.5" r="2.95" fill="#89d0a4"/>
<circle cx="247.2" cy="764.5" r="2.95" fill="#ebf7a0"/>
<circle cx="247.2" cy="770.5" r="2.95" fill="#ebf7a0"/>
<circle cx="247.2" cy="776.5" r="2.95" fill="#5ab5ab"/>
<circle cx="247.2" cy="782.5" r="2.95" fill="#91d3a4"/>
<circle cx="247.2" cy="788.6" r="2.95" fill="#77c9a5"/>
<circle cx="247.2" cy="794.6" r="2.95" fill="#9ad6a4"/>
<circle cx="247.2" cy="800.6" r="2.95" fill="#ebf7a0"/>
<circle cx="247.2" cy="806.6" r="2.95" fill="#a7dba4"/>
<circle cx="247.2" cy="812.6" r="2.95" fill="#ebf7a0"/>
<circle cx="247.2" cy="824.7" r="2.95" fill="#a3daa4"/>
<circle cx="247.2" cy="830.7" r="2.95" fill="#348abc"/>
<circle cx="252.6" cy="731.4" r="2.95" fill="#b6e2a2"/>
<circle cx="252.6" cy="737.4" r="2.95" fill="#d3ed9c"/>
<circle cx="252.6" cy="743.4" r="2.95" fill="#ebf79f"/>
<circle cx="252.6" cy="749.4" r="2.95" fill="#3a91b9"/>
<circle cx="252.6" cy="755.5" r="2.95" fill="#64bfa6"/>
<circle cx="252.6" cy="761.5" r="2.95" fill="#66c2a5"/>
<circle cx="252.6" cy="767.5" r="2.95" fill="#3a7eb8"/>
<circle cx="252.6" cy="773.5" r="2.95" fill="#a9dca4"/>
<circle cx="252.6" cy="779.5" r="2.95" fill="#3386bc"/>
<circle cx="252.6" cy="785.6" r="2.95" fill="#77c9a5"/>
<circle cx="252.6" cy="791.6" r="2.95" fill="#8dd1a4"/>
<circle cx="252.6" cy="797.6" r="2.95" fill="#3485bc"/>
<circle cx="252.6" cy="803.6" r="2.95" fill="#4aa3b2"/>
<circle cx="252.6" cy="809.6" r="2.95" fill="#53adae"/>
<circle cx="252.6" cy="821.7" r="2.95" fill="#a8dca4"/>
<circle cx="252.6" cy="827.7" r="2.95" fill="#90d3a4"/>
<circle cx="252.6" cy="833.7" r="2.95" fill="#ebf7a0"/>
<circle cx="257.9" cy="728.4" r="2.95" fill="#fcfebb"/>
<circle cx="257.9" cy="734.4" r="2.95" fill="#abdda4"/>
<circle cx="257.9" cy="740.4" r="2.95" fill="#abdda4"/>
<circle cx="257.9" cy="746.4" r="2.95" fill="#abdda4"/>
<circle cx="257.9" cy="752.4" r="2.95" fill="#abdda4"/>
<circle cx="257.9" cy="758.5" r="2.95" fill="#abdda4"/>
<circle cx="257.9" cy="764.5" r="2.95" fill="#abdda4"/>
<circle cx="257.9" cy="770.5" r="2.95" fill="#ecf7a1"/>
<circle cx="257.9" cy="776.5" r="2.95" fill="#f7fcb3"/>
<circle cx="257.9" cy="782.5" r="2.95" fill="#abdda4"/>
<circle cx="257.9" cy="788.6" r="2.95" fill="#eef8a4"/>
<circle cx="257.9" cy="794.6" r="2.95" fill="#abdda4"/>
<circle cx="257.9" cy="800.6" r="2.95" fill="#f4fbae"/>
<circle cx="257.9" cy="806.6" r="2.95" fill="#fcfebb"/>
<circle cx="257.9" cy="812.6" r="2.95" fill="#51abaf"/>
<circle cx="257.9" cy="818.7" r="2.95" fill="#fffebd"/>
<circle cx="257.9" cy="824.7" r="2.95" fill="#abdda4"/>
<circle cx="257.9" cy="830.7" r="2.95" fill="#e5f598"/>
<circle cx="263.2" cy="731.4" r="2.95" fill="#abdda4"/>
<circle cx="263.2" cy="737.4" r="2.95" fill="#f2faab"/>
<circle cx="263.2" cy="743.4" r="2.95" fill="#fff8b4"/>
<circle cx="263.2" cy="749.4" r="2.95" fill="#abdda4"/>
<circle cx="263.2" cy="755.5" r="2.95" fill="#51abaf"/>
<circle cx="263.2" cy="761.5" r="2.95" fill="#fafdb8"/>
<circle cx="263.2" cy="767.5" r="2.95" fill="#f3faad"/>
<circle cx="263.2" cy="779.5" r="2.95" fill="#d6ef9b"/>
<circle cx="263.2" cy="785.6" r="2.95" fill="#abdda4"/>
<circle cx="263.2" cy="791.6" r="2.95" fill="#fcaa5f"/>
<circle cx="263.2" cy="797.6" r="2.95" fill="#abdda4"/>
<circle cx="263.2" cy="803.6" r="2.95" fill="#51abaf"/>
<circle cx="263.2" cy="809.6" r="2.95" fill="#abdda4"/>
<circle cx="263.2" cy="815.7" r="2.95" fill="#f8fcb5"/>
<circle cx="263.2" cy="821.7" r="2.95" fill="#e3f499"/>
<circle cx="263.2" cy="827.7" r="2.95" fill="#51abaf"/>
<circle cx="263.2" cy="833.7" r="2.95" fill="#51abaf"/>
<circle cx="268.6" cy="734.4" r="2.95" fill="#abdda4"/>
<circle cx="268.6" cy="740.4" r="2.95" fill="#f9fdb6"/>
<circle cx="268.6" cy="746.4" r="2.95" fill="#f2faab"/>
<circle cx="268.6" cy="752.4" r="2.95" fill="#ecf7a1"/>
<circle cx="268.6" cy="758.5" r="2.95" fill="#fff8b3"/>
<circle cx="268.6" cy="764.5" r="2.95" fill="#f2faab"/>
<circle cx="268.6" cy="770.5" r="2.95" fill="#abdda4"/>
<circle cx="268.6" cy="776.5" r="2.95" fill="#abdda4"/>
<circle cx="268.6" cy="782.5" r="2.95" fill="#abdda4"/>
<circle cx="268.6" cy="788.6" r="2.95" fill="#51abaf"/>
<circle cx="268.6" cy="794.6" r="2.95" fill="#abdda4"/>
<circle cx="268.6" cy="800.6" r="2.95" fill="#51abaf"/>
<circle cx="268.6" cy="806.6" r="2.95" fill="#abdda4"/>
<circle cx="268.6" cy="812.6" r="2.95" fill="#fffdbb"/>
<circle cx="268.6" cy="818.7" r="2.95" fill="#dcf19a"/>
<circle cx="268.6" cy="824.7" r="2.95" fill="#51abaf"/>
<circle cx="268.6" cy="830.7" r="2.95" fill="#e5f598"/>
<circle cx="268.6" cy="836.7" r="2.95" fill="#fcfeba"/>
<circle cx="273.9" cy="731.4" r="2.95" fill="#fffdbb"/>
<circle cx="273.9" cy="737.4" r="2.95" fill="#51abaf"/>
<circle cx="273.9" cy="743.4" r="2.95" fill="#dbf19a"/>
<circle cx="273.9" cy="749.4" r="2.95" fill="#abdda4"/>
<circle cx="273.9" cy="755.5" r="2.95" fill="#eaf79f"/>
<circle cx="273.9" cy="761.5" r="2.95" fill="#abdda4"/>
<circle cx="273.9" cy="767.5" r="2.95" fill="#abdda4"/>
<circle cx="273.9" cy="779.5" r="2.95" fill="#51abaf"/>
<circle cx="273.9" cy="785.6" r="2.95" fill="#e8f69b"/>
<circle cx="273.9" cy="791.6" r="2.95" fill="#fdfebc"/>
<circle cx="273.9" cy="797.6" r="2.95" fill="#f3faac"/>
<circle cx="273.9" cy="803.6" r="2.95" fill="#e4f498"/>
<circle cx="273.9" cy="809.6" r="2.95" fill="#abdda4"/>
<circle cx="273.9" cy="815.7" r="2.95" fill="#abdda4"/>
<circle cx="273.9" cy="821.7" r="2.95" fill="#fff6b0"/>
<circle cx="273.9" cy="827.7" r="2.95" fill="#fcfeba"/>
<circle cx="273.9" cy="833.7" r="2.95" fill="#e9f69c"/>
<circle cx="279.3" cy="734.4" r="2.95" fill="#96d5a4"/>
<circle cx="279.3" cy="740.4" r="2.95" fill="#96d5a4"/>
<circle cx="279.3" cy="746.4" r="2.95" fill="#f0f9a8"/>
<circle cx="279.3" cy="752.4" r="2.95" fill="#d6ef9b"/>
<circle cx="279.3" cy="758.5" r="2.95" fill="#fffab6"/>
<circle cx="279.3" cy="764.5" r="2.95" fill="#fcfebb"/>
<circle cx="279.3" cy="770.5" r="2.95" fill="#fdfebc"/>
<circle cx="279.3" cy="776.5" r="2.95" fill="#96d5a4"/>
<circle cx="279.3" cy="782.5" r="2.95" fill="#f9fcb5"/>
<circle cx="279.3" cy="788.6" r="2.95" fill="#f4fbae"/>
<circle cx="279.3" cy="794.6" r="2.95" fill="#fed380"/>
<circle cx="279.3" cy="800.6" r="2.95" fill="#d7414e"/>
<circle cx="279.3" cy="806.6" r="2.95" fill="#feeea3"/>
<circle cx="279.3" cy="812.6" r="2.95" fill="#fed27f"/>
<circle cx="279.3" cy="818.7" r="2.95" fill="#c62e4c"/>
<circle cx="279.3" cy="824.7" r="2.95" fill="#ae1346"/>
<circle cx="279.3" cy="830.7" r="2.95" fill="#fff1a8"/>
<circle cx="279.3" cy="836.7" r="2.95" fill="#fee390"/>
<circle cx="284.7" cy="737.4" r="2.95" fill="#4ca5b1"/>
<circle cx="284.7" cy="743.4" r="2.95" fill="#4ca5b1"/>
<circle cx="284.7" cy="749.4" r="2.95" fill="#4ca5b1"/>
<circle cx="284.7" cy="755.5" r="2.95" fill="#e7f599"/>
<circle cx="284.7" cy="761.5" r="2.95" fill="#f5fbaf"/>
<circle cx="284.7" cy="767.5" r="2.95" fill="#fdc675"/>
<circle cx="284.7" cy="773.5" r="2.95" fill="#eef8a5"/>
<circle cx="284.7" cy="779.5" r="2.95" fill="#f8884f"/>
<circle cx="284.7" cy="785.6" r="2.95" fill="#4ca5b1"/>
<circle cx="284.7" cy="791.6" r="2.95" fill="#96d5a4"/>
<circle cx="284.7" cy="797.6" r="2.95" fill="#feeb9e"/>
<circle cx="284.7" cy="803.6" r="2.95" fill="#c1284a"/>
<circle cx="284.7" cy="809.6" r="2.95" fill="#feca79"/>
<circle cx="284.7" cy="815.7" r="2.95" fill="#fff9b5"/>
<circle cx="284.7" cy="821.7" r="2.95" fill="#c42b4b"/>
<circle cx="284.7" cy="827.7" r="2.95" fill="#96d5a4"/>
<circle cx="284.7" cy="833.7" r="2.95" fill="#c8304c"/>
<circle cx="290.0" cy="734.4" r="2.95" fill="#ecf8a2"/>
<circle cx="290.0" cy="740.4" r="2.95" fill="#96d5a4"/>
<circle cx="290.0" cy="746.4" r="2.95" fill="#4ca5b1"/>
<circle cx="290.0" cy="752.4" r="2.95" fill="#4ca5b1"/>
<circle cx="290.0" cy="758.5" r="2.95" fill="#96d5a4"/>
<circle cx="290.0" cy="764.5" r="2.95" fill="#ba2049"/>
<circle cx="290.0" cy="770.5" r="2.95" fill="#4ca5b1"/>
<circle cx="290.0" cy="776.5" r="2.95" fill="#96d5a4"/>
<circle cx="290.0" cy="782.5" r="2.95" fill="#b8e2a1"/>
<circle cx="290.0" cy="788.6" r="2.95" fill="#b21747"/>
<circle cx="290.0" cy="794.6" r="2.95" fill="#96d5a4"/>
<circle cx="290.0" cy="800.6" r="2.95" fill="#d6404e"/>
<circle cx="290.0" cy="806.6" r="2.95" fill="#96d5a4"/>
<circle cx="290.0" cy="812.6" r="2.95" fill="#fffab6"/>
<circle cx="290.0" cy="818.7" r="2.95" fill="#96d5a4"/>
<circle cx="290.0" cy="824.7" r="2.95" fill="#4ca5b1"/>
<circle cx="290.0" cy="830.7" r="2.95" fill="#4ca5b1"/>
<circle cx="290.0" cy="836.7" r="2.95" fill="#fdb365"/>
<circle cx="295.4" cy="737.4" r="2.95" fill="#96d5a4"/>
<circle cx="295.4" cy="743.4" r="2.95" fill="#f6fbb0"/>
<circle cx="295.4" cy="749.4" r="2.95" fill="#cdeb9d"/>
<circle cx="295.4" cy="755.5" r="2.95" fill="#4ca5b1"/>
<circle cx="295.4" cy="761.5" r="2.95" fill="#c9314c"/>
<circle cx="295.4" cy="767.5" r="2.95" fill="#fba25b"/>
<circle cx="295.4" cy="773.5" r="2.95" fill="#4ca5b1"/>
<circle cx="295.4" cy="779.5" r="2.95" fill="#96d5a4"/>
<circle cx="295.4" cy="785.6" r="2.95" fill="#4ca5b1"/>
<circle cx="295.4" cy="791.6" r="2.95" fill="#fffebd"/>
<circle cx="295.4" cy="797.6" r="2.95" fill="#fdb365"/>
<circle cx="295.4" cy="803.6" r="2.95" fill="#96d5a4"/>
<circle cx="295.4" cy="809.6" r="2.95" fill="#96d5a4"/>
<circle cx="295.4" cy="815.7" r="2.95" fill="#96d5a4"/>
<circle cx="295.4" cy="821.7" r="2.95" fill="#f6fbb0"/>
<circle cx="295.4" cy="827.7" r="2.95" fill="#96d5a4"/>
<circle cx="295.4" cy="833.7" r="2.95" fill="#96d5a4"/>
<circle cx="300.7" cy="734.4" r="2.95" fill="#4ca5b1"/>
<circle cx="300.7" cy="740.4" r="2.95" fill="#96d5a4"/>
<circle cx="300.7" cy="746.4" r="2.95" fill="#96d5a4"/>
<circle cx="300.7" cy="752.4" r="2.95" fill="#e7f59a"/>
<circle cx="300.7" cy="758.5" r="2.95" fill="#4ca5b1"/>
<circle cx="300.7" cy="764.5" r="2.95" fill="#fba15b"/>
<circle cx="300.7" cy="770.5" r="2.95" fill="#4ca5b1"/>
<circle cx="300.7" cy="776.5" r="2.95" fill="#fdab60"/>
<circle cx="300.7" cy="782.5" r="2.95" fill="#96d5a4"/>
<circle cx="300.7" cy="788.6" r="2.95" fill="#c9e99e"/>
<circle cx="300.7" cy="794.6" r="2.95" fill="#dff299"/>
<circle cx="300.7" cy="806.6" r="2.95" fill="#96d5a4"/>
<circle cx="300.7" cy="812.6" r="2.95" fill="#96d5a4"/>
<circle cx="300.7" cy="818.7" r="2.95" fill="#96d5a4"/>
<circle cx="300.7" cy="824.7" r="2.95" fill="#d0ec9c"/>
<circle cx="300.7" cy="830.7" r="2.95" fill="#96d5a4"/>
<circle cx="300.7" cy="836.7" r="2.95" fill="#96d5a4"/>
<circle cx="306.1" cy="731.4" r="2.95" fill="#bbe3a1"/>
<circle cx="306.1" cy="737.4" r="2.95" fill="#96d5a4"/>
<circle cx="306.1" cy="743.4" r="2.95" fill="#f0f9a7"/>
<circle cx="306.1" cy="749.4" r="2.95" fill="#96d5a4"/>
<circle cx="306.1" cy="755.5" r="2.95" fill="#d4ee9c"/>
<circle cx="306.1" cy="761.5" r="2.95" fill="#f7fcb2"/>
<circle cx="306.1" cy="767.5" r="2.95" fill="#fdbf6f"/>
<circle cx="306.1" cy="773.5" r="2.95" fill="#96d5a4"/>
<circle cx="306.1" cy="779.5" r="2.95" fill="#b81e48"/>
<circle cx="306.1" cy="785.6" r="2.95" fill="#ac1045"/>
<circle cx="306.1" cy="791.6" r="2.95" fill="#4ca5b1"/>
<circle cx="306.1" cy="797.6" r="2.95" fill="#c4e79f"/>
<circle cx="306.1" cy="803.6" r="2.95" fill="#fcfebb"/>
<circle cx="306.1" cy="809.6" r="2.95" fill="#f9fdb5"/>
<circle cx="306.1" cy="815.7" r="2.95" fill="#c5e79f"/>
<circle cx="306.1" cy="821.7" r="2.95" fill="#4ca5b1"/>
<circle cx="306.1" cy="827.7" r="2.95" fill="#96d5a4"/>
<circle cx="306.1" cy="833.7" r="2.95" fill="#f8fcb5"/>
<circle cx="311.4" cy="734.4" r="2.95" fill="#c8e99e"/>
<circle cx="311.4" cy="740.4" r="2.95" fill="#96d5a4"/>
<circle cx="311.4" cy="746.4" r="2.95" fill="#bee5a0"/>
<circle cx="311.4" cy="752.4" r="2.95" fill="#e1f399"/>
<circle cx="311.4" cy="758.5" r="2.95" fill="#bde4a0"/>
<circle cx="311.4" cy="764.5" r="2.95" fill="#96d5a4"/>
<circle cx="311.4" cy="770.5" r="2.95" fill="#cf374e"/>
<circle cx="311.4" cy="776.5" r="2.95" fill="#fca75e"/>
<circle cx="311.4" cy="782.5" r="2.95" fill="#4ca5b1"/>
<circle cx="311.4" cy="788.6" r="2.95" fill="#4ca5b1"/>
<circle cx="311.4" cy="794.6" r="2.95" fill="#4ca5b1"/>
<circle cx="311.4" cy="800.6" r="2.95" fill="#f9fcb5"/>
<circle cx="311.4" cy="806.6" r="2.95" fill="#bae3a1"/>
<circle cx="311.4" cy="812.6" r="2.95" fill="#e7f69a"/>
<circle cx="311.4" cy="818.7" r="2.95" fill="#eaf69e"/>
<circle cx="311.4" cy="824.7" r="2.95" fill="#f3faac"/>
<circle cx="311.4" cy="830.7" r="2.95" fill="#e9f69d"/>
<circle cx="316.8" cy="731.4" r="2.95" fill="#88cfa5"/>
<circle cx="316.8" cy="737.4" r="2.95" fill="#479fb3"/>
<circle cx="316.8" cy="743.4" r="2.95" fill="#9ad6a4"/>
<circle cx="316.8" cy="749.4" r="2.95" fill="#7ecba5"/>
<circle cx="316.8" cy="755.5" r="2.95" fill="#a1d9a4"/>
<circle cx="316.8" cy="761.5" r="2.95" fill="#eef8a4"/>
<circle cx="316.8" cy="767.5" r="2.95" fill="#6bc4a5"/>
<circle cx="316.8" cy="773.5" r="2.95" fill="#bae3a1"/>
<circle cx="316.8" cy="779.5" r="2.95" fill="#bce4a1"/>
<circle cx="316.8" cy="785.6" r="2.95" fill="#dbf09a"/>
<circle cx="316.8" cy="791.6" r="2.95" fill="#a0d9a4"/>
<circle cx="316.8" cy="797.6" r="2.95" fill="#b4e1a2"/>
<circle cx="316.8" cy="803.6" r="2.95" fill="#f0f9a8"/>
<circle cx="316.8" cy="809.6" r="2.95" fill="#b7e2a1"/>
<circle cx="316.8" cy="815.7" r="2.95" fill="#88cfa5"/>
<circle cx="316.8" cy="821.7" r="2.95" fill="#d1ed9c"/>
<circle cx="316.8" cy="827.7" r="2.95" fill="#63bfa6"/>
<circle cx="316.8" cy="833.7" r="2.95" fill="#9fd8a4"/>
<circle cx="322.1" cy="734.4" r="2.95" fill="#8ad0a4"/>
<circle cx="322.1" cy="740.4" r="2.95" fill="#479fb3"/>
<circle cx="322.1" cy="746.4" r="2.95" fill="#65c1a5"/>
<circle cx="322.1" cy="752.4" r="2.95" fill="#f4fbae"/>
<circle cx="322.1" cy="758.5" r="2.95" fill="#92d3a4"/>
<circle cx="322.1" cy="764.5" r="2.95" fill="#f2faab"/>
<circle cx="322.1" cy="770.5" r="2.95" fill="#6cc4a5"/>
<circle cx="322.1" cy="776.5" r="2.95" fill="#edf8a3"/>
<circle cx="322.1" cy="782.5" r="2.95" fill="#98d6a4"/>
<circle cx="322.1" cy="788.6" r="2.95" fill="#85cea5"/>
<circle cx="322.1" cy="794.6" r="2.95" fill="#95d4a4"/>
<circle cx="322.1" cy="800.6" r="2.95" fill="#a8dca4"/>
<circle cx="322.1" cy="806.6" r="2.95" fill="#76c8a5"/>
<circle cx="322.1" cy="812.6" r="2.95" fill="#bbe3a1"/>
<circle cx="322.1" cy="818.7" r="2.95" fill="#f2faab"/>
<circle cx="322.1" cy="824.7" r="2.95" fill="#72c7a5"/>
<circle cx="322.1" cy="830.7" r="2.95" fill="#c6e89e"/>
<circle cx="327.4" cy="737.4" r="2.95" fill="#479fb3"/>
<circle cx="327.4" cy="743.4" r="2.95" fill="#479fb3"/>
<circle cx="327.4" cy="749.4" r="2.95" fill="#78c9a5"/>
<circle cx="327.4" cy="755.5" r="2.95" fill="#91d3a4"/>
<circle cx="327.4" cy="761.5" r="2.95" fill="#e7f599"/>
<circle cx="327.4" cy="767.5" r="2.95" fill="#afdfa3"/>
<circle cx="327.4" cy="773.5" r="2.95" fill="#74c7a5"/>
<circle cx="327.4" cy="779.5" r="2.95" fill="#a0d9a4"/>
<circle cx="327.4" cy="785.6" r="2.95" fill="#c0e6a0"/>
<circle cx="327.4" cy="791.6" r="2.95" fill="#7bcaa5"/>
<circle cx="327.4" cy="797.6" r="2.95" fill="#6dc5a5"/>
<circle cx="327.4" cy="803.6" r="2.95" fill="#c7e89e"/>
<circle cx="327.4" cy="809.6" r="2.95" fill="#f4faad"/>
<circle cx="327.4" cy="815.7" r="2.95" fill="#81cda5"/>
<circle cx="327.4" cy="821.7" r="2.95" fill="#68c3a5"/>
<circle cx="327.4" cy="827.7" r="2.95" fill="#93d4a4"/>
<circle cx="327.4" cy="833.7" r="2.95" fill="#c4e79f"/>
<circle cx="332.8" cy="740.4" r="2.95" fill="#65c1a6"/>
<circle cx="332.8" cy="746.4" r="2.95" fill="#6bc4a5"/>
<circle cx="332.8" cy="752.4" r="2.95" fill="#65c1a5"/>
<circle cx="332.8" cy="758.5" r="2.95" fill="#ddf19a"/>
<circle cx="332.8" cy="764.5" r="2.95" fill="#c6e89f"/>
<circle cx="332.8" cy="770.5" r="2.95" fill="#90d3a4"/>
<circle cx="332.8" cy="776.5" r="2.95" fill="#aedea3"/>
<circle cx="332.8" cy="782.5" r="2.95" fill="#f2faab"/>
<circle cx="332.8" cy="788.6" r="2.95" fill="#fa9756"/>
<circle cx="332.8" cy="794.6" r="2.95" fill="#ecf7a1"/>
<circle cx="332.8" cy="800.6" r="2.95" fill="#7acaa5"/>
<circle cx="332.8" cy="806.6" r="2.95" fill="#99d6a4"/>
<circle cx="332.8" cy="812.6" r="2.95" fill="#f0f9a7"/>
<circle cx="332.8" cy="818.7" r="2.95" fill="#cdeb9d"/>
<circle cx="332.8" cy="824.7" r="2.95" fill="#e6f599"/>
<circle cx="332.8" cy="830.7" r="2.95" fill="#a4daa4"/>
<circle cx="338.1" cy="737.4" r="2.95" fill="#9bd7a4"/>
<circle cx="338.1" cy="743.4" r="2.95" fill="#479fb3"/>
<circle cx="338.1" cy="749.4" r="2.95" fill="#479fb3"/>
<circle cx="338.1" cy="755.5" r="2.95" fill="#97d5a4"/>
<circle cx="338.1" cy="761.5" r="2.95" fill="#84cea5"/>
<circle cx="338.1" cy="767.5" r="2.95" fill="#97d5a4"/>
<circle cx="338.1" cy="773.5" r="2.95" fill="#f3faad"/>
<circle cx="338.1" cy="779.5" r="2.95" fill="#78c9a5"/>
<circle cx="338.1" cy="785.6" r="2.95" fill="#f2faab"/>
<circle cx="338.1" cy="791.6" r="2.95" fill="#a0d9a4"/>
<circle cx="338.1" cy="797.6" r="2.95" fill="#65c0a6"/>
<circle cx="338.1" cy="803.6" r="2.95" fill="#94d4a4"/>
<circle cx="338.1" cy="809.6" r="2.95" fill="#d5ee9b"/>
<circle cx="338.1" cy="815.7" r="2.95" fill="#a8dca4"/>
<circle cx="338.1" cy="821.7" r="2.95" fill="#b2e0a3"/>
<circle cx="338.1" cy="827.7" r="2.95" fill="#6dc5a5"/>
<circle cx="343.5" cy="740.4" r="2.95" fill="#9ad6a4"/>
<circle cx="343.5" cy="746.4" r="2.95" fill="#479fb3"/>
<circle cx="343.5" cy="752.4" r="2.95" fill="#90d2a4"/>
<circle cx="343.5" cy="758.5" r="2.95" fill="#99d6a4"/>
<circle cx="343.5" cy="764.5" r="2.95" fill="#7ccba5"/>
<circle cx="343.5" cy="770.5" r="2.95" fill="#96d5a4"/>
<circle cx="343.5" cy="776.5" r="2.95" fill="#8fd2a4"/>
<circle cx="343.5" cy="782.5" r="2.95" fill="#bfe5a0"/>
<circle cx="343.5" cy="788.6" r="2.95" fill="#f3faac"/>
<circle cx="343.5" cy="794.6" r="2.95" fill="#90d2a4"/>
<circle cx="343.5" cy="800.6" r="2.95" fill="#9bd7a4"/>
<circle cx="343.5" cy="806.6" r="2.95" fill="#caea9e"/>
<circle cx="343.5" cy="812.6" r="2.95" fill="#6ec5a5"/>
<circle cx="343.5" cy="818.7" r="2.95" fill="#c6e89e"/>
<circle cx="343.5" cy="824.7" r="2.95" fill="#cbea9e"/>
<circle cx="343.5" cy="830.7" r="2.95" fill="#9ed8a4"/>
<circle cx="348.9" cy="737.4" r="2.95" fill="#a2d9a4"/>
<circle cx="348.9" cy="743.4" r="2.95" fill="#479fb3"/>
<circle cx="348.9" cy="749.4" r="2.95" fill="#479fb3"/>
<circle cx="348.9" cy="755.5" r="2.95" fill="#6ac4a5"/>
<circle cx="348.9" cy="761.5" r="2.95" fill="#bee5a0"/>
<circle cx="348.9" cy="767.5" r="2.95" fill="#b4e1a2"/>
<circle cx="348.9" cy="773.5" r="2.95" fill="#6bc4a5"/>
<circle cx="348.9" cy="779.5" r="2.95" fill="#afdfa3"/>
<circle cx="348.9" cy="785.6" r="2.95" fill="#c3e79f"/>
<circle cx="348.9" cy="791.6" r="2.95" fill="#74c7a5"/>
<circle cx="348.9" cy="797.6" r="2.95" fill="#d6ee9b"/>
<circle cx="348.9" cy="803.6" r="2.95" fill="#a3daa4"/>
<circle cx="348.9" cy="809.6" r="2.95" fill="#eff8a6"/>
<circle cx="348.9" cy="815.7" r="2.95" fill="#d8f09b"/>
<circle cx="348.9" cy="821.7" r="2.95" fill="#addea4"/>
<circle cx="348.9" cy="827.7" r="2.95" fill="#c8e99e"/>
<circle cx="354.2" cy="740.4" r="2.95" fill="#4aa3b2"/>
<circle cx="354.2" cy="746.4" r="2.95" fill="#3d7ab6"/>
<circle cx="354.2" cy="752.4" r="2.95" fill="#5db8a9"/>
<circle cx="354.2" cy="758.5" r="2.95" fill="#3990ba"/>
<circle cx="354.2" cy="764.5" r="2.95" fill="#89d0a4"/>
<circle cx="354.2" cy="770.5" r="2.95" fill="#3f97b7"/>
<circle cx="354.2" cy="776.5" r="2.95" fill="#57b2ac"/>
<circle cx="354.2" cy="782.5" r="2.95" fill="#3288bd"/>
<circle cx="354.2" cy="788.6" r="2.95" fill="#3f96b7"/>
<circle cx="354.2" cy="794.6" r="2.95" fill="#addea4"/>
<circle cx="354.2" cy="800.6" r="2.95" fill="#3c93b8"/>
<circle cx="354.2" cy="806.6" r="2.95" fill="#fdad61"/>
<circle cx="354.2" cy="812.6" r="2.95" fill="#3c94b8"/>
<circle cx="354.2" cy="818.7" r="2.95" fill="#7ecba5"/>
<circle cx="354.2" cy="824.7" r="2.95" fill="#3b92b9"/>
<circle cx="354.2" cy="830.7" r="2.95" fill="#51abaf"/>
<circle cx="359.5" cy="737.4" r="2.95" fill="#397fb9"/>
<circle cx="359.5" cy="743.4" r="2.95" fill="#3c7bb7"/>
<circle cx="359.5" cy="749.4" r="2.95" fill="#4199b6"/>
<circle cx="359.5" cy="755.5" r="2.95" fill="#4299b6"/>
<circle cx="359.5" cy="761.5" r="2.95" fill="#439bb5"/>
<circle cx="359.5" cy="767.5" r="2.95" fill="#3782ba"/>
<circle cx="359.5" cy="773.5" r="2.95" fill="#6dc5a5"/>
<circle cx="359.5" cy="779.5" r="2.95" fill="#80cca5"/>
<circle cx="359.5" cy="785.6" r="2.95" fill="#3683bb"/>
<circle cx="359.5" cy="791.6" r="2.95" fill="#4199b6"/>
<circle cx="359.5" cy="797.6" r="2.95" fill="#3389bd"/>
<circle cx="359.5" cy="803.6" r="2.95" fill="#7fcca5"/>
<circle cx="359.5" cy="809.6" r="2.95" fill="#6cc4a5"/>
<circle cx="359.5" cy="815.7" r="2.95" fill="#7acaa5"/>
<circle cx="359.5" cy="821.7" r="2.95" fill="#368cbb"/>
<circle cx="359.5" cy="827.7" r="2.95" fill="#3584bb"/>
<circle cx="364.9" cy="740.4" r="2.95" fill="#aadda4"/>
<circle cx="364.9" cy="746.4" r="2.95" fill="#439bb5"/>
<circle cx="364.9" cy="752.4" r="2.95" fill="#53adae"/>
<circle cx="364.9" cy="758.5" r="2.95" fill="#3a7eb8"/>
<circle cx="364.9" cy="764.5" r="2.95" fill="#58b2ab"/>
<circle cx="364.9" cy="770.5" r="2.95" fill="#3b92b9"/>
<circle cx="364.9" cy="776.5" r="2.95" fill="#3781ba"/>
<circle cx="364.9" cy="782.5" r="2.95" fill="#5eb9a9"/>
<circle cx="364.9" cy="788.6" r="2.95" fill="#b0dfa3"/>
<circle cx="364.9" cy="794.6" r="2.95" fill="#aadda4"/>
<circle cx="364.9" cy="800.6" r="2.95" fill="#388eba"/>
<circle cx="364.9" cy="806.6" r="2.95" fill="#62bea7"/>
<circle cx="364.9" cy="812.6" r="2.95" fill="#449cb5"/>
<circle cx="364.9" cy="818.7" r="2.95" fill="#3b7cb8"/>
<circle cx="364.9" cy="824.7" r="2.95" fill="#97d5a4"/>
<circle cx="364.9" cy="830.7" r="2.95" fill="#5ab5ab"/>
<circle cx="370.2" cy="737.4" r="2.95" fill="#469eb4"/>
<circle cx="370.2" cy="743.4" r="2.95" fill="#3f78b5"/>
<circle cx="370.2" cy="749.4" r="2.95" fill="#75c8a5"/>
<circle cx="370.2" cy="755.5" r="2.95" fill="#9ed8a4"/>
<circle cx="370.2" cy="761.5" r="2.95" fill="#3f97b7"/>
<circle cx="370.2" cy="767.5" r="2.95" fill="#aadda4"/>
<circle cx="370.2" cy="773.5" r="2.95" fill="#97d5a4"/>
<circle cx="370.2" cy="779.5" r="2.95" fill="#55b0ad"/>
<circle cx="370.2" cy="785.6" r="2.95" fill="#8ad0a4"/>
<circle cx="370.2" cy="791.6" r="2.95" fill="#fa9656"/>
<circle cx="370.2" cy="797.6" r="2.95" fill="#3e96b7"/>
<circle cx="370.2" cy="803.6" r="2.95" fill="#5db8a9"/>
<circle cx="370.2" cy="809.6" r="2.95" fill="#61bca7"/>
<circle cx="370.2" cy="815.7" r="2.95" fill="#3387bc"/>
<circle cx="370.2" cy="821.7" r="2.95" fill="#3b92b9"/>
<circle cx="370.2" cy="827.7" r="2.95" fill="#5bb6aa"/>
<circle cx="375.6" cy="740.4" r="2.95" fill="#3e79b6"/>
<circle cx="375.6" cy="746.4" r="2.95" fill="#5bb6aa"/>
<circle cx="375.6" cy="752.4" r="2.95" fill="#358bbc"/>
<circle cx="375.6" cy="758.5" r="2.95" fill="#52acae"/>
<circle cx="375.6" cy="764.5" r="2.95" fill="#3a91b9"/>
<circle cx="375.6" cy="770.5" r="2.95" fill="#439bb5"/>
<circle cx="375.6" cy="776.5" r="2.95" fill="#3c93b8"/>
<circle cx="375.6" cy="782.5" r="2.95" fill="#68c3a5"/>
<circle cx="375.6" cy="788.6" r="2.95" fill="#5cb7a9"/>
<circle cx="375.6" cy="794.6" r="2.95" fill="#67c2a5"/>
<circle cx="375.6" cy="800.6" r="2.95" fill="#5eb9a9"/>
<circle cx="375.6" cy="806.6" r="2.95" fill="#52acae"/>
<circle cx="375.6" cy="812.6" r="2.95" fill="#3387bd"/>
<circle cx="375.6" cy="818.7" r="2.95" fill="#48a0b3"/>
<circle cx="375.6" cy="824.7" r="2.95" fill="#3485bc"/>
<circle cx="380.9" cy="737.4" r="2.95" fill="#aadca4"/>
<circle cx="380.9" cy="743.4" r="2.95" fill="#47a0b3"/>
<circle cx="380.9" cy="749.4" r="2.95" fill="#378ebb"/>
<circle cx="380.9" cy="755.5" r="2.95" fill="#3e95b7"/>
<circle cx="380.9" cy="761.5" r="2.95" fill="#4ea7b0"/>
<circle cx="380.9" cy="767.5" r="2.95" fill="#4ca5b1"/>
<circle cx="380.9" cy="773.5" r="2.95" fill="#449db4"/>
<circle cx="380.9" cy="779.5" r="2.95" fill="#afdfa3"/>
<circle cx="380.9" cy="785.6" r="2.95" fill="#378ebb"/>
<circle cx="380.9" cy="791.6" r="2.95" fill="#4fa9af"/>
<circle cx="380.9" cy="797.6" r="2.95" fill="#74c8a5"/>
<circle cx="380.9" cy="803.6" r="2.95" fill="#64bfa6"/>
<circle cx="380.9" cy="809.6" r="2.95" fill="#3990ba"/>
<circle cx="380.9" cy="815.7" r="2.95" fill="#3f96b7"/>
<circle cx="380.9" cy="821.7" r="2.95" fill="#87cfa5"/>
<circle cx="380.9" cy="827.7" r="2.95" fill="#4ba4b1"/>
<circle cx="386.3" cy="740.4" r="2.95" fill="#4fa9b0"/>
<circle cx="386.3" cy="746.4" r="2.95" fill="#a8dca4"/>
<circle cx="386.3" cy="752.4" r="2.95" fill="#4ea7b0"/>
<circle cx="386.3" cy="758.5" r="2.95" fill="#7ccaa5"/>
<circle cx="386.3" cy="764.5" r="2.95" fill="#3287bd"/>
<circle cx="386.3" cy="770.5" r="2.95" fill="#439bb5"/>
<circle cx="386.3" cy="776.5" r="2.95" fill="#53adae"/>
<circle cx="386.3" cy="782.5" r="2.95" fill="#69c3a5"/>
<circle cx="386.3" cy="788.6" r="2.95" fill="#56b0ac"/>
<circle cx="386.3" cy="794.6" r="2.95" fill="#3782ba"/>
<circle cx="386.3" cy="800.6" r="2.95" fill="#3584bb"/>
<circle cx="386.3" cy="806.6" r="2.95" fill="#398fba"/>
<circle cx="386.3" cy="812.6" r="2.95" fill="#69c3a5"/>
<circle cx="386.3" cy="818.7" r="2.95" fill="#397fb9"/>
<circle cx="386.3" cy="824.7" r="2.95" fill="#49a2b2"/>
<circle cx="391.6" cy="737.4" r="2.95" fill="#3485bc"/>
<circle cx="391.6" cy="743.4" r="2.95" fill="#66c2a5"/>
<circle cx="391.6" cy="749.4" r="2.95" fill="#449cb5"/>
<circle cx="391.6" cy="755.5" r="2.95" fill="#3d95b8"/>
<circle cx="391.6" cy="761.5" r="2.95" fill="#72c7a5"/>
<circle cx="391.6" cy="767.5" r="2.95" fill="#3781ba"/>
<circle cx="391.6" cy="773.5" r="2.95" fill="#66c2a5"/>
<circle cx="391.6" cy="779.5" r="2.95" fill="#368dbb"/>
<circle cx="391.6" cy="785.6" r="2.95" fill="#3880b9"/>
<circle cx="391.6" cy="791.6" r="2.95" fill="#4ea7b0"/>
<circle cx="391.6" cy="797.6" r="2.95" fill="#76c8a5"/>
<circle cx="391.6" cy="803.6" r="2.95" fill="#3782ba"/>
<circle cx="391.6" cy="809.6" r="2.95" fill="#4ca5b1"/>
<circle cx="391.6" cy="815.7" r="2.95" fill="#439bb5"/>
<circle cx="391.6" cy="821.7" r="2.95" fill="#368cbb"/>
<circle cx="391.6" cy="827.7" r="2.95" fill="#459db4"/>
<circle cx="397.0" cy="740.4" r="2.95" fill="#9bd7a4"/>
<circle cx="397.0" cy="746.4" r="2.95" fill="#4ea8b0"/>
<circle cx="397.0" cy="752.4" r="2.95" fill="#459db4"/>
<circle cx="397.0" cy="758.5" r="2.95" fill="#3e78b6"/>
<circle cx="397.0" cy="764.5" r="2.95" fill="#a2d9a4"/>
<circle cx="397.0" cy="770.5" r="2.95" fill="#459db4"/>
<circle cx="397.0" cy="776.5" r="2.95" fill="#56b1ac"/>
<circle cx="397.0" cy="782.5" r="2.95" fill="#469eb4"/>
<circle cx="397.0" cy="788.6" r="2.95" fill="#5fbaa8"/>
<circle cx="397.0" cy="794.6" r="2.95" fill="#8dd1a4"/>
<circle cx="397.0" cy="800.6" r="2.95" fill="#58b2ac"/>
<circle cx="397.0" cy="806.6" r="2.95" fill="#9ed8a4"/>
<circle cx="397.0" cy="812.6" r="2.95" fill="#49a1b3"/>
<circle cx="397.0" cy="818.7" r="2.95" fill="#57b1ac"/>
<circle cx="397.0" cy="824.7" r="2.95" fill="#87cfa5"/>
<circle cx="402.4" cy="737.4" r="2.95" fill="#a4daa4"/>
<circle cx="402.4" cy="743.4" r="2.95" fill="#e3f499"/>
<circle cx="402.4" cy="749.4" r="2.95" fill="#feffbe"/>
<circle cx="402.4" cy="755.5" r="2.95" fill="#4ca5b1"/>
<circle cx="402.4" cy="761.5" r="2.95" fill="#4ca5b1"/>
<circle cx="402.4" cy="767.5" r="2.95" fill="#dcf19a"/>
<circle cx="402.4" cy="773.5" r="2.95" fill="#abdda4"/>
<circle cx="402.4" cy="779.5" r="2.95" fill="#4ca5b1"/>
<circle cx="402.4" cy="785.6" r="2.95" fill="#b4e1a2"/>
<circle cx="402.4" cy="791.6" r="2.95" fill="#daf09b"/>
<circle cx="402.4" cy="797.6" r="2.95" fill="#4ca5b1"/>
<circle cx="402.4" cy="803.6" r="2.95" fill="#fafdb8"/>
<circle cx="402.4" cy="809.6" r="2.95" fill="#4ca5b1"/>
<circle cx="402.4" cy="815.7" r="2.95" fill="#feffbe"/>
<circle cx="402.4" cy="821.7" r="2.95" fill="#88cfa5"/>
<circle cx="407.7" cy="740.4" r="2.95" fill="#c6e89e"/>
<circle cx="407.7" cy="746.4" r="2.95" fill="#fbfeba"/>
<circle cx="407.7" cy="752.4" r="2.95" fill="#4ca5b1"/>
<circle cx="407.7" cy="758.5" r="2.95" fill="#4ca5b1"/>
<circle cx="407.7" cy="764.5" r="2.95" fill="#a8dca4"/>
<circle cx="407.7" cy="770.5" r="2.95" fill="#ebf7a0"/>
<circle cx="407.7" cy="776.5" r="2.95" fill="#95d4a4"/>
<circle cx="407.7" cy="782.5" r="2.95" fill="#ffffbf"/>
<circle cx="407.7" cy="788.6" r="2.95" fill="#f4fbae"/>
<circle cx="407.7" cy="794.6" r="2.95" fill="#dcf19a"/>
<circle cx="407.7" cy="800.6" r="2.95" fill="#e8f69b"/>
<circle cx="407.7" cy="806.6" r="2.95" fill="#daf09a"/>
<circle cx="407.7" cy="812.6" r="2.95" fill="#f88c51"/>
<circle cx="407.7" cy="818.7" r="2.95" fill="#b2e0a3"/>
<circle cx="407.7" cy="824.7" r="2.95" fill="#4ca5b1"/>
<circle cx="413.0" cy="737.4" r="2.95" fill="#dbf19a"/>
<circle cx="413.0" cy="743.4" r="2.95" fill="#4ca5b1"/>
<circle cx="413.0" cy="749.4" r="2.95" fill="#cfec9d"/>
<circle cx="413.0" cy="755.5" r="2.95" fill="#a0d9a4"/>
<circle cx="413.0" cy="761.5" r="2.95" fill="#f6fcb2"/>
<circle cx="413.0" cy="767.5" r="2.95" fill="#4ca5b1"/>
<circle cx="413.0" cy="773.5" r="2.95" fill="#a7dba4"/>
<circle cx="413.0" cy="779.5" r="2.95" fill="#f9fcb5"/>
<circle cx="413.0" cy="785.6" r="2.95" fill="#e7f599"/>
<circle cx="413.0" cy="791.6" r="2.95" fill="#b0dfa3"/>
<circle cx="413.0" cy="797.6" r="2.95" fill="#eef8a4"/>
<circle cx="413.0" cy="803.6" r="2.95" fill="#4ca5b1"/>
<circle cx="413.0" cy="809.6" r="2.95" fill="#4ca5b1"/>
<circle cx="413.0" cy="815.7" r="2.95" fill="#9ad6a4"/>
<circle cx="413.0" cy="821.7" r="2.95" fill="#91d3a4"/>
<circle cx="418.4" cy="740.4" r="2.95" fill="#4ca5b1"/>
<circle cx="418.4" cy="746.4" r="2.95" fill="#d8ef9b"/>
<circle cx="418.4" cy="752.4" r="2.95" fill="#f0f9a8"/>
<circle cx="418.4" cy="758.5" r="2.95" fill="#f0f9a8"/>
<circle cx="418.4" cy="764.5" r="2.95" fill="#fdfebc"/>
<circle cx="418.4" cy="770.5" r="2.95" fill="#fafdb7"/>
<circle cx="418.4" cy="776.5" r="2.95" fill="#4ca5b1"/>
<circle cx="418.4" cy="782.5" r="2.95" fill="#84cea5"/>
<circle cx="418.4" cy="788.6" r="2.95" fill="#4ca5b1"/>
<circle cx="418.4" cy="794.6" r="2.95" fill="#dff299"/>
<circle cx="418.4" cy="800.6" r="2.95" fill="#e0f399"/>
<circle cx="418.4" cy="806.6" r="2.95" fill="#4ca5b1"/>
<circle cx="418.4" cy="812.6" r="2.95" fill="#f99455"/>
<circle cx="418.4" cy="818.7" r="2.95" fill="#9ad6a4"/>
<circle cx="418.4" cy="824.7" r="2.95" fill="#4ca5b1"/>
<circle cx="423.8" cy="743.4" r="2.95" fill="#e7f69a"/>
<circle cx="423.8" cy="749.4" r="2.95" fill="#4ca5b1"/>
<circle cx="423.8" cy="755.5" r="2.95" fill="#87cfa5"/>
<circle cx="423.8" cy="761.5" r="2.95" fill="#fed784"/>
<circle cx="423.8" cy="767.5" r="2.95" fill="#a2d9a4"/>
<circle cx="423.8" cy="773.5" r="2.95" fill="#4ca5b1"/>
<circle cx="423.8" cy="779.5" r="2.95" fill="#afdea3"/>
<circle cx="423.8" cy="785.6" r="2.95" fill="#cbea9e"/>
<circle cx="423.8" cy="791.6" r="2.95" fill="#4ca5b1"/>
<circle cx="423.8" cy="797.6" r="2.95" fill="#4ca5b1"/>
<circle cx="423.8" cy="803.6" r="2.95" fill="#c3e79f"/>
<circle cx="423.8" cy="809.6" r="2.95" fill="#e1f399"/>
<circle cx="423.8" cy="815.7" r="2.95" fill="#7bcaa5"/>
<circle cx="423.8" cy="821.7" r="2.95" fill="#9ad6a4"/>
<circle cx="429.1" cy="740.4" r="2.95" fill="#a6dba4"/>
<circle cx="429.1" cy="746.4" r="2.95" fill="#4ca5b1"/>
<circle cx="429.1" cy="752.4" r="2.95" fill="#d8ef9b"/>
<circle cx="429.1" cy="758.5" r="2.95" fill="#4ca5b1"/>
<circle cx="429.1" cy="764.5" r="2.95" fill="#d53e4f"/>
<circle cx="429.1" cy="770.5" r="2.95" fill="#d23a4e"/>
<circle cx="429.1" cy="776.5" r="2.95" fill="#fee28f"/>
<circle cx="429.1" cy="782.5" r="2.95" fill="#f7fcb3"/>
<circle cx="429.1" cy="788.6" r="2.95" fill="#78c9a5"/>
<circle cx="429.1" cy="794.6" r="2.95" fill="#4ca5b1"/>
<circle cx="429.1" cy="800.6" r="2.95" fill="#addea4"/>
<circle cx="429.1" cy="806.6" r="2.95" fill="#8cd1a4"/>
<circle cx="429.1" cy="812.6" r="2.95" fill="#f4fbae"/>
<circle cx="429.1" cy="818.7" r="2.95" fill="#acdea4"/>
<circle cx="429.1" cy="824.7" r="2.95" fill="#4ca5b1"/>
<circle cx="434.4" cy="743.4" r="2.95" fill="#4ca5b1"/>
<circle cx="434.4" cy="749.4" r="2.95" fill="#a4daa4"/>
<circle cx="434.4" cy="755.5" r="2.95" fill="#4ca5b1"/>
<circle cx="434.4" cy="761.5" r="2.95" fill="#e5f598"/>
<circle cx="434.4" cy="767.5" r="2.95" fill="#4ca5b1"/>
<circle cx="434.4" cy="773.5" r="2.95" fill="#4ca5b1"/>
<circle cx="434.4" cy="779.5" r="2.95" fill="#feffbe"/>
<circle cx="434.4" cy="785.6" r="2.95" fill="#e6f598"/>
<circle cx="434.4" cy="791.6" r="2.95" fill="#edf8a2"/>
<circle cx="434.4" cy="797.6" r="2.95" fill="#f8fcb4"/>
<circle cx="434.4" cy="803.6" r="2.95" fill="#f1f9a9"/>
<circle cx="434.4" cy="809.6" r="2.95" fill="#fdfebc"/>
<circle cx="434.4" cy="815.7" r="2.95" fill="#eaf79f"/>
<circle cx="434.4" cy="821.7" r="2.95" fill="#f3faac"/>
</g>
<text x="3.9" y="864.3" font-size="12" font-weight="bold" fill="#111">TREM1 Myeloid</text>
<text x="3.9" y="878.0" font-size="12" font-weight="bold" fill="#111">signature score</text>
<rect x="101.5" y="852.8" width="95.0" height="18.2" fill="url(#g5)"/>
<line x1="117.9" y1="852.8" x2="117.9" y2="856.3" stroke="#fff" stroke-width="0.7"/>
<line x1="117.9" y1="867.5" x2="117.9" y2="871.0" stroke="#fff" stroke-width="0.7"/>
<line x1="137.8" y1="852.8" x2="137.8" y2="856.3" stroke="#fff" stroke-width="0.7"/>
<line x1="137.8" y1="867.5" x2="137.8" y2="871.0" stroke="#fff" stroke-width="0.7"/>
<line x1="157.4" y1="852.8" x2="157.4" y2="856.3" stroke="#fff" stroke-width="0.7"/>
<line x1="157.4" y1="867.5" x2="157.4" y2="871.0" stroke="#fff" stroke-width="0.7"/>
<line x1="177.3" y1="852.8" x2="177.3" y2="856.3" stroke="#fff" stroke-width="0.7"/>
<line x1="177.3" y1="867.5" x2="177.3" y2="871.0" stroke="#fff" stroke-width="0.7"/>
<line x1="196.5" y1="852.8" x2="196.5" y2="856.3" stroke="#fff" stroke-width="0.7"/>
<line x1="196.5" y1="867.5" x2="196.5" y2="871.0" stroke="#fff" stroke-width="0.7"/>
<text x="117.9" y="883.9" font-size="8.2" text-anchor="middle" fill="#111">0.0</text>
<text x="137.8" y="883.9" font-size="8.2" text-anchor="middle" fill="#111">0.2</text>
<text x="157.4" y="883.9" font-size="8.2" text-anchor="middle" fill="#111">0.4</text>
<text x="177.3" y="883.9" font-size="8.2" text-anchor="middle" fill="#111">0.6</text>
<text x="196.5" y="883.9" font-size="8.2" text-anchor="middle" fill="#111">0.8</text>
<text x="231.8" y="865.6" font-size="12" font-weight="bold" fill="#111">TREM2 Myeloid</text>
<text x="231.8" y="879.7" font-size="12" font-weight="bold" fill="#111">signature score</text>
<rect x="331.6" y="852.5" width="95.4" height="18.8" fill="url(#g6)"/>
<line x1="339.3" y1="852.5" x2="339.3" y2="856.0" stroke="#fff" stroke-width="0.7"/>
<line x1="339.3" y1="867.8" x2="339.3" y2="871.3" stroke="#fff" stroke-width="0.7"/>
<line x1="380.6" y1="852.5" x2="380.6" y2="856.0" stroke="#fff" stroke-width="0.7"/>
<line x1="380.6" y1="867.8" x2="380.6" y2="871.3" stroke="#fff" stroke-width="0.7"/>
<line x1="422.2" y1="852.5" x2="422.2" y2="856.0" stroke="#fff" stroke-width="0.7"/>
<line x1="422.2" y1="867.8" x2="422.2" y2="871.3" stroke="#fff" stroke-width="0.7"/>
<text x="339.3" y="884.3" font-size="8.2" text-anchor="middle" fill="#111">−0.25</text>
<text x="380.6" y="884.3" font-size="8.2" text-anchor="middle" fill="#111">0.25</text>
<text x="422.2" y="884.3" font-size="8.2" text-anchor="middle" fill="#111">0.75</text>
<text x="442.5" y="348.8" font-size="14" font-weight="bold" fill="#111">e</text>
<line x1="529.2" y1="341.3" x2="529.2" y2="457.0" stroke="#111" stroke-width="1.4"/>
<line x1="528.5" y1="456.3" x2="642.7" y2="456.3" stroke="#111" stroke-width="1.4"/>
<line x1="524.0" y1="456.3" x2="529.2" y2="456.3" stroke="#111" stroke-width="1.1"/>
<text x="521.8" y="460.0" font-size="10.3" font-weight="bold" text-anchor="end" fill="#111">0</text>
<line x1="524.0" y1="433.4" x2="529.2" y2="433.4" stroke="#111" stroke-width="1.1"/>
<text x="521.8" y="437.1" font-size="10.3" font-weight="bold" text-anchor="end" fill="#111">20</text>
<line x1="524.0" y1="410.5" x2="529.2" y2="410.5" stroke="#111" stroke-width="1.1"/>
<text x="521.8" y="414.2" font-size="10.3" font-weight="bold" text-anchor="end" fill="#111">40</text>
<line x1="524.0" y1="387.7" x2="529.2" y2="387.7" stroke="#111" stroke-width="1.1"/>
<text x="521.8" y="391.3" font-size="10.3" font-weight="bold" text-anchor="end" fill="#111">60</text>
<line x1="524.0" y1="364.8" x2="529.2" y2="364.8" stroke="#111" stroke-width="1.1"/>
<text x="521.8" y="368.5" font-size="10.3" font-weight="bold" text-anchor="end" fill="#111">80</text>
<line x1="524.0" y1="341.9" x2="529.2" y2="341.9" stroke="#111" stroke-width="1.1"/>
<text x="521.8" y="345.6" font-size="10.3" font-weight="bold" text-anchor="end" fill="#111">100</text>
<rect x="541.1" y="391.8" width="22.8" height="64.5" fill="#76d04d"/>
<ellipse cx="552.5" cy="366.5" rx="2.3" ry="1.8" fill="#3faa55"/>
<ellipse cx="552.5" cy="416.7" rx="2.3" ry="1.8" fill="#3faa55"/>
<rect x="574.9" y="453.4" width="22.8" height="2.9" fill="#f0a038"/>
<ellipse cx="581.0" cy="454.5" rx="2.3" ry="1.8" fill="#a0622c"/>
<ellipse cx="591.5" cy="452.5" rx="2.3" ry="1.8" fill="#a0622c"/>
<rect x="609.0" y="452.1" width="22.9" height="4.2" fill="#2f62a6"/>
<ellipse cx="620.3" cy="449.2" rx="2.3" ry="1.8" fill="#1d2c95"/>
<ellipse cx="620.3" cy="455.4" rx="2.3" ry="1.8" fill="#1d2c95"/>
<text x="553.0" y="470.4" font-size="8.9" font-weight="bold" text-anchor="middle" fill="#111">BIT</text>
<text x="587.2" y="470.4" font-size="8.9" font-weight="bold" text-anchor="middle" fill="#111">BST</text>
<text x="621.9" y="470.4" font-size="8.9" font-weight="bold" text-anchor="middle" fill="#111">Stroma 1</text>
<text x="0.0" y="0.0" font-size="9.3" font-weight="bold" text-anchor="middle" fill="#111" transform="translate(487.3,401.2) rotate(-90)">percentage with high</text>
<text x="0.0" y="0.0" font-size="9.8" font-weight="bold" text-anchor="middle" fill="#111" transform="translate(497.4,400.1) rotate(-90)">TREM1 Myeloid Signature</text>
<text x="442.3" y="485.6" font-size="14" font-weight="bold" fill="#111">f</text>
<line x1="529.2" y1="483.7" x2="529.2" y2="598.6" stroke="#111" stroke-width="1.4"/>
<line x1="528.5" y1="597.9" x2="642.7" y2="597.9" stroke="#111" stroke-width="1.4"/>
<line x1="524.0" y1="597.9" x2="529.2" y2="597.9" stroke="#111" stroke-width="1.1"/>
<text x="521.8" y="601.6" font-size="10.3" font-weight="bold" text-anchor="end" fill="#111">0</text>
<line x1="524.0" y1="569.5" x2="529.2" y2="569.5" stroke="#111" stroke-width="1.1"/>
<text x="521.8" y="573.2" font-size="10.3" font-weight="bold" text-anchor="end" fill="#111">10</text>
<line x1="524.0" y1="541.1" x2="529.2" y2="541.1" stroke="#111" stroke-width="1.1"/>
<text x="521.8" y="544.8" font-size="10.3" font-weight="bold" text-anchor="end" fill="#111">20</text>
<line x1="524.0" y1="512.7" x2="529.2" y2="512.7" stroke="#111" stroke-width="1.1"/>
<text x="521.8" y="516.4" font-size="10.3" font-weight="bold" text-anchor="end" fill="#111">30</text>
<line x1="524.0" y1="484.3" x2="529.2" y2="484.3" stroke="#111" stroke-width="1.1"/>
<text x="521.8" y="488.0" font-size="10.3" font-weight="bold" text-anchor="end" fill="#111">40</text>
<rect x="541.1" y="583.7" width="22.8" height="14.2" fill="#76d04d"/>
<ellipse cx="552.5" cy="580.0" rx="2.3" ry="1.8" fill="#3faa55"/>
<ellipse cx="552.5" cy="587.4" rx="2.3" ry="1.8" fill="#3faa55"/>
<rect x="574.9" y="583.7" width="22.8" height="14.2" fill="#f0a038"/>
<ellipse cx="586.3" cy="569.5" rx="2.3" ry="1.8" fill="#a0622c"/>
<ellipse cx="586.3" cy="597.9" rx="2.3" ry="1.8" fill="#a0622c"/>
<rect x="609.0" y="507.9" width="22.9" height="90.0" fill="#2f62a6"/>
<ellipse cx="620.3" cy="502.8" rx="2.3" ry="1.8" fill="#1d2c95"/>
<ellipse cx="620.3" cy="512.7" rx="2.3" ry="1.8" fill="#1d2c95"/>
<text x="553.0" y="612.0" font-size="8.9" font-weight="bold" text-anchor="middle" fill="#111">BIT</text>
<text x="587.2" y="612.0" font-size="8.9" font-weight="bold" text-anchor="middle" fill="#111">BST</text>
<text x="621.9" y="612.0" font-size="8.9" font-weight="bold" text-anchor="middle" fill="#111">Stroma 1</text>
<text x="0.0" y="0.0" font-size="9.3" font-weight="bold" text-anchor="middle" fill="#111" transform="translate(487.3,542.2) rotate(-90)">percentage with high</text>
<text x="0.0" y="0.0" font-size="9.8" font-weight="bold" text-anchor="middle" fill="#111" transform="translate(497.4,541.1) rotate(-90)">TREM2 Myeloid Signature</text>
<text x="442.5" y="629.8" font-size="14" font-weight="bold" fill="#111">g</text>
<text x="563.5" y="645.9" font-size="11.6" font-weight="bold" text-anchor="middle" fill="#111">TREM1 Myeloid signature score</text>
<line x1="460.6" y1="641.5" x2="460.6" y2="807.5" stroke="#333" stroke-width="0.9"/>
<line x1="460.2" y1="807.2" x2="683.8" y2="807.2" stroke="#333" stroke-width="0.9"/>
<line x1="458.2" y1="767.4" x2="460.6" y2="767.4" stroke="#333" stroke-width="0.9"/>
<text x="456.2" y="769.9" font-size="6.9" text-anchor="end" fill="#333">0</text>
<line x1="458.2" y1="727.0" x2="460.6" y2="727.0" stroke="#333" stroke-width="0.9"/>
<text x="456.2" y="729.5" font-size="6.9" text-anchor="end" fill="#333">1</text>
<line x1="458.2" y1="686.7" x2="460.6" y2="686.7" stroke="#333" stroke-width="0.9"/>
<text x="456.2" y="689.2" font-size="6.9" text-anchor="end" fill="#333">2</text>
<line x1="458.2" y1="646.3" x2="460.6" y2="646.3" stroke="#333" stroke-width="0.9"/>
<text x="456.2" y="648.8" font-size="6.9" text-anchor="end" fill="#333">3</text>
<path d="M470.50,664.80 C470.87,667.33 471.95,674.13 472.70,680.00 C473.45,685.87 474.37,693.33 475.00,700.00 C475.63,706.67 476.12,712.50 476.50,720.00 C476.88,727.50 477.13,736.67 477.30,745.00 C477.47,753.33 477.40,763.83 477.50,770.00 C477.60,776.17 477.98,778.67 477.90,782.00 C477.82,785.33 477.48,788.08 477.00,790.00 C476.52,791.92 476.08,792.92 475.00,793.50 C473.92,794.08 471.25,793.50 470.50,793.50 L470.50,793.50 C469.75,793.50 467.08,794.08 466.00,793.50 C464.92,792.92 464.48,791.92 464.00,790.00 C463.52,788.08 463.18,785.33 463.10,782.00 C463.02,778.67 463.40,776.17 463.50,770.00 C463.60,763.83 463.53,753.33 463.70,745.00 C463.87,736.67 464.12,727.50 464.50,720.00 C464.88,712.50 465.37,706.67 466.00,700.00 C466.63,693.33 467.55,685.87 468.30,680.00 C469.05,674.13 470.13,667.33 470.50,664.80 Z" fill="#e8676b" stroke="#333" stroke-width="0.5" stroke-linejoin="round"/>
<line x1="470.5" y1="807.2" x2="470.5" y2="810.0" stroke="#333" stroke-width="0.9"/>
<path d="M487.42,649.70 C487.84,652.25 489.00,659.95 489.92,665.00 C490.84,670.05 492.10,675.00 492.92,680.00 C493.74,685.00 494.50,688.33 494.82,695.00 C495.14,701.67 494.89,712.83 494.82,720.00 C494.75,727.17 494.99,732.67 494.42,738.00 C493.85,743.33 492.22,746.67 491.42,752.00 C490.62,757.33 490.09,764.50 489.62,770.00 C489.15,775.50 488.99,781.00 488.62,785.00 C488.25,789.00 487.62,792.50 487.42,794.00 L487.42,794.00 C487.22,792.50 486.59,789.00 486.22,785.00 C485.85,781.00 485.69,775.50 485.22,770.00 C484.75,764.50 484.22,757.33 483.42,752.00 C482.62,746.67 480.99,743.33 480.42,738.00 C479.85,732.67 480.09,727.17 480.02,720.00 C479.95,712.83 479.70,701.67 480.02,695.00 C480.34,688.33 481.10,685.00 481.92,680.00 C482.74,675.00 484.00,670.05 484.92,665.00 C485.84,659.95 487.00,652.25 487.42,649.70 Z" fill="#d98a2e" stroke="#333" stroke-width="0.5" stroke-linejoin="round"/>
<line x1="487.4" y1="807.2" x2="487.4" y2="810.0" stroke="#333" stroke-width="0.9"/>
<path d="M504.34,671.00 C504.47,675.83 504.81,692.67 505.14,700.00 C505.47,707.33 505.81,709.17 506.34,715.00 C506.87,720.83 507.54,727.83 508.34,735.00 C509.14,742.17 510.61,752.17 511.14,758.00 C511.67,763.83 512.01,766.00 511.54,770.00 C511.07,774.00 509.29,778.67 508.34,782.00 C507.39,785.33 506.51,787.83 505.84,790.00 C505.17,792.17 504.59,794.17 504.34,795.00 L504.34,795.00 C504.09,794.17 503.51,792.17 502.84,790.00 C502.17,787.83 501.29,785.33 500.34,782.00 C499.39,778.67 497.61,774.00 497.14,770.00 C496.67,766.00 497.01,763.83 497.54,758.00 C498.07,752.17 499.54,742.17 500.34,735.00 C501.14,727.83 501.81,720.83 502.34,715.00 C502.87,709.17 503.21,707.33 503.54,700.00 C503.87,692.67 504.21,675.83 504.34,671.00 Z" fill="#b79d34" stroke="#333" stroke-width="0.5" stroke-linejoin="round"/>
<line x1="504.3" y1="807.2" x2="504.3" y2="810.0" stroke="#333" stroke-width="0.9"/>
<path d="M521.26,664.80 C521.39,674.00 521.76,708.30 522.06,720.00 C522.36,731.70 522.44,729.17 523.06,735.00 C523.68,740.83 524.86,748.33 525.76,755.00 C526.66,761.67 528.38,770.00 528.46,775.00 C528.54,780.00 527.13,782.17 526.26,785.00 C525.39,787.83 524.09,790.17 523.26,792.00 C522.43,793.83 521.59,795.33 521.26,796.00 L521.26,796.00 C520.93,795.33 520.09,793.83 519.26,792.00 C518.43,790.17 517.13,787.83 516.26,785.00 C515.39,782.17 513.98,780.00 514.06,775.00 C514.14,770.00 515.86,761.67 516.76,755.00 C517.66,748.33 518.84,740.83 519.46,735.00 C520.08,729.17 520.16,731.70 520.46,720.00 C520.76,708.30 521.13,674.00 521.26,664.80 Z" fill="#98b03a" stroke="#333" stroke-width="0.5" stroke-linejoin="round"/>
<line x1="521.3" y1="807.2" x2="521.3" y2="810.0" stroke="#333" stroke-width="0.9"/>
<path d="M538.18,667.00 C538.38,672.50 538.80,691.17 539.38,700.00 C539.96,708.83 540.88,713.33 541.68,720.00 C542.48,726.67 543.53,733.00 544.18,740.00 C544.83,747.00 545.75,756.17 545.58,762.00 C545.41,767.83 544.08,771.00 543.18,775.00 C542.28,779.00 541.01,783.17 540.18,786.00 C539.35,788.83 538.51,791.00 538.18,792.00 L538.18,792.00 C537.85,791.00 537.01,788.83 536.18,786.00 C535.35,783.17 534.08,779.00 533.18,775.00 C532.28,771.00 530.95,767.83 530.78,762.00 C530.61,756.17 531.53,747.00 532.18,740.00 C532.83,733.00 533.88,726.67 534.68,720.00 C535.48,713.33 536.40,708.83 536.98,700.00 C537.56,691.17 537.98,672.50 538.18,667.00 Z" fill="#4cbf4b" stroke="#333" stroke-width="0.5" stroke-linejoin="round"/>
<line x1="538.2" y1="807.2" x2="538.2" y2="810.0" stroke="#333" stroke-width="0.9"/>
<path d="M555.10,675.00 C555.20,682.17 555.28,707.17 555.70,718.00 C556.12,728.83 556.78,733.00 557.60,740.00 C558.42,747.00 559.78,753.67 560.60,760.00 C561.42,766.33 562.67,773.00 562.50,778.00 C562.33,783.00 560.83,786.33 559.60,790.00 C558.37,793.67 555.85,798.33 555.10,800.00 L555.10,800.00 C554.35,798.33 551.83,793.67 550.60,790.00 C549.37,786.33 547.87,783.00 547.70,778.00 C547.53,773.00 548.78,766.33 549.60,760.00 C550.42,753.67 551.78,747.00 552.60,740.00 C553.42,733.00 554.08,728.83 554.50,718.00 C554.92,707.17 555.00,682.17 555.10,675.00 Z" fill="#4fc66f" stroke="#333" stroke-width="0.5" stroke-linejoin="round"/>
<line x1="555.1" y1="807.2" x2="555.1" y2="810.0" stroke="#333" stroke-width="0.9"/>
<path d="M572.02,664.80 C572.39,668.17 573.47,678.30 574.22,685.00 C574.97,691.70 575.80,698.33 576.52,705.00 C577.24,711.67 578.04,718.83 578.52,725.00 C579.00,731.17 579.59,736.17 579.42,742.00 C579.25,747.83 578.34,753.67 577.52,760.00 C576.70,766.33 575.44,774.17 574.52,780.00 C573.60,785.83 572.44,792.50 572.02,795.00 L572.02,795.00 C571.60,792.50 570.44,785.83 569.52,780.00 C568.60,774.17 567.34,766.33 566.52,760.00 C565.70,753.67 564.79,747.83 564.62,742.00 C564.45,736.17 565.04,731.17 565.52,725.00 C566.00,718.83 566.80,711.67 567.52,705.00 C568.24,698.33 569.07,691.70 569.82,685.00 C570.57,678.30 571.65,668.17 572.02,664.80 Z" fill="#4ecba6" stroke="#333" stroke-width="0.5" stroke-linejoin="round"/>
<line x1="572.0" y1="807.2" x2="572.0" y2="810.0" stroke="#333" stroke-width="0.9"/>
<path d="M588.94,678.80 C589.52,680.67 591.31,685.47 592.44,690.00 C593.57,694.53 595.09,698.50 595.74,706.00 C596.39,713.50 596.64,726.00 596.34,735.00 C596.04,744.00 594.84,752.50 593.94,760.00 C593.04,767.50 591.77,773.67 590.94,780.00 C590.11,786.33 589.27,795.00 588.94,798.00 L588.94,798.00 C588.61,795.00 587.77,786.33 586.94,780.00 C586.11,773.67 584.84,767.50 583.94,760.00 C583.04,752.50 581.84,744.00 581.54,735.00 C581.24,726.00 581.49,713.50 582.14,706.00 C582.79,698.50 584.31,694.53 585.44,690.00 C586.57,685.47 588.36,680.67 588.94,678.80 Z" fill="#56ced9" stroke="#333" stroke-width="0.5" stroke-linejoin="round"/>
<line x1="588.9" y1="807.2" x2="588.9" y2="810.0" stroke="#333" stroke-width="0.9"/>
<path d="M605.86,658.40 C605.99,663.67 606.16,681.40 606.66,690.00 C607.16,698.60 607.86,701.67 608.86,710.00 C609.86,718.33 612.16,730.00 612.66,740.00 C613.16,750.00 612.19,763.33 611.86,770.00 C611.53,776.67 610.46,777.17 610.66,780.00 C610.86,782.83 612.78,784.83 613.06,787.00 C613.34,789.17 612.89,791.17 612.36,793.00 C611.83,794.83 610.94,797.17 609.86,798.00 C608.78,798.83 606.53,798.00 605.86,798.00 L605.86,798.00 C605.19,798.00 602.94,798.83 601.86,798.00 C600.78,797.17 599.89,794.83 599.36,793.00 C598.83,791.17 598.38,789.17 598.66,787.00 C598.94,784.83 600.86,782.83 601.06,780.00 C601.26,777.17 600.19,776.67 599.86,770.00 C599.53,763.33 598.56,750.00 599.06,740.00 C599.56,730.00 601.86,718.33 602.86,710.00 C603.86,701.67 604.56,698.60 605.06,690.00 C605.56,681.40 605.73,663.67 605.86,658.40 Z" fill="#4fa7dd" stroke="#333" stroke-width="0.5" stroke-linejoin="round"/>
<line x1="605.9" y1="807.2" x2="605.9" y2="810.0" stroke="#333" stroke-width="0.9"/>
<path d="M622.78,675.90 C623.08,679.92 623.98,692.32 624.58,700.00 C625.18,707.68 625.71,715.00 626.38,722.00 C627.05,729.00 628.10,735.67 628.58,742.00 C629.06,748.33 629.01,754.33 629.28,760.00 C629.55,765.67 630.35,771.50 630.18,776.00 C630.01,780.50 629.51,784.33 628.28,787.00 C627.05,789.67 623.70,791.17 622.78,792.00 L622.78,792.00 C621.86,791.17 618.51,789.67 617.28,787.00 C616.05,784.33 615.55,780.50 615.38,776.00 C615.21,771.50 616.01,765.67 616.28,760.00 C616.55,754.33 616.50,748.33 616.98,742.00 C617.46,735.67 618.51,729.00 619.18,722.00 C619.85,715.00 620.38,707.68 620.98,700.00 C621.58,692.32 622.48,679.92 622.78,675.90 Z" fill="#8a8dcd" stroke="#333" stroke-width="0.5" stroke-linejoin="round"/>
<line x1="622.8" y1="807.2" x2="622.8" y2="810.0" stroke="#333" stroke-width="0.9"/>
<path d="M639.70,674.90 C639.87,682.42 640.20,708.32 640.70,720.00 C641.20,731.68 641.87,737.50 642.70,745.00 C643.53,752.50 644.97,759.83 645.70,765.00 C646.43,770.17 647.18,772.50 647.10,776.00 C647.02,779.50 646.43,783.33 645.20,786.00 C643.97,788.67 640.62,791.00 639.70,792.00 L639.70,792.00 C638.78,791.00 635.43,788.67 634.20,786.00 C632.97,783.33 632.38,779.50 632.30,776.00 C632.22,772.50 632.97,770.17 633.70,765.00 C634.43,759.83 635.87,752.50 636.70,745.00 C637.53,737.50 638.20,731.68 638.70,720.00 C639.20,708.32 639.53,682.42 639.70,674.90 Z" fill="#aa7fc1" stroke="#333" stroke-width="0.5" stroke-linejoin="round"/>
<line x1="639.7" y1="807.2" x2="639.7" y2="810.0" stroke="#333" stroke-width="0.9"/>
<path d="M656.62,701.60 C656.82,705.50 657.24,716.93 657.82,725.00 C658.40,733.07 659.32,742.50 660.12,750.00 C660.92,757.50 661.97,764.17 662.62,770.00 C663.27,775.83 664.27,781.33 664.02,785.00 C663.77,788.67 662.35,790.17 661.12,792.00 C659.89,793.83 657.37,795.33 656.62,796.00 L656.62,796.00 C655.87,795.33 653.35,793.83 652.12,792.00 C650.89,790.17 649.47,788.67 649.22,785.00 C648.97,781.33 649.97,775.83 650.62,770.00 C651.27,764.17 652.32,757.50 653.12,750.00 C653.92,742.50 654.84,733.07 655.42,725.00 C656.00,716.93 656.42,705.50 656.62,701.60 Z" fill="#c96dbd" stroke="#333" stroke-width="0.5" stroke-linejoin="round"/>
<line x1="656.6" y1="807.2" x2="656.6" y2="810.0" stroke="#333" stroke-width="0.9"/>
<path d="M673.54,687.50 C673.79,691.25 674.46,702.08 675.04,710.00 C675.62,717.92 676.29,726.67 677.04,735.00 C677.79,743.33 678.89,752.00 679.54,760.00 C680.19,768.00 681.02,778.00 680.94,783.00 C680.86,788.00 680.27,787.73 679.04,790.00 C677.81,792.27 674.46,795.50 673.54,796.60 L673.54,796.60 C672.62,795.50 669.27,792.27 668.04,790.00 C666.81,787.73 666.22,788.00 666.14,783.00 C666.06,778.00 666.89,768.00 667.54,760.00 C668.19,752.00 669.29,743.33 670.04,735.00 C670.79,726.67 671.46,717.92 672.04,710.00 C672.62,702.08 673.29,691.25 673.54,687.50 Z" fill="#e760af" stroke="#333" stroke-width="0.5" stroke-linejoin="round"/>
<line x1="673.5" y1="807.2" x2="673.5" y2="810.0" stroke="#333" stroke-width="0.9"/>
<text font-size="7.5" font-weight="bold" text-anchor="end" fill="#111" transform="translate(475.3,814.8) rotate(-45)" x="0" y="0">BIT Low BCC</text>
<text font-size="7.5" font-weight="bold" text-anchor="end" fill="#111" transform="translate(491.6,814.8) rotate(-45)" x="0" y="0">BIT High BCC</text>
<text font-size="7.5" font-weight="bold" text-anchor="end" fill="#111" transform="translate(508.5,813.9) rotate(-45)" x="0" y="0">Healthy skin</text>
<text font-size="7.5" font-weight="bold" text-anchor="end" fill="#111" transform="translate(523.1,815.5) rotate(-45)" x="0" y="0">Eczema</text>
<text font-size="7.5" font-weight="bold" text-anchor="end" fill="#111" transform="translate(541.2,814.0) rotate(-45)" x="0" y="0">Psoriasis</text>
<text font-size="7.5" font-weight="bold" text-anchor="end" fill="#111" transform="translate(556.3,815.0) rotate(-45)" x="0" y="0">Alopecia</text>
<text font-size="7.5" font-weight="bold" text-anchor="end" fill="#111" transform="translate(559.7,824.0) rotate(-45)" x="0" y="0">Areata</text>
<text font-size="7.5" font-weight="bold" text-anchor="end" fill="#111" transform="translate(581.1,814.4) rotate(-45)" x="0" y="0">Colorectal Cancer</text>
<text font-size="7.5" font-weight="bold" text-anchor="end" fill="#111" transform="translate(596.6,813.9) rotate(-45)" x="0" y="0">Ovarian Cancer</text>
<text font-size="7.5" font-weight="bold" text-anchor="end" fill="#111" transform="translate(613.4,814.2) rotate(-45)" x="0" y="0">Thyroid Cancer</text>
<text font-size="7.5" font-weight="bold" text-anchor="end" fill="#111" transform="translate(630.2,814.6) rotate(-45)" x="0" y="0">Esophageal Cancer</text>
<text font-size="7.5" font-weight="bold" text-anchor="end" fill="#111" transform="translate(647.9,814.6) rotate(-45)" x="0" y="0">Pancreatic Cancer</text>
<text font-size="7.5" font-weight="bold" text-anchor="end" fill="#111" transform="translate(664.9,814.6) rotate(-45)" x="0" y="0">Kidney Cancer</text>
<text font-size="7.5" font-weight="bold" text-anchor="end" fill="#111" transform="translate(682.9,814.0) rotate(-45)" x="0" y="0">Endometrial Cancer</text>
<line x1="470.4" y1="867.7" x2="487.2" y2="867.7" stroke="#222" stroke-width="0.7"/>
<line x1="470.4" y1="866.2" x2="470.4" y2="869.2" stroke="#222" stroke-width="0.7"/>
<line x1="487.2" y1="866.2" x2="487.2" y2="869.2" stroke="#222" stroke-width="0.7"/>
<line x1="503.7" y1="867.7" x2="535.8" y2="867.7" stroke="#222" stroke-width="0.7"/>
<line x1="503.7" y1="866.2" x2="503.7" y2="869.2" stroke="#222" stroke-width="0.7"/>
<line x1="535.8" y1="866.2" x2="535.8" y2="869.2" stroke="#222" stroke-width="0.7"/>
<line x1="589.5" y1="867.7" x2="672.5" y2="867.7" stroke="#222" stroke-width="0.7"/>
<line x1="589.5" y1="866.2" x2="589.5" y2="869.2" stroke="#222" stroke-width="0.7"/>
<line x1="672.5" y1="866.2" x2="672.5" y2="869.2" stroke="#222" stroke-width="0.7"/>
<text x="478.8" y="877.2" font-size="6.8" text-anchor="middle" fill="#111">this paper</text>
<text font-size="6.8" text-anchor="middle" fill="#111"><tspan x="520.5" y="877.2">Reynolds</tspan><tspan x="520.5" y="885.2" font-style="italic">et al.,</tspan><tspan x="520.5" y="893.2">2021</tspan></text>
<text font-size="6.8" text-anchor="middle" fill="#111"><tspan x="549.3" y="877.2">Ober-</tspan><tspan x="549.3" y="885.2">Reynolds</tspan><tspan x="549.3" y="893.2" font-style="italic">et al.,</tspan><tspan x="549.3" y="901.2">2023</tspan></text>
<text font-size="6.8" text-anchor="middle" fill="#111"><tspan x="572.6" y="877.2">Lee</tspan><tspan x="572.6" y="885.2" font-style="italic">et al.,</tspan><tspan x="572.6" y="893.2">2020</tspan></text>
<text font-size="6.8" text-anchor="middle" fill="#111" x="630" y="877.2">Cheng <tspan font-style="italic">et al.</tspan>, 2021</text>
<line x1="552.7" y1="855.0" x2="552.7" y2="866.0" stroke="#111" stroke-width="0.8"/>
<polygon points="550.9,865 554.5,865 552.7,869" fill="#111"/>
<line x1="571.6" y1="855.0" x2="571.6" y2="866.0" stroke="#111" stroke-width="0.8"/>
<polygon points="569.8,865 573.4,865 571.6,869" fill="#111"/>
</svg></body></html>
